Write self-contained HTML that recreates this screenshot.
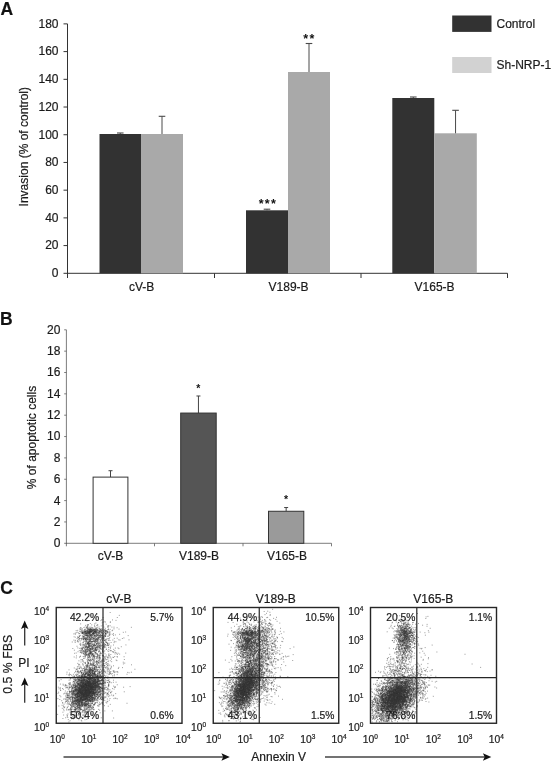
<!DOCTYPE html>
<html><head><meta charset="utf-8"><title>Figure</title>
<style>
html,body{margin:0;padding:0;background:#fff;}
body{width:552px;height:764px;overflow:hidden;font-family:"Liberation Sans",sans-serif;}
svg{display:block}
svg text{stroke:#1a1a1a;stroke-width:0.2px;paint-order:stroke}
</style></head><body>
<svg width="552" height="764" viewBox="0 0 552 764" font-family="Liberation Sans, sans-serif">
<defs><filter id="bl" x="-2%" y="-2%" width="104%" height="104%"><feGaussianBlur stdDeviation="0.3"/></filter></defs>
<rect width="552" height="764" fill="#ffffff"/>
<text x="0.5" y="14.9" font-size="17.5" text-anchor="start" font-weight="bold" fill="#111" >A</text>
<line x1="67.5" y1="23.89" x2="67.5" y2="273.8" stroke="#333" stroke-width="1"/>
<line x1="63.5" y1="273.3" x2="67.5" y2="273.3" stroke="#333" stroke-width="1"/>
<text x="58.5" y="277.1" font-size="12" text-anchor="end" font-weight="normal" fill="#1a1a1a" >0</text>
<line x1="63.5" y1="245.59" x2="67.5" y2="245.59" stroke="#333" stroke-width="1"/>
<text x="58.5" y="249.39000000000001" font-size="12" text-anchor="end" font-weight="normal" fill="#1a1a1a" >20</text>
<line x1="63.5" y1="217.88" x2="67.5" y2="217.88" stroke="#333" stroke-width="1"/>
<text x="58.5" y="221.68" font-size="12" text-anchor="end" font-weight="normal" fill="#1a1a1a" >40</text>
<line x1="63.5" y1="190.16" x2="67.5" y2="190.16" stroke="#333" stroke-width="1"/>
<text x="58.5" y="193.96" font-size="12" text-anchor="end" font-weight="normal" fill="#1a1a1a" >60</text>
<line x1="63.5" y1="162.45" x2="67.5" y2="162.45" stroke="#333" stroke-width="1"/>
<text x="58.5" y="166.25" font-size="12" text-anchor="end" font-weight="normal" fill="#1a1a1a" >80</text>
<line x1="63.5" y1="134.74" x2="67.5" y2="134.74" stroke="#333" stroke-width="1"/>
<text x="58.5" y="138.54000000000002" font-size="12" text-anchor="end" font-weight="normal" fill="#1a1a1a" >100</text>
<line x1="63.5" y1="107.03" x2="67.5" y2="107.03" stroke="#333" stroke-width="1"/>
<text x="58.5" y="110.83" font-size="12" text-anchor="end" font-weight="normal" fill="#1a1a1a" >120</text>
<line x1="63.5" y1="79.32" x2="67.5" y2="79.32" stroke="#333" stroke-width="1"/>
<text x="58.5" y="83.11999999999999" font-size="12" text-anchor="end" font-weight="normal" fill="#1a1a1a" >140</text>
<line x1="63.5" y1="51.6" x2="67.5" y2="51.6" stroke="#333" stroke-width="1"/>
<text x="58.5" y="55.4" font-size="12" text-anchor="end" font-weight="normal" fill="#1a1a1a" >160</text>
<line x1="63.5" y1="23.89" x2="67.5" y2="23.89" stroke="#333" stroke-width="1"/>
<text x="58.5" y="27.69" font-size="12" text-anchor="end" font-weight="normal" fill="#1a1a1a" >180</text>
<line x1="67.0" y1="273.3" x2="507.5" y2="273.3" stroke="#333" stroke-width="1"/>
<line x1="67.5" y1="273.3" x2="67.5" y2="278.0" stroke="#333" stroke-width="1"/>
<line x1="214.5" y1="273.3" x2="214.5" y2="278.0" stroke="#333" stroke-width="1"/>
<line x1="361" y1="273.3" x2="361" y2="278.0" stroke="#333" stroke-width="1"/>
<line x1="507.5" y1="273.3" x2="507.5" y2="278.0" stroke="#333" stroke-width="1"/>
<rect x="99.5" y="134" width="41.5" height="139.3" fill="#323232"/>
<line x1="120.25" y1="134" x2="120.25" y2="133" stroke="#4a4a4a" stroke-width="1"/>
<line x1="116.95" y1="133" x2="123.55" y2="133" stroke="#4a4a4a" stroke-width="1.1"/>
<rect x="141" y="134" width="42" height="139.3" fill="#a9a9a9"/>
<line x1="162.0" y1="134" x2="162.0" y2="116.3" stroke="#4a4a4a" stroke-width="1"/>
<line x1="158.7" y1="116.3" x2="165.3" y2="116.3" stroke="#4a4a4a" stroke-width="1.1"/>
<rect x="246" y="210.3" width="42" height="63.0" fill="#323232"/>
<line x1="267.0" y1="210.3" x2="267.0" y2="209.2" stroke="#4a4a4a" stroke-width="1"/>
<line x1="263.7" y1="209.2" x2="270.3" y2="209.2" stroke="#4a4a4a" stroke-width="1.1"/>
<rect x="288" y="72" width="42" height="201.3" fill="#a9a9a9"/>
<line x1="309.0" y1="72" x2="309.0" y2="43.5" stroke="#4a4a4a" stroke-width="1"/>
<line x1="305.7" y1="43.5" x2="312.3" y2="43.5" stroke="#4a4a4a" stroke-width="1.1"/>
<rect x="392.3" y="98" width="42.0" height="175.3" fill="#323232"/>
<line x1="413.3" y1="98" x2="413.3" y2="97" stroke="#4a4a4a" stroke-width="1"/>
<line x1="410.0" y1="97" x2="416.6" y2="97" stroke="#4a4a4a" stroke-width="1.1"/>
<rect x="434.3" y="133.3" width="42.5" height="140.0" fill="#a9a9a9"/>
<line x1="455.55" y1="133.3" x2="455.55" y2="110.3" stroke="#4a4a4a" stroke-width="1"/>
<line x1="452.25" y1="110.3" x2="458.85" y2="110.3" stroke="#4a4a4a" stroke-width="1.1"/>
<text x="141.6" y="291.4" font-size="12" text-anchor="middle" font-weight="normal" fill="#1a1a1a" >cV-B</text>
<text x="288.6" y="291.4" font-size="12" text-anchor="middle" font-weight="normal" fill="#1a1a1a" >V189-B</text>
<text x="434.6" y="291.4" font-size="12" text-anchor="middle" font-weight="normal" fill="#1a1a1a" >V165-B</text>
<text x="267.9" y="207.6" font-size="12.5" text-anchor="middle" font-weight="bold" fill="#111" letter-spacing="1.2" style="stroke:none">***</text>
<text x="309.5" y="42.7" font-size="12.5" text-anchor="middle" font-weight="bold" fill="#111" letter-spacing="1.4" style="stroke:none">**</text>
<rect x="452.2" y="15.5" width="39.3" height="16.4" fill="#323232"/>
<rect x="452.2" y="57" width="39.3" height="16" fill="#d2d2d2"/>
<text x="496.5" y="27.6" font-size="12" text-anchor="start" font-weight="normal" fill="#1a1a1a" >Control</text>
<text x="496.5" y="68.8" font-size="12" text-anchor="start" font-weight="normal" fill="#1a1a1a" >Sh-NRP-1</text>
<text transform="translate(27.6,146.7) rotate(-90)" font-size="12" text-anchor="middle" fill="#1a1a1a">Invasion (% of control)</text>
<text x="0" y="325" font-size="17.5" text-anchor="start" font-weight="bold" fill="#111" >B</text>
<line x1="66.4" y1="329.8" x2="66.4" y2="543.6999999999999" stroke="#5c5c5c" stroke-width="0.8"/>
<line x1="64.2" y1="543.3" x2="66.4" y2="543.3" stroke="#5c5c5c" stroke-width="0.8"/>
<text x="60.400000000000006" y="547.1999999999999" font-size="12" text-anchor="end" font-weight="normal" fill="#1a1a1a" >0</text>
<line x1="64.2" y1="521.95" x2="66.4" y2="521.95" stroke="#5c5c5c" stroke-width="0.8"/>
<text x="60.400000000000006" y="525.85" font-size="12" text-anchor="end" font-weight="normal" fill="#1a1a1a" >2</text>
<line x1="64.2" y1="500.6" x2="66.4" y2="500.6" stroke="#5c5c5c" stroke-width="0.8"/>
<text x="60.400000000000006" y="504.5" font-size="12" text-anchor="end" font-weight="normal" fill="#1a1a1a" >4</text>
<line x1="64.2" y1="479.25" x2="66.4" y2="479.25" stroke="#5c5c5c" stroke-width="0.8"/>
<text x="60.400000000000006" y="483.15" font-size="12" text-anchor="end" font-weight="normal" fill="#1a1a1a" >6</text>
<line x1="64.2" y1="457.9" x2="66.4" y2="457.9" stroke="#5c5c5c" stroke-width="0.8"/>
<text x="60.400000000000006" y="461.79999999999995" font-size="12" text-anchor="end" font-weight="normal" fill="#1a1a1a" >8</text>
<line x1="64.2" y1="436.55" x2="66.4" y2="436.55" stroke="#5c5c5c" stroke-width="0.8"/>
<text x="60.400000000000006" y="440.45" font-size="12" text-anchor="end" font-weight="normal" fill="#1a1a1a" >10</text>
<line x1="64.2" y1="415.2" x2="66.4" y2="415.2" stroke="#5c5c5c" stroke-width="0.8"/>
<text x="60.400000000000006" y="419.09999999999997" font-size="12" text-anchor="end" font-weight="normal" fill="#1a1a1a" >12</text>
<line x1="64.2" y1="393.85" x2="66.4" y2="393.85" stroke="#5c5c5c" stroke-width="0.8"/>
<text x="60.400000000000006" y="397.75" font-size="12" text-anchor="end" font-weight="normal" fill="#1a1a1a" >14</text>
<line x1="64.2" y1="372.5" x2="66.4" y2="372.5" stroke="#5c5c5c" stroke-width="0.8"/>
<text x="60.400000000000006" y="376.4" font-size="12" text-anchor="end" font-weight="normal" fill="#1a1a1a" >16</text>
<line x1="64.2" y1="351.15" x2="66.4" y2="351.15" stroke="#5c5c5c" stroke-width="0.8"/>
<text x="60.400000000000006" y="355.04999999999995" font-size="12" text-anchor="end" font-weight="normal" fill="#1a1a1a" >18</text>
<line x1="64.2" y1="329.8" x2="66.4" y2="329.8" stroke="#5c5c5c" stroke-width="0.8"/>
<text x="60.400000000000006" y="333.7" font-size="12" text-anchor="end" font-weight="normal" fill="#1a1a1a" >20</text>
<line x1="66.0" y1="543.3" x2="331.5" y2="543.3" stroke="#5c5c5c" stroke-width="0.8"/>
<line x1="66.4" y1="543.3" x2="66.4" y2="546.3" stroke="#5c5c5c" stroke-width="0.8"/>
<line x1="154.5" y1="543.3" x2="154.5" y2="546.3" stroke="#5c5c5c" stroke-width="0.8"/>
<line x1="243" y1="543.3" x2="243" y2="546.3" stroke="#5c5c5c" stroke-width="0.8"/>
<line x1="331.5" y1="543.3" x2="331.5" y2="546.3" stroke="#5c5c5c" stroke-width="0.8"/>
<line x1="110.5" y1="477.11" x2="110.5" y2="470.71" stroke="#444" stroke-width="1"/>
<line x1="108.5" y1="470.71" x2="112.5" y2="470.71" stroke="#444" stroke-width="1"/>
<rect x="93.1" y="477.11" width="34.8" height="66.19" fill="#ffffff" stroke="#333" stroke-width="1"/>
<line x1="198.45" y1="413.06" x2="198.45" y2="395.99" stroke="#444" stroke-width="1"/>
<line x1="196.45" y1="395.99" x2="200.45" y2="395.99" stroke="#444" stroke-width="1"/>
<rect x="180.7" y="413.06" width="35.5" height="130.24" fill="#555555" stroke="#333" stroke-width="1"/>
<line x1="286.15" y1="511.27" x2="286.15" y2="507.54" stroke="#444" stroke-width="1"/>
<line x1="284.15" y1="507.54" x2="288.15" y2="507.54" stroke="#444" stroke-width="1"/>
<rect x="268.5" y="511.27" width="35.3" height="32.03" fill="#9a9a9a" stroke="#333" stroke-width="1"/>
<text x="110.5" y="559.6" font-size="12" text-anchor="middle" font-weight="normal" fill="#1a1a1a" >cV-B</text>
<text x="199" y="559.6" font-size="12" text-anchor="middle" font-weight="normal" fill="#1a1a1a" >V189-B</text>
<text x="287" y="559.6" font-size="12" text-anchor="middle" font-weight="normal" fill="#1a1a1a" >V165-B</text>
<text x="198.3" y="392.3" font-size="10.5" text-anchor="middle" font-weight="bold" fill="#111" style="stroke:none">*</text>
<text x="286" y="503.3" font-size="10.5" text-anchor="middle" font-weight="bold" fill="#111" style="stroke:none">*</text>
<text transform="translate(36,437.5) rotate(-90)" font-size="12" text-anchor="middle" fill="#1a1a1a">% of apoptotic cells</text>
<text x="0.2" y="594" font-size="17.5" text-anchor="start" font-weight="bold" fill="#111" >C</text>
<path d="M83.8 695.3h1M84.0 688.2h1M78.7 691.6h1M94.2 689.5h1M93.6 688.3h1M88.8 690.1h1M73.1 703.5h1M89.6 692.4h1M72.9 681.4h1M79.0 689.3h1M88.1 688.5h1M89.7 682.6h1M88.1 692.2h1M80.7 707.1h1M90.0 698.1h1M81.0 686.0h1M83.1 690.4h1M90.6 689.8h1M82.4 683.5h1M81.8 702.3h1M79.6 695.1h1M89.0 675.7h1M86.1 701.0h1M70.4 694.8h1M84.9 683.4h1M89.5 687.6h1M74.6 702.5h1M90.8 695.6h1M96.7 687.7h1M86.7 678.5h1M90.4 682.5h1M82.3 680.9h1M78.4 689.1h1M95.5 667.9h1M74.7 697.5h1M96.7 689.6h1M71.3 675.6h1M88.5 682.4h1M77.2 702.5h1M94.1 687.2h1M87.6 692.8h1M97.9 689.3h1M89.7 692.7h1M73.8 706.8h1M93.0 691.0h1M70.7 691.9h1M92.2 671.4h1M84.4 699.4h1M75.8 708.6h1M89.9 686.7h1M88.2 694.3h1M86.7 699.3h1M80.7 688.9h1M93.7 686.4h1M79.1 701.3h1M96.9 680.8h1M75.3 694.0h1M84.6 688.0h1M96.4 676.0h1M95.3 674.5h1M79.8 698.3h1M94.3 693.1h1M88.4 689.9h1M86.9 694.3h1M84.4 693.0h1M90.1 687.9h1M91.6 692.0h1M101.0 685.3h1M82.5 688.4h1M85.7 697.9h1M83.2 694.5h1M99.7 661.3h1M77.2 696.3h1M88.8 690.6h1M82.5 697.2h1M87.9 684.5h1M104.2 684.0h1M81.5 691.2h1M84.0 690.3h1M65.0 696.0h1M93.4 676.3h1M85.2 698.4h1M92.3 699.5h1M72.8 693.3h1M83.2 696.6h1M94.0 663.1h1M94.0 673.6h1M90.9 674.7h1M87.1 699.5h1M84.6 692.2h1M91.8 688.2h1M85.1 703.4h1M93.7 683.6h1M106.6 670.0h1M92.7 684.3h1M86.8 695.5h1M87.4 694.6h1M74.1 682.8h1M90.4 679.5h1M77.9 681.3h1M95.4 691.7h1M96.9 676.5h1M85.8 680.3h1M91.6 700.7h1M79.0 706.6h1M93.3 684.8h1M70.8 709.3h1M85.0 685.2h1M88.8 692.0h1M97.1 675.7h1M94.4 698.5h1M96.8 683.1h1M80.1 701.4h1M86.6 690.6h1M96.6 682.5h1M68.3 695.2h1M71.7 703.9h1M88.2 683.6h1M85.7 697.1h1M86.3 701.0h1M85.3 699.1h1M97.1 698.2h1M80.6 700.0h1M71.5 687.7h1M70.8 706.4h1M76.4 694.5h1M84.3 690.5h1M81.3 694.2h1M99.4 683.7h1M89.8 696.6h1M84.2 680.0h1M81.5 701.2h1M73.2 691.0h1M93.4 693.0h1M85.8 696.8h1M87.0 679.3h1M73.9 690.4h1M92.8 681.7h1M78.9 686.8h1M74.1 694.7h1M76.8 697.5h1M67.8 701.6h1M80.9 675.8h1M91.3 685.0h1M68.8 690.8h1M88.0 685.0h1M91.7 693.5h1M90.8 690.3h1M95.9 690.7h1M89.2 670.6h1M92.6 697.8h1M83.5 687.1h1M100.5 667.8h1M89.3 708.9h1M78.7 699.3h1M100.1 682.0h1M90.0 695.6h1M78.9 692.6h1M88.0 695.9h1M85.5 688.5h1M78.0 690.7h1M92.5 687.6h1M79.3 686.0h1M106.0 689.8h1M90.6 665.5h1M90.5 691.8h1M98.5 687.4h1M85.2 694.7h1M71.0 706.0h1M88.2 682.8h1M95.8 700.5h1M75.1 689.5h1M88.0 690.5h1M82.7 683.2h1M101.9 691.0h1M76.7 683.0h1M98.7 692.1h1M99.6 690.1h1M79.1 695.5h1M69.3 691.7h1M85.3 694.7h1M80.2 691.6h1M89.2 691.5h1M90.6 689.4h1M83.3 697.9h1M86.1 682.8h1M81.0 692.3h1M84.9 691.7h1M85.7 691.5h1M84.7 679.8h1M89.0 697.4h1M89.1 686.8h1M89.1 680.1h1M71.3 697.6h1M78.7 699.8h1M77.5 671.6h1M77.8 707.3h1M82.8 679.7h1M79.9 697.3h1M89.5 689.7h1M97.0 690.5h1M85.6 695.2h1M98.3 692.1h1M93.5 677.0h1M84.6 696.8h1M83.5 700.2h1M90.3 695.5h1M84.1 712.5h1M95.2 683.6h1M86.4 711.8h1M83.1 698.7h1M93.2 686.4h1M76.9 695.9h1M88.5 698.3h1M91.7 687.3h1M92.2 691.4h1M87.3 689.7h1M83.9 696.8h1M77.7 688.6h1M85.8 677.5h1M82.4 674.5h1M80.6 697.4h1M90.1 687.4h1M84.0 678.8h1M99.6 687.6h1M94.1 678.4h1M84.3 675.2h1M91.7 695.1h1M71.3 696.6h1M90.5 672.6h1M71.9 687.7h1M81.0 680.4h1M86.0 692.0h1M90.6 693.6h1M97.2 694.3h1M75.8 690.6h1M77.7 684.8h1M85.1 690.3h1M89.5 674.6h1M76.3 694.4h1M84.2 688.1h1M85.3 683.8h1M91.1 690.4h1M85.1 684.6h1M84.4 667.5h1M78.3 694.0h1M74.3 697.3h1M86.9 677.7h1M83.8 688.3h1M89.2 693.5h1M85.5 682.9h1M84.7 690.0h1M91.3 689.8h1M80.3 681.1h1M82.9 685.1h1M77.3 693.1h1M82.0 692.7h1M89.7 684.5h1M103.4 678.6h1M94.1 686.9h1M94.2 665.6h1M80.0 694.9h1M90.3 707.7h1M88.2 699.7h1M91.6 695.2h1M89.6 686.8h1M89.6 678.9h1M94.7 676.9h1M87.6 707.1h1M84.1 691.0h1M94.6 685.9h1M79.6 695.2h1M90.2 693.9h1M79.9 707.8h1M98.4 684.0h1M87.8 685.3h1M96.5 678.7h1M90.9 683.4h1M80.5 698.7h1M95.9 685.0h1M80.6 699.4h1M85.4 692.8h1M97.3 694.0h1M81.8 711.4h1M85.8 696.7h1M80.8 692.0h1M72.5 711.7h1M96.1 674.6h1M74.3 681.8h1M94.7 681.7h1M85.3 687.6h1M84.8 681.2h1M85.9 677.7h1M85.2 692.9h1M89.3 686.3h1M78.9 694.7h1M82.1 705.1h1M91.6 686.2h1M82.2 685.8h1M78.6 690.5h1M88.0 693.3h1M90.1 705.8h1M80.4 692.7h1M107.0 663.7h1M81.8 693.4h1M86.9 692.9h1M83.9 694.0h1M86.2 696.4h1M71.4 689.5h1M85.7 681.2h1M77.8 699.2h1M80.8 697.8h1M91.4 689.8h1M89.6 687.2h1M75.0 695.0h1M89.2 683.8h1M85.0 696.8h1M79.1 698.7h1M99.9 678.3h1M86.9 688.2h1M97.5 687.0h1M92.6 680.8h1M85.6 690.0h1M72.3 708.9h1M92.6 671.7h1M91.4 686.1h1M89.2 691.5h1M74.4 693.8h1M97.1 679.5h1M78.0 682.2h1M76.5 697.4h1M98.6 687.4h1M87.6 708.1h1M81.8 686.2h1M89.8 692.7h1M78.0 683.8h1M88.0 691.0h1M75.8 693.1h1M81.6 695.9h1M84.9 689.7h1M83.1 700.3h1M96.3 681.7h1M92.2 680.4h1M86.3 696.1h1M97.3 681.1h1M85.2 691.9h1M74.4 695.7h1M80.6 695.7h1M77.2 677.4h1M86.0 692.1h1M81.6 699.6h1M83.7 685.9h1M89.4 674.9h1M80.6 692.3h1M92.2 685.5h1M88.1 683.3h1M88.0 703.1h1M80.5 712.7h1M80.9 692.5h1M87.1 698.1h1M76.3 676.7h1M90.4 694.5h1M90.5 710.1h1M87.3 691.4h1M92.8 689.7h1M98.4 673.3h1M82.9 662.0h1M91.9 683.8h1M92.8 704.9h1M85.7 687.9h1M82.0 684.7h1M81.0 697.8h1M86.0 690.4h1M84.4 698.4h1M89.5 687.0h1M90.8 686.2h1M77.0 706.7h1M89.3 680.1h1M93.9 688.9h1M73.9 709.5h1M88.3 696.4h1M87.3 688.0h1M74.0 704.0h1M86.0 687.4h1M88.4 689.4h1M90.9 684.3h1M85.5 671.9h1M82.5 697.3h1M95.9 681.9h1M84.8 703.9h1M83.3 697.5h1M98.5 684.1h1M95.1 679.4h1M87.3 688.6h1M86.6 699.2h1M103.9 675.4h1M81.4 696.4h1M77.7 698.2h1M90.1 685.5h1M89.8 674.8h1M91.5 674.0h1M80.5 687.8h1M82.7 698.8h1M86.4 686.3h1M89.9 701.5h1M85.8 693.1h1M95.2 687.7h1M76.0 716.0h1M102.5 664.9h1M85.5 693.7h1M93.1 692.1h1M83.7 682.0h1M86.5 698.4h1M77.5 685.3h1M85.6 673.6h1M83.8 687.2h1M89.2 682.3h1M79.0 689.9h1M85.4 684.5h1M85.8 696.3h1M94.8 700.1h1M79.8 689.3h1M66.9 715.4h1M80.2 692.4h1M89.7 676.5h1M89.3 688.0h1M71.9 699.3h1M94.8 669.6h1M91.9 688.8h1M89.4 692.0h1M95.7 683.2h1M92.4 683.3h1M91.3 680.4h1M84.9 705.2h1M89.1 687.0h1M77.0 687.5h1M87.2 697.3h1M89.0 692.9h1M85.4 701.7h1M82.8 686.8h1M92.5 687.2h1M83.6 686.1h1M83.8 696.3h1M88.4 678.4h1M89.0 689.9h1M78.1 700.3h1M83.6 688.2h1M91.8 698.3h1M80.5 696.3h1M79.1 713.0h1M82.0 702.0h1M80.8 699.3h1M102.6 660.1h1M82.4 695.9h1M85.0 684.6h1M102.1 682.7h1M73.3 703.4h1M72.7 706.2h1M81.4 693.4h1M95.3 686.3h1M75.2 680.7h1M94.7 691.9h1M79.6 700.4h1M89.5 693.7h1M68.6 695.8h1M92.6 692.9h1M92.4 665.8h1M87.0 693.6h1M105.1 672.4h1M83.2 691.5h1M92.5 682.9h1M94.5 679.0h1M87.8 684.5h1M87.0 683.5h1M73.6 705.3h1M88.1 684.1h1M87.3 697.7h1M78.3 692.7h1M89.8 692.5h1M83.2 673.3h1M95.2 688.2h1M85.8 687.6h1M87.8 685.4h1M78.0 687.5h1M81.2 687.0h1M76.9 699.7h1M75.8 700.5h1M78.0 696.8h1M96.2 686.6h1M80.2 693.1h1M86.9 674.7h1M81.1 693.7h1M82.2 692.4h1M91.3 693.8h1M92.6 691.6h1M83.6 690.9h1M83.7 688.3h1M84.4 676.0h1M83.2 691.0h1M78.3 693.4h1M89.7 686.7h1M101.5 660.1h1M84.2 675.2h1M93.2 709.0h1M66.7 700.4h1M89.7 685.5h1M89.9 668.8h1M92.2 690.0h1M85.9 684.9h1M90.6 683.5h1M87.4 684.8h1M68.7 698.1h1M87.3 695.7h1M79.1 693.0h1M90.4 688.9h1M95.2 702.4h1M78.8 677.0h1M92.3 699.8h1M92.8 693.5h1M81.0 686.2h1M92.5 678.9h1M72.0 688.2h1M104.7 697.1h1M80.5 686.3h1M87.5 682.8h1M95.7 684.5h1M77.5 705.2h1M81.3 694.1h1M85.7 687.4h1M88.2 682.9h1M71.7 678.0h1M76.1 688.2h1M85.6 690.6h1M90.0 689.0h1M79.7 686.9h1M69.6 696.4h1M89.4 692.7h1M84.8 689.0h1M92.9 686.6h1M91.4 692.2h1M87.4 700.3h1M81.4 689.1h1M79.6 686.2h1M97.6 699.2h1M85.9 694.8h1M94.7 692.5h1M94.9 674.8h1M80.9 696.2h1M96.7 685.5h1M79.2 690.2h1M80.7 685.1h1M97.2 679.1h1M85.9 708.4h1M94.8 688.5h1M81.1 695.8h1M98.1 689.3h1M95.3 686.1h1M89.7 686.4h1M89.0 699.5h1M74.9 694.8h1M87.6 684.2h1M83.4 697.9h1M101.0 687.9h1M88.2 675.6h1M100.4 683.5h1M85.5 680.6h1M85.3 680.9h1M86.3 693.7h1M86.0 692.3h1M79.3 705.4h1M80.8 676.9h1M84.3 684.2h1M78.1 690.7h1M88.0 678.8h1M84.7 702.7h1M90.9 686.2h1M86.7 688.5h1M85.4 696.4h1M85.0 669.8h1M85.6 682.5h1M90.7 682.4h1M86.9 708.0h1M77.8 684.3h1M75.0 674.8h1M71.5 700.1h1M80.9 676.5h1M74.5 700.8h1M79.9 689.8h1M88.3 700.3h1M100.5 691.6h1M86.8 691.0h1M99.4 695.5h1M83.4 695.1h1M87.9 689.4h1M81.9 680.6h1M81.7 678.8h1M95.1 690.0h1M76.6 706.4h1M92.5 670.4h1M99.7 690.1h1M101.4 671.8h1M89.8 691.6h1M87.3 690.7h1M93.8 673.3h1M76.3 682.7h1M81.5 686.9h1M88.5 690.9h1M86.0 684.1h1M82.4 699.8h1M91.6 688.0h1M83.3 704.4h1M81.2 697.7h1M94.5 683.4h1M92.0 677.4h1M93.4 687.9h1M73.7 701.6h1M79.0 704.2h1M80.6 691.1h1M87.9 686.1h1M87.7 684.3h1M90.9 687.5h1M87.4 665.8h1M94.6 686.0h1M72.2 697.4h1M89.3 697.4h1M77.5 707.2h1M84.5 711.0h1M84.6 696.3h1M83.0 681.9h1M94.1 693.6h1M97.4 691.6h1M81.4 678.0h1M80.8 686.7h1M79.6 698.0h1M88.2 686.5h1M87.1 688.1h1M87.4 695.6h1M93.0 680.6h1M74.3 707.8h1M86.6 699.0h1M73.3 693.3h1M86.0 677.6h1M81.8 698.1h1M93.9 699.6h1M79.2 681.3h1M89.7 696.1h1M87.2 678.2h1M91.7 693.8h1M90.0 683.8h1M88.1 695.6h1M81.5 676.4h1M88.2 692.9h1M85.9 697.5h1M81.3 691.5h1M83.4 696.0h1M97.9 681.9h1M101.4 695.4h1M91.8 692.1h1M99.2 681.9h1M84.9 681.4h1M89.3 699.7h1M89.8 691.6h1M84.2 692.2h1M74.9 704.2h1M82.6 682.1h1M80.0 685.8h1M92.3 695.8h1M75.4 702.9h1M92.5 681.8h1M74.5 689.2h1M80.9 695.3h1M83.0 674.0h1M87.5 676.1h1M92.6 676.3h1M80.5 685.3h1M81.6 703.1h1M92.2 692.0h1M88.2 675.6h1M81.8 687.2h1M78.3 698.0h1M80.1 686.7h1M77.8 676.3h1M90.3 699.1h1M87.1 681.0h1M65.2 701.5h1M95.0 688.0h1M92.8 699.2h1M94.3 682.0h1M93.7 692.7h1M74.1 692.3h1M74.9 694.4h1M90.1 678.7h1M70.1 708.7h1M88.6 701.1h1M75.7 704.0h1M101.5 699.4h1M84.2 693.1h1M84.6 699.1h1M93.6 686.9h1M75.4 701.4h1M82.2 697.1h1M87.7 702.9h1M94.4 681.9h1M88.4 703.7h1M81.7 695.7h1M94.8 696.3h1M89.7 676.8h1M76.2 696.8h1M88.7 710.3h1M79.2 702.9h1M91.6 672.9h1M79.5 694.5h1M82.0 690.5h1M89.3 681.4h1M89.3 682.8h1M81.6 696.6h1M81.4 694.6h1M97.9 684.3h1M84.6 696.8h1M83.0 700.6h1M76.0 700.0h1M81.9 685.1h1M99.2 676.2h1M99.1 689.1h1M96.8 676.3h1M94.9 698.0h1M84.9 689.3h1M104.4 682.4h1M82.5 686.2h1M89.1 691.2h1M87.1 704.0h1M83.3 695.3h1M96.8 676.0h1M93.6 701.8h1M75.5 685.7h1M77.9 678.1h1M89.2 672.5h1M89.5 700.5h1M73.5 693.3h1M71.2 703.8h1M80.1 690.5h1M86.2 694.4h1M83.1 691.4h1M81.6 693.0h1M76.8 694.9h1M71.1 693.0h1M100.3 683.6h1M76.2 696.9h1M78.4 679.5h1M80.2 699.0h1M88.7 687.7h1M78.7 684.3h1M96.0 687.1h1M78.5 675.5h1M75.3 716.2h1M77.0 693.6h1M87.3 687.9h1M83.6 679.3h1M77.8 708.3h1M80.0 700.0h1M72.9 694.0h1M87.7 697.9h1M77.2 699.3h1M88.7 682.3h1M89.4 680.6h1M79.7 692.8h1M65.1 699.2h1M78.1 681.3h1M82.5 698.1h1M82.7 702.3h1M76.9 683.1h1M97.5 687.6h1M92.9 679.4h1M91.9 689.2h1M90.7 687.8h1M94.9 680.0h1M78.4 681.0h1M94.6 679.4h1M77.8 685.9h1M82.4 680.8h1M83.5 685.7h1M81.6 683.9h1M86.0 685.9h1M86.6 691.7h1M88.3 670.1h1M81.7 685.2h1M91.6 673.7h1M80.3 690.2h1M83.2 699.7h1M82.4 699.9h1M74.6 680.0h1M95.0 689.2h1M89.5 689.2h1M89.4 677.8h1M93.0 681.9h1M93.2 687.1h1M70.7 686.4h1M94.3 684.6h1M82.7 693.5h1M82.5 686.9h1M86.5 690.8h1M97.3 684.7h1M100.0 698.4h1M98.8 692.7h1M86.7 690.7h1M84.7 684.3h1M85.2 684.8h1M98.2 688.5h1M82.4 675.3h1M85.3 686.7h1M77.5 684.4h1M68.6 703.2h1M85.3 712.2h1M85.5 688.9h1M96.7 685.8h1M87.0 686.2h1M81.1 705.0h1M93.4 700.9h1M83.1 691.6h1M79.1 701.5h1M75.2 700.0h1M94.1 698.0h1M78.6 702.8h1M80.3 686.2h1M75.7 704.8h1M98.3 678.8h1M80.0 689.9h1M104.8 689.2h1M81.6 676.7h1M80.6 702.6h1M99.9 680.8h1M80.5 688.2h1M71.4 704.8h1M77.5 703.1h1M72.8 685.5h1M87.9 682.4h1M91.7 687.2h1M76.8 699.7h1M92.1 670.6h1M99.6 687.4h1M91.5 671.3h1M80.3 689.7h1M93.9 673.6h1M79.0 676.0h1M83.9 693.8h1M72.9 691.2h1M89.6 701.6h1M90.8 684.9h1M76.8 686.4h1M80.7 693.7h1M85.4 704.4h1M87.9 679.8h1M97.5 692.3h1M86.5 683.5h1M71.5 688.2h1M92.7 679.8h1M75.7 696.6h1M87.6 694.3h1M90.7 699.6h1M79.4 701.5h1M78.2 699.6h1M87.1 691.4h1M93.1 686.3h1M94.2 693.3h1M86.8 684.7h1M80.0 688.3h1M84.2 690.5h1M108.4 684.4h1M91.6 679.8h1M80.4 689.9h1M87.2 680.5h1M98.0 679.2h1M93.9 666.1h1M85.7 692.4h1M87.2 694.4h1M87.9 690.3h1M71.4 691.0h1M67.9 704.1h1M88.1 687.2h1M79.5 688.1h1M99.8 697.9h1M85.3 701.2h1M73.7 679.4h1M82.1 684.3h1M81.5 693.7h1M108.7 673.1h1M86.1 692.2h1M85.5 698.1h1M99.2 672.8h1M87.0 687.1h1M88.5 675.6h1M72.4 676.8h1M89.7 689.7h1M86.3 669.6h1M82.9 685.0h1M75.0 687.5h1M91.1 692.0h1M85.6 694.5h1M81.2 692.9h1M86.1 694.6h1M85.2 689.0h1M84.7 685.0h1M102.7 686.1h1M89.0 707.9h1M96.4 671.5h1M91.0 694.6h1M100.1 694.2h1M91.6 677.1h1M79.1 695.5h1M89.6 679.4h1M82.8 688.0h1M86.2 692.6h1M83.6 680.5h1M95.2 699.0h1M84.9 699.1h1M89.1 694.0h1M89.4 681.7h1M90.1 696.5h1M78.9 710.1h1M101.6 697.8h1M100.9 688.9h1M83.2 686.1h1M79.6 694.0h1M85.5 695.8h1M70.4 717.2h1M103.1 681.3h1M90.9 691.5h1M87.8 687.2h1M84.8 683.4h1M87.1 689.1h1M88.2 681.5h1M86.1 690.3h1M90.3 678.7h1M88.9 696.8h1M90.3 684.6h1M82.0 689.8h1M91.3 700.5h1M84.5 685.1h1M88.6 690.3h1M78.8 687.1h1M85.0 696.1h1M76.7 685.8h1M89.5 677.7h1M86.6 692.6h1M84.9 681.7h1M85.3 687.4h1M88.3 681.6h1M94.0 671.7h1M84.4 690.7h1M93.1 681.2h1M89.9 683.1h1M91.4 702.1h1M82.7 695.3h1M78.7 701.7h1M95.0 685.8h1M77.1 697.7h1M94.5 695.0h1M91.9 671.4h1M80.6 704.6h1M76.4 704.2h1M100.1 689.5h1M94.3 683.0h1M76.4 693.7h1M84.2 690.3h1M91.0 686.2h1M87.2 692.9h1M85.7 705.7h1M89.1 689.1h1M84.2 685.4h1M96.0 686.3h1M77.6 689.2h1M84.7 686.7h1M94.0 676.1h1M89.5 689.4h1M76.8 694.8h1M85.0 694.6h1M82.3 694.3h1M73.1 687.0h1M91.7 696.0h1M85.7 684.9h1M94.0 668.1h1M79.7 698.7h1M90.7 678.8h1M71.4 709.4h1M86.9 681.8h1M86.2 697.5h1M66.1 709.1h1M91.4 669.5h1M91.6 672.0h1M94.4 689.2h1M102.9 676.4h1M85.8 698.9h1M80.9 686.4h1M82.9 690.8h1M77.5 698.2h1M89.9 688.6h1M98.7 680.9h1M95.7 680.5h1M91.5 670.7h1M87.3 687.8h1M82.0 686.6h1M83.1 685.2h1M69.1 693.1h1M81.6 687.6h1M77.7 692.8h1M91.7 684.9h1M82.0 703.4h1M93.2 694.2h1M94.5 682.9h1M84.8 700.0h1M81.5 691.0h1M88.6 691.8h1M83.6 699.4h1M84.4 696.8h1M93.9 691.6h1M91.3 677.4h1M75.8 689.6h1M89.4 701.0h1M76.5 697.2h1M79.3 686.9h1M83.6 696.9h1M87.4 699.3h1M78.3 701.2h1M92.8 687.1h1M89.4 683.4h1M77.5 690.6h1M80.9 717.0h1M82.1 705.9h1M87.3 691.9h1M91.4 680.6h1M92.7 689.8h1M74.2 700.8h1M89.9 691.8h1M97.8 680.6h1M89.6 694.5h1M78.9 703.6h1M74.7 684.3h1M89.7 678.8h1M84.9 676.4h1M86.3 680.1h1M88.3 675.7h1M89.2 686.1h1M86.2 689.2h1M86.7 678.3h1M66.3 699.8h1M78.6 689.6h1M89.0 671.5h1M79.9 687.6h1M77.7 696.7h1M84.7 683.5h1M78.3 700.5h1M80.7 697.4h1M89.2 672.2h1M77.5 694.1h1M88.3 695.4h1M91.8 695.8h1M82.9 689.6h1M91.6 683.5h1M93.8 672.5h1M90.7 686.1h1M70.8 705.7h1M88.1 689.0h1M77.6 690.0h1M97.2 677.3h1M59.4 695.6h1M76.6 693.3h1M82.8 683.7h1M79.4 702.1h1M74.8 712.0h1M81.6 682.7h1M91.7 691.9h1M77.8 700.3h1M71.8 689.0h1M94.3 683.6h1M75.9 699.2h1M92.7 686.4h1M72.0 693.8h1M88.9 695.0h1M99.8 681.0h1M82.1 691.5h1M94.9 677.5h1M95.7 661.7h1M91.8 681.3h1M89.2 694.2h1M76.8 693.7h1M87.6 694.1h1M78.7 685.0h1M71.1 718.8h1M84.3 688.8h1M74.4 703.5h1M81.7 704.2h1M92.2 687.0h1M91.3 677.8h1M83.3 686.3h1M76.1 694.9h1M84.6 702.8h1M60.3 696.7h1M78.8 689.5h1M89.0 691.9h1M86.0 685.9h1M89.5 691.2h1M71.7 694.6h1M75.3 685.0h1M86.9 690.0h1M86.6 682.1h1M84.2 683.0h1M88.7 694.4h1M99.1 694.3h1M79.6 689.1h1M78.6 696.1h1M100.8 688.7h1M69.0 687.5h1M75.9 699.2h1M85.8 692.6h1M99.3 676.3h1M79.3 709.9h1M88.4 682.1h1M70.3 684.6h1M67.2 699.7h1M86.1 698.3h1M84.7 684.6h1M80.1 709.0h1M72.3 698.0h1M85.9 695.2h1M82.7 695.8h1M91.9 685.7h1M82.3 690.1h1M78.4 691.8h1M83.5 692.9h1M95.9 696.2h1M82.4 696.8h1M88.0 695.4h1M85.9 692.2h1M82.2 685.1h1M92.4 697.8h1M90.8 691.3h1M87.8 685.2h1M72.2 702.3h1M87.3 684.5h1M78.4 704.5h1M72.0 711.7h1M90.6 707.8h1M80.3 692.5h1M81.9 693.2h1M84.2 684.4h1M93.9 679.3h1M81.9 696.6h1M81.7 688.3h1M88.5 685.5h1M76.3 693.8h1M84.1 705.3h1M77.4 702.3h1M79.8 689.9h1M83.3 693.5h1M92.3 701.7h1M80.9 703.7h1M93.3 693.2h1M80.0 700.5h1M84.9 693.4h1M83.7 696.7h1M94.2 695.5h1M84.2 699.2h1M96.8 676.6h1M96.9 673.1h1M89.9 693.0h1M97.0 686.9h1M82.1 685.0h1M76.2 701.2h1M83.9 684.8h1M89.8 681.5h1M82.4 687.7h1M98.3 696.3h1M84.5 677.2h1M87.9 689.6h1M88.4 693.5h1M83.3 699.1h1M92.1 688.7h1M82.7 687.4h1M91.0 678.1h1M84.5 684.2h1M75.2 700.3h1M85.6 690.4h1M92.4 674.0h1M85.2 692.7h1M92.1 677.7h1M91.2 689.2h1M96.1 694.7h1M89.9 706.3h1M85.7 686.4h1M83.2 683.3h1M85.5 674.1h1M85.1 693.9h1M93.3 683.4h1M96.3 679.3h1M84.7 674.5h1M80.0 686.1h1M96.8 689.0h1M77.6 698.5h1M89.3 686.3h1M85.9 687.4h1M81.7 677.2h1M85.1 701.0h1M96.4 682.5h1M80.2 691.0h1M92.4 689.7h1M81.4 695.1h1M84.2 695.0h1M82.7 679.2h1M86.2 696.1h1M77.5 693.1h1M92.3 683.7h1M80.9 709.2h1M91.9 695.5h1M78.7 707.0h1M73.5 691.7h1M91.2 698.4h1M78.9 687.9h1M87.2 673.3h1M90.5 692.3h1M82.4 696.1h1M91.5 689.8h1M89.6 700.6h1M82.2 693.1h1M81.9 700.4h1M82.7 695.4h1M86.8 690.1h1M98.4 683.1h1M96.2 691.7h1M95.5 683.9h1M92.6 692.9h1M81.2 694.4h1M84.8 690.2h1M95.3 679.4h1M73.4 681.7h1M82.4 686.3h1M85.9 694.6h1M98.7 686.2h1M89.1 682.3h1M90.0 699.1h1M95.6 669.1h1M92.3 699.8h1M91.8 674.8h1M83.5 695.9h1M88.8 681.8h1M79.2 701.1h1M76.0 706.6h1M85.9 692.4h1M76.0 689.9h1M90.8 675.5h1M100.9 671.1h1M76.8 694.7h1M89.3 694.3h1M83.0 689.6h1M84.0 686.1h1M66.9 707.1h1M87.6 690.4h1M81.2 694.3h1M85.7 689.4h1M93.8 671.9h1M87.6 680.4h1M83.4 703.4h1M77.8 693.1h1M81.4 699.9h1M78.6 679.7h1M89.5 685.3h1M83.4 700.0h1M79.3 690.1h1M86.8 692.9h1M82.0 700.3h1M102.1 678.6h1M99.4 666.1h1M96.0 682.2h1M86.8 686.7h1M81.1 681.8h1M82.9 702.0h1M94.1 683.1h1M81.9 686.1h1M77.0 709.0h1M90.6 688.6h1M82.2 683.4h1M95.4 691.7h1M78.8 701.5h1M77.7 699.2h1M78.7 690.0h1M89.4 691.8h1M93.1 679.5h1M97.3 695.4h1M85.7 693.8h1M80.1 691.5h1M76.1 695.4h1M87.2 700.3h1M92.7 693.3h1M83.1 689.5h1M83.3 693.0h1M71.7 703.2h1M74.3 691.4h1M85.9 685.7h1M97.9 683.3h1M97.2 694.0h1M82.1 695.1h1M95.2 682.6h1M86.4 685.1h1M86.2 686.9h1M86.4 697.9h1M95.9 686.1h1M87.2 696.3h1M83.6 682.4h1M93.9 678.4h1M92.5 678.8h1M99.1 674.9h1M91.9 699.2h1M78.7 705.6h1M79.7 678.5h1M91.0 693.2h1M84.3 670.1h1M85.4 687.7h1M83.0 689.0h1M72.7 691.8h1M98.9 696.2h1M83.1 685.5h1M88.6 697.3h1M91.0 677.9h1M86.9 690.6h1M96.2 694.7h1M89.6 698.1h1M82.9 704.0h1M82.6 694.8h1M92.4 679.2h1M80.6 678.1h1M87.0 689.0h1M83.4 695.2h1M70.3 697.4h1M86.4 687.5h1M91.5 701.5h1M82.5 683.9h1M81.3 692.9h1M90.0 680.9h1M93.0 678.0h1M91.8 690.5h1M89.1 706.0h1M83.8 689.6h1M89.2 695.4h1M76.0 697.0h1M80.3 697.8h1M95.7 685.5h1M85.0 691.9h1M64.2 706.9h1M89.8 689.3h1M82.9 685.4h1M84.4 700.6h1M85.0 701.4h1M67.0 695.4h1M87.7 688.9h1M73.6 690.5h1M94.9 675.0h1M78.5 684.6h1M81.7 697.2h1M90.1 671.3h1M96.4 679.9h1M81.5 705.7h1M85.2 680.1h1M81.1 686.3h1M78.4 690.9h1M92.2 689.7h1M75.7 717.7h1M78.5 694.5h1M86.0 696.1h1M83.4 694.9h1M101.1 683.3h1M77.9 696.6h1M79.9 689.8h1M87.1 692.1h1M83.7 698.0h1M84.3 680.0h1M92.2 683.9h1M94.6 680.3h1M89.9 690.5h1M66.1 687.4h1M77.6 705.5h1M72.0 704.2h1M93.7 690.2h1M90.7 683.5h1M85.7 691.9h1M88.8 694.3h1M84.2 685.0h1M81.6 695.4h1M73.6 685.7h1M82.7 686.9h1M83.8 669.2h1M83.3 689.2h1M91.4 671.0h1M83.5 695.0h1M89.3 698.0h1M93.5 677.6h1M90.4 685.0h1M79.9 705.4h1M81.2 685.3h1M82.8 684.5h1M93.1 689.5h1M96.0 688.4h1M81.3 700.8h1M81.0 688.6h1M84.5 690.9h1M94.5 680.8h1M88.3 688.5h1M76.5 685.5h1M84.1 694.1h1M88.1 692.8h1M86.1 686.1h1M88.9 680.2h1M75.9 692.1h1M75.3 690.9h1M80.3 688.1h1M85.4 683.6h1M82.7 677.5h1M86.8 682.2h1M88.7 665.3h1M79.9 694.9h1M67.9 695.8h1M86.4 690.5h1M74.8 697.3h1M86.8 681.5h1M91.2 686.9h1M85.9 686.2h1M89.8 688.8h1M94.1 689.6h1M81.2 690.4h1M92.5 683.7h1M88.6 692.9h1M84.4 671.5h1M86.7 691.3h1M86.7 683.3h1M94.6 684.5h1M81.2 686.3h1M88.4 679.7h1M78.4 710.1h1M95.4 694.0h1M95.8 690.0h1M73.4 705.9h1M94.9 689.6h1M71.4 707.3h1M95.8 681.0h1M86.7 695.9h1M85.1 699.4h1M86.3 695.4h1M86.4 677.5h1M78.4 719.7h1M87.8 699.8h1M94.1 700.1h1M89.8 683.1h1M85.9 674.1h1M84.4 698.2h1M69.8 699.4h1M91.8 698.0h1M78.9 688.0h1M71.9 688.3h1M89.7 705.2h1M77.3 705.5h1M88.9 684.4h1M101.9 661.2h1M85.3 692.1h1M101.5 697.2h1M102.5 682.9h1M93.0 697.8h1M89.5 691.1h1M84.4 687.3h1M76.7 710.6h1M82.5 674.4h1M87.7 688.8h1M87.1 704.4h1M85.0 688.2h1M80.2 692.5h1M82.5 693.3h1M108.8 682.0h1M79.4 709.1h1M92.1 693.6h1M91.0 694.2h1M90.7 699.3h1M93.2 697.5h1M82.0 691.8h1M80.4 700.6h1M91.9 683.1h1M90.1 709.7h1M94.9 676.3h1M85.1 695.6h1M85.5 693.3h1M94.5 688.5h1M77.6 699.9h1M85.0 691.3h1M81.6 680.6h1M76.5 691.6h1M77.8 671.3h1M94.2 676.2h1M80.4 697.0h1M67.9 709.9h1M80.1 698.3h1M82.2 694.3h1M86.5 689.6h1M72.2 684.4h1M85.4 701.9h1M81.7 696.4h1M87.0 693.4h1M93.1 674.0h1M87.8 687.5h1M83.4 684.0h1M79.9 684.3h1M77.6 714.8h1M98.3 683.9h1M91.2 679.2h1M65.2 684.9h1M86.8 701.4h1M85.4 681.8h1M84.0 682.6h1M75.4 693.1h1M82.8 684.7h1M79.2 685.5h1M87.5 700.7h1M84.2 709.3h1M73.8 698.1h1M77.2 692.9h1M86.5 694.3h1M94.1 681.3h1M76.5 692.9h1M87.9 683.1h1M92.4 700.7h1M75.2 698.2h1M93.3 670.4h1M87.3 687.4h1M75.2 706.1h1M87.4 685.2h1M89.0 693.7h1M91.4 692.0h1M88.8 678.7h1M82.6 692.6h1M65.2 717.7h1M82.9 682.6h1M72.3 698.7h1M86.0 685.0h1M82.7 684.1h1M80.2 691.9h1M81.0 698.0h1M84.7 691.6h1M88.8 699.1h1M90.2 689.7h1M84.5 683.9h1M83.2 696.9h1M87.4 686.0h1M75.9 682.1h1M88.1 697.4h1M88.5 677.2h1M84.2 692.6h1M78.9 696.2h1M84.3 683.8h1M76.6 701.2h1M88.4 681.3h1M78.2 701.1h1M90.2 685.3h1M97.5 681.8h1M77.9 702.9h1M84.4 693.5h1M86.0 681.5h1M77.0 692.7h1M96.2 676.6h1M95.8 686.9h1M77.5 696.2h1M89.9 680.5h1M70.0 700.7h1M77.5 697.7h1M71.6 695.7h1M79.8 680.6h1M84.0 692.3h1M81.6 682.2h1M87.3 674.7h1M89.7 692.1h1M98.2 691.3h1M88.4 690.9h1M86.0 678.9h1M96.6 689.1h1M83.6 681.5h1M96.7 689.0h1M77.0 699.9h1M99.8 683.0h1M88.7 685.1h1M81.1 701.2h1M108.5 679.8h1M84.8 697.0h1M83.5 697.1h1M91.9 678.6h1M77.8 693.3h1M91.9 689.3h1M94.9 674.1h1M89.4 683.1h1M86.5 692.3h1M78.6 691.6h1M77.2 696.4h1M79.5 689.0h1M87.4 683.8h1M94.2 680.6h1M92.0 689.3h1M78.1 691.9h1M79.6 690.0h1M83.8 706.0h1M82.7 704.5h1M89.0 677.6h1M68.7 703.9h1M71.1 703.1h1M93.3 689.5h1M84.2 688.7h1M87.7 686.6h1M81.8 688.9h1M94.4 680.7h1M88.5 679.1h1M80.5 681.2h1M84.3 696.3h1M88.0 684.8h1M90.3 684.9h1M88.5 690.9h1M89.7 667.6h1M76.2 701.1h1M85.0 708.9h1M84.0 686.3h1M96.7 689.2h1M99.7 687.4h1M84.3 696.7h1M80.0 689.2h1M81.7 690.2h1M91.5 683.2h1M88.1 684.7h1M92.2 664.1h1M84.2 692.1h1M77.8 702.2h1M87.3 699.8h1M92.8 691.8h1M84.7 681.6h1M84.1 687.0h1M87.6 685.3h1M108.2 665.8h1M94.4 681.9h1M84.0 698.5h1M85.8 680.0h1M88.8 686.9h1M70.6 699.0h1M78.0 687.7h1M89.3 690.7h1M83.6 708.9h1M88.8 683.4h1M87.5 688.2h1M69.6 684.9h1M75.5 712.0h1M84.4 688.4h1M81.6 700.1h1M86.0 703.9h1M91.5 700.7h1M84.9 693.5h1M82.6 690.2h1M73.1 691.4h1M78.8 688.1h1M94.7 687.8h1M94.7 692.7h1M92.5 695.0h1M81.3 698.8h1M83.4 686.8h1M94.5 703.5h1M78.6 707.8h1M91.8 680.1h1M87.8 692.1h1M88.5 685.7h1M76.3 694.9h1M92.1 693.4h1M90.6 696.7h1M78.5 693.2h1M88.2 697.0h1M86.9 693.7h1M86.7 706.8h1M69.8 697.6h1M103.9 683.1h1M72.3 697.7h1M75.3 689.6h1M87.4 703.3h1M89.1 693.8h1M93.2 688.0h1M79.5 692.3h1M88.2 686.5h1M80.9 689.4h1M74.8 687.0h1M85.1 687.4h1M86.0 701.4h1M87.9 688.7h1M77.2 685.4h1M88.5 681.5h1M88.9 679.7h1M86.7 688.9h1M93.0 683.2h1M83.0 693.3h1M86.2 703.7h1M83.9 686.5h1M83.4 695.0h1M87.5 694.9h1M75.6 715.3h1M99.2 683.2h1M76.9 695.6h1M88.8 670.2h1M85.8 677.8h1M89.1 699.7h1M93.3 673.9h1M95.9 692.5h1M83.1 695.4h1M96.8 681.8h1M85.6 685.5h1M94.2 668.2h1M96.1 677.0h1M92.5 673.4h1M78.9 688.5h1M91.8 673.7h1M90.2 682.6h1M94.8 683.0h1M89.3 686.9h1M98.9 680.6h1M85.6 706.4h1M86.3 695.3h1M80.4 694.3h1M69.2 699.0h1M81.0 680.0h1M75.4 704.4h1M88.9 676.0h1M99.0 677.8h1M83.1 693.3h1M77.4 680.8h1M80.3 702.4h1M92.7 673.6h1M94.6 686.0h1M89.4 688.6h1M88.8 680.3h1M79.1 687.5h1M83.1 696.4h1M76.9 707.4h1M81.1 687.4h1M90.9 691.0h1M83.3 682.4h1M78.4 680.5h1M94.1 694.8h1M99.4 687.4h1M88.2 695.0h1M92.7 684.5h1M88.3 706.4h1M73.4 684.5h1M78.7 699.6h1M94.4 683.0h1M90.7 687.2h1M87.9 684.5h1M85.6 690.1h1M94.0 704.3h1M72.5 700.9h1M85.7 698.0h1M93.5 692.6h1M91.7 679.3h1M73.3 709.8h1M94.6 677.9h1M95.2 690.9h1M67.8 706.2h1M78.5 703.1h1M80.8 686.3h1M74.4 693.8h1M93.2 680.8h1M72.1 714.3h1M99.3 689.1h1M81.8 682.0h1M73.8 700.5h1M95.3 676.6h1M85.7 687.7h1M83.9 695.0h1M101.1 677.3h1M92.0 695.9h1M83.7 689.8h1M75.9 703.7h1M81.9 686.5h1M86.2 682.7h1M78.1 691.3h1M96.6 683.0h1M89.6 676.1h1M71.5 711.9h1M82.8 678.8h1M85.0 695.4h1M73.1 688.9h1M87.7 681.5h1M91.6 695.0h1M89.0 684.9h1M85.4 685.0h1M84.8 693.1h1M83.5 699.1h1M104.8 676.2h1M88.3 695.5h1M90.5 685.7h1M82.2 700.0h1M90.3 691.9h1M79.9 698.1h1M91.6 685.6h1M90.5 705.6h1M72.0 701.7h1M77.2 683.0h1M84.0 695.3h1M86.1 680.2h1M75.2 690.6h1M85.9 683.1h1M74.7 709.9h1M79.6 691.7h1M81.7 687.1h1M86.0 687.4h1M90.3 678.0h1M74.8 711.4h1M85.2 696.6h1M94.4 690.3h1M86.0 677.0h1M74.0 703.8h1M90.7 692.3h1M73.5 678.4h1M78.0 684.1h1M86.9 681.0h1M97.4 679.2h1M81.6 699.2h1M88.2 681.4h1M91.8 702.9h1M76.7 692.4h1M77.8 677.8h1M90.4 693.5h1M92.9 690.0h1M70.9 697.0h1M80.8 682.7h1M77.6 700.3h1M83.6 707.3h1M89.2 672.5h1M92.3 697.1h1M86.0 679.8h1M98.8 672.7h1M85.1 674.5h1M76.5 680.4h1M93.8 695.8h1M82.8 680.2h1M85.3 693.4h1M74.5 685.9h1M85.0 696.2h1M86.3 693.5h1M76.5 673.9h1M88.1 681.2h1M84.8 687.3h1M89.3 681.8h1M96.5 685.0h1M89.7 693.3h1M93.4 689.6h1M72.8 691.1h1M99.6 687.2h1M89.9 691.9h1M81.0 686.7h1M80.9 702.0h1M88.5 703.5h1M89.5 703.9h1M89.2 678.5h1M98.7 686.5h1M94.6 687.5h1M83.3 692.6h1M77.4 684.1h1M79.1 688.9h1M75.6 694.1h1M88.0 705.8h1M99.5 682.9h1M92.3 684.9h1M88.7 688.3h1M81.7 692.6h1M74.7 699.1h1M83.6 682.0h1M83.1 696.0h1M80.7 696.5h1M90.0 701.0h1M77.6 693.0h1M89.6 700.7h1M87.7 695.4h1M74.8 690.5h1M98.2 681.5h1M101.9 676.0h1M83.7 677.6h1M90.5 689.9h1M100.9 684.0h1M83.9 679.1h1M85.1 698.3h1M91.3 697.6h1M92.2 686.4h1M90.3 689.2h1M75.8 709.3h1M88.6 679.8h1M88.6 691.0h1M93.2 698.5h1M62.9 705.9h1M97.2 676.4h1M71.8 699.2h1M88.3 691.7h1M77.4 690.1h1M87.2 695.6h1M102.2 684.4h1M81.2 672.3h1M93.8 684.9h1M84.9 682.1h1M91.3 672.2h1M86.6 690.6h1M88.0 699.9h1M85.0 691.2h1M92.2 673.7h1M83.5 691.7h1M93.0 679.7h1M91.8 690.3h1M74.5 683.0h1M74.9 696.5h1M87.3 695.4h1M91.9 682.3h1M93.8 693.0h1M89.3 692.3h1M76.0 697.8h1M78.0 683.7h1M83.1 692.5h1M85.3 687.4h1M78.2 695.3h1M80.2 680.8h1M86.5 702.0h1M82.7 682.5h1M96.2 699.4h1M83.5 689.3h1M87.4 714.2h1M86.8 697.9h1M89.1 672.9h1M77.4 683.6h1M89.0 689.3h1M99.3 681.1h1M88.1 689.5h1M86.8 709.1h1M87.9 701.4h1M95.6 680.0h1M90.9 684.2h1M86.6 690.9h1M85.9 685.9h1M97.5 682.0h1M91.1 701.7h1M90.5 696.4h1M96.3 694.1h1M98.8 671.5h1M100.6 683.0h1M72.5 691.0h1M75.2 695.0h1M74.5 687.0h1M88.0 690.2h1M79.7 691.0h1M85.0 691.0h1M85.7 688.1h1M92.4 673.1h1M82.0 693.0h1M82.7 686.8h1M82.4 693.4h1M95.2 683.8h1M83.7 694.0h1M83.9 674.4h1M87.8 685.8h1M81.4 697.5h1M86.1 685.0h1M69.2 683.4h1M85.9 688.9h1M89.1 690.3h1M82.1 681.0h1M77.4 692.9h1M77.0 700.7h1M75.7 679.7h1M84.3 675.6h1M98.1 675.5h1M85.4 688.1h1M79.5 678.0h1M71.6 704.3h1M93.5 704.6h1M74.6 700.2h1M85.6 697.3h1M81.8 698.1h1M92.6 691.8h1M96.7 683.1h1M97.5 678.3h1M98.4 660.4h1M85.9 683.1h1M85.8 698.8h1M91.2 688.1h1M98.7 671.1h1M79.6 705.9h1M88.2 671.1h1M88.3 678.6h1M97.0 694.3h1M81.6 703.1h1M79.4 700.9h1M90.2 686.8h1M74.9 692.9h1M68.3 693.7h1M71.7 707.2h1M78.4 672.9h1M90.2 691.0h1M81.9 709.9h1M91.6 687.7h1M80.8 667.2h1M89.4 696.4h1M81.3 680.2h1M85.4 675.9h1M85.8 696.5h1M97.2 686.6h1M87.2 695.7h1M96.4 682.1h1M76.4 687.8h1M76.2 687.1h1M84.8 693.4h1M86.9 690.0h1M83.0 694.9h1M92.5 693.2h1M97.1 682.0h1M83.8 705.4h1M87.3 692.8h1M83.2 699.5h1M82.7 682.9h1M85.3 686.5h1M92.1 683.7h1M86.7 687.7h1M88.3 683.4h1M94.1 673.8h1M82.8 685.4h1M90.7 687.9h1M89.4 685.4h1M80.3 683.1h1M83.2 686.7h1M87.9 692.0h1M93.2 685.5h1M80.1 683.7h1M86.2 692.8h1M100.6 684.3h1M99.1 699.4h1M77.8 704.2h1M94.4 697.2h1M85.7 698.2h1M82.1 691.2h1M85.9 705.1h1M84.1 698.9h1M86.3 683.7h1M87.6 694.7h1M80.3 698.1h1M80.3 685.2h1M87.4 687.2h1M78.3 679.8h1M85.9 692.0h1M82.3 693.3h1M74.1 699.0h1M88.9 690.8h1M81.1 693.0h1M86.7 698.6h1M87.8 691.1h1M80.3 700.0h1M94.7 681.4h1M90.6 690.2h1M85.4 679.2h1M99.1 667.6h1M88.1 685.7h1M94.4 682.1h1M86.0 695.1h1M89.2 683.9h1M90.9 690.8h1M93.3 682.0h1M85.4 686.8h1M79.4 695.3h1M88.9 700.6h1M83.3 694.5h1M94.4 684.8h1M86.2 690.9h1M80.5 684.2h1M94.2 687.3h1M85.2 679.7h1M86.6 699.5h1M77.0 686.7h1M94.2 698.0h1M97.5 679.6h1M90.3 681.4h1M89.7 685.0h1M87.2 700.7h1M88.3 686.7h1M86.2 692.0h1M81.9 693.7h1M90.3 701.0h1M70.2 687.5h1M76.4 702.0h1M104.2 682.6h1M86.7 699.2h1M67.3 697.5h1M62.2 702.8h1M81.9 687.8h1M88.3 683.8h1M94.1 685.9h1M88.6 710.1h1M82.4 699.5h1M79.5 703.6h1M93.0 687.6h1M93.2 700.0h1M96.1 684.9h1M85.3 699.6h1M74.7 690.3h1M89.4 693.0h1M99.8 698.0h1M88.2 692.5h1M75.8 693.3h1M87.7 687.1h1M86.2 694.9h1M78.6 688.7h1M72.4 706.2h1M77.8 679.5h1M91.5 685.4h1M93.0 683.3h1M101.7 688.2h1M86.9 690.4h1M84.2 697.6h1M100.8 679.1h1M77.6 699.0h1M93.8 673.5h1M80.6 684.1h1M90.0 692.2h1M80.2 683.2h1M90.9 670.2h1M90.6 686.3h1M100.2 691.3h1M81.4 689.8h1M83.7 684.9h1M86.4 697.8h1M74.4 693.6h1M96.9 690.8h1M79.7 686.2h1M79.3 679.6h1M94.4 686.4h1M80.5 680.5h1M82.9 687.1h1M98.6 679.8h1M86.6 698.6h1M90.7 686.0h1M69.4 709.8h1M90.2 684.2h1M85.1 682.3h1M79.0 680.8h1M89.5 692.5h1M87.1 695.9h1M89.8 689.1h1M79.1 698.2h1M94.6 690.9h1M95.1 681.5h1M78.4 704.1h1M81.4 694.2h1M84.3 690.9h1M83.7 686.5h1M72.4 712.5h1M87.3 673.2h1M79.0 683.9h1M80.2 671.4h1M90.0 701.6h1M83.9 697.1h1M90.2 677.4h1M94.8 671.5h1M81.5 689.1h1M95.1 686.4h1M84.8 683.7h1M86.4 690.0h1M91.2 699.0h1M91.2 687.5h1M84.6 703.9h1M87.2 689.1h1M99.1 696.5h1M90.0 687.0h1M81.0 701.2h1M82.4 699.7h1M79.9 693.7h1M88.7 689.7h1M87.5 692.3h1M77.4 684.8h1M84.7 705.6h1M84.8 682.7h1M80.8 692.7h1M94.5 681.0h1M89.9 689.5h1M83.1 683.4h1M84.6 684.5h1M89.7 673.4h1M94.1 692.2h1M90.0 700.4h1M90.2 673.6h1M86.1 693.6h1M80.7 683.1h1M89.0 692.7h1M82.6 689.5h1M82.0 687.1h1M85.3 699.1h1M73.8 693.0h1M97.7 686.8h1M86.9 696.4h1M78.3 683.6h1M73.4 683.9h1M87.6 696.2h1M82.7 685.9h1M88.7 693.6h1M87.7 673.2h1M81.7 670.9h1M87.6 682.1h1M80.9 704.9h1M95.5 689.2h1M87.8 690.4h1M81.4 691.7h1M99.9 675.8h1M80.9 693.7h1M92.4 693.7h1M78.6 692.4h1M83.8 680.7h1M86.3 685.7h1M92.6 690.3h1M80.0 693.5h1M83.1 686.0h1M82.2 700.6h1M82.7 677.3h1M80.0 699.5h1M101.7 673.5h1M83.1 688.6h1M75.3 698.4h1M85.4 692.5h1M102.3 679.7h1M91.6 694.0h1M81.1 687.4h1M97.3 690.3h1M86.8 680.4h1M92.3 691.2h1M102.0 694.3h1M91.7 689.3h1M86.2 685.2h1M88.0 690.9h1M90.6 696.6h1M88.1 684.4h1M91.7 699.9h1M79.6 696.5h1M89.8 692.5h1M89.5 687.4h1M85.0 704.3h1M98.5 672.1h1M67.0 702.8h1M80.8 688.2h1M74.0 698.7h1M85.3 685.7h1M92.4 706.9h1M96.6 694.4h1M82.7 696.9h1M85.5 699.7h1M90.1 687.6h1M89.8 682.1h1M91.6 699.6h1M83.1 695.9h1M73.5 703.8h1M92.2 678.4h1M98.6 684.6h1M73.0 684.9h1M92.2 684.6h1M93.9 673.2h1M85.0 698.4h1M80.7 698.1h1M83.1 694.2h1M88.1 707.3h1M76.6 700.9h1M95.4 676.0h1M86.4 708.8h1M93.5 661.6h1M84.0 676.7h1M88.0 682.9h1M81.6 685.1h1M87.9 685.1h1M79.1 691.4h1M88.8 681.4h1M94.0 672.2h1M88.8 685.3h1M97.4 679.0h1M80.9 681.3h1M100.4 687.9h1M77.7 691.1h1M78.7 706.1h1M88.8 671.6h1M87.3 696.8h1M85.8 693.9h1M84.9 692.1h1M87.3 683.4h1M88.3 690.1h1M85.5 684.5h1M78.3 695.7h1M91.8 667.0h1M81.8 703.1h1M92.5 680.8h1M95.7 676.9h1M79.9 708.9h1M82.5 689.8h1M73.6 687.6h1M77.1 693.1h1M72.2 705.4h1M83.1 686.3h1M81.1 698.5h1M97.1 681.1h1M97.7 697.5h1M95.7 687.6h1M74.7 701.0h1M82.7 693.1h1M71.8 694.5h1M87.5 681.4h1M87.9 702.8h1M87.5 683.5h1M103.4 663.5h1M79.0 696.7h1M81.4 673.1h1M87.7 696.0h1M79.9 705.0h1M89.4 698.1h1M74.5 695.5h1M97.6 700.9h1M95.5 685.2h1M87.1 684.1h1M93.9 680.2h1M86.7 672.4h1M74.6 710.2h1M86.2 691.6h1M69.5 697.7h1M101.1 670.1h1M68.1 697.3h1M81.8 690.2h1M76.4 683.3h1M76.6 699.8h1M85.4 697.0h1M77.8 698.8h1M82.5 692.3h1M92.7 686.9h1M83.1 677.4h1M86.2 696.3h1M81.1 691.7h1M72.6 685.3h1M88.7 699.3h1M83.4 677.2h1M82.9 678.3h1M83.7 707.1h1M88.0 687.6h1M93.5 683.1h1M88.2 690.5h1M89.1 676.1h1M91.0 694.8h1M68.8 675.7h1M79.1 705.7h1M85.9 695.6h1M89.9 695.4h1M81.0 687.4h1M88.6 693.7h1M90.0 690.7h1M82.1 701.0h1M89.3 697.2h1M66.8 707.7h1M67.5 700.7h1M80.8 693.4h1M82.2 689.1h1M87.2 692.2h1M79.8 671.7h1M79.9 697.4h1M79.4 696.7h1M83.0 683.4h1M94.5 699.6h1M85.0 690.0h1M92.9 675.3h1M79.2 702.7h1M92.5 682.5h1M79.9 695.8h1M75.2 691.0h1M84.0 670.1h1M90.2 694.3h1M93.8 674.0h1M76.1 687.9h1M75.9 712.1h1M78.4 691.0h1M87.3 693.1h1M96.7 675.5h1M92.4 688.0h1M76.9 695.6h1M75.2 708.9h1M80.3 701.2h1M95.6 680.0h1M79.0 694.4h1M77.8 701.5h1M87.1 682.9h1M80.6 698.7h1M74.8 709.6h1M79.8 691.2h1M78.8 707.2h1M92.0 698.0h1M90.7 688.3h1M98.6 689.4h1M89.0 693.3h1M91.3 689.6h1M84.5 677.1h1M101.3 671.3h1M69.5 691.9h1M100.4 693.2h1M81.2 694.5h1M85.6 673.2h1M83.2 693.7h1M94.6 675.4h1M68.7 685.0h1M88.3 689.5h1M86.9 690.7h1M83.0 679.7h1M89.2 691.6h1M90.1 698.5h1M76.4 674.7h1M72.2 714.8h1M78.8 696.8h1M85.6 696.3h1M110.1 673.7h1M84.5 685.5h1M87.6 693.5h1M78.4 704.8h1M94.5 689.5h1M84.9 688.4h1M73.3 701.7h1M78.3 689.3h1M93.3 678.5h1M81.8 699.3h1M99.9 677.2h1M94.1 680.3h1M88.7 692.7h1M77.1 703.0h1M99.4 683.8h1M87.8 679.0h1M99.3 683.9h1M76.1 701.3h1M74.6 689.6h1M69.6 709.7h1M102.5 676.4h1M80.8 687.5h1M81.5 696.8h1M96.8 676.0h1M89.1 673.0h1M97.3 683.6h1M80.4 705.7h1M84.9 702.1h1M93.9 700.1h1M79.7 693.5h1M88.5 687.0h1M97.3 678.2h1M93.4 697.9h1M70.9 689.0h1M78.9 688.7h1M88.7 687.1h1M86.3 685.8h1M85.1 694.4h1M91.4 680.6h1M84.9 683.9h1M84.4 678.4h1M93.0 692.2h1M84.8 684.6h1M82.3 686.0h1M74.0 709.7h1M110.8 667.3h1M76.9 699.3h1M90.4 674.3h1M71.2 701.8h1M70.6 709.5h1M82.0 692.6h1M85.7 685.2h1M84.7 688.0h1M95.2 684.6h1M85.5 685.6h1M80.9 686.1h1M85.8 705.6h1M94.2 687.9h1M98.4 692.4h1M87.3 687.8h1M77.4 696.2h1M83.3 677.7h1M76.0 711.3h1M87.4 693.4h1M87.3 685.3h1M89.3 697.5h1M83.4 695.5h1M93.5 682.1h1M87.0 683.1h1M90.3 684.6h1M94.5 679.2h1M98.6 681.1h1M79.4 685.4h1M90.8 680.2h1M99.5 694.2h1M89.7 675.9h1M85.6 683.9h1M72.0 700.4h1M102.5 677.2h1M91.9 697.9h1M78.4 690.7h1M87.8 693.0h1M77.0 696.1h1M84.9 698.5h1M73.6 691.1h1M81.9 689.2h1M91.2 682.0h1M106.6 673.8h1M92.1 695.6h1M93.1 684.7h1M79.4 690.9h1M90.8 688.6h1M90.2 692.7h1M79.0 685.3h1M96.7 680.5h1M73.7 711.7h1M79.4 685.1h1M93.1 676.8h1M79.1 702.2h1M79.5 714.4h1M86.5 712.5h1M86.7 690.0h1M80.9 690.5h1M81.9 691.7h1M91.6 676.3h1M78.8 675.6h1M97.2 683.8h1M85.6 689.6h1M93.4 689.0h1M92.2 685.4h1M84.8 690.0h1M71.6 706.2h1M73.8 687.4h1M90.8 688.0h1M91.9 701.5h1M99.9 694.9h1M84.0 708.3h1M79.1 692.5h1M93.3 684.5h1M84.8 687.4h1M96.1 663.9h1M95.4 694.3h1M85.2 695.1h1M78.4 703.1h1M109.0 670.8h1M96.4 684.3h1M83.2 687.1h1M84.3 680.0h1M75.4 709.2h1M85.6 694.8h1M88.1 692.9h1M74.2 687.6h1M90.6 696.2h1M77.1 689.3h1M77.6 699.5h1M88.4 689.0h1M80.8 695.3h1M86.0 683.5h1M88.3 683.1h1M93.0 691.8h1M80.5 697.6h1M86.3 683.7h1M78.8 679.2h1M77.2 697.2h1M94.9 680.2h1M87.0 692.3h1M91.7 690.9h1M95.1 692.0h1M80.0 696.2h1M68.0 697.2h1M85.9 694.9h1M83.5 698.2h1M95.8 677.9h1M81.6 694.2h1M89.5 689.4h1M92.1 676.8h1M91.6 697.1h1M94.2 689.5h1M83.9 694.3h1M85.2 676.8h1M81.1 691.9h1M81.8 684.0h1M84.0 687.7h1M86.3 689.3h1M87.1 697.8h1M86.8 693.0h1M76.5 669.4h1M82.7 697.3h1M83.2 685.9h1M76.3 702.2h1M81.7 694.1h1M94.3 690.4h1M102.8 680.5h1M93.0 692.4h1M80.8 692.8h1M81.5 683.4h1M88.0 682.3h1M98.5 677.4h1M81.6 692.8h1M81.8 692.4h1M81.1 680.1h1M67.4 688.0h1M97.3 688.1h1M86.9 685.5h1M84.6 693.1h1M75.2 688.4h1M79.0 704.0h1M77.7 703.9h1M82.2 715.0h1M85.2 690.6h1M96.0 692.4h1M92.9 677.4h1M94.4 700.1h1M85.0 686.3h1M77.5 702.7h1M88.0 689.0h1M76.4 708.4h1M92.4 686.6h1M97.0 676.4h1M92.5 678.2h1M96.5 682.4h1M95.0 681.9h1M88.8 698.2h1M78.9 694.2h1M79.4 700.4h1M81.2 689.1h1M84.2 700.7h1M77.8 693.7h1M83.3 686.5h1M79.8 691.6h1M87.2 676.1h1M87.5 679.0h1M85.9 709.4h1M78.4 693.0h1M83.8 699.3h1M82.1 676.5h1M73.5 697.5h1M87.7 698.2h1M81.7 697.7h1M77.7 705.0h1M85.2 684.5h1M87.1 704.2h1M79.3 682.6h1M78.0 683.9h1M85.4 693.2h1M84.5 692.3h1M94.8 683.1h1M76.2 675.2h1M87.6 683.3h1M83.9 694.4h1M89.3 674.9h1M78.5 694.2h1M84.7 700.3h1M81.9 674.3h1M94.6 671.7h1M78.4 696.9h1M77.7 715.2h1M87.6 693.7h1M82.4 710.5h1M89.9 681.9h1M95.3 670.9h1M81.3 694.6h1M86.8 681.3h1M97.8 696.7h1M78.6 696.7h1M80.9 688.7h1M93.2 687.4h1M84.9 691.3h1M76.8 704.8h1M80.0 703.9h1M82.3 687.8h1M97.0 686.1h1M80.9 687.8h1M90.4 703.7h1M90.4 684.4h1M77.2 688.4h1M84.8 692.5h1M80.8 703.3h1M78.5 687.5h1M89.5 692.2h1M82.8 699.6h1M75.0 709.2h1M102.4 698.5h1M86.7 706.3h1M86.2 701.1h1M84.2 692.4h1M89.7 673.2h1M84.2 705.4h1M63.5 704.2h1M92.8 689.4h1M87.2 701.1h1M88.3 672.6h1M78.6 691.0h1M86.8 685.6h1M85.0 704.6h1M63.5 710.7h1M92.9 691.6h1M85.9 690.5h1M88.5 690.7h1M80.3 699.3h1M79.5 692.7h1M83.0 681.5h1M90.3 687.2h1M76.9 693.7h1M75.3 707.3h1M89.7 705.0h1M81.4 698.1h1M78.4 686.3h1M85.1 693.8h1M92.8 684.3h1M94.1 694.1h1M79.1 691.7h1M78.8 707.9h1M81.6 699.6h1M92.7 684.5h1M82.1 694.7h1M79.9 682.1h1M78.4 696.5h1M87.2 704.3h1M71.9 701.0h1M77.0 704.1h1M91.0 688.5h1M96.9 681.4h1M81.7 683.0h1M80.8 693.4h1M90.8 698.4h1M83.7 684.8h1M83.2 687.6h1M82.2 688.3h1M79.2 692.8h1M81.9 690.5h1M75.3 696.4h1M90.1 693.4h1M81.6 682.4h1M75.9 684.9h1M80.9 689.8h1M72.4 702.2h1M74.1 689.9h1M80.3 699.7h1M99.6 680.2h1M83.7 687.7h1M84.2 689.3h1M104.4 671.7h1M84.9 683.7h1M88.4 684.3h1M90.1 678.8h1M101.6 684.0h1M72.4 702.4h1M82.2 682.0h1M89.1 684.0h1M91.3 682.7h1M92.5 687.9h1M88.4 690.0h1M83.0 688.3h1M89.1 694.3h1M82.7 710.4h1M98.5 674.1h1M93.9 685.4h1M87.5 682.5h1M98.2 677.0h1M85.1 684.2h1M100.3 693.4h1M75.8 691.1h1M88.5 685.0h1M83.1 682.3h1M87.6 679.9h1M92.0 707.1h1M83.3 705.0h1M88.6 683.0h1M83.2 683.2h1M86.6 695.5h1M92.7 684.3h1M76.8 693.8h1M98.3 686.2h1M85.3 672.8h1M82.5 696.2h1M78.7 704.8h1M81.5 684.8h1M81.4 691.4h1M93.2 681.6h1M72.4 695.9h1M89.7 701.0h1M77.3 706.5h1M90.8 691.3h1M80.0 685.4h1M78.6 701.3h1M87.4 698.2h1M99.4 683.5h1M85.4 706.2h1M76.0 691.1h1M83.0 688.2h1M86.8 682.5h1M94.4 674.4h1M79.7 678.9h1M75.3 700.1h1M90.5 686.1h1M92.1 692.1h1M81.4 691.8h1M88.5 705.5h1M82.5 694.7h1M89.8 698.2h1M88.9 697.4h1M77.8 691.7h1M71.3 696.7h1M103.2 683.5h1M86.4 691.9h1M86.8 678.5h1M80.6 691.1h1M87.0 682.2h1M85.0 684.3h1M75.9 689.4h1M79.7 700.0h1M95.8 690.0h1M84.2 686.2h1M74.0 691.4h1M97.4 693.9h1M87.4 687.2h1M85.8 693.6h1M85.7 693.6h1M80.0 693.3h1M83.1 700.3h1M76.5 705.4h1M85.1 686.2h1M85.9 691.0h1M84.0 694.4h1M81.4 678.1h1M91.0 687.3h1M98.2 687.2h1M70.8 707.7h1M80.6 697.1h1M102.3 691.0h1M77.6 693.3h1M73.7 701.5h1M90.0 679.5h1M89.1 696.2h1M91.8 681.5h1M80.6 683.3h1M76.1 697.4h1M86.0 700.7h1M87.8 686.4h1M75.1 708.1h1M87.0 689.2h1M78.2 685.0h1M90.5 679.7h1M90.1 693.1h1M82.9 678.0h1M88.8 700.2h1M79.6 682.6h1M93.9 687.3h1M81.1 702.5h1M83.7 694.8h1M82.8 685.3h1M87.4 682.2h1M72.5 692.1h1M95.0 694.7h1M102.0 690.4h1M97.8 686.3h1M82.5 695.5h1M78.7 699.6h1M82.4 693.9h1M79.4 692.1h1M93.1 684.7h1M80.7 694.9h1M92.3 685.3h1M77.0 681.5h1M75.8 703.8h1M85.1 694.4h1M93.8 688.5h1M89.3 684.2h1M73.7 701.2h1M85.0 695.2h1M77.8 692.8h1M100.8 675.8h1M86.5 700.5h1M84.0 692.0h1M69.9 704.3h1M82.5 702.3h1M85.1 687.3h1M89.0 686.5h1M81.9 704.7h1M93.1 687.4h1M91.8 693.9h1M90.1 688.4h1M86.3 693.2h1M90.0 691.0h1M81.7 691.5h1M89.2 680.3h1M85.7 696.4h1M87.0 687.2h1M85.6 686.2h1M93.1 683.4h1M73.4 686.3h1M88.0 690.7h1M82.2 681.1h1M84.6 683.8h1M80.9 692.5h1M80.0 695.5h1M80.2 689.0h1M84.1 702.9h1M97.5 692.1h1M80.3 692.8h1M92.5 693.4h1M73.6 695.6h1M80.2 699.0h1M90.5 683.4h1M101.7 680.1h1M103.9 679.9h1M85.1 705.9h1M81.8 688.2h1M96.7 684.4h1M89.3 678.1h1M99.1 691.6h1M88.4 694.6h1M82.0 688.1h1M74.1 698.9h1M95.0 692.6h1M92.6 692.6h1M78.9 682.9h1M90.5 689.2h1M93.1 684.3h1M79.2 697.0h1M81.6 678.8h1M81.2 685.2h1M77.5 689.7h1M92.8 705.8h1M98.6 680.5h1M94.2 685.4h1M88.7 683.2h1M85.2 676.8h1M99.1 677.4h1M90.1 683.2h1M87.8 679.6h1M83.0 698.9h1M90.2 672.2h1M92.1 676.4h1M87.9 693.3h1M81.0 689.9h1M83.9 694.3h1M92.6 697.9h1M88.2 705.1h1M78.7 708.0h1M83.8 697.3h1M84.8 691.3h1M78.9 696.6h1M100.8 684.0h1M85.6 690.3h1M91.1 685.9h1M85.7 691.9h1M95.4 693.1h1M77.9 688.9h1M85.9 696.9h1M93.0 684.9h1M101.6 681.1h1M96.2 696.6h1M97.6 686.0h1M90.0 675.7h1M72.5 691.7h1M91.1 696.1h1M85.0 698.9h1M90.1 700.4h1M73.9 689.2h1M78.6 685.2h1M98.0 676.6h1M79.6 689.9h1M92.3 683.2h1M91.2 691.9h1M81.0 673.3h1M78.9 683.4h1M97.9 678.4h1M77.8 697.1h1M86.2 682.4h1M93.9 693.6h1M87.8 683.0h1M79.3 676.7h1M88.6 691.9h1M78.9 693.7h1M110.2 669.0h1M73.0 701.3h1M82.6 687.7h1M90.4 686.8h1M93.2 690.7h1M94.4 686.9h1M69.7 709.0h1M73.1 704.8h1M87.6 678.0h1M86.2 697.0h1M78.1 694.2h1M80.2 684.7h1M81.2 702.7h1M90.9 687.4h1M85.1 691.4h1M87.9 690.6h1M73.0 703.8h1M79.4 672.1h1M91.0 677.8h1M84.7 689.9h1M81.3 696.6h1M83.7 688.8h1M78.6 691.3h1M78.0 694.2h1M95.6 693.4h1M88.9 677.5h1M93.4 693.9h1M101.1 664.3h1M85.9 687.3h1M93.9 677.3h1M82.9 710.3h1M97.5 663.4h1M86.5 705.1h1M79.3 698.7h1M87.4 672.7h1M79.2 704.8h1M99.6 678.4h1M99.0 677.4h1M89.0 688.4h1M72.1 697.9h1M81.9 659.9h1M76.9 683.0h1M76.8 681.6h1M78.5 664.3h1M96.3 687.1h1M89.1 685.6h1M87.0 686.4h1M73.9 676.3h1M87.1 700.9h1M88.9 707.1h1M70.8 691.6h1M79.3 705.9h1M105.4 677.4h1M94.5 684.1h1M75.0 692.0h1M74.5 711.0h1M92.9 700.9h1M90.3 660.6h1M95.3 687.6h1M59.3 699.5h1M97.7 705.3h1M74.7 702.3h1M90.0 686.4h1M83.0 696.6h1M92.8 694.9h1M81.6 676.0h1M101.2 699.5h1M79.9 691.3h1M95.4 666.5h1M91.9 715.3h1M89.3 680.5h1M109.4 682.1h1M88.6 683.9h1M88.3 668.4h1M71.7 677.4h1M96.5 685.2h1M99.3 662.0h1M79.5 708.4h1M77.3 671.2h1M77.8 688.3h1M86.1 704.5h1M101.3 702.4h1M92.8 681.7h1M80.7 674.5h1M100.6 699.2h1M87.3 679.0h1M93.9 692.6h1M88.0 675.7h1M89.0 682.2h1M94.6 693.6h1M91.2 683.0h1M103.5 692.8h1M100.6 694.4h1M93.7 691.6h1M74.2 672.7h1M75.7 700.0h1M96.5 688.3h1M87.3 710.2h1M81.8 670.6h1M68.8 691.5h1M94.2 695.4h1M83.8 699.7h1M85.7 681.4h1M82.0 699.5h1M97.0 673.2h1M75.1 694.6h1M110.2 668.3h1M72.1 698.9h1M92.0 680.6h1M86.0 695.1h1M66.6 695.7h1M93.0 697.9h1M99.4 684.4h1M70.0 710.2h1M95.0 679.4h1M97.9 697.6h1M84.7 663.0h1M81.0 682.6h1M76.8 691.7h1M74.1 697.9h1M107.5 669.0h1M98.0 679.6h1M92.4 686.1h1M100.7 676.7h1M94.5 678.0h1M88.8 688.5h1M98.5 667.5h1M71.0 710.4h1M90.6 707.5h1M74.6 695.7h1M93.0 707.5h1M85.7 684.6h1M94.3 685.7h1M77.8 701.0h1M64.8 684.9h1M101.6 678.8h1M82.6 694.9h1M98.9 691.4h1M75.4 686.6h1M98.1 684.3h1M79.2 701.8h1M99.1 710.2h1M74.2 685.4h1M78.5 696.1h1M80.9 704.0h1M79.0 688.7h1M92.6 689.7h1M74.9 710.4h1M92.7 681.8h1M88.6 676.1h1M72.5 690.6h1M90.4 689.3h1M77.5 676.5h1M67.4 713.9h1M90.4 679.0h1M99.6 691.3h1M81.6 684.0h1M99.0 689.1h1M104.6 687.7h1M79.7 684.8h1M78.4 695.0h1M89.1 695.5h1M91.3 675.8h1M84.0 679.5h1M91.7 672.7h1M79.7 681.8h1M79.3 688.8h1M103.2 681.1h1M70.2 691.3h1M94.6 693.1h1M88.9 711.4h1M98.7 686.5h1M99.9 669.7h1M84.4 680.2h1M88.2 707.3h1M80.7 709.5h1M74.8 709.5h1M67.3 686.0h1M97.4 684.8h1M87.9 688.8h1M88.3 686.8h1M75.3 689.8h1M87.5 678.8h1M91.5 708.0h1M67.9 689.3h1M83.1 690.7h1M87.3 680.9h1M85.9 689.7h1M85.3 707.4h1M87.7 672.1h1M68.7 702.0h1M82.4 683.7h1M71.1 690.9h1M85.2 682.0h1M82.3 700.9h1M95.0 692.9h1M84.3 674.6h1M94.9 703.8h1M100.5 698.2h1M89.4 692.8h1M86.1 703.9h1M83.3 715.0h1M94.9 683.0h1M86.2 671.1h1M78.1 688.7h1M113.6 671.3h1M96.5 687.0h1M82.9 697.7h1M64.0 707.6h1M107.9 685.8h1M85.6 691.6h1M93.7 681.5h1M87.6 694.8h1M82.4 695.2h1M90.0 696.5h1M75.2 687.0h1M81.5 704.8h1M89.0 669.7h1M72.0 716.3h1M90.0 673.5h1M76.1 694.4h1M102.2 702.8h1M82.2 687.4h1M107.7 671.3h1M103.7 687.7h1M87.3 703.9h1M91.6 678.2h1M69.2 695.2h1M92.0 703.3h1M57.1 714.4h1M93.2 704.6h1M95.1 689.0h1M91.1 692.5h1M79.2 690.5h1M87.7 683.9h1M69.9 678.3h1M91.9 693.6h1M87.5 675.7h1M95.8 681.9h1M63.1 715.0h1M69.6 720.7h1M92.2 682.5h1M60.0 690.0h1M102.8 699.7h1M89.1 668.9h1M82.0 687.6h1M91.4 686.4h1M90.1 669.6h1M79.1 708.4h1M70.0 705.4h1M112.0 688.6h1M70.7 708.8h1M65.5 700.1h1M81.7 705.2h1M99.4 687.4h1M106.3 694.2h1M80.9 680.0h1M113.7 675.9h1M90.8 686.7h1M81.0 672.8h1M84.6 688.7h1M97.2 680.0h1M68.8 682.9h1M85.8 692.5h1M94.3 682.5h1M92.3 689.2h1M105.1 682.7h1M87.9 695.5h1M99.9 674.5h1M81.0 688.1h1M62.4 712.2h1M98.2 685.8h1M123.8 691.8h1M108.8 700.2h1M96.4 669.9h1M103.4 688.7h1M72.9 694.5h1M94.7 698.1h1M88.2 682.9h1M94.8 678.0h1M85.4 698.6h1M70.2 699.0h1M64.4 686.0h1M72.5 693.0h1M94.2 686.3h1M96.5 687.3h1M84.0 695.9h1M83.6 691.9h1M97.9 679.2h1M99.1 672.6h1M83.8 670.4h1M80.3 709.7h1M90.2 702.8h1M69.8 683.2h1M91.5 697.3h1M95.6 667.2h1M92.0 686.8h1M87.6 694.5h1M83.1 671.1h1M74.3 676.8h1M71.5 692.8h1M100.9 676.5h1M77.7 679.1h1M66.9 696.6h1M80.8 688.5h1M75.5 698.6h1M72.8 700.2h1M78.9 701.0h1M76.3 697.8h1M91.2 687.0h1M104.5 685.6h1M76.3 700.7h1M77.0 686.3h1M86.4 691.5h1M105.3 663.2h1M83.4 703.4h1M84.5 693.8h1M103.3 669.8h1M86.7 698.5h1M79.7 671.5h1M75.1 695.4h1M88.4 710.0h1M101.1 666.8h1M97.9 696.2h1M104.4 681.8h1M80.0 693.2h1M103.6 691.0h1M105.3 692.4h1M79.7 680.0h1M107.0 665.3h1M82.3 687.1h1M76.0 686.2h1M86.3 716.9h1M85.5 683.7h1M87.6 699.9h1M77.1 687.8h1M66.7 704.0h1M93.9 704.3h1M72.8 719.0h1M96.0 683.1h1M81.9 687.4h1M72.7 702.8h1M79.4 683.4h1M92.0 688.9h1M79.7 688.9h1M80.7 706.8h1M97.5 677.5h1M85.8 705.5h1M83.0 711.1h1M91.2 695.6h1M63.0 706.9h1M90.1 695.0h1M91.6 693.8h1M80.6 701.8h1M87.0 677.2h1M74.8 695.1h1M90.0 662.8h1M63.1 709.2h1M69.1 692.2h1M79.5 698.1h1M102.1 703.0h1M74.9 707.5h1M72.6 697.5h1M88.2 696.0h1M77.3 707.9h1M85.5 689.5h1M83.3 678.2h1M94.3 690.7h1M91.4 709.4h1M76.5 689.4h1M86.3 699.4h1M84.3 700.9h1M91.4 667.5h1M78.6 668.5h1M83.0 685.7h1M92.9 689.3h1M85.5 704.3h1M92.9 673.1h1M78.5 695.8h1M105.4 681.0h1M84.3 693.2h1M95.0 685.6h1M89.6 683.6h1M80.1 682.3h1M93.6 680.7h1M92.4 692.2h1M97.2 654.9h1M75.4 678.9h1M84.4 699.4h1M114.7 698.1h1M101.5 688.9h1M81.9 697.1h1M61.8 708.3h1M86.3 696.6h1M74.7 680.6h1M79.0 691.4h1M90.2 684.1h1M90.2 696.1h1M73.2 692.6h1M68.8 688.9h1M96.4 677.9h1M107.2 688.5h1M96.2 687.4h1M96.0 699.0h1M87.5 683.0h1M80.1 713.9h1M84.2 684.9h1M78.3 672.6h1M80.6 695.1h1M80.8 682.5h1M90.9 693.3h1M81.3 694.7h1M75.3 703.0h1M75.2 689.2h1M87.8 684.1h1M73.4 718.0h1M103.3 663.7h1M87.6 674.4h1M89.8 673.2h1M92.8 693.5h1M105.4 697.2h1M81.1 702.1h1M81.1 689.9h1M80.6 670.9h1M93.0 663.7h1M83.6 696.5h1M87.5 670.8h1M79.0 699.8h1M98.6 704.0h1M65.9 701.5h1M80.8 700.1h1M67.3 694.0h1M94.2 679.4h1M82.2 679.5h1M98.8 670.0h1M76.0 689.0h1M82.7 715.2h1M89.3 678.8h1M92.8 691.4h1M89.4 687.7h1M91.4 674.2h1M72.7 689.0h1M73.8 701.7h1M108.1 696.7h1M91.3 691.8h1M78.6 676.9h1M92.4 670.3h1M89.6 686.8h1M94.7 687.3h1M87.4 682.4h1M66.9 691.8h1M94.1 699.1h1M101.7 672.9h1M75.7 701.1h1M81.2 721.0h1M89.8 670.7h1M80.0 709.8h1M65.7 698.0h1M70.7 713.2h1M81.2 679.2h1M67.1 687.5h1M57.5 693.4h1M110.8 682.7h1M83.3 677.0h1M90.1 682.8h1M76.7 708.7h1M91.2 677.6h1M102.9 683.4h1M91.9 689.4h1M99.5 692.3h1M82.3 699.1h1M81.9 692.5h1M104.7 671.2h1M74.6 688.6h1M80.6 706.5h1M68.4 722.0h1M104.1 678.5h1M88.3 684.6h1M93.8 694.7h1M94.7 695.6h1M108.0 680.4h1M94.1 684.8h1M86.7 691.9h1M85.7 693.7h1M76.7 690.8h1M79.4 678.1h1M78.3 686.3h1M84.6 671.9h1M83.4 677.3h1M77.1 694.7h1M98.7 688.8h1M80.8 686.2h1M101.3 665.7h1M99.1 667.9h1M79.1 692.4h1M83.8 709.6h1M91.8 687.1h1M97.0 686.4h1M77.2 705.5h1M103.1 698.9h1M73.0 716.0h1M81.6 700.0h1M99.7 712.8h1M68.1 683.6h1M99.5 690.9h1M82.7 656.6h1M91.2 685.7h1M58.1 692.2h1M86.2 692.2h1M94.7 683.6h1M76.2 688.6h1M62.6 684.2h1M108.5 674.2h1M85.3 711.9h1M98.1 687.1h1M94.5 683.7h1M76.1 704.5h1M87.8 707.7h1M83.3 686.1h1M90.1 686.0h1M82.7 680.2h1M89.1 692.3h1M106.9 682.5h1M66.5 701.4h1M112.0 675.9h1M77.2 690.5h1M84.1 672.6h1M92.8 677.2h1M65.4 687.9h1M93.4 709.6h1M100.4 687.2h1M80.5 688.3h1M97.2 679.9h1M90.9 699.2h1M76.0 686.0h1M91.3 687.9h1M84.8 683.8h1M85.5 711.4h1M101.6 665.7h1M86.8 690.4h1M86.7 673.3h1M84.8 691.7h1M78.6 695.7h1M58.8 680.9h1M87.4 693.7h1M84.4 684.8h1M88.3 701.5h1M96.4 685.3h1M81.0 703.6h1M92.4 697.8h1M83.1 680.5h1M88.4 681.5h1M99.2 695.2h1M61.6 705.3h1M101.3 696.7h1M80.9 681.2h1M97.2 697.8h1M86.9 675.8h1M69.0 698.2h1M76.9 684.6h1M91.3 700.1h1M62.9 689.3h1M100.9 684.2h1M82.4 698.2h1M73.4 679.4h1M86.5 707.7h1M97.7 685.7h1M97.7 681.0h1M72.9 674.3h1M89.3 699.0h1M90.5 687.7h1M81.7 703.7h1M85.7 672.9h1M101.7 676.9h1M90.7 688.1h1M98.2 688.5h1M100.1 687.4h1M81.0 685.3h1M93.6 677.4h1M96.7 683.3h1M75.8 682.7h1M84.6 710.7h1M95.0 686.9h1M76.0 715.1h1M83.1 690.5h1M81.5 706.6h1M88.2 683.5h1M88.3 677.2h1M74.4 691.5h1M108.7 669.2h1M84.7 671.6h1M88.2 691.3h1M94.6 671.2h1M79.5 684.2h1M83.5 717.1h1M84.0 689.8h1M80.5 700.7h1M115.2 693.6h1M103.6 671.3h1M98.2 685.9h1M100.4 697.3h1M93.7 667.5h1M87.8 683.2h1M91.3 688.3h1M98.1 666.9h1M77.9 691.3h1M89.9 683.6h1M85.9 690.3h1M98.1 684.3h1M89.0 667.4h1M90.3 661.2h1M90.9 686.9h1M86.3 680.9h1M81.5 700.8h1M90.3 687.9h1M80.7 693.8h1M99.7 684.9h1M82.1 677.1h1M87.4 678.4h1M70.0 705.0h1M79.2 668.0h1M78.1 713.7h1M85.0 674.4h1M73.8 702.0h1M90.9 690.5h1M84.0 695.9h1M103.7 689.5h1M84.4 673.7h1M91.3 706.2h1M93.6 672.4h1M88.3 704.0h1M79.1 697.6h1M99.9 704.2h1M68.2 674.9h1M90.5 696.4h1M82.2 690.6h1M81.6 705.1h1M61.2 700.7h1M71.8 686.3h1M68.9 684.5h1M86.0 689.9h1M106.5 680.3h1M90.2 692.4h1M89.2 705.8h1M87.8 690.7h1M85.0 690.0h1M85.6 701.4h1M86.5 690.2h1M85.7 698.6h1M80.9 702.3h1M79.8 699.8h1M108.0 685.1h1M85.3 676.0h1M94.6 686.9h1M96.6 678.4h1M92.1 708.8h1M90.8 684.2h1M71.5 694.2h1M93.7 694.1h1M73.6 681.6h1M75.2 681.1h1M83.1 693.6h1M108.1 684.7h1M102.7 664.7h1M103.7 693.2h1M91.3 697.6h1M93.3 709.7h1M95.4 666.1h1M66.4 714.9h1M85.3 705.4h1M82.4 683.1h1M82.4 694.5h1M88.4 681.5h1M92.3 694.8h1M75.8 679.8h1M64.0 693.2h1M86.4 681.3h1M79.4 690.2h1M86.6 696.1h1M95.7 691.6h1M99.0 674.0h1M93.1 691.6h1M74.4 685.4h1M91.3 688.7h1M72.0 687.6h1M103.6 693.8h1M87.2 705.1h1M75.9 690.8h1M97.1 682.0h1M73.6 700.5h1M104.5 653.7h1M88.0 674.2h1M82.9 674.0h1M115.8 671.8h1M86.8 681.0h1M75.0 687.8h1M88.6 709.4h1M89.5 706.9h1M74.1 694.3h1M81.3 672.7h1M128.6 672.8h1M89.0 679.7h1M79.7 679.4h1M97.9 681.0h1M84.6 692.2h1M72.3 696.8h1M84.3 695.4h1M81.9 691.4h1M92.1 699.0h1M78.4 703.5h1M75.0 690.9h1M87.7 690.7h1M57.9 687.2h1M84.2 701.1h1M78.2 709.9h1M65.8 697.1h1M92.4 687.7h1M89.3 699.5h1M77.1 699.4h1M98.3 682.8h1M59.9 684.1h1M76.5 680.2h1M91.1 678.4h1M114.4 687.0h1M71.4 691.0h1M103.6 691.9h1M74.7 705.5h1M80.9 717.3h1M80.0 698.6h1M92.7 682.2h1M84.5 703.7h1M91.9 686.9h1M91.3 708.5h1M96.8 691.7h1M90.0 669.9h1M87.8 683.3h1M94.6 679.6h1M91.3 675.4h1M96.4 677.6h1M85.9 696.4h1M82.6 690.8h1M98.3 706.4h1M65.7 685.5h1M93.9 698.1h1M80.9 692.4h1M84.1 717.0h1M84.0 676.2h1M68.6 680.2h1M101.1 680.1h1M108.4 689.8h1M90.6 695.7h1M95.2 697.4h1M75.2 686.6h1M80.0 692.8h1M83.4 675.9h1M78.4 713.1h1M110.4 671.6h1M90.6 687.7h1M76.6 701.0h1M85.5 709.4h1M91.4 684.1h1M95.9 678.0h1M96.3 694.3h1M66.2 693.7h1M89.9 697.2h1M88.0 688.8h1M82.3 687.4h1M86.3 677.0h1M93.5 683.3h1M92.2 681.6h1M90.9 689.5h1M96.4 691.6h1M96.8 684.1h1M85.6 686.6h1M72.0 692.7h1M98.6 694.5h1M76.6 696.2h1M94.8 670.7h1M90.2 692.1h1M94.8 689.7h1M66.5 672.2h1M108.8 677.5h1M100.7 699.7h1M87.2 675.7h1M101.8 684.0h1M92.2 693.2h1M97.1 697.9h1M70.1 678.2h1M87.9 689.1h1M95.1 685.0h1M84.2 714.0h1M101.9 698.0h1M98.0 676.4h1M85.3 689.0h1M73.8 683.3h1M88.1 674.6h1M92.4 693.0h1M83.6 686.4h1M93.1 692.9h1M90.4 673.8h1M67.8 719.6h1M78.8 687.6h1M65.5 686.9h1M77.9 701.6h1M81.6 685.3h1M77.4 687.2h1M68.3 698.5h1M99.8 686.9h1M80.2 706.3h1M91.8 675.6h1M79.7 684.5h1M85.7 703.9h1M78.2 690.4h1M87.5 675.1h1M80.8 698.5h1M99.1 663.3h1M94.3 683.5h1M100.9 692.0h1M108.6 685.8h1M81.8 681.2h1M70.0 701.3h1M92.1 697.2h1M90.2 670.7h1M81.6 688.2h1M88.1 697.9h1M102.4 687.6h1M62.8 685.2h1M62.0 688.5h1M72.6 696.7h1M83.7 703.4h1M98.5 680.2h1M97.0 686.1h1M91.4 703.6h1M73.2 693.0h1M103.7 674.9h1M88.7 690.3h1M81.5 675.7h1M78.5 680.6h1M98.5 688.4h1M94.2 673.0h1M92.0 689.3h1M98.2 677.2h1M95.5 702.5h1M106.7 671.9h1M73.5 676.5h1M97.2 692.9h1M90.1 678.1h1M100.5 703.6h1M85.9 688.2h1M99.8 691.0h1M101.5 679.8h1M90.1 684.3h1M79.8 688.1h1M83.0 696.5h1M82.8 691.5h1M77.1 678.2h1M102.5 672.7h1M106.9 693.8h1M60.2 690.5h1M81.5 691.3h1M84.2 683.1h1M100.5 683.4h1M97.2 677.9h1M78.4 707.6h1M83.1 677.7h1M84.3 702.4h1M84.4 681.7h1M93.5 698.6h1M83.9 686.6h1M84.1 710.6h1M84.6 694.8h1M63.1 699.1h1M86.9 685.6h1M81.6 675.1h1M69.4 697.0h1M79.0 690.8h1M84.2 684.3h1M78.0 713.9h1M73.7 687.7h1M82.9 677.1h1M75.4 703.1h1M96.8 687.6h1M123.1 687.2h1M100.3 675.4h1M98.6 705.1h1M82.0 712.0h1M77.1 679.3h1M85.8 680.3h1M93.5 674.3h1M87.2 666.4h1M85.9 701.9h1M83.3 694.1h1M98.7 672.7h1M71.8 695.2h1M89.4 685.4h1M75.3 707.2h1M73.1 690.8h1M85.8 698.1h1M81.2 681.6h1M109.1 672.2h1M95.3 684.8h1M80.9 690.7h1M83.4 694.1h1M57.4 698.6h1M87.1 677.9h1M81.9 718.2h1M107.3 690.1h1M88.9 685.1h1M102.0 679.1h1M77.0 700.6h1M75.3 683.9h1M102.7 665.4h1M85.5 691.1h1M89.2 671.6h1M83.7 686.5h1M108.1 694.1h1M77.7 702.5h1M93.7 685.8h1M83.5 687.2h1M68.8 687.9h1M96.9 702.8h1M107.3 678.3h1M93.3 659.2h1M83.2 675.8h1M95.6 667.1h1M74.5 680.5h1M90.8 697.8h1M75.9 713.9h1M88.1 679.2h1M90.3 688.0h1M95.7 690.4h1M111.1 695.0h1M79.1 701.0h1M94.9 675.0h1M77.8 682.9h1M58.3 706.0h1M83.9 704.6h1M80.0 692.4h1M94.5 698.1h1M89.9 676.2h1M111.3 691.4h1M101.8 703.3h1M102.2 689.1h1M91.7 695.1h1M69.2 704.5h1M75.3 698.0h1M74.8 701.5h1M80.8 720.2h1M88.5 694.7h1M76.0 689.5h1M85.7 686.4h1M81.4 680.9h1M95.0 682.2h1M77.1 696.8h1M77.1 690.5h1M80.5 680.6h1M83.8 680.8h1M72.1 698.2h1M83.0 673.6h1M81.9 693.1h1M91.2 692.2h1M89.2 695.5h1M80.7 682.0h1M93.3 682.5h1M86.4 697.0h1M97.0 700.2h1M78.5 687.7h1M92.6 670.8h1M72.1 701.2h1M79.4 681.0h1M95.4 692.7h1M96.7 682.2h1M83.1 686.6h1M89.7 664.8h1M78.5 700.3h1M77.5 691.6h1M87.8 695.1h1M81.0 678.1h1M114.6 672.0h1M105.7 662.8h1M87.6 686.8h1M107.8 706.2h1M97.4 674.1h1M77.3 683.7h1M80.5 694.4h1M77.4 689.5h1M103.0 700.7h1M65.3 685.3h1M82.1 705.9h1M82.6 712.8h1M90.5 704.8h1M76.6 689.1h1M97.9 692.3h1M65.2 693.2h1M88.4 696.1h1M79.2 712.0h1M88.1 705.7h1M90.9 689.0h1M82.8 677.1h1M96.1 695.1h1M96.9 681.7h1M75.0 688.8h1M82.8 690.5h1M97.5 675.3h1M80.9 699.3h1M96.6 711.8h1M92.3 677.7h1M74.6 684.2h1M87.2 692.1h1M85.6 682.6h1M84.3 689.3h1M93.1 688.3h1M77.2 678.9h1M103.1 683.0h1M84.4 689.8h1M99.1 681.7h1M88.4 686.1h1M92.9 675.7h1M88.7 700.6h1M99.8 692.2h1M89.7 706.6h1M94.4 703.0h1M72.8 681.2h1M95.4 683.5h1M81.5 680.1h1M103.1 670.2h1M87.6 673.0h1M84.4 716.1h1M113.9 674.8h1M75.0 712.0h1M76.7 672.0h1M90.3 675.7h1M70.0 707.8h1M78.2 679.9h1M88.3 686.7h1M99.1 686.4h1M104.3 696.8h1M106.5 695.9h1M87.2 695.5h1M86.7 671.4h1M73.2 702.3h1M59.8 688.6h1M71.9 693.5h1M74.7 696.2h1M84.2 684.8h1M76.9 666.9h1M87.3 674.3h1M83.1 694.8h1M98.2 693.7h1M103.1 667.7h1M94.0 705.1h1M90.9 675.2h1M90.9 682.0h1M79.2 704.1h1M84.4 677.2h1M78.8 714.6h1M76.9 700.4h1M88.4 702.3h1M83.3 679.6h1M79.2 680.0h1M115.6 682.2h1M82.8 705.2h1M93.8 685.0h1M93.4 690.3h1M99.1 704.4h1M82.9 690.2h1M84.4 704.2h1M90.8 697.1h1M96.5 678.8h1M87.9 705.0h1M96.8 695.5h1M83.3 686.4h1M76.8 689.5h1M85.7 673.2h1M99.5 676.4h1M89.3 695.5h1M80.2 670.6h1M97.3 690.6h1M83.6 703.5h1M96.5 675.2h1M85.5 669.5h1M83.5 706.7h1M77.0 702.1h1M69.5 691.6h1M97.0 705.8h1M91.5 696.5h1M105.7 655.0h1M67.3 717.5h1M114.1 687.3h1M87.2 692.2h1M86.8 682.3h1M86.3 688.1h1M94.0 694.9h1M97.4 692.7h1M75.6 709.1h1M90.2 682.1h1M107.4 670.0h1M73.3 687.9h1M91.1 697.1h1M87.7 696.8h1M78.6 685.1h1M87.9 673.5h1M88.5 684.2h1M94.1 675.3h1M80.5 684.9h1M82.3 679.3h1M83.5 674.8h1M92.4 695.3h1M86.3 687.4h1M76.5 681.7h1M84.0 679.8h1M73.3 695.7h1M86.2 684.9h1M77.4 691.8h1M78.7 687.0h1M88.5 697.1h1M94.9 679.7h1M99.9 671.7h1M84.5 705.1h1M112.9 682.3h1M82.4 686.5h1M72.9 692.2h1M81.7 682.3h1M99.8 676.1h1M105.3 693.0h1M93.6 680.4h1M80.8 668.3h1M89.5 685.4h1M90.8 680.3h1M91.9 670.5h1M62.0 702.9h1M98.4 649.3h1M100.8 680.8h1M84.6 672.3h1M75.3 701.3h1M78.2 691.7h1M84.7 713.0h1M96.3 671.0h1M81.1 678.0h1M71.0 686.6h1M98.7 686.0h1M93.9 685.5h1M81.7 691.9h1M85.6 711.9h1M106.4 687.3h1M93.1 664.3h1M85.1 717.5h1M77.5 701.8h1M100.0 680.5h1M83.9 685.0h1M95.3 686.8h1M103.1 697.7h1M86.3 719.5h1M83.0 683.6h1M83.8 680.2h1M81.7 690.2h1M96.3 668.0h1M70.9 685.6h1M83.0 695.8h1M77.7 709.7h1M80.5 688.9h1M87.0 702.8h1M89.7 688.7h1M80.4 693.4h1M90.9 684.0h1M86.2 668.3h1M80.5 705.0h1M102.2 683.5h1M62.4 718.5h1M84.5 719.7h1M81.8 702.5h1M79.6 707.6h1M99.2 673.0h1M100.8 717.8h1M83.9 676.3h1M89.5 683.8h1M69.8 682.8h1M89.1 671.0h1M98.4 690.8h1M84.4 706.3h1M76.1 700.7h1M71.4 690.6h1M93.5 681.0h1M85.1 697.4h1M103.3 699.0h1M91.5 684.8h1M70.3 714.6h1M107.2 657.8h1M96.0 685.8h1M94.2 690.6h1M84.2 690.1h1M86.0 703.1h1M83.5 684.1h1M93.6 694.6h1M91.2 691.2h1M102.7 697.0h1M88.7 686.3h1M93.7 665.4h1M80.6 683.2h1M88.3 684.4h1M113.6 689.1h1M90.8 714.1h1M86.3 685.8h1M100.0 694.6h1M96.6 700.1h1M82.3 683.1h1M78.4 693.3h1M97.5 673.7h1M80.4 675.9h1M108.5 691.5h1M88.8 674.6h1M75.0 685.7h1M86.7 674.6h1M83.8 704.4h1M86.5 690.6h1M63.2 693.9h1M84.7 682.0h1M71.1 693.6h1M75.0 686.8h1M68.7 694.1h1M96.4 676.4h1M89.9 670.7h1M92.8 693.7h1M82.1 701.1h1M76.7 693.2h1M105.0 683.1h1M73.9 706.9h1M92.3 684.3h1M66.3 674.2h1M69.6 712.2h1M89.6 678.5h1M99.1 702.3h1M77.0 698.1h1M68.2 699.7h1M106.4 666.5h1M87.0 681.9h1M85.3 690.8h1M89.5 698.8h1M92.0 699.8h1M97.6 698.6h1M78.9 696.7h1M82.2 681.0h1M108.0 685.8h1M86.9 664.8h1M83.8 699.3h1M84.1 683.9h1M102.6 680.5h1M82.7 689.5h1M83.7 702.6h1M92.6 686.6h1M82.4 688.1h1M105.0 679.8h1M93.6 668.8h1M89.9 696.3h1M100.4 688.6h1M92.7 691.1h1M98.1 709.4h1M88.6 679.3h1M92.9 686.0h1M93.4 696.2h1M88.0 683.8h1M89.7 673.9h1M89.4 678.2h1M91.3 689.3h1M84.0 676.3h1M86.9 681.4h1M84.8 698.1h1M96.9 671.1h1M96.7 702.0h1M98.8 688.6h1M85.4 710.0h1M82.8 672.9h1M87.4 692.5h1M75.0 679.0h1M108.2 683.7h1M95.0 679.9h1M69.7 692.8h1M101.1 676.9h1M66.7 693.9h1M83.3 690.7h1M74.9 689.6h1M80.4 701.7h1M88.0 699.1h1M85.8 664.8h1M64.8 702.7h1M96.0 696.5h1M85.6 669.0h1M81.0 695.9h1M101.5 680.5h1M80.2 682.5h1M97.6 695.9h1M66.3 710.1h1M76.2 675.6h1M68.8 686.7h1M111.9 710.9h1M72.7 686.1h1M88.1 693.7h1M81.1 672.7h1M81.8 683.0h1M66.7 697.6h1M70.3 674.5h1M103.1 695.0h1M102.3 685.7h1M81.8 689.9h1M71.3 703.0h1M89.3 685.0h1M65.8 694.9h1M104.3 700.5h1M96.0 682.2h1M87.9 695.4h1M88.5 701.0h1M79.1 664.8h1M59.7 687.6h1M71.2 702.2h1M98.2 685.6h1M92.3 688.4h1M88.3 683.3h1M81.9 704.8h1M83.4 690.0h1M99.5 696.6h1M82.1 693.8h1M75.2 694.6h1M89.9 688.3h1M88.2 693.1h1M58.5 688.9h1M87.2 683.5h1M75.8 690.2h1M104.1 681.0h1M79.2 686.2h1M73.3 699.4h1M75.5 703.6h1M96.4 692.9h1M97.8 684.7h1M67.0 695.0h1M93.4 669.2h1M72.9 706.6h1M91.2 703.6h1M93.7 687.8h1M91.1 697.8h1M86.1 687.1h1M89.8 684.7h1M113.0 671.9h1M69.7 679.8h1M97.9 681.0h1M88.1 686.4h1M89.5 671.5h1M87.3 682.5h1M98.4 692.8h1M72.5 682.7h1M92.7 701.3h1M94.9 684.9h1M98.7 658.0h1M80.5 680.0h1M75.0 699.7h1M89.5 691.8h1M84.9 697.2h1M95.1 680.0h1M96.7 675.3h1M105.9 667.9h1M83.2 677.9h1M86.8 704.7h1M78.1 712.9h1M102.0 688.9h1M79.9 702.1h1M97.1 685.5h1M113.9 672.6h1M71.6 691.8h1M92.8 707.3h1M66.8 697.7h1M100.4 677.0h1M81.3 676.9h1M94.9 696.4h1M93.0 690.2h1M97.4 684.4h1M94.4 696.4h1M100.9 690.7h1M87.3 697.4h1M69.2 674.5h1M104.4 685.2h1M74.7 686.5h1M84.7 690.8h1M77.9 703.9h1M74.3 712.8h1M93.9 667.3h1M72.7 694.6h1M89.4 683.5h1M86.5 691.3h1M73.6 694.3h1M111.8 673.6h1M75.1 700.9h1M101.4 696.8h1M79.3 690.9h1M88.7 686.3h1M90.9 700.7h1M92.5 687.3h1M84.1 711.2h1M72.6 717.5h1M94.7 687.8h1M78.1 713.7h1M100.0 695.7h1M109.8 660.7h1M87.5 685.5h1M78.2 693.0h1M92.4 693.7h1M84.8 674.4h1M92.7 694.5h1M110.3 692.6h1M86.6 675.9h1M117.1 671.5h1M88.6 697.5h1M92.1 703.2h1M74.8 685.1h1M88.4 674.3h1M79.5 708.0h1M89.7 687.2h1M80.0 692.1h1M86.0 676.9h1M95.3 671.5h1M100.9 680.7h1M60.6 679.6h1M89.7 678.2h1M106.9 699.0h1M110.3 692.2h1M101.7 677.3h1M101.2 679.5h1M85.8 673.6h1M87.1 694.0h1M85.7 676.6h1M96.7 696.9h1M85.4 699.0h1M97.6 674.2h1M86.0 667.6h1M74.6 698.3h1M76.4 697.4h1M90.5 663.7h1M80.9 709.2h1M86.6 690.9h1M78.4 673.1h1M84.3 679.8h1M87.7 666.1h1M102.4 704.5h1M77.8 696.1h1M76.1 703.0h1M76.8 690.9h1M101.3 690.8h1M82.7 672.7h1M68.2 709.6h1M92.3 688.2h1M100.8 686.5h1M78.1 690.9h1M85.3 689.7h1M115.0 687.0h1M89.5 685.5h1M78.6 680.2h1M64.9 691.0h1M69.0 673.1h1M75.6 668.9h1M102.2 699.1h1M75.3 717.4h1M94.0 657.0h1M86.6 677.5h1M66.4 692.9h1M99.6 690.4h1M69.6 687.1h1M77.7 705.9h1M85.3 678.2h1M75.9 669.4h1M76.7 703.3h1M64.4 698.9h1M85.1 699.6h1M73.2 704.6h1M104.3 710.9h1M67.6 695.2h1M83.9 691.7h1M75.0 703.4h1M113.4 698.6h1M75.4 686.2h1M94.8 688.3h1M77.6 707.1h1M92.3 699.7h1M84.3 705.4h1M81.0 677.9h1M86.3 672.8h1M100.8 693.5h1M66.9 697.8h1M96.1 682.0h1M91.1 680.9h1M85.5 688.7h1M91.9 676.1h1M73.3 697.7h1M80.5 697.6h1M80.5 675.7h1M94.9 689.9h1M94.8 682.7h1M82.2 705.9h1M66.8 716.6h1M92.3 686.9h1M87.4 696.4h1M77.4 695.7h1M75.3 671.0h1M88.6 689.9h1M93.8 693.7h1M94.4 696.3h1M74.1 708.0h1M117.3 672.6h1M71.8 702.4h1M96.9 698.1h1M104.0 667.1h1M90.7 693.6h1M100.8 674.1h1M86.6 685.0h1M84.4 688.4h1M84.6 668.9h1M85.9 690.4h1M81.8 648.5h1M78.3 684.3h1M76.2 711.9h1M97.0 683.8h1M93.9 635.5h1M85.2 632.4h1M87.3 633.5h1M96.7 631.8h1M94.0 631.0h1M81.8 632.8h1M99.6 631.6h1M87.7 629.9h1M102.4 630.6h1M85.2 631.7h1M97.3 632.0h1M90.5 631.9h1M95.3 631.9h1M91.4 631.8h1M84.4 633.4h1M86.7 630.4h1M88.1 631.9h1M95.1 630.3h1M83.6 632.1h1M92.7 630.7h1M84.3 632.1h1M89.8 630.1h1M85.7 633.5h1M84.7 633.1h1M82.1 633.5h1M99.4 631.2h1M86.8 632.6h1M83.7 632.5h1M97.3 632.2h1M92.4 631.7h1M96.1 631.0h1M99.4 631.9h1M88.8 630.1h1M88.1 632.2h1M97.4 630.1h1M89.9 631.1h1M83.9 631.9h1M86.4 632.9h1M75.7 632.7h1M80.0 629.7h1M93.4 631.5h1M91.3 630.8h1M84.8 631.1h1M90.3 631.0h1M88.2 630.9h1M91.8 630.6h1M79.1 629.0h1M90.4 632.0h1M95.9 631.1h1M84.3 630.3h1M94.7 631.2h1M96.0 631.8h1M89.0 629.8h1M86.8 632.8h1M87.2 632.6h1M81.5 633.0h1M105.9 633.1h1M92.3 630.5h1M87.6 631.2h1M91.6 629.7h1M85.8 632.8h1M91.4 632.7h1M95.3 630.6h1M83.1 632.4h1M90.7 632.0h1M86.1 633.0h1M93.3 633.2h1M88.6 632.7h1M90.2 630.9h1M90.1 630.1h1M89.6 632.1h1M94.4 630.7h1M83.2 631.1h1M79.1 631.2h1M105.0 632.1h1M86.4 631.1h1M100.3 630.6h1M89.9 631.8h1M86.5 631.1h1M81.3 631.0h1M97.7 633.5h1M89.0 632.7h1M93.1 632.0h1M89.8 633.2h1M93.7 631.7h1M89.3 632.9h1M87.3 631.1h1M89.0 631.4h1M97.5 632.3h1M90.1 631.3h1M98.4 632.4h1M102.0 632.9h1M89.4 631.3h1M89.0 632.1h1M94.9 632.4h1M99.2 630.2h1M90.7 630.3h1M84.9 631.2h1M87.0 630.8h1M82.2 633.2h1M88.8 633.0h1M84.5 629.3h1M87.3 632.9h1M87.5 632.3h1M84.6 633.4h1M92.9 633.1h1M89.0 633.3h1M90.9 631.4h1M87.0 632.0h1M85.5 630.6h1M91.1 637.7h1M88.4 638.3h1M100.6 628.8h1M91.9 630.1h1M86.0 635.3h1M74.8 637.2h1M95.7 636.9h1M94.5 642.7h1M87.9 639.4h1M99.7 636.7h1M78.6 633.8h1M88.3 627.2h1M89.9 637.9h1M88.6 633.7h1M99.8 631.7h1M84.1 634.7h1M97.6 637.2h1M90.7 632.3h1M98.3 638.5h1M78.9 636.0h1M74.6 641.2h1M94.2 631.7h1M81.8 633.1h1M78.8 637.0h1M86.9 626.5h1M90.1 639.8h1M82.0 632.9h1M102.1 635.3h1M86.6 635.3h1M95.3 630.0h1M89.6 627.1h1M79.9 627.6h1M95.7 635.9h1M95.0 640.0h1M90.5 635.6h1M92.9 636.6h1M83.3 633.3h1M89.3 634.7h1M85.4 633.9h1M92.1 635.3h1M94.1 638.2h1M93.9 638.9h1M95.7 640.8h1M94.3 631.7h1M105.4 639.6h1M98.4 637.8h1M90.6 629.3h1M93.1 632.9h1M87.6 624.9h1M100.3 629.2h1M83.1 636.6h1M93.9 630.9h1M90.2 635.6h1M91.3 636.9h1M95.3 632.8h1M79.7 644.3h1M87.7 630.0h1M95.1 637.1h1M86.2 645.1h1M74.9 640.3h1M90.0 635.9h1M92.3 633.4h1M92.3 628.6h1M87.6 642.8h1M73.4 640.1h1M75.7 630.6h1M96.0 632.7h1M86.5 627.7h1M89.5 633.7h1M86.1 627.4h1M91.3 636.4h1M97.7 636.8h1M100.2 639.9h1M71.8 642.0h1M89.6 629.8h1M93.1 638.8h1M80.1 628.9h1M94.7 632.0h1M99.8 635.5h1M86.7 628.5h1M94.1 626.7h1M81.7 628.6h1M101.3 642.2h1M88.8 632.8h1M94.8 640.1h1M85.0 644.4h1M88.9 639.6h1M74.8 634.3h1M85.7 643.5h1M88.8 628.7h1M103.0 631.4h1M90.2 628.8h1M94.7 635.4h1M88.4 632.7h1M86.5 631.2h1M81.1 639.9h1M96.1 628.2h1M82.6 636.3h1M105.0 633.6h1M88.2 633.4h1M91.9 633.7h1M97.3 638.9h1M93.8 641.6h1M88.7 632.0h1M109.7 625.8h1M80.1 623.9h1M92.6 629.7h1M97.2 625.0h1M89.3 632.7h1M83.2 639.5h1M87.6 636.5h1M86.8 635.2h1M87.3 634.8h1M89.6 631.4h1M93.1 633.7h1M83.9 629.8h1M93.1 640.5h1M81.7 632.6h1M93.2 639.2h1M94.9 629.1h1M90.5 638.6h1M91.8 633.5h1M82.5 635.2h1M89.8 634.6h1M100.1 639.9h1M85.1 635.5h1M88.2 634.9h1M100.9 638.6h1M90.5 631.5h1M89.2 636.1h1M87.0 639.5h1M90.4 629.2h1M103.6 621.4h1M88.5 633.9h1M96.7 639.5h1M99.8 641.5h1M92.3 635.0h1M96.9 634.4h1M82.0 632.4h1M94.6 637.3h1M83.0 639.9h1M92.3 627.7h1M93.3 639.0h1M93.7 633.1h1M85.0 639.6h1M91.7 634.5h1M87.6 629.8h1M78.0 632.9h1M97.5 637.9h1M85.8 641.4h1M88.8 630.0h1M96.6 640.7h1M87.7 629.0h1M89.8 623.5h1M90.6 641.4h1M92.0 631.2h1M94.9 632.3h1M98.5 632.9h1M103.6 632.9h1M91.5 630.3h1M81.9 636.1h1M92.5 630.1h1M93.9 632.6h1M86.6 634.2h1M92.8 637.8h1M98.3 636.2h1M85.5 631.4h1M92.7 629.1h1M89.1 632.8h1M89.6 635.3h1M97.0 641.9h1M96.0 639.1h1M83.3 639.2h1M98.7 628.4h1M106.7 631.9h1M74.7 642.5h1M90.7 630.9h1M86.5 639.3h1M91.9 632.8h1M97.8 630.3h1M84.7 632.0h1M85.4 637.6h1M88.7 629.7h1M87.3 625.5h1M91.3 635.0h1M94.2 633.4h1M92.8 630.3h1M90.4 635.2h1M82.3 637.1h1M91.2 634.7h1M87.1 643.5h1M90.3 631.0h1M84.7 637.2h1M88.9 630.9h1M85.5 638.7h1M90.8 639.2h1M90.1 629.2h1M95.9 635.9h1M86.0 633.1h1M83.9 638.2h1M87.5 636.7h1M91.9 633.3h1M92.7 633.4h1M82.6 632.6h1M82.6 637.9h1M94.5 631.9h1M94.3 635.6h1M96.6 630.3h1M90.4 630.0h1M85.8 640.7h1M77.2 630.4h1M93.4 638.0h1M85.1 625.4h1M79.1 636.1h1M97.4 638.6h1M85.5 640.6h1M89.0 637.3h1M89.0 641.7h1M86.9 624.8h1M88.2 635.4h1M92.1 631.3h1M88.7 629.4h1M88.7 634.9h1M91.8 641.9h1M77.2 636.8h1M93.1 629.3h1M90.7 634.5h1M83.7 637.7h1M102.7 637.5h1M95.3 639.3h1M89.4 638.9h1M85.0 635.3h1M94.8 640.4h1M88.4 633.2h1M93.3 634.1h1M91.1 638.1h1M85.3 638.4h1M92.7 633.3h1M82.1 631.7h1M90.0 638.7h1M77.5 637.7h1M91.5 629.4h1M95.8 636.3h1M93.1 630.1h1M83.1 638.6h1M99.3 636.1h1M89.0 632.5h1M79.1 638.9h1M89.6 640.0h1M85.6 639.2h1M85.6 637.1h1M99.1 631.3h1M96.1 634.5h1M84.2 635.4h1M94.4 631.3h1M88.5 632.0h1M85.3 633.6h1M95.6 632.3h1M98.3 632.8h1M85.8 639.3h1M99.3 631.6h1M94.0 629.3h1M87.6 632.8h1M94.8 628.9h1M87.0 631.4h1M90.9 629.0h1M81.6 647.1h1M91.6 627.8h1M95.6 628.6h1M78.1 641.9h1M98.3 630.8h1M83.2 636.6h1M103.3 637.2h1M94.5 629.2h1M78.8 636.2h1M96.8 635.1h1M90.2 640.7h1M84.8 639.4h1M95.6 631.7h1M91.0 635.0h1M94.0 630.2h1M88.8 634.9h1M90.4 634.6h1M91.9 633.6h1M87.0 639.1h1M86.1 633.1h1M84.6 629.4h1M93.1 634.3h1M89.4 636.5h1M89.1 637.5h1M101.8 636.0h1M88.5 641.8h1M94.8 627.1h1M98.8 635.4h1M95.7 629.4h1M84.8 631.6h1M93.8 629.5h1M85.7 638.7h1M86.1 635.0h1M84.5 627.0h1M89.7 634.0h1M81.1 638.8h1M95.5 638.4h1M87.0 629.4h1M89.7 635.2h1M89.1 631.9h1M83.9 631.2h1M89.7 632.3h1M100.9 633.3h1M93.1 632.4h1M89.1 630.2h1M87.2 627.9h1M77.0 640.4h1M83.5 636.4h1M89.4 632.0h1M94.9 632.0h1M93.0 632.9h1M96.4 638.7h1M90.7 639.3h1M93.5 641.4h1M89.5 627.7h1M91.6 635.5h1M87.9 633.6h1M88.5 629.0h1M101.2 631.1h1M83.4 627.5h1M84.9 634.3h1M99.6 637.1h1M85.6 629.0h1M83.1 634.1h1M95.8 632.4h1M100.4 643.0h1M91.2 624.9h1M97.2 634.1h1M94.5 638.8h1M83.8 634.8h1M91.4 631.2h1M94.7 633.9h1M87.7 642.8h1M91.3 641.7h1M89.3 639.1h1M85.4 635.1h1M97.1 624.9h1M93.7 633.3h1M97.2 635.3h1M89.8 628.8h1M108.9 631.2h1M88.2 631.3h1M88.3 635.5h1M81.7 639.1h1M88.6 637.1h1M76.8 632.2h1M88.3 632.8h1M86.0 635.9h1M92.8 630.2h1M77.8 637.7h1M88.2 639.2h1M95.8 634.0h1M81.1 632.9h1M85.6 640.0h1M79.5 638.5h1M80.4 632.0h1M81.2 631.4h1M87.4 636.1h1M86.5 637.5h1M101.3 635.2h1M82.9 633.7h1M89.6 632.9h1M97.5 639.6h1M102.9 636.8h1M73.3 633.9h1M94.5 630.9h1M86.4 638.5h1M91.1 629.5h1M86.5 620.9h1M90.2 629.1h1M89.9 629.3h1M84.3 632.2h1M107.9 629.3h1M82.7 632.1h1M96.9 638.0h1M94.6 633.1h1M91.0 631.1h1M89.1 630.9h1M81.0 630.1h1M102.4 636.2h1M85.4 634.0h1M87.3 639.9h1M90.0 631.7h1M94.5 635.9h1M85.9 631.1h1M91.1 627.3h1M84.4 638.9h1M95.7 639.4h1M87.4 631.9h1M88.5 632.4h1M98.3 633.5h1M98.8 631.4h1M92.6 641.6h1M85.5 631.6h1M86.4 627.4h1M88.3 631.6h1M104.2 632.4h1M76.6 638.6h1M96.2 634.3h1M92.0 637.6h1M86.6 634.7h1M91.1 641.8h1M99.1 635.2h1M81.7 638.4h1M89.8 639.6h1M90.5 635.3h1M94.3 631.3h1M86.0 644.6h1M84.7 638.6h1M94.5 638.1h1M98.8 628.6h1M96.2 625.4h1M90.5 636.0h1M96.7 639.3h1M84.3 633.3h1M89.2 631.4h1M85.0 631.6h1M97.4 640.5h1M94.9 641.9h1M90.7 629.7h1M86.0 635.4h1M96.7 639.8h1M84.5 638.7h1M86.8 637.1h1M96.0 641.0h1M86.8 635.6h1M92.9 632.6h1M90.7 637.1h1M79.8 631.6h1M104.8 636.5h1M86.6 626.4h1M84.1 636.8h1M94.5 636.5h1M93.9 631.8h1M100.2 629.5h1M93.4 633.3h1M79.4 638.5h1M88.4 637.6h1M98.2 635.2h1M86.0 633.5h1M89.7 640.9h1M95.6 641.5h1M95.0 631.1h1M96.0 638.8h1M89.4 636.5h1M88.1 628.9h1M89.6 637.9h1M87.9 624.6h1M85.1 639.3h1M91.6 639.4h1M85.4 632.6h1M83.8 631.1h1M93.4 635.1h1M87.1 635.8h1M81.9 632.8h1M80.7 627.9h1M81.6 629.6h1M100.1 640.6h1M98.1 631.9h1M94.1 629.5h1M86.7 635.6h1M80.1 635.4h1M94.0 625.3h1M74.7 633.3h1M89.4 635.1h1M83.0 637.0h1M90.9 631.3h1M100.5 635.6h1M94.8 642.7h1M87.0 633.5h1M79.2 633.5h1M92.9 645.6h1M93.7 635.4h1M82.2 630.7h1M79.8 641.0h1M90.3 650.1h1M84.8 647.3h1M85.4 651.8h1M93.1 645.5h1M87.2 641.8h1M87.2 660.3h1M89.6 653.1h1M92.8 656.5h1M87.9 643.6h1M95.2 653.5h1M86.1 654.4h1M89.6 648.3h1M99.5 651.4h1M91.3 646.8h1M90.7 654.2h1M92.1 644.4h1M92.1 647.9h1M91.3 647.4h1M78.0 639.7h1M87.6 636.5h1M81.6 659.5h1M93.4 646.0h1M91.4 636.3h1M91.0 653.8h1M90.7 641.4h1M94.8 645.6h1M86.6 649.6h1M88.0 659.6h1M88.9 660.2h1M92.1 641.7h1M89.7 648.8h1M97.4 655.5h1M103.4 644.9h1M87.3 661.2h1M84.8 650.4h1M98.3 643.0h1M87.8 644.4h1M92.5 650.7h1M89.5 652.1h1M85.4 646.4h1M92.2 659.5h1M89.5 648.8h1M96.7 648.9h1M96.6 649.8h1M95.9 649.5h1M84.7 643.8h1M92.0 658.8h1M99.7 646.8h1M103.1 642.4h1M85.1 653.6h1M81.5 653.5h1M91.7 651.9h1M83.2 650.6h1M94.7 648.2h1M95.2 648.6h1M91.5 646.8h1M82.4 647.6h1M92.4 644.4h1M79.1 640.0h1M96.7 647.3h1M85.5 655.3h1M88.7 640.3h1M87.3 643.7h1M88.7 643.5h1M90.0 651.0h1M86.6 647.4h1M88.8 653.0h1M85.8 652.6h1M96.4 647.4h1M84.4 646.8h1M80.1 645.5h1M83.2 647.6h1M87.7 651.3h1M90.3 650.8h1M89.4 650.0h1M83.6 652.1h1M96.7 654.6h1M82.4 650.8h1M80.9 652.7h1M88.6 646.0h1M85.6 647.2h1M89.6 643.2h1M90.0 649.9h1M92.5 648.3h1M89.6 661.2h1M95.1 650.3h1M82.2 651.9h1M92.8 633.9h1M88.8 650.6h1M89.9 649.0h1M88.8 656.1h1M91.7 646.9h1M88.4 660.0h1M85.0 645.6h1M91.4 649.3h1M91.3 656.0h1M95.8 650.8h1M89.9 648.2h1M88.4 654.0h1M82.8 642.8h1M87.2 643.2h1M85.7 655.1h1M77.5 651.7h1M82.6 647.2h1M86.6 643.0h1M81.6 648.9h1M73.6 636.8h1M87.6 654.5h1M99.7 646.9h1M85.3 646.9h1M92.2 653.6h1M84.5 651.1h1M89.5 654.8h1M87.5 647.4h1M85.1 641.2h1M91.2 652.4h1M95.8 650.0h1M87.2 643.5h1M83.4 644.5h1M91.5 649.0h1M77.3 647.9h1M88.1 642.8h1M89.6 651.4h1M84.1 641.1h1M87.9 649.9h1M88.3 657.0h1M90.5 643.0h1M93.9 644.9h1M93.4 649.0h1M96.4 643.0h1M93.6 650.8h1M84.8 652.4h1M102.0 650.5h1M85.5 647.7h1M96.8 649.9h1M97.7 644.9h1M96.8 639.8h1M88.8 646.9h1M87.0 655.2h1M86.4 650.4h1M99.8 653.0h1M87.4 644.5h1M78.8 650.6h1M94.5 654.6h1M91.0 660.4h1M93.9 635.8h1M84.9 652.9h1M87.5 653.1h1M103.7 644.3h1M101.8 648.1h1M81.7 649.0h1M94.6 645.3h1M98.3 643.7h1M88.6 653.6h1M88.5 645.4h1M89.6 652.1h1M99.2 656.0h1M99.9 648.3h1M80.6 648.3h1M87.5 643.0h1M86.9 648.1h1M90.0 653.5h1M84.7 654.8h1M90.0 652.5h1M96.5 641.7h1M98.5 644.6h1M91.9 654.5h1M94.8 639.9h1M90.6 654.8h1M89.1 648.1h1M90.1 657.5h1M86.8 643.3h1M83.7 645.6h1M88.4 650.4h1M89.3 639.0h1M81.1 652.2h1M93.7 641.0h1M94.9 635.1h1M102.5 651.8h1M80.6 651.3h1M89.5 646.0h1M87.7 647.3h1M89.2 643.5h1M86.6 651.6h1M92.6 641.2h1M87.0 657.1h1M93.7 657.6h1M82.3 642.8h1M77.8 637.8h1M87.7 642.7h1M83.8 644.7h1M88.7 653.1h1M92.8 638.8h1M97.9 646.7h1M84.2 648.3h1M87.5 640.9h1M98.3 645.3h1M86.4 651.5h1M98.9 651.2h1M84.8 650.9h1M95.8 650.6h1M93.3 645.9h1M89.4 639.2h1M85.8 642.2h1M89.8 656.7h1M77.4 641.2h1M84.6 648.0h1M96.1 644.2h1M85.4 655.2h1M91.8 651.4h1M94.3 644.4h1M91.0 644.9h1M85.8 649.2h1M92.1 641.5h1M85.5 651.9h1M90.7 652.2h1M88.0 644.1h1M94.1 651.8h1M74.1 653.3h1M85.5 652.2h1M98.4 647.0h1M84.4 649.9h1M90.2 651.6h1M82.0 649.9h1M94.7 652.4h1M93.2 655.1h1M85.2 655.2h1M90.9 643.0h1M88.1 650.0h1M91.6 655.9h1M90.8 645.7h1M101.8 646.7h1M85.2 653.6h1M87.5 644.2h1M83.9 655.0h1M83.9 649.1h1M87.2 647.4h1M85.2 649.3h1M93.1 654.3h1M87.8 642.1h1M81.6 648.6h1M76.0 655.9h1M89.9 649.2h1M82.0 645.0h1M85.6 652.2h1M87.5 651.9h1M92.6 637.9h1M88.5 655.5h1M86.9 649.2h1M89.0 641.8h1M101.8 647.8h1M93.3 646.1h1M97.5 654.9h1M96.3 653.8h1M93.6 656.2h1M92.0 649.3h1M94.2 643.6h1M75.7 653.0h1M90.6 644.7h1M88.3 643.3h1M85.1 649.6h1M90.4 653.1h1M89.2 652.0h1M93.5 644.7h1M80.4 644.8h1M88.4 645.6h1M101.9 644.8h1M92.4 644.3h1M93.6 641.6h1M95.0 649.5h1M87.5 642.0h1M99.0 645.4h1M97.7 635.3h1M83.1 658.5h1M99.6 648.7h1M95.3 651.9h1M87.8 649.3h1M83.4 641.2h1M90.4 652.6h1M90.6 641.8h1M94.4 649.0h1M93.9 647.0h1M88.3 654.3h1M97.3 641.9h1M83.6 653.9h1M91.7 648.8h1M84.3 654.1h1M90.8 649.8h1M91.9 645.7h1M91.9 649.3h1M93.7 650.7h1M82.7 644.7h1M88.3 655.0h1M86.2 654.8h1M95.7 653.4h1M102.2 648.5h1M91.5 655.3h1M92.0 654.0h1M89.0 656.3h1M91.7 638.1h1M95.7 647.5h1M84.9 646.9h1M88.2 654.9h1M91.6 648.2h1M89.7 643.6h1M86.2 646.0h1M88.5 642.2h1M87.5 654.1h1M92.2 648.6h1M91.7 647.3h1M83.2 653.4h1M102.1 651.4h1M93.5 662.1h1M83.1 651.5h1M87.9 647.1h1M80.6 648.1h1M92.0 639.8h1M88.5 645.9h1M84.2 652.0h1M98.8 650.9h1M95.4 652.7h1M89.4 651.8h1M97.1 646.3h1M88.9 641.0h1M79.5 644.1h1M94.7 650.6h1M91.2 655.8h1M80.0 656.1h1M90.2 652.8h1M97.4 644.1h1M84.9 650.8h1M89.4 645.4h1M89.1 644.6h1M90.5 646.5h1M99.1 642.9h1M93.0 649.0h1M98.5 643.3h1M87.2 658.0h1M86.1 646.5h1M87.6 643.2h1M96.5 656.9h1M88.9 644.5h1M82.3 652.2h1M86.8 651.6h1M76.5 646.3h1M93.2 650.9h1M73.9 650.2h1M90.5 648.5h1M87.9 646.2h1M90.5 651.4h1M72.3 648.5h1M94.9 647.4h1M96.5 643.5h1M100.3 653.8h1M87.5 663.6h1M97.7 657.2h1M83.2 648.0h1M92.4 654.3h1M90.2 641.5h1M96.5 647.7h1M92.2 646.8h1M89.1 641.1h1M93.4 645.2h1M80.0 650.8h1M89.6 653.8h1M94.3 642.0h1M88.8 648.6h1M90.2 642.8h1M90.2 653.9h1M96.6 656.5h1M93.9 634.8h1M88.3 645.6h1M73.7 657.0h1M94.8 648.5h1M91.7 651.2h1M88.6 656.0h1M99.8 653.0h1M86.7 649.9h1M95.1 652.5h1M86.0 653.8h1M93.8 651.7h1M87.4 648.4h1M79.2 648.4h1M87.3 647.0h1M88.2 646.8h1M90.2 649.1h1M86.4 647.8h1M89.2 651.2h1M92.2 646.6h1M85.2 639.6h1M82.8 650.8h1M84.7 657.3h1M88.9 646.5h1M88.9 645.6h1M86.3 648.9h1M81.8 649.3h1M89.2 643.6h1M95.4 650.5h1M95.7 644.9h1M82.9 642.1h1M81.1 638.3h1M98.4 646.0h1M90.8 645.7h1M89.0 657.1h1M80.2 643.2h1M90.5 643.6h1M93.6 655.6h1M94.7 652.6h1M88.9 654.0h1M85.3 642.1h1M88.3 647.2h1M96.5 643.2h1M96.1 644.3h1M82.8 639.3h1M89.6 640.7h1M90.9 648.8h1M87.5 638.1h1M86.9 651.0h1M79.9 652.3h1M89.9 645.6h1M90.9 652.1h1M89.6 644.3h1M94.1 644.9h1M91.7 653.8h1M97.0 657.2h1M95.4 649.3h1M88.6 649.6h1M92.7 664.8h1M93.4 644.0h1M98.1 639.9h1M95.3 641.6h1M83.7 645.8h1M88.2 641.2h1M93.2 647.9h1M97.2 643.0h1M79.8 652.3h1M88.5 653.8h1M76.9 641.7h1M90.3 659.2h1M83.0 638.2h1M87.2 656.2h1M98.5 641.1h1M86.4 638.5h1M85.1 643.3h1M92.1 654.7h1M102.9 646.6h1M94.3 649.7h1M90.4 659.0h1M93.6 657.0h1M91.4 653.2h1M92.6 648.0h1M85.9 646.3h1M89.8 646.5h1M87.9 644.7h1M94.5 647.2h1M89.1 647.3h1M97.0 645.6h1M97.5 643.8h1M98.2 651.9h1M87.6 670.4h1M99.8 655.2h1M89.6 668.7h1M89.7 663.4h1M91.4 668.2h1M97.1 677.0h1M88.8 691.7h1M88.8 681.6h1M90.3 653.1h1M88.0 663.3h1M99.3 646.0h1M86.5 665.5h1M96.2 667.8h1M97.7 662.6h1M89.5 676.5h1M104.2 665.8h1M92.4 657.8h1M107.1 665.2h1M95.9 650.4h1M95.8 685.6h1M90.0 664.1h1M102.8 661.1h1M97.6 681.0h1M82.5 660.4h1M96.4 665.3h1M91.6 664.0h1M92.2 668.4h1M87.7 664.0h1M93.0 655.6h1M94.6 645.6h1M96.1 663.3h1M82.5 679.4h1M82.5 685.7h1M85.8 677.4h1M90.8 679.7h1M89.6 674.9h1M88.9 649.8h1M94.2 669.0h1M94.3 679.4h1M85.8 654.4h1M93.2 659.0h1M90.5 665.7h1M85.2 676.5h1M90.4 681.4h1M93.1 674.3h1M89.1 660.3h1M87.3 658.8h1M94.6 665.9h1M83.2 654.0h1M84.9 651.1h1M84.7 653.9h1M96.6 654.1h1M86.9 665.5h1M91.5 669.2h1M97.0 669.8h1M88.7 677.1h1M94.1 658.7h1M102.4 652.5h1M94.8 675.6h1M92.1 668.3h1M92.2 671.1h1M93.0 665.2h1M96.5 647.7h1M93.2 662.4h1M105.9 664.5h1M86.4 672.4h1M88.4 655.8h1M89.2 670.4h1M100.1 672.6h1M93.0 663.7h1M92.8 675.7h1M90.4 675.9h1M85.4 666.8h1M97.0 670.3h1M92.8 660.7h1M78.0 664.9h1M85.0 663.5h1M103.0 656.0h1M97.6 663.8h1M83.1 668.4h1M96.9 653.8h1M82.7 664.3h1M96.7 659.0h1M94.4 668.8h1M91.4 669.4h1M100.7 661.6h1M93.7 655.6h1M85.9 665.9h1M97.3 658.2h1M81.0 676.1h1M108.8 638.8h1M83.4 668.5h1M94.9 656.4h1M93.8 674.5h1M89.3 672.4h1M92.2 657.2h1M86.8 661.3h1M101.1 673.2h1M93.1 651.5h1M87.7 662.9h1M77.1 668.8h1M93.4 653.5h1M88.1 662.3h1M104.9 668.0h1M96.9 664.9h1M81.8 675.8h1M86.3 650.0h1M96.6 661.2h1M91.3 670.0h1M89.6 669.5h1M100.8 660.4h1M88.7 666.3h1M96.0 660.9h1M91.9 659.4h1M90.7 670.4h1M85.3 665.4h1M80.5 662.0h1M91.9 670.0h1M83.7 666.5h1M84.5 669.9h1M93.2 668.9h1M89.7 653.5h1M87.2 654.8h1M86.3 666.2h1M99.2 658.0h1M85.6 668.6h1M76.1 686.5h1M80.0 677.0h1M98.5 672.2h1M90.5 672.1h1M88.8 674.5h1M86.5 659.6h1M94.0 660.9h1M96.2 656.9h1M93.2 656.5h1M90.5 684.4h1M83.4 656.7h1M79.6 666.3h1M103.1 658.7h1M98.1 662.3h1M86.6 684.1h1M99.2 647.6h1M84.1 670.8h1M96.0 662.4h1M93.6 669.6h1M88.7 674.8h1M85.1 673.5h1M97.9 665.7h1M88.8 665.9h1M75.1 671.6h1M80.9 650.5h1M96.8 656.2h1M93.9 665.3h1M78.4 660.8h1M89.3 670.1h1M91.8 654.4h1M87.4 667.3h1M82.0 663.9h1M87.3 648.0h1M103.8 670.1h1M87.9 674.5h1M83.7 680.6h1M88.6 667.4h1M87.1 667.3h1M93.7 665.2h1M85.2 673.5h1M95.3 664.5h1M98.9 657.3h1M100.6 661.9h1M102.3 659.0h1M89.4 667.8h1M99.2 676.1h1M87.9 660.0h1M96.8 674.9h1M96.4 661.4h1M100.5 663.1h1M92.5 670.6h1M87.1 646.8h1M92.9 671.3h1M94.4 669.5h1M92.4 674.3h1M92.1 678.3h1M91.6 672.3h1M87.3 669.1h1M94.3 666.0h1M102.5 663.2h1M99.4 666.6h1M99.2 655.8h1M88.6 674.5h1M85.3 670.3h1M95.4 666.2h1M94.4 669.4h1M89.6 669.5h1M87.5 662.5h1M79.7 667.4h1M78.9 668.7h1M92.8 655.7h1M91.8 667.9h1M88.7 658.2h1M90.5 669.3h1M98.0 680.7h1M76.9 671.9h1M94.4 659.2h1M93.6 683.1h1M92.1 677.2h1M99.0 659.8h1M74.5 679.6h1M102.4 647.5h1M89.8 659.8h1M92.7 665.7h1M99.6 658.4h1M105.3 647.3h1M92.8 688.4h1M90.5 671.1h1M87.8 695.0h1M97.7 660.9h1M77.4 670.7h1M96.6 646.5h1M87.7 671.2h1M73.8 668.0h1M79.7 656.6h1M94.2 674.7h1M99.7 657.8h1M94.9 649.2h1M80.5 672.8h1M88.4 657.3h1M77.7 666.7h1M107.5 644.1h1M83.7 677.1h1M77.3 663.4h1M91.8 675.3h1M90.7 681.5h1M91.0 664.6h1M94.5 667.8h1M80.4 659.8h1M89.6 668.9h1M82.4 661.4h1M85.9 669.8h1M88.1 671.5h1M94.1 656.8h1M89.1 655.2h1M92.0 672.4h1M84.1 651.8h1M95.0 662.1h1M91.1 669.6h1M94.0 672.9h1M87.9 647.1h1M87.7 663.7h1M88.3 669.7h1M89.4 677.3h1M86.6 666.5h1M88.6 684.6h1M84.3 658.4h1M88.5 672.8h1M91.3 663.9h1M80.6 649.9h1M89.7 663.8h1M104.1 665.7h1M94.4 673.2h1M84.7 656.3h1M88.6 679.1h1M98.5 658.7h1M82.2 675.8h1M99.2 654.0h1M103.0 655.9h1M96.7 662.4h1M88.9 660.7h1M96.3 669.7h1M97.2 661.6h1M85.1 685.8h1M103.8 660.8h1M82.9 680.6h1M92.2 665.8h1M97.5 667.1h1M92.1 682.7h1M77.4 674.5h1M84.0 667.9h1M90.0 668.1h1M73.6 675.8h1M108.4 657.8h1M97.9 669.4h1M93.4 660.6h1M95.9 666.8h1M101.9 670.3h1M86.0 641.1h1M102.3 667.1h1M92.5 659.9h1M109.7 672.8h1M92.0 662.1h1M95.5 676.4h1M95.1 672.9h1M93.2 668.2h1M81.9 668.8h1M91.6 664.8h1M89.5 668.6h1M87.0 664.8h1M81.6 688.1h1M84.7 656.5h1M87.3 662.8h1M83.3 646.0h1M103.4 671.6h1M88.5 671.1h1M83.0 653.2h1M93.7 670.0h1M86.2 666.7h1M68.5 669.8h1M99.1 665.1h1M92.6 670.3h1M75.8 657.9h1M81.8 669.9h1M86.6 650.0h1M97.9 662.3h1M98.6 681.4h1M79.0 657.2h1M99.2 676.0h1M94.2 668.0h1M96.4 670.0h1M81.8 674.3h1M98.6 660.2h1M84.5 662.8h1M86.9 671.2h1M97.0 664.3h1M89.0 650.5h1M88.1 657.5h1M87.1 669.5h1M92.5 696.0h1M84.7 662.4h1M82.7 665.3h1M89.1 674.8h1M76.7 677.0h1M105.1 630.8h1M99.2 637.3h1M104.6 634.1h1M101.6 635.7h1M97.4 637.9h1M104.8 636.0h1M97.1 635.5h1M101.8 638.3h1M100.4 642.9h1M107.1 642.9h1M103.3 646.4h1M102.1 634.0h1M95.8 635.7h1M107.7 627.0h1M105.7 624.2h1M103.6 651.8h1M102.4 625.1h1M103.5 634.2h1M105.8 630.9h1M94.5 631.3h1M104.9 644.6h1M103.5 635.7h1M105.3 633.8h1M100.2 637.5h1M107.1 631.1h1M104.5 629.8h1M99.0 637.1h1M96.3 628.0h1M96.9 630.2h1M98.2 656.1h1M104.9 636.2h1M96.3 614.5h1M104.2 630.0h1M106.9 632.0h1M96.4 629.9h1M95.4 623.0h1M105.4 630.8h1M105.3 630.6h1M101.2 630.7h1M99.8 629.7h1M108.9 635.0h1M93.5 650.5h1M107.8 645.4h1M101.8 634.2h1M100.1 636.6h1M104.3 635.5h1M98.5 627.0h1M109.7 650.4h1M96.7 629.9h1M102.0 640.7h1M101.7 637.6h1M103.8 645.5h1M96.4 645.2h1M104.2 640.3h1M95.5 633.5h1M101.0 641.1h1M105.3 641.6h1M96.4 646.6h1M102.5 643.7h1M102.2 629.4h1M113.9 641.3h1M105.6 631.5h1M101.2 645.3h1M104.2 650.8h1M107.6 626.1h1M95.3 645.7h1M104.9 633.3h1M100.9 630.7h1M110.2 634.1h1M96.0 643.5h1M101.8 638.6h1M100.5 635.2h1M93.8 640.2h1M99.1 632.2h1M103.6 646.7h1M92.5 634.4h1M104.6 644.4h1M98.1 638.3h1M104.0 643.6h1M99.4 633.9h1M99.9 645.4h1M107.1 631.7h1M101.6 637.5h1M98.1 634.6h1M106.1 642.3h1M99.1 629.9h1M101.7 622.8h1M103.6 636.6h1M96.2 633.5h1M99.2 633.2h1M98.3 647.4h1M97.8 642.2h1M103.1 648.1h1M101.9 635.6h1M102.5 619.3h1M113.0 633.7h1M100.8 625.9h1M101.6 649.5h1M98.8 639.4h1M106.8 643.7h1M100.4 620.6h1M104.0 640.5h1M100.7 631.9h1M110.0 622.0h1M99.9 630.4h1M95.2 629.6h1M98.6 646.3h1M94.3 623.8h1M103.3 622.3h1M93.2 630.2h1M96.8 627.2h1M101.5 639.5h1M99.3 633.2h1M105.4 634.3h1M105.5 630.6h1M104.4 646.5h1M96.0 661.3h1M100.7 632.7h1M101.4 639.6h1M96.7 635.9h1M99.5 647.8h1M94.4 641.2h1M100.8 629.2h1M102.8 633.6h1M102.3 637.6h1M107.6 632.2h1M109.7 612.5h1M110.4 646.0h1M109.2 637.3h1M103.4 627.0h1M108.2 625.7h1M98.6 635.6h1M103.2 638.5h1M96.9 632.7h1M104.4 645.7h1M105.6 639.2h1M101.0 631.0h1M99.9 634.8h1M104.5 631.3h1M111.4 627.1h1M105.8 633.9h1M101.5 632.4h1M109.1 633.1h1M104.6 636.6h1M105.5 640.6h1M109.6 629.4h1M98.5 650.1h1M107.9 636.2h1M100.9 637.8h1M108.0 629.1h1M108.7 635.1h1M100.5 632.3h1M92.8 638.4h1M96.3 630.9h1M98.1 637.6h1M105.4 636.0h1M103.0 639.1h1M109.4 640.5h1M109.2 635.1h1M103.7 630.1h1M104.8 628.4h1M104.3 630.3h1M100.6 646.0h1M102.8 642.4h1M101.1 619.8h1M108.8 634.1h1M99.3 643.7h1M97.1 629.3h1M107.3 629.7h1M107.2 633.0h1M101.2 636.2h1M99.9 644.7h1M107.1 636.2h1M104.9 640.2h1M109.7 622.2h1M106.8 643.4h1M100.8 635.8h1M100.6 646.1h1M97.0 640.8h1M107.9 640.5h1M102.8 645.2h1M91.4 637.2h1M113.8 638.4h1M94.7 648.3h1M95.7 658.2h1M100.0 665.2h1M105.3 631.7h1M100.7 642.6h1M100.2 669.2h1M99.1 656.9h1M102.1 660.1h1M96.2 629.6h1M109.7 671.9h1M96.5 647.3h1M102.6 638.5h1M112.9 652.4h1M96.5 648.7h1M115.4 641.7h1M102.5 640.1h1M107.3 643.9h1M112.3 640.0h1M96.0 658.1h1M84.0 638.3h1M108.1 655.2h1M102.1 645.5h1M109.8 704.4h1M100.5 649.2h1M102.9 659.6h1M106.2 659.6h1M117.5 647.9h1M104.1 657.1h1M120.8 646.7h1M117.9 668.5h1M87.0 637.7h1M99.3 657.4h1M115.4 652.5h1M107.3 682.4h1M108.6 682.1h1M99.9 675.0h1M102.6 617.5h1M100.4 645.1h1M105.8 662.4h1M111.0 659.1h1M100.9 677.0h1M114.5 652.3h1M102.1 651.1h1M104.6 641.9h1M106.1 642.4h1M110.6 642.5h1M109.6 656.3h1M107.3 659.2h1M99.0 688.2h1M101.3 662.1h1M106.3 645.6h1M118.3 667.4h1M104.2 659.7h1M110.9 674.1h1M113.2 649.4h1M104.4 635.3h1M108.0 664.0h1M103.4 661.1h1M107.1 645.2h1M97.6 667.5h1M123.9 659.5h1M98.6 637.1h1M107.9 661.0h1M116.8 617.5h1M119.1 654.1h1M107.1 657.2h1M103.7 647.7h1M113.5 627.2h1M105.4 659.7h1M94.6 649.5h1M116.9 657.0h1M111.1 661.7h1M107.7 656.8h1M100.5 648.8h1M119.1 634.3h1M105.0 633.7h1M102.4 640.8h1M97.6 655.2h1M99.6 659.2h1M118.8 615.4h1M105.0 622.0h1M105.3 657.0h1M107.7 668.9h1M107.3 627.2h1M116.7 638.2h1M105.5 656.3h1M100.0 653.0h1M116.6 627.7h1M94.5 645.4h1M105.0 633.5h1M90.1 664.7h1M108.9 632.8h1M110.2 650.8h1M107.3 632.7h1M104.7 658.5h1M93.9 636.7h1M113.0 680.2h1M110.8 650.7h1M98.6 645.9h1M104.4 658.0h1M104.4 687.0h1M115.5 620.4h1M98.0 651.7h1M113.1 657.5h1M86.9 628.2h1M115.7 660.1h1M124.2 663.1h1M109.5 673.5h1M103.1 643.9h1M99.1 655.2h1M109.3 665.1h1M116.4 660.6h1M114.9 648.1h1M99.5 662.1h1M113.3 670.8h1M105.1 644.9h1M103.7 656.8h1M105.9 649.0h1M108.0 647.5h1M108.6 643.1h1M95.4 647.2h1M119.5 640.0h1M112.6 670.9h1M102.4 655.4h1M90.2 659.9h1M117.0 654.3h1M92.3 643.3h1M101.0 653.3h1M108.2 645.7h1M104.1 639.9h1M110.3 654.5h1M108.7 644.4h1M109.7 647.3h1M108.3 649.4h1M101.6 635.9h1M93.2 632.0h1M109.5 698.5h1M94.7 639.9h1M106.2 703.0h1M104.8 634.9h1M109.2 681.7h1M86.6 634.8h1M114.9 634.9h1M105.5 642.5h1M111.6 630.7h1M108.4 654.8h1M110.2 657.8h1M107.3 626.0h1M104.0 638.0h1M110.0 648.2h1M107.3 667.5h1M105.5 675.9h1M112.1 630.2h1M102.1 669.2h1M102.7 668.9h1M102.3 649.8h1M113.5 628.8h1M106.8 645.0h1M107.4 676.3h1M109.7 632.0h1M113.0 645.0h1M107.4 668.3h1M104.1 665.4h1M107.5 638.5h1M104.1 631.9h1M114.5 653.9h1M113.0 635.4h1M112.2 634.3h1M108.2 651.4h1M102.1 656.0h1M106.5 639.0h1M101.0 632.7h1M115.9 653.7h1M103.7 661.6h1M100.2 634.7h1M108.7 674.5h1M108.4 653.8h1M118.5 629.1h1M127.7 635.6h1M105.7 632.1h1M97.7 648.1h1M123.4 637.9h1M101.9 655.4h1M99.1 647.8h1M112.0 619.9h1M104.1 647.3h1M102.7 649.8h1M102.1 651.1h1M113.6 642.6h1M129.6 686.6h1M125.4 644.9h1M131.0 664.8h1M110.9 666.3h1M113.0 665.8h1M126.5 674.3h1M108.8 655.7h1M118.3 639.8h1M122.0 667.6h1M105.8 649.5h1M108.3 639.0h1M108.6 677.5h1M112.3 651.8h1M127.2 672.4h1M130.9 627.3h1M125.1 632.0h1M112.5 651.5h1M113.1 686.1h1M116.7 674.6h1M116.6 656.6h1M122.9 663.9h1M122.8 632.3h1M122.8 662.2h1M123.6 656.7h1M121.9 638.5h1M128.5 639.8h1M130.9 672.2h1M117.7 653.2h1M125.2 653.1h1M107.5 661.6h1M107.3 650.9h1M134.4 669.3h1M114.2 656.5h1M112.4 657.3h1M105.2 667.4h1M118.4 648.6h1M112.7 695.8h1M114.3 650.6h1M102.2 688.2h1M115.4 698.4h1M109.2 695.7h1M98.3 671.4h1M116.8 698.8h1M107.8 694.9h1M107.7 692.7h1M104.4 673.0h1M110.2 692.9h1M113.1 695.2h1M104.2 697.8h1M107.6 688.6h1M103.6 688.8h1M104.2 688.6h1M113.1 718.0h1M105.5 702.3h1M92.4 664.2h1M102.9 691.1h1M101.1 680.6h1M100.3 688.0h1M107.3 689.6h1M97.8 689.3h1M116.8 684.8h1M106.7 701.3h1M100.6 687.5h1M126.5 703.3h1M102.6 693.9h1M107.0 693.8h1M109.5 689.9h1M90.7 684.1h1M107.3 680.5h1M104.0 705.7h1M107.9 686.8h1M107.2 701.7h1M94.3 681.6h1M101.6 688.7h1M105.6 687.4h1M107.0 693.3h1M98.1 687.0h1M97.6 695.0h1" stroke="#363636" stroke-width="1" stroke-opacity="0.47" fill="none" filter="url(#bl)"/>
<rect x="56.25" y="607.5" width="125.75" height="115.75" fill="none" stroke="#262626" stroke-width="1.4"/>
<line x1="103" y1="607.5" x2="103" y2="723.25" stroke="#262626" stroke-width="1.2"/>
<line x1="56.25" y1="677.7" x2="182" y2="677.7" stroke="#262626" stroke-width="1.2"/>
<text x="118.925" y="602.8" font-size="12" text-anchor="middle" font-weight="normal" fill="#1a1a1a" >cV-B</text>
<text x="99.1" y="621.3" font-size="10.3" text-anchor="end" font-weight="normal" fill="#1a1a1a" >42.2%</text>
<text x="173.7" y="621.3" font-size="10.3" text-anchor="end" font-weight="normal" fill="#1a1a1a" >5.7%</text>
<text x="99.1" y="719.3" font-size="10.3" text-anchor="end" font-weight="normal" fill="#1a1a1a" >50.4%</text>
<text x="173.7" y="719.3" font-size="10.3" text-anchor="end" font-weight="normal" fill="#1a1a1a" >0.6%</text>
<text x="49.75" y="743.2" font-size="10.3" fill="#1a1a1a">10<tspan dy="-4" font-size="6.5">0</tspan></text>
<text x="33.95" y="730.65" font-size="10.3" fill="#1a1a1a">10<tspan dy="-4" font-size="6.5">0</tspan></text>
<text x="81.19" y="743.2" font-size="10.3" fill="#1a1a1a">10<tspan dy="-4" font-size="6.5">1</tspan></text>
<text x="33.95" y="701.71" font-size="10.3" fill="#1a1a1a">10<tspan dy="-4" font-size="6.5">1</tspan></text>
<text x="112.62" y="743.2" font-size="10.3" fill="#1a1a1a">10<tspan dy="-4" font-size="6.5">2</tspan></text>
<text x="33.95" y="672.77" font-size="10.3" fill="#1a1a1a">10<tspan dy="-4" font-size="6.5">2</tspan></text>
<text x="144.06" y="743.2" font-size="10.3" fill="#1a1a1a">10<tspan dy="-4" font-size="6.5">3</tspan></text>
<text x="33.95" y="643.84" font-size="10.3" fill="#1a1a1a">10<tspan dy="-4" font-size="6.5">3</tspan></text>
<text x="175.50" y="743.2" font-size="10.3" fill="#1a1a1a">10<tspan dy="-4" font-size="6.5">4</tspan></text>
<text x="33.95" y="614.90" font-size="10.3" fill="#1a1a1a">10<tspan dy="-4" font-size="6.5">4</tspan></text>
<path d="M246.7 692.3h1M238.4 688.5h1M228.6 701.5h1M233.0 700.9h1M252.6 685.4h1M249.3 686.2h1M247.5 694.1h1M254.0 698.4h1M242.8 697.0h1M251.1 686.6h1M246.7 675.1h1M252.7 673.5h1M240.0 684.3h1M248.8 676.0h1M248.1 690.3h1M245.5 684.4h1M249.1 696.1h1M241.4 681.4h1M240.4 683.8h1M243.0 688.1h1M228.0 714.9h1M238.8 689.1h1M230.5 682.3h1M237.4 696.2h1M250.9 666.7h1M246.4 700.2h1M242.7 697.9h1M247.0 677.9h1M252.0 676.6h1M247.3 682.3h1M243.2 690.7h1M254.4 665.0h1M236.6 695.6h1M251.8 680.4h1M243.4 693.8h1M256.2 670.4h1M233.1 695.1h1M250.3 671.7h1M253.0 689.6h1M250.5 675.7h1M235.3 701.6h1M246.6 692.5h1M234.9 669.8h1M252.9 690.1h1M242.7 689.6h1M248.0 691.9h1M243.4 684.6h1M237.6 703.0h1M245.5 657.1h1M247.2 680.8h1M235.5 691.1h1M235.4 691.7h1M240.8 695.9h1M237.4 677.9h1M240.3 679.4h1M250.1 681.7h1M232.6 690.3h1M244.5 687.8h1M231.3 698.0h1M246.9 695.0h1M252.7 680.3h1M235.3 692.5h1M249.5 675.9h1M253.9 671.9h1M236.5 702.2h1M244.0 691.5h1M242.5 690.1h1M240.5 708.4h1M249.5 682.9h1M248.2 692.6h1M240.9 692.7h1M246.2 681.7h1M239.1 690.9h1M242.6 686.2h1M230.6 700.4h1M249.5 684.7h1M257.2 685.3h1M242.2 684.1h1M248.4 681.7h1M233.0 698.8h1M242.6 687.8h1M249.2 686.0h1M259.5 669.2h1M244.0 691.3h1M241.5 686.1h1M257.5 664.5h1M247.3 670.3h1M247.2 668.9h1M236.2 705.1h1M256.0 679.8h1M225.0 713.4h1M246.5 676.7h1M242.2 678.4h1M244.1 687.8h1M245.6 694.3h1M240.1 672.3h1M236.2 683.9h1M242.1 686.3h1M244.4 700.4h1M244.9 678.3h1M242.5 682.1h1M243.0 694.6h1M236.5 701.1h1M257.7 690.7h1M256.6 679.0h1M234.9 713.9h1M244.4 690.4h1M242.2 681.8h1M249.2 671.9h1M234.7 701.2h1M242.0 682.8h1M248.4 697.6h1M242.7 688.5h1M248.8 692.9h1M252.3 687.8h1M239.9 696.7h1M244.8 672.9h1M253.7 685.6h1M254.7 679.2h1M250.0 683.0h1M245.9 695.1h1M245.2 693.0h1M244.5 699.0h1M249.5 669.4h1M256.8 681.9h1M241.0 685.6h1M259.2 676.8h1M248.5 690.2h1M240.4 707.1h1M260.0 668.5h1M253.0 666.8h1M242.3 690.6h1M245.1 692.7h1M247.7 688.9h1M243.8 691.5h1M240.7 708.7h1M245.2 698.6h1M245.5 686.1h1M243.4 677.7h1M259.8 679.1h1M245.7 683.1h1M254.0 677.4h1M241.4 686.0h1M255.9 681.5h1M243.7 683.2h1M254.1 682.8h1M242.4 697.9h1M251.1 674.0h1M253.1 690.7h1M243.0 677.7h1M252.7 678.4h1M243.3 686.7h1M242.8 697.0h1M236.9 699.2h1M253.2 690.3h1M250.0 686.0h1M243.4 688.1h1M238.4 708.0h1M243.9 679.8h1M250.8 696.2h1M246.8 683.5h1M236.7 700.3h1M243.0 683.6h1M249.1 673.0h1M250.1 662.3h1M240.3 679.2h1M243.0 696.4h1M235.4 707.7h1M239.9 687.8h1M252.0 675.7h1M255.3 677.5h1M244.1 680.1h1M253.1 680.5h1M241.3 682.6h1M240.2 690.9h1M239.6 699.2h1M244.6 682.8h1M248.1 697.7h1M229.9 703.5h1M252.6 682.7h1M250.7 669.6h1M239.5 701.2h1M244.2 689.0h1M249.3 687.4h1M248.1 680.9h1M242.7 701.2h1M241.3 678.3h1M242.3 697.8h1M257.7 678.6h1M240.4 696.9h1M247.0 696.5h1M248.6 691.4h1M248.5 688.6h1M238.3 691.9h1M256.3 690.0h1M251.8 685.6h1M244.1 691.6h1M242.5 699.4h1M242.6 683.1h1M233.4 711.0h1M239.5 684.9h1M247.8 701.2h1M249.6 681.1h1M248.9 677.4h1M243.1 689.6h1M245.0 694.6h1M248.7 701.1h1M250.8 680.5h1M246.7 679.0h1M240.6 688.5h1M252.1 675.9h1M233.8 688.3h1M236.4 693.4h1M242.8 679.5h1M239.3 688.9h1M247.7 690.9h1M254.3 677.8h1M249.4 684.8h1M237.2 688.8h1M260.5 673.6h1M256.7 685.3h1M256.8 676.4h1M251.6 679.7h1M237.1 684.2h1M248.1 671.3h1M247.6 678.1h1M247.5 673.8h1M251.0 680.8h1M234.2 684.3h1M245.5 673.2h1M247.3 690.1h1M240.4 703.8h1M255.2 682.1h1M248.2 689.2h1M243.2 700.7h1M241.2 669.1h1M245.2 691.5h1M250.9 673.4h1M254.9 672.5h1M249.5 690.4h1M246.3 696.6h1M241.5 708.5h1M248.5 681.3h1M263.4 672.5h1M233.6 709.6h1M256.0 673.7h1M238.0 703.4h1M245.4 679.1h1M241.6 691.2h1M252.0 695.6h1M240.7 704.7h1M234.4 702.8h1M244.1 692.4h1M242.0 684.2h1M247.0 695.9h1M229.4 701.2h1M242.2 680.8h1M235.5 700.1h1M249.0 690.1h1M231.0 686.2h1M240.7 687.6h1M257.5 674.1h1M245.9 695.7h1M256.8 681.2h1M247.5 702.6h1M242.2 674.5h1M239.7 689.4h1M254.3 682.9h1M253.6 681.6h1M245.4 682.5h1M236.3 699.4h1M247.6 690.6h1M241.3 687.2h1M247.7 690.8h1M259.1 668.5h1M252.0 689.7h1M243.2 690.5h1M244.7 701.4h1M263.0 675.7h1M243.3 697.5h1M248.5 683.3h1M250.4 690.9h1M242.3 697.5h1M229.2 689.7h1M242.9 691.0h1M234.8 709.1h1M242.4 691.3h1M244.8 694.6h1M241.0 697.6h1M239.2 679.7h1M248.7 686.2h1M251.3 665.7h1M245.8 681.5h1M243.7 685.4h1M242.4 684.1h1M252.3 666.8h1M233.3 700.5h1M259.3 669.3h1M238.7 682.9h1M237.9 704.6h1M249.9 691.6h1M247.5 687.8h1M240.9 682.7h1M249.4 705.7h1M242.5 701.0h1M240.1 692.2h1M257.0 677.2h1M249.5 679.2h1M258.3 666.0h1M249.0 682.4h1M246.5 689.8h1M254.3 687.7h1M252.5 684.8h1M237.5 705.7h1M255.9 683.0h1M250.7 681.1h1M234.9 704.8h1M239.9 708.7h1M249.9 683.6h1M240.7 692.3h1M237.9 690.4h1M256.3 675.8h1M258.0 676.2h1M248.0 677.3h1M242.9 685.6h1M235.2 712.8h1M249.2 683.6h1M237.3 694.5h1M237.6 685.5h1M243.7 707.7h1M232.7 702.9h1M241.2 665.6h1M235.1 694.9h1M245.5 680.8h1M257.6 682.1h1M240.6 677.1h1M246.3 680.9h1M252.3 672.7h1M253.5 676.8h1M246.4 684.3h1M249.4 694.2h1M241.2 683.1h1M258.4 685.0h1M258.5 685.0h1M246.0 701.3h1M240.3 688.0h1M242.2 696.1h1M239.0 691.2h1M239.0 690.7h1M253.0 690.9h1M243.4 711.4h1M240.0 695.9h1M241.6 671.2h1M236.6 705.6h1M244.1 690.9h1M253.9 680.7h1M240.5 686.2h1M238.3 698.2h1M241.7 695.1h1M234.4 692.9h1M259.6 678.9h1M244.3 698.8h1M246.9 699.6h1M236.7 701.4h1M237.5 700.0h1M262.4 686.8h1M238.9 696.6h1M248.2 678.8h1M246.7 677.0h1M251.8 690.2h1M243.8 694.8h1M261.9 672.4h1M231.7 701.8h1M241.8 683.6h1M251.4 691.3h1M249.2 698.7h1M240.5 687.9h1M247.9 661.6h1M225.6 706.9h1M243.4 689.6h1M238.1 695.5h1M252.5 676.1h1M249.0 683.2h1M243.8 689.8h1M255.7 683.6h1M249.8 685.1h1M229.7 708.8h1M244.8 688.8h1M241.4 677.3h1M255.5 695.2h1M256.1 662.4h1M248.9 674.3h1M243.6 684.4h1M240.5 684.8h1M241.5 697.5h1M256.4 686.5h1M244.8 686.7h1M243.2 689.1h1M240.5 690.0h1M251.0 680.9h1M239.1 691.6h1M245.5 686.7h1M243.0 695.6h1M244.6 679.3h1M248.9 678.3h1M250.4 690.5h1M248.3 687.7h1M235.3 694.1h1M245.8 692.8h1M236.9 693.2h1M233.9 698.5h1M245.5 688.5h1M256.7 684.6h1M243.5 684.0h1M241.7 697.4h1M251.4 678.1h1M244.1 684.8h1M249.8 685.5h1M239.7 684.4h1M254.2 667.9h1M231.9 671.6h1M259.4 671.1h1M251.0 687.8h1M250.9 692.9h1M241.5 690.5h1M251.9 687.0h1M239.5 685.7h1M234.6 698.7h1M241.1 677.4h1M240.9 694.1h1M246.2 684.9h1M246.1 692.7h1M236.3 687.8h1M251.9 688.6h1M234.8 689.9h1M255.3 685.9h1M243.8 697.7h1M254.7 692.2h1M234.9 684.8h1M241.2 690.5h1M242.3 692.2h1M255.5 688.8h1M252.0 682.0h1M256.7 682.1h1M246.6 686.3h1M231.7 717.7h1M244.7 695.9h1M261.2 672.7h1M236.5 703.8h1M246.6 678.2h1M251.8 682.3h1M238.1 671.3h1M237.7 697.2h1M237.4 702.6h1M260.7 677.6h1M246.5 685.9h1M251.1 683.1h1M252.4 694.2h1M251.0 674.4h1M249.7 681.6h1M247.1 694.5h1M240.1 693.7h1M255.5 671.8h1M243.5 695.4h1M243.2 698.3h1M237.6 680.8h1M247.6 684.5h1M247.1 694.5h1M252.5 678.6h1M242.1 673.2h1M237.9 695.9h1M246.5 673.6h1M250.5 682.9h1M252.8 678.2h1M251.8 672.5h1M231.5 691.9h1M249.9 687.3h1M231.3 700.5h1M249.7 698.6h1M250.5 687.7h1M233.5 700.6h1M230.7 697.1h1M242.2 681.6h1M237.6 692.8h1M249.1 678.8h1M247.1 692.3h1M244.7 704.8h1M242.6 683.4h1M231.2 708.6h1M249.8 682.2h1M247.1 684.9h1M251.2 682.6h1M246.5 685.9h1M238.5 673.9h1M248.8 673.8h1M247.7 691.1h1M258.5 670.2h1M246.0 695.3h1M240.0 686.8h1M248.1 703.2h1M252.7 689.8h1M237.9 699.4h1M253.1 670.1h1M245.0 686.2h1M249.5 668.9h1M250.0 683.7h1M242.9 671.1h1M229.9 695.6h1M249.6 687.7h1M250.3 668.7h1M246.3 698.4h1M233.7 702.9h1M239.6 697.1h1M245.6 673.2h1M237.3 705.3h1M244.1 699.3h1M247.3 693.7h1M242.0 692.2h1M242.2 698.0h1M240.7 701.0h1M256.2 667.9h1M243.6 693.7h1M257.7 687.3h1M245.5 672.4h1M250.9 677.8h1M246.3 690.3h1M234.7 705.6h1M251.5 687.4h1M249.2 687.5h1M234.8 691.9h1M250.8 680.2h1M245.0 691.0h1M245.5 689.6h1M248.4 685.0h1M236.9 692.2h1M251.8 676.3h1M248.3 687.8h1M238.5 668.7h1M244.7 681.3h1M240.3 699.8h1M239.3 695.5h1M245.7 689.0h1M259.2 658.9h1M251.8 680.9h1M242.8 683.8h1M245.1 688.1h1M238.2 707.6h1M239.5 691.2h1M235.7 696.8h1M247.4 695.2h1M251.9 677.7h1M256.4 677.4h1M256.0 693.5h1M242.0 681.0h1M248.8 697.2h1M247.7 695.0h1M249.1 692.1h1M254.4 677.5h1M234.6 695.4h1M239.2 682.3h1M243.6 695.1h1M231.6 685.8h1M250.6 675.5h1M242.0 702.0h1M252.9 684.3h1M248.7 661.2h1M248.9 687.9h1M234.8 697.8h1M248.1 684.2h1M250.6 690.8h1M245.2 685.5h1M236.3 704.8h1M240.7 694.1h1M255.9 685.5h1M235.7 694.8h1M239.7 677.9h1M239.1 697.8h1M247.3 684.1h1M246.1 676.8h1M239.3 691.1h1M250.6 680.4h1M243.7 691.8h1M255.4 668.3h1M248.7 686.4h1M244.3 690.5h1M230.6 700.0h1M243.1 678.7h1M250.9 681.9h1M242.4 696.5h1M238.2 687.2h1M250.8 690.6h1M259.4 671.9h1M234.4 683.8h1M236.2 696.0h1M243.1 683.5h1M237.6 687.9h1M242.2 700.4h1M249.3 696.1h1M250.7 689.6h1M253.3 684.8h1M255.9 688.6h1M257.9 679.0h1M239.3 714.3h1M242.8 694.1h1M242.1 684.2h1M248.0 675.7h1M243.7 701.1h1M245.7 694.3h1M249.4 687.5h1M245.6 692.6h1M237.9 698.8h1M237.1 687.8h1M240.6 679.9h1M230.7 703.0h1M248.4 690.7h1M260.7 676.3h1M250.2 677.1h1M249.9 673.9h1M259.0 667.9h1M241.9 696.9h1M229.0 712.7h1M238.0 695.4h1M251.9 683.5h1M251.5 678.0h1M249.1 665.6h1M255.7 673.2h1M238.6 693.3h1M257.0 671.7h1M244.6 685.0h1M238.1 682.2h1M249.0 690.6h1M239.4 694.4h1M248.0 688.6h1M243.6 689.4h1M246.8 677.1h1M243.8 695.7h1M240.8 702.7h1M243.1 679.9h1M242.7 678.0h1M249.2 670.6h1M244.9 685.8h1M242.6 693.4h1M246.9 681.4h1M250.7 679.2h1M251.2 694.2h1M247.5 693.7h1M235.2 700.8h1M234.0 695.4h1M249.8 660.6h1M239.2 686.0h1M238.0 693.8h1M249.4 674.2h1M240.3 675.7h1M239.7 674.1h1M233.9 701.0h1M251.1 675.7h1M247.3 679.2h1M252.5 696.7h1M227.1 695.2h1M240.2 687.7h1M256.0 692.3h1M244.7 693.6h1M233.3 694.9h1M242.7 688.4h1M246.9 672.7h1M237.3 712.7h1M232.3 698.8h1M250.0 687.9h1M245.2 673.7h1M241.4 677.3h1M258.9 679.4h1M250.0 685.4h1M242.0 700.5h1M251.1 688.2h1M249.0 690.9h1M242.7 693.4h1M245.3 685.3h1M249.4 702.6h1M230.2 712.5h1M241.6 701.0h1M237.4 692.5h1M252.1 681.3h1M247.3 675.5h1M236.5 709.3h1M245.9 686.3h1M234.8 687.3h1M237.3 693.7h1M243.9 683.4h1M239.9 693.0h1M253.2 668.9h1M234.5 706.2h1M234.5 693.0h1M245.6 703.1h1M230.1 675.1h1M244.2 697.8h1M245.8 680.2h1M246.1 669.1h1M250.7 695.9h1M243.3 696.3h1M237.2 707.1h1M240.1 685.0h1M239.3 677.2h1M249.6 701.3h1M234.5 694.8h1M248.0 680.4h1M233.5 700.2h1M252.0 682.9h1M237.1 691.8h1M230.9 699.0h1M253.5 690.3h1M244.1 692.3h1M241.0 692.2h1M240.5 693.0h1M241.0 692.8h1M249.8 683.7h1M235.4 700.1h1M243.0 685.2h1M248.8 677.4h1M251.5 687.3h1M239.8 686.1h1M243.9 680.9h1M251.6 662.8h1M245.8 684.1h1M236.9 700.0h1M241.3 694.8h1M241.6 688.2h1M248.5 693.2h1M251.9 681.9h1M255.4 676.2h1M235.0 679.9h1M234.4 689.1h1M231.9 701.5h1M245.0 687.5h1M246.5 685.6h1M242.9 686.7h1M245.1 678.0h1M253.9 693.8h1M245.0 707.5h1M237.8 701.6h1M233.1 702.9h1M239.4 701.2h1M245.6 695.6h1M249.1 688.9h1M242.8 703.5h1M247.3 690.1h1M255.1 677.2h1M257.3 687.0h1M245.3 674.9h1M253.5 678.0h1M245.5 688.5h1M251.6 687.8h1M231.7 693.1h1M247.3 687.4h1M250.5 688.2h1M256.5 672.0h1M254.1 683.5h1M246.9 692.1h1M242.4 696.2h1M243.3 695.5h1M239.3 702.7h1M233.9 691.3h1M244.4 690.4h1M239.1 689.2h1M246.6 695.6h1M254.1 676.2h1M244.3 685.7h1M233.8 693.2h1M252.9 669.6h1M265.3 679.5h1M257.2 679.3h1M228.3 705.5h1M256.2 673.5h1M253.9 687.0h1M250.4 689.8h1M249.0 690.2h1M253.4 684.6h1M249.3 688.0h1M245.8 679.6h1M231.9 689.9h1M235.9 682.5h1M249.7 681.0h1M253.9 707.6h1M250.3 679.4h1M247.5 684.0h1M246.8 704.4h1M256.3 689.6h1M246.9 701.8h1M250.7 690.8h1M236.4 689.6h1M246.0 685.1h1M241.1 673.7h1M239.4 691.5h1M247.0 676.8h1M243.9 704.5h1M245.9 669.9h1M243.5 689.1h1M253.9 682.1h1M254.7 682.7h1M253.2 692.8h1M255.8 680.6h1M249.4 718.3h1M236.1 697.0h1M248.2 679.0h1M250.8 681.7h1M250.5 684.9h1M238.1 702.7h1M259.2 684.1h1M246.8 671.3h1M247.1 685.8h1M239.1 676.0h1M248.0 693.8h1M249.9 703.6h1M231.2 702.3h1M244.6 700.6h1M244.6 679.7h1M244.4 692.1h1M239.6 685.5h1M246.7 694.0h1M243.2 693.6h1M241.2 688.0h1M246.2 695.3h1M256.2 677.5h1M248.0 702.5h1M250.8 679.9h1M247.8 673.1h1M229.8 693.8h1M239.7 680.5h1M252.2 677.9h1M245.5 688.1h1M243.4 678.9h1M258.7 659.2h1M244.6 694.2h1M243.4 688.3h1M247.1 688.2h1M242.4 699.4h1M248.5 698.1h1M245.5 670.0h1M233.0 693.3h1M248.1 671.0h1M240.8 702.2h1M247.2 679.8h1M244.1 689.6h1M241.9 687.7h1M240.3 693.7h1M256.2 691.3h1M236.0 715.6h1M244.0 676.4h1M234.2 698.0h1M246.5 681.0h1M239.1 690.8h1M246.7 692.3h1M248.8 663.9h1M240.6 693.8h1M247.5 692.7h1M234.3 710.5h1M236.4 693.2h1M241.6 686.6h1M239.3 699.7h1M250.5 686.4h1M235.8 690.0h1M244.5 691.8h1M240.9 688.9h1M263.5 673.0h1M242.8 668.2h1M239.5 706.6h1M250.9 672.6h1M250.5 684.8h1M239.2 699.6h1M240.5 688.9h1M245.0 689.7h1M241.8 693.1h1M244.9 689.7h1M247.6 680.1h1M235.2 695.4h1M253.6 683.6h1M246.5 680.1h1M236.8 683.8h1M238.4 690.1h1M233.9 696.0h1M233.7 702.9h1M244.7 672.7h1M241.0 693.2h1M247.6 692.5h1M242.4 688.7h1M243.2 694.1h1M240.0 690.6h1M245.9 684.1h1M237.2 706.2h1M248.4 677.1h1M258.8 669.7h1M238.7 689.9h1M248.7 697.9h1M254.6 684.7h1M245.4 693.4h1M239.3 686.4h1M248.6 686.6h1M246.5 677.7h1M246.6 673.9h1M251.4 682.6h1M240.3 687.6h1M264.5 699.0h1M239.9 704.0h1M224.4 714.8h1M245.0 690.1h1M238.1 682.1h1M246.6 682.7h1M248.4 694.3h1M244.1 693.3h1M246.1 689.0h1M241.2 693.1h1M248.0 686.1h1M241.7 677.9h1M237.4 707.9h1M252.0 684.6h1M246.9 684.9h1M249.7 692.4h1M243.1 692.1h1M251.6 668.5h1M238.3 688.5h1M236.7 690.9h1M238.9 689.4h1M248.3 674.9h1M245.6 699.4h1M246.2 676.1h1M240.6 701.7h1M243.0 684.0h1M250.4 677.1h1M237.0 699.8h1M245.0 682.2h1M248.2 694.9h1M252.5 682.5h1M248.1 689.6h1M234.4 711.2h1M240.2 686.9h1M239.1 684.3h1M252.6 681.6h1M240.8 675.3h1M246.1 686.5h1M237.6 693.1h1M232.0 704.3h1M236.3 699.4h1M245.6 668.8h1M237.0 688.8h1M250.5 688.6h1M249.3 698.9h1M242.9 685.2h1M231.7 689.9h1M248.9 677.3h1M238.8 701.4h1M227.6 714.5h1M254.0 664.8h1M248.2 685.1h1M251.3 679.7h1M244.0 701.0h1M240.7 695.1h1M249.3 683.3h1M251.0 687.4h1M250.7 668.2h1M237.6 696.6h1M253.1 693.7h1M245.0 681.4h1M237.2 677.3h1M241.4 695.9h1M244.4 675.5h1M244.2 689.0h1M239.7 705.1h1M248.0 695.0h1M245.6 678.9h1M252.5 691.4h1M240.8 679.7h1M250.6 678.3h1M236.8 694.0h1M248.8 678.2h1M245.2 696.5h1M250.1 670.0h1M249.9 699.3h1M251.3 681.9h1M247.5 672.0h1M240.8 686.8h1M259.4 675.9h1M238.1 708.4h1M253.5 666.4h1M243.5 674.3h1M252.2 662.0h1M257.9 668.0h1M237.6 712.6h1M248.7 688.0h1M250.9 674.3h1M251.0 680.4h1M248.6 687.0h1M254.6 668.7h1M235.2 701.8h1M261.5 679.0h1M243.7 694.8h1M236.5 695.8h1M233.2 698.7h1M250.0 698.7h1M241.4 699.0h1M254.3 671.0h1M243.0 673.3h1M238.8 696.9h1M230.7 697.1h1M250.0 696.4h1M227.4 705.8h1M240.6 671.3h1M237.8 699.1h1M244.8 694.3h1M242.8 695.5h1M238.1 685.0h1M243.8 673.5h1M253.5 678.6h1M238.1 686.1h1M238.2 694.7h1M242.3 697.7h1M236.8 694.0h1M234.4 692.6h1M254.4 679.1h1M251.1 682.3h1M237.3 686.5h1M237.0 697.5h1M246.5 712.4h1M256.5 685.8h1M238.1 694.6h1M238.6 713.9h1M239.9 702.4h1M235.5 702.5h1M236.3 691.0h1M246.1 688.2h1M244.5 687.8h1M238.9 692.0h1M244.4 680.2h1M248.8 686.2h1M239.6 703.8h1M240.9 674.5h1M253.7 677.4h1M255.1 683.3h1M238.7 703.0h1M248.1 693.5h1M245.2 701.5h1M251.4 679.7h1M234.4 696.3h1M245.4 678.9h1M243.5 702.3h1M241.6 700.6h1M238.4 684.8h1M251.4 681.0h1M246.4 695.8h1M256.2 667.6h1M248.9 686.6h1M245.9 703.0h1M243.2 684.1h1M248.4 667.2h1M247.4 678.0h1M247.1 679.5h1M248.4 682.9h1M239.9 696.9h1M250.1 669.5h1M235.9 693.1h1M242.2 701.9h1M255.9 683.0h1M252.5 678.8h1M235.3 698.6h1M232.6 712.6h1M246.6 696.8h1M240.4 677.4h1M243.4 693.5h1M243.3 684.7h1M245.4 685.8h1M254.6 668.4h1M229.4 699.9h1M246.7 672.9h1M244.6 692.1h1M247.2 688.7h1M239.6 679.5h1M251.5 679.4h1M235.3 709.7h1M250.0 658.9h1M262.9 674.3h1M233.6 705.8h1M247.1 697.1h1M244.9 673.2h1M243.7 685.2h1M246.9 684.7h1M248.8 673.9h1M241.0 686.6h1M247.7 670.5h1M244.8 709.1h1M232.3 707.6h1M245.5 696.2h1M245.2 690.0h1M247.4 689.9h1M236.4 693.8h1M257.6 690.0h1M238.9 684.5h1M243.6 698.4h1M251.2 677.5h1M228.2 701.3h1M233.2 708.2h1M255.2 685.3h1M249.0 689.6h1M257.7 687.0h1M254.9 669.4h1M241.2 691.0h1M229.2 698.4h1M244.7 687.5h1M262.5 671.6h1M243.4 688.1h1M242.4 677.4h1M252.7 681.7h1M247.3 686.2h1M239.4 678.4h1M242.8 694.4h1M244.0 695.2h1M239.3 690.0h1M245.8 686.2h1M246.0 699.7h1M241.9 691.6h1M240.3 696.6h1M246.4 680.2h1M237.8 683.2h1M242.8 691.0h1M241.3 689.9h1M245.7 708.0h1M253.0 701.7h1M245.7 689.1h1M258.4 680.1h1M249.4 679.7h1M241.0 698.0h1M240.6 685.6h1M234.4 699.3h1M244.1 693.4h1M238.7 682.0h1M252.5 681.8h1M250.3 673.2h1M235.7 673.1h1M246.9 695.0h1M254.1 696.0h1M232.0 688.9h1M241.1 684.0h1M243.3 682.1h1M234.5 696.2h1M245.7 680.4h1M245.0 676.3h1M242.5 686.9h1M241.6 690.0h1M235.9 683.5h1M239.0 699.3h1M238.1 685.2h1M258.7 674.2h1M242.1 682.4h1M255.1 684.1h1M246.6 700.6h1M236.4 680.0h1M252.5 685.4h1M241.2 698.1h1M244.1 705.9h1M235.9 698.6h1M251.6 690.2h1M242.2 686.6h1M241.7 696.7h1M241.9 689.1h1M252.0 681.1h1M246.5 685.5h1M244.8 668.2h1M238.2 696.7h1M240.3 686.3h1M245.1 708.0h1M239.4 683.9h1M232.2 702.5h1M244.4 680.9h1M241.9 699.1h1M251.9 685.3h1M252.9 690.3h1M241.5 697.8h1M245.9 693.9h1M246.7 705.4h1M235.9 698.5h1M237.1 714.9h1M241.1 687.8h1M244.6 687.7h1M256.7 677.6h1M246.5 696.0h1M255.4 670.7h1M246.9 674.4h1M248.2 697.7h1M241.1 688.6h1M253.1 685.0h1M250.4 679.3h1M242.5 686.6h1M255.8 665.6h1M241.1 704.9h1M244.3 678.7h1M246.4 684.7h1M243.9 693.2h1M250.3 670.1h1M246.2 700.2h1M235.3 695.0h1M236.6 700.7h1M238.8 690.0h1M241.8 694.5h1M235.5 683.1h1M246.1 699.0h1M241.2 694.7h1M246.6 687.4h1M244.6 683.2h1M243.0 700.2h1M247.9 696.9h1M239.6 693.3h1M240.2 679.9h1M251.0 680.3h1M246.4 673.9h1M243.0 688.4h1M242.0 699.4h1M247.9 686.5h1M246.3 682.7h1M239.7 689.6h1M237.6 692.4h1M243.9 698.8h1M241.7 712.3h1M241.1 692.2h1M244.5 682.7h1M244.3 672.5h1M252.6 676.3h1M244.5 671.9h1M248.7 673.2h1M254.2 670.8h1M239.6 698.2h1M253.7 662.8h1M232.9 712.3h1M247.8 671.8h1M241.7 696.8h1M242.0 703.8h1M239.7 693.7h1M252.8 694.6h1M246.4 691.9h1M242.4 689.4h1M240.7 694.9h1M250.6 674.1h1M236.6 695.2h1M258.7 678.5h1M245.6 686.9h1M233.0 691.4h1M255.3 660.3h1M257.3 666.8h1M259.0 699.8h1M255.2 678.1h1M248.8 679.7h1M241.6 692.5h1M222.7 711.3h1M242.5 680.1h1M242.7 695.5h1M239.3 695.7h1M235.3 696.7h1M236.6 701.6h1M237.4 699.6h1M230.8 701.2h1M252.4 674.2h1M245.1 680.0h1M248.1 692.1h1M252.7 693.4h1M253.8 673.9h1M245.5 692.1h1M246.0 675.1h1M258.9 699.3h1M245.1 664.1h1M257.5 675.8h1M260.5 665.4h1M248.4 692.1h1M234.6 693.4h1M248.1 691.2h1M247.4 662.1h1M228.0 705.2h1M255.9 664.8h1M247.4 694.2h1M237.9 679.3h1M246.6 682.4h1M244.0 686.7h1M243.9 691.5h1M241.0 690.8h1M240.7 683.4h1M247.1 678.5h1M248.4 684.7h1M252.2 687.1h1M230.7 699.4h1M249.3 685.2h1M245.0 697.6h1M249.4 671.9h1M245.3 696.6h1M245.8 675.5h1M250.1 689.0h1M252.7 682.9h1M245.5 695.1h1M237.0 710.0h1M247.5 687.7h1M250.0 690.8h1M229.3 709.3h1M243.9 681.5h1M251.0 691.3h1M247.3 680.2h1M245.4 678.8h1M262.3 667.4h1M250.8 697.8h1M238.7 688.1h1M229.0 698.8h1M235.4 697.1h1M243.1 689.4h1M244.9 683.5h1M245.5 686.8h1M239.6 689.3h1M240.7 679.6h1M244.5 671.2h1M248.4 684.7h1M245.8 697.6h1M251.3 678.5h1M247.1 696.9h1M243.6 692.4h1M247.6 676.2h1M246.6 682.8h1M242.8 693.5h1M249.2 676.0h1M242.9 687.7h1M238.0 696.9h1M243.2 682.8h1M251.2 681.8h1M236.5 693.9h1M243.4 691.8h1M260.4 680.0h1M254.7 678.1h1M248.0 689.8h1M243.9 690.9h1M241.5 697.0h1M238.3 708.9h1M218.7 697.0h1M243.8 692.1h1M245.7 672.5h1M247.6 677.5h1M246.1 683.0h1M242.8 675.8h1M235.5 690.5h1M237.2 696.4h1M234.9 698.1h1M248.5 678.0h1M238.0 690.4h1M250.2 696.1h1M259.7 676.4h1M249.0 686.2h1M244.5 678.4h1M242.2 700.3h1M254.3 674.5h1M233.3 714.6h1M244.9 692.0h1M243.4 672.6h1M246.8 677.4h1M242.7 684.0h1M242.8 711.4h1M255.2 661.5h1M233.9 692.4h1M240.0 699.0h1M255.6 672.3h1M248.6 682.8h1M230.8 710.2h1M256.9 670.4h1M249.1 679.7h1M244.0 684.4h1M243.7 689.3h1M240.4 694.1h1M235.6 703.0h1M238.0 676.6h1M250.5 680.1h1M240.9 699.5h1M244.4 706.0h1M247.6 672.5h1M241.1 684.9h1M242.6 705.1h1M263.7 687.9h1M247.8 690.4h1M245.8 666.9h1M254.4 698.1h1M241.0 690.8h1M239.7 690.3h1M238.6 682.8h1M253.1 663.3h1M251.9 671.6h1M242.9 671.2h1M249.2 675.1h1M262.1 665.1h1M246.4 692.6h1M237.8 686.1h1M237.2 699.3h1M246.7 695.6h1M234.6 687.9h1M243.8 684.7h1M246.8 696.5h1M245.6 680.0h1M244.4 681.7h1M240.1 708.8h1M249.4 700.8h1M243.2 688.7h1M235.8 697.6h1M249.7 690.1h1M236.5 695.8h1M251.1 678.4h1M249.6 679.4h1M244.6 682.8h1M234.3 689.0h1M245.9 684.4h1M244.6 682.8h1M250.8 681.3h1M247.4 681.4h1M253.8 679.5h1M247.7 705.6h1M247.7 671.3h1M240.0 694.9h1M235.5 682.2h1M243.8 674.3h1M252.3 685.7h1M242.5 700.9h1M239.9 681.2h1M251.0 683.0h1M243.1 698.8h1M243.7 694.7h1M246.2 697.3h1M248.5 680.5h1M255.2 676.0h1M256.8 666.4h1M245.0 667.3h1M248.3 697.2h1M241.9 694.6h1M243.1 702.4h1M247.0 689.3h1M252.4 667.8h1M249.5 685.2h1M253.8 680.8h1M248.9 684.0h1M237.8 689.1h1M243.4 677.0h1M244.4 684.0h1M257.4 675.2h1M245.6 688.2h1M249.6 669.3h1M232.5 712.6h1M238.9 684.8h1M252.9 684.0h1M239.1 699.5h1M236.8 709.4h1M242.5 692.9h1M244.6 705.6h1M238.0 692.7h1M259.7 657.0h1M241.3 693.4h1M243.2 693.3h1M252.8 671.0h1M240.2 703.8h1M258.3 652.4h1M248.5 693.9h1M240.0 684.0h1M236.8 692.7h1M236.7 701.1h1M239.9 696.7h1M233.8 705.2h1M249.4 692.7h1M246.6 707.4h1M251.5 682.8h1M256.0 675.4h1M245.8 702.0h1M241.5 690.6h1M246.5 688.2h1M243.1 698.6h1M259.8 672.0h1M234.5 692.3h1M235.1 684.5h1M237.5 703.7h1M245.8 693.6h1M244.0 697.9h1M241.9 702.2h1M250.9 684.9h1M234.5 686.5h1M246.6 677.0h1M243.6 687.5h1M254.4 673.8h1M245.7 683.0h1M239.5 696.4h1M251.5 669.4h1M255.2 699.6h1M245.8 691.8h1M237.5 690.4h1M246.9 685.4h1M254.4 672.0h1M243.0 694.2h1M244.2 686.2h1M243.9 692.3h1M250.0 674.1h1M238.4 683.0h1M247.8 668.6h1M261.9 668.8h1M234.9 714.9h1M244.7 692.5h1M243.4 686.8h1M259.1 658.2h1M246.6 679.8h1M242.4 689.4h1M231.9 704.3h1M246.2 691.9h1M240.6 698.2h1M241.5 697.7h1M254.2 685.9h1M234.7 697.0h1M237.6 711.6h1M246.2 675.3h1M234.1 708.8h1M237.8 697.5h1M242.5 688.6h1M241.7 690.6h1M256.0 670.7h1M248.4 689.4h1M240.1 682.0h1M238.6 698.4h1M245.9 696.4h1M247.3 686.9h1M244.9 690.0h1M245.1 693.8h1M238.8 702.7h1M256.1 677.8h1M248.7 674.1h1M245.5 674.4h1M251.7 682.7h1M252.3 692.0h1M239.6 699.6h1M255.6 699.1h1M244.1 693.5h1M240.3 697.5h1M249.0 697.7h1M243.7 689.4h1M248.3 683.6h1M259.2 656.0h1M232.8 693.4h1M249.6 684.2h1M247.7 671.9h1M249.0 689.5h1M256.2 686.0h1M240.5 684.9h1M236.9 690.2h1M244.1 699.9h1M256.4 679.1h1M249.0 683.0h1M235.7 700.3h1M239.7 677.7h1M238.9 706.3h1M236.7 707.0h1M235.2 695.3h1M248.3 681.5h1M238.0 693.7h1M256.5 684.3h1M246.2 692.0h1M253.1 693.1h1M242.9 681.7h1M237.9 694.3h1M242.7 689.8h1M240.5 714.0h1M239.9 704.9h1M238.8 685.9h1M236.6 685.0h1M233.3 690.1h1M243.1 695.7h1M232.3 702.3h1M244.0 688.6h1M229.7 704.9h1M249.5 694.5h1M242.8 700.9h1M245.3 679.4h1M248.5 693.8h1M246.4 686.4h1M243.1 695.5h1M232.1 701.2h1M235.7 690.9h1M246.2 698.0h1M244.7 679.8h1M263.9 675.1h1M225.8 702.9h1M239.6 686.9h1M252.2 701.0h1M245.5 675.4h1M250.9 683.8h1M241.9 692.2h1M236.6 696.5h1M247.3 696.6h1M258.9 670.7h1M247.5 678.7h1M245.7 697.7h1M249.4 681.6h1M257.5 685.5h1M253.5 681.6h1M254.2 678.9h1M250.9 683.3h1M244.8 674.1h1M251.7 687.5h1M240.4 692.3h1M249.1 690.2h1M230.2 713.5h1M237.6 711.1h1M252.9 682.6h1M246.3 689.4h1M241.9 704.1h1M240.0 687.2h1M243.2 675.1h1M252.1 671.3h1M255.5 687.7h1M259.1 670.8h1M242.7 685.8h1M250.4 675.3h1M242.5 669.1h1M245.1 689.7h1M258.9 668.8h1M251.7 687.5h1M251.1 672.9h1M220.1 704.2h1M251.7 683.9h1M255.1 699.0h1M239.8 688.5h1M255.7 663.9h1M226.9 705.3h1M247.2 699.8h1M250.0 683.3h1M240.8 674.8h1M248.5 679.4h1M242.1 693.2h1M230.2 699.3h1M240.4 709.8h1M244.0 699.0h1M237.7 679.5h1M251.1 679.6h1M235.2 705.7h1M248.4 669.4h1M243.2 707.5h1M245.6 675.0h1M238.8 705.6h1M255.6 685.3h1M234.0 704.6h1M238.9 688.3h1M241.2 700.8h1M248.5 690.3h1M241.6 686.0h1M252.6 676.0h1M242.8 694.8h1M243.5 698.1h1M248.9 690.5h1M261.5 669.2h1M259.9 663.7h1M239.2 669.8h1M240.0 684.7h1M249.9 695.4h1M261.6 669.3h1M252.5 679.9h1M231.5 660.8h1M242.2 672.3h1M251.1 674.2h1M249.5 677.9h1M248.3 676.3h1M247.7 702.4h1M247.5 673.1h1M239.2 694.0h1M250.7 671.7h1M238.2 678.5h1M257.6 680.1h1M247.2 682.0h1M258.7 681.8h1M244.1 699.9h1M249.1 681.8h1M242.2 690.2h1M254.8 666.5h1M232.8 704.2h1M252.5 695.1h1M249.0 670.6h1M250.8 684.6h1M237.5 679.2h1M233.6 697.9h1M235.5 699.0h1M243.7 694.9h1M251.1 674.2h1M242.1 697.1h1M240.2 701.3h1M249.1 692.8h1M240.5 698.9h1M243.3 691.3h1M249.4 679.0h1M244.5 666.1h1M239.8 697.9h1M237.0 674.8h1M234.5 693.8h1M249.7 688.9h1M234.6 700.2h1M236.0 705.5h1M247.6 679.7h1M241.4 690.0h1M240.6 702.3h1M247.0 680.8h1M248.1 672.4h1M245.9 684.0h1M240.7 690.8h1M246.4 672.9h1M247.4 713.4h1M250.5 677.7h1M247.4 701.3h1M237.1 709.9h1M242.3 707.8h1M238.9 702.6h1M240.7 703.1h1M251.2 685.8h1M238.8 702.7h1M247.5 675.6h1M248.8 683.1h1M244.0 679.5h1M246.3 694.8h1M238.8 700.5h1M231.8 699.7h1M246.7 677.4h1M245.9 674.7h1M258.1 680.6h1M252.5 672.8h1M228.8 700.4h1M254.3 678.6h1M253.0 684.9h1M247.1 695.9h1M240.6 687.6h1M252.6 685.8h1M241.0 681.0h1M255.3 649.0h1M251.3 681.2h1M235.6 699.3h1M248.2 706.5h1M246.9 662.7h1M238.2 700.5h1M241.4 690.2h1M244.2 701.9h1M247.1 684.6h1M240.3 701.1h1M239.9 695.9h1M247.7 692.5h1M250.3 686.0h1M258.6 683.9h1M239.5 683.8h1M239.9 704.4h1M237.1 709.0h1M247.8 680.0h1M237.9 692.8h1M250.1 682.9h1M249.8 685.4h1M254.2 675.6h1M243.9 678.1h1M242.6 680.5h1M234.3 694.6h1M249.5 663.0h1M236.0 682.2h1M247.3 691.1h1M247.0 684.3h1M239.5 694.1h1M238.8 690.8h1M247.6 683.3h1M253.1 660.7h1M233.8 706.4h1M240.9 686.8h1M241.0 690.5h1M243.7 692.2h1M251.2 700.0h1M230.2 699.0h1M238.7 695.0h1M237.9 694.3h1M246.7 686.0h1M246.4 692.8h1M237.5 693.5h1M252.0 690.7h1M251.5 674.6h1M240.2 700.9h1M244.8 690.7h1M242.4 698.5h1M246.0 677.7h1M247.3 682.6h1M243.0 694.7h1M245.8 681.8h1M236.8 690.4h1M243.9 677.6h1M240.5 713.2h1M240.4 692.2h1M236.3 691.9h1M246.5 688.1h1M233.2 697.9h1M238.1 703.7h1M244.1 703.3h1M247.3 675.0h1M251.3 678.0h1M244.0 689.5h1M235.9 706.3h1M245.8 677.5h1M235.4 700.1h1M253.1 684.8h1M246.9 682.3h1M252.3 686.8h1M239.3 686.8h1M230.0 711.0h1M265.3 669.9h1M247.8 692.6h1M243.3 709.2h1M237.8 685.9h1M255.9 687.3h1M250.0 682.7h1M244.5 689.6h1M247.7 679.9h1M251.9 698.3h1M241.2 682.1h1M245.6 710.2h1M238.2 706.0h1M240.1 684.8h1M252.2 680.2h1M244.5 694.8h1M252.5 683.8h1M255.5 672.9h1M241.2 697.3h1M249.2 668.2h1M242.6 696.2h1M243.7 705.6h1M233.9 698.9h1M239.0 678.0h1M243.2 688.8h1M241.9 684.5h1M250.7 673.5h1M240.5 678.6h1M252.8 667.8h1M256.6 669.7h1M244.4 703.4h1M237.5 706.4h1M235.8 691.2h1M248.6 688.0h1M247.1 689.1h1M255.6 664.2h1M240.0 700.1h1M234.7 690.0h1M261.6 686.6h1M248.3 685.9h1M243.6 680.8h1M238.8 683.9h1M236.0 696.6h1M247.7 677.0h1M245.7 675.0h1M247.3 683.0h1M244.3 690.3h1M253.7 682.6h1M240.3 693.3h1M247.5 690.8h1M252.0 674.5h1M236.5 700.7h1M237.0 698.8h1M263.5 684.2h1M234.7 688.9h1M247.5 683.3h1M249.6 686.4h1M247.1 691.4h1M234.0 707.7h1M235.0 688.0h1M228.1 701.9h1M247.5 682.4h1M236.5 674.7h1M248.6 674.2h1M242.2 692.5h1M244.3 692.3h1M256.2 685.3h1M237.8 693.6h1M243.2 681.5h1M249.3 680.8h1M246.4 692.8h1M259.3 670.5h1M249.8 704.0h1M255.8 681.8h1M239.7 693.9h1M240.5 687.8h1M232.8 695.4h1M230.9 708.9h1M248.4 681.4h1M245.0 689.1h1M243.0 692.3h1M243.6 693.4h1M239.2 693.5h1M256.4 671.0h1M239.2 701.6h1M247.0 687.8h1M246.1 683.3h1M241.1 696.0h1M246.0 693.2h1M247.9 706.4h1M245.4 700.8h1M245.9 708.3h1M251.6 675.5h1M255.8 673.9h1M251.8 675.4h1M247.3 687.6h1M254.7 660.0h1M231.4 708.5h1M250.0 679.2h1M245.5 671.5h1M242.2 684.3h1M251.0 685.5h1M243.7 700.0h1M240.3 699.1h1M243.2 693.9h1M242.8 703.0h1M241.8 709.6h1M250.3 676.0h1M241.7 703.3h1M255.0 668.6h1M246.0 693.2h1M261.4 680.8h1M243.4 698.1h1M245.4 679.9h1M244.5 686.5h1M243.3 690.4h1M247.3 679.1h1M249.5 669.8h1M249.5 689.1h1M247.8 672.1h1M241.3 693.2h1M248.1 692.7h1M234.1 697.5h1M252.4 671.4h1M236.3 691.1h1M242.9 687.6h1M253.6 683.8h1M231.5 706.8h1M245.5 695.8h1M244.6 701.5h1M245.8 683.1h1M236.4 704.0h1M243.9 673.0h1M250.7 695.7h1M230.2 705.9h1M249.4 700.7h1M253.4 674.5h1M248.0 692.7h1M234.5 710.4h1M248.3 693.5h1M238.6 701.4h1M244.5 685.9h1M245.1 691.5h1M234.2 697.3h1M247.4 671.4h1M256.7 702.5h1M249.5 684.7h1M237.6 684.3h1M236.2 703.9h1M238.7 695.4h1M241.7 699.5h1M253.7 689.7h1M249.5 694.7h1M256.8 670.6h1M246.7 681.0h1M245.1 686.3h1M245.6 694.6h1M235.7 672.1h1M246.7 696.9h1M242.1 704.6h1M260.6 676.2h1M243.3 694.6h1M250.2 670.3h1M248.3 666.7h1M237.3 696.9h1M247.0 675.8h1M245.1 700.3h1M233.3 703.4h1M253.7 668.8h1M253.2 685.9h1M242.6 690.7h1M244.5 689.2h1M243.4 683.0h1M251.2 699.2h1M243.5 703.0h1M239.4 681.3h1M249.3 687.2h1M248.0 677.2h1M242.0 700.4h1M256.0 681.8h1M247.5 662.0h1M240.3 704.6h1M258.1 670.0h1M227.1 708.1h1M235.7 692.4h1M240.6 688.8h1M238.0 700.4h1M246.9 674.7h1M233.7 717.3h1M248.8 687.4h1M232.9 718.7h1M237.5 695.9h1M247.1 680.1h1M245.7 683.8h1M230.4 687.8h1M240.4 687.4h1M247.8 701.7h1M243.1 710.5h1M241.7 692.3h1M243.2 674.4h1M244.2 687.3h1M238.9 700.6h1M247.5 683.6h1M238.6 696.7h1M239.1 685.5h1M241.2 700.5h1M242.7 689.0h1M242.4 696.3h1M243.6 697.5h1M243.6 697.6h1M242.6 683.6h1M247.6 684.6h1M241.5 704.9h1M241.2 684.5h1M242.3 704.2h1M235.3 707.5h1M248.3 682.2h1M242.3 684.1h1M230.5 692.0h1M234.9 682.1h1M241.6 697.0h1M238.1 691.3h1M239.2 691.5h1M247.4 698.0h1M248.8 689.0h1M254.2 687.7h1M247.9 691.5h1M250.3 674.7h1M238.4 695.0h1M232.2 696.8h1M242.2 694.0h1M249.3 697.3h1M228.1 704.7h1M246.9 700.5h1M240.2 696.6h1M243.4 681.2h1M246.2 696.7h1M242.0 692.0h1M252.1 681.1h1M242.3 693.7h1M247.5 690.4h1M253.0 686.1h1M236.1 680.9h1M243.8 705.3h1M244.7 684.9h1M246.3 692.5h1M253.1 670.1h1M249.8 686.5h1M250.1 694.5h1M228.9 710.6h1M247.9 679.0h1M243.5 699.7h1M234.0 706.1h1M249.9 701.0h1M238.6 688.3h1M251.4 680.8h1M247.2 662.5h1M261.0 658.1h1M233.0 703.3h1M247.8 678.8h1M229.0 707.0h1M246.0 679.3h1M245.3 683.0h1M237.3 701.6h1M244.4 689.6h1M235.8 689.7h1M242.4 685.2h1M246.7 687.5h1M242.8 688.9h1M247.2 696.3h1M236.9 704.4h1M250.6 691.4h1M240.5 694.4h1M259.0 664.6h1M250.2 682.0h1M255.9 680.9h1M250.2 678.5h1M240.9 707.1h1M235.5 691.6h1M242.6 679.0h1M248.7 674.1h1M244.7 686.7h1M229.0 703.3h1M233.6 698.4h1M228.1 697.6h1M250.0 687.1h1M252.1 698.0h1M249.5 683.2h1M243.5 695.8h1M235.7 686.6h1M244.3 705.6h1M236.6 698.0h1M239.4 700.0h1M246.8 686.9h1M250.7 681.6h1M232.8 718.5h1M243.6 692.7h1M249.8 677.1h1M241.1 684.8h1M248.3 689.6h1M245.7 675.8h1M238.6 680.4h1M234.8 690.1h1M246.4 692.1h1M231.8 705.5h1M246.8 702.0h1M250.3 670.2h1M247.7 688.6h1M246.6 680.4h1M254.3 681.8h1M240.3 675.5h1M242.6 677.7h1M234.1 713.0h1M243.9 698.8h1M252.1 689.7h1M241.3 680.6h1M243.2 691.3h1M243.3 687.2h1M245.3 674.8h1M251.7 671.9h1M245.2 680.2h1M253.8 676.1h1M237.9 691.0h1M250.5 672.4h1M235.3 691.7h1M249.6 657.1h1M250.8 705.1h1M243.1 699.0h1M243.4 672.4h1M241.3 697.4h1M236.6 692.8h1M239.7 696.7h1M261.6 675.6h1M235.3 712.4h1M242.3 686.9h1M247.8 693.5h1M245.9 691.1h1M245.6 676.7h1M249.8 692.8h1M238.9 677.1h1M240.1 694.3h1M254.2 683.0h1M221.5 702.1h1M244.8 691.0h1M233.7 694.5h1M245.3 694.9h1M250.1 700.0h1M239.5 689.0h1M241.2 696.4h1M258.4 679.2h1M245.5 679.5h1M235.4 713.4h1M243.8 703.1h1M250.1 679.6h1M246.1 679.0h1M248.8 684.0h1M249.9 696.4h1M240.2 700.1h1M247.4 681.5h1M246.3 699.3h1M245.5 697.4h1M246.8 699.1h1M243.4 686.7h1M248.8 663.6h1M240.7 706.7h1M239.1 711.0h1M255.7 674.9h1M239.1 697.2h1M250.8 700.4h1M255.2 673.4h1M250.5 679.2h1M252.0 687.2h1M254.6 679.8h1M250.2 672.1h1M237.6 699.5h1M245.1 696.8h1M260.7 669.6h1M236.1 685.8h1M240.0 703.7h1M247.1 683.9h1M249.2 683.4h1M246.3 687.3h1M234.9 704.7h1M245.7 709.2h1M245.2 682.7h1M245.7 681.0h1M244.2 685.6h1M246.8 678.2h1M243.7 685.6h1M237.5 694.0h1M249.4 691.8h1M246.7 686.0h1M251.2 680.6h1M249.3 668.4h1M236.0 689.0h1M252.5 679.7h1M247.7 675.7h1M256.2 696.0h1M244.6 682.4h1M246.3 685.0h1M241.2 667.9h1M246.1 666.4h1M240.9 677.2h1M258.7 664.8h1M241.7 694.7h1M242.3 693.0h1M251.1 677.2h1M248.2 684.5h1M235.2 699.3h1M236.9 705.0h1M244.6 690.4h1M251.7 674.9h1M238.9 707.2h1M249.7 688.6h1M230.4 700.7h1M237.8 688.5h1M232.9 682.6h1M241.4 694.9h1M240.9 690.0h1M245.1 701.2h1M240.4 693.4h1M264.3 672.0h1M250.5 672.4h1M237.0 690.7h1M266.6 664.4h1M254.7 675.4h1M235.6 678.1h1M245.8 697.8h1M238.9 689.5h1M236.6 688.2h1M252.0 677.3h1M237.0 700.8h1M246.5 686.6h1M259.5 679.1h1M253.0 669.7h1M244.1 701.2h1M250.1 692.9h1M233.9 694.8h1M256.8 692.5h1M222.2 688.9h1M254.6 688.0h1M254.3 653.6h1M245.3 695.7h1M253.6 671.8h1M252.4 689.8h1M240.9 706.9h1M254.0 689.4h1M241.3 694.0h1M244.5 704.7h1M262.7 665.3h1M259.4 680.5h1M239.7 685.7h1M256.0 682.2h1M239.8 690.7h1M241.8 689.6h1M258.0 670.8h1M242.3 661.2h1M248.4 694.5h1M259.9 669.9h1M242.5 686.4h1M235.5 696.1h1M238.9 691.1h1M245.8 694.8h1M245.1 711.2h1M247.2 691.4h1M248.6 684.3h1M251.9 684.0h1M234.7 691.6h1M255.7 663.8h1M257.8 678.7h1M246.7 698.8h1M246.4 682.4h1M228.5 695.9h1M236.0 702.4h1M245.5 678.7h1M253.5 689.7h1M261.3 677.2h1M235.5 697.0h1M250.4 692.2h1M234.9 701.1h1M249.8 688.0h1M232.6 694.0h1M243.9 686.9h1M251.6 679.0h1M231.0 679.3h1M248.3 677.6h1M244.4 699.2h1M240.8 691.2h1M233.9 685.7h1M249.1 695.8h1M239.8 690.6h1M247.2 682.0h1M245.3 684.0h1M249.2 679.6h1M241.2 678.1h1M239.0 678.8h1M243.7 698.7h1M235.1 688.1h1M239.0 697.4h1M242.5 687.0h1M237.6 691.6h1M242.1 682.7h1M255.3 684.1h1M243.6 692.2h1M261.9 679.8h1M240.7 691.2h1M253.3 685.5h1M242.7 690.8h1M236.4 692.1h1M241.7 688.4h1M254.9 680.0h1M253.5 680.9h1M233.5 709.1h1M240.7 690.4h1M253.0 694.6h1M246.0 699.3h1M241.1 697.4h1M238.0 703.1h1M240.5 697.9h1M235.8 709.3h1M257.0 675.6h1M245.2 678.6h1M243.3 675.6h1M250.2 683.0h1M253.5 680.9h1M243.0 681.7h1M249.5 683.0h1M235.8 681.4h1M251.9 681.2h1M244.2 683.4h1M240.8 691.3h1M246.2 675.6h1M263.3 681.4h1M230.4 700.6h1M253.2 675.0h1M234.5 701.7h1M240.1 691.9h1M257.2 677.8h1M254.8 672.4h1M231.1 695.8h1M241.9 696.9h1M248.1 666.6h1M236.4 690.9h1M239.3 686.5h1M242.3 691.6h1M233.5 688.6h1M237.9 705.1h1M243.5 675.1h1M248.4 693.8h1M232.7 686.6h1M248.1 685.8h1M249.3 699.4h1M249.7 693.4h1M241.1 704.4h1M239.5 695.6h1M229.6 696.7h1M250.6 674.5h1M241.2 670.5h1M242.2 677.8h1M245.2 683.2h1M239.6 689.2h1M241.7 690.6h1M242.8 700.4h1M252.7 657.8h1M254.8 677.7h1M247.4 677.3h1M249.3 689.7h1M240.6 680.9h1M248.6 689.0h1M238.0 673.5h1M236.4 698.6h1M254.3 670.9h1M240.5 681.3h1M247.4 678.4h1M257.3 683.1h1M243.3 685.4h1M252.3 678.0h1M241.9 691.3h1M252.6 694.8h1M242.2 678.6h1M238.0 692.0h1M249.6 659.3h1M249.6 687.7h1M246.3 672.8h1M245.5 682.5h1M237.8 699.3h1M254.1 682.0h1M249.1 693.7h1M245.1 683.7h1M255.9 672.9h1M242.6 692.9h1M241.8 681.5h1M253.0 680.9h1M239.7 686.7h1M249.2 691.8h1M246.4 697.3h1M244.8 702.7h1M251.6 671.5h1M244.2 691.4h1M244.8 678.7h1M248.4 684.3h1M234.0 684.9h1M242.1 698.8h1M244.7 689.7h1M251.9 679.9h1M245.1 687.0h1M251.6 676.1h1M247.8 678.6h1M245.6 697.5h1M239.2 697.0h1M245.5 689.4h1M248.8 685.3h1M248.6 701.5h1M240.0 681.8h1M250.4 686.8h1M259.5 669.9h1M250.3 678.2h1M241.5 685.1h1M239.1 683.8h1M242.7 688.1h1M245.4 694.9h1M238.5 692.3h1M238.7 700.6h1M238.4 689.9h1M239.3 702.3h1M236.3 684.3h1M242.2 686.7h1M238.4 703.7h1M241.1 671.6h1M243.6 676.6h1M240.3 687.0h1M238.5 689.2h1M242.2 695.8h1M263.2 666.2h1M241.7 700.9h1M257.2 684.8h1M243.2 707.2h1M245.6 698.2h1M241.1 679.5h1M254.6 671.5h1M237.5 695.1h1M238.4 699.4h1M245.6 685.3h1M241.0 704.5h1M254.9 690.0h1M235.6 710.8h1M245.8 702.9h1M248.8 678.3h1M233.2 691.3h1M253.7 676.4h1M256.8 666.1h1M249.6 682.8h1M235.0 699.5h1M242.2 687.4h1M230.1 690.8h1M240.3 690.2h1M239.1 711.5h1M242.1 692.1h1M242.7 701.4h1M249.1 693.6h1M234.0 698.3h1M243.9 694.5h1M240.2 693.0h1M238.0 690.3h1M247.5 681.0h1M239.0 691.4h1M247.3 689.7h1M236.5 690.8h1M236.6 685.3h1M262.0 684.9h1M250.0 680.9h1M251.1 697.0h1M253.8 687.2h1M237.9 715.8h1M250.4 691.3h1M247.4 689.2h1M242.1 674.4h1M257.7 701.3h1M248.3 691.2h1M244.8 695.0h1M243.8 688.0h1M249.4 668.3h1M254.9 676.0h1M248.8 690.2h1M256.3 694.0h1M235.6 686.6h1M246.1 671.7h1M249.3 683.1h1M239.3 700.3h1M238.2 686.5h1M244.7 696.0h1M243.4 685.9h1M246.2 683.3h1M231.5 707.5h1M248.3 695.3h1M245.7 691.6h1M232.8 685.2h1M231.0 710.3h1M239.8 704.5h1M247.8 681.2h1M244.0 681.2h1M241.5 693.8h1M249.6 679.4h1M233.4 708.0h1M236.8 701.3h1M233.8 688.6h1M230.4 706.0h1M247.8 714.2h1M258.1 678.1h1M229.9 698.1h1M246.5 689.9h1M245.7 677.8h1M242.4 707.5h1M240.7 687.7h1M236.0 689.4h1M253.2 684.3h1M240.9 687.8h1M250.4 678.0h1M238.8 690.0h1M226.2 714.0h1M238.7 700.0h1M244.5 697.6h1M240.7 714.2h1M248.5 682.9h1M246.8 667.0h1M236.3 675.9h1M242.6 710.0h1M247.0 672.6h1M233.4 700.9h1M249.0 682.5h1M255.0 681.7h1M259.1 683.9h1M259.4 651.3h1M250.0 690.9h1M255.2 684.8h1M247.4 688.8h1M246.0 692.2h1M256.1 663.6h1M241.3 677.3h1M240.3 694.3h1M245.8 690.7h1M249.8 687.9h1M242.1 689.0h1M236.8 690.4h1M243.8 692.3h1M233.1 707.9h1M243.9 674.3h1M243.3 694.5h1M245.1 683.8h1M238.1 695.6h1M245.6 690.1h1M241.7 701.9h1M231.4 699.0h1M232.7 680.0h1M245.7 694.9h1M242.3 694.1h1M243.1 700.0h1M240.1 696.8h1M246.8 671.7h1M252.8 675.9h1M236.2 689.0h1M250.5 679.4h1M250.0 674.9h1M246.2 670.8h1M242.3 702.0h1M240.6 693.1h1M231.3 714.4h1M242.7 693.8h1M241.6 681.1h1M241.8 687.4h1M236.9 693.0h1M237.3 689.6h1M224.0 696.2h1M246.6 688.5h1M242.6 693.5h1M256.6 681.4h1M245.2 686.8h1M246.7 692.2h1M228.4 720.9h1M251.1 687.0h1M239.9 690.9h1M238.8 705.2h1M239.4 677.6h1M242.7 681.9h1M245.6 688.5h1M238.2 679.3h1M241.8 678.5h1M242.8 691.1h1M241.4 692.2h1M241.3 705.9h1M231.5 689.0h1M252.2 670.5h1M248.6 682.7h1M244.2 675.5h1M241.2 689.5h1M228.9 701.2h1M241.0 670.5h1M245.2 684.3h1M233.3 707.9h1M243.2 678.8h1M237.7 696.4h1M240.1 698.2h1M235.2 698.2h1M247.3 690.5h1M238.3 684.6h1M235.9 696.0h1M242.1 701.0h1M241.8 702.4h1M242.2 699.2h1M251.1 685.2h1M235.1 699.7h1M245.1 684.8h1M242.4 696.1h1M229.3 705.6h1M255.4 673.0h1M252.6 677.1h1M241.9 687.1h1M243.8 681.7h1M239.7 689.9h1M237.4 693.3h1M251.2 675.0h1M245.3 680.5h1M235.8 695.1h1M241.9 699.1h1M248.9 685.3h1M239.4 704.6h1M234.7 689.2h1M249.1 687.9h1M248.3 682.9h1M249.0 694.8h1M230.4 704.5h1M250.7 673.5h1M237.2 697.3h1M248.3 684.7h1M232.4 699.9h1M243.2 685.7h1M251.1 663.2h1M244.6 682.4h1M248.0 682.2h1M256.0 680.1h1M240.1 676.9h1M242.0 689.6h1M255.0 682.6h1M245.2 679.2h1M245.4 678.5h1M234.0 700.6h1M240.8 679.0h1M251.9 692.8h1M247.1 671.0h1M238.1 684.6h1M245.7 717.5h1M250.3 682.1h1M238.0 680.8h1M238.8 694.2h1M242.2 694.4h1M247.6 675.1h1M249.8 683.8h1M255.2 677.8h1M241.4 689.4h1M252.6 685.9h1M252.2 690.9h1M246.3 707.4h1M243.4 686.8h1M251.8 671.5h1M246.2 695.5h1M237.7 676.5h1M234.1 706.8h1M261.5 665.8h1M234.8 684.6h1M255.0 686.0h1M248.8 677.9h1M248.7 677.8h1M248.0 678.2h1M235.2 691.6h1M247.0 688.8h1M240.2 699.7h1M232.8 679.9h1M248.3 683.3h1M243.8 684.4h1M247.8 687.2h1M253.8 671.7h1M235.2 694.4h1M242.3 686.9h1M229.0 704.1h1M256.0 681.6h1M252.8 686.3h1M246.0 690.2h1M251.8 685.9h1M248.8 683.8h1M238.9 695.7h1M241.3 695.7h1M228.5 717.0h1M253.5 694.1h1M247.0 676.4h1M241.4 679.9h1M247.1 685.8h1M245.4 670.4h1M233.7 677.1h1M254.2 684.3h1M244.7 684.5h1M231.6 695.2h1M241.4 682.9h1M251.4 663.9h1M245.5 694.3h1M250.1 669.7h1M224.5 716.9h1M254.5 678.1h1M242.5 692.6h1M252.0 682.7h1M241.9 691.9h1M247.1 704.2h1M244.6 679.5h1M258.1 690.1h1M255.0 670.7h1M240.2 679.0h1M243.6 700.6h1M251.2 682.8h1M246.1 690.9h1M243.5 679.2h1M239.5 706.9h1M237.8 683.2h1M248.6 681.5h1M242.1 691.3h1M243.6 673.7h1M251.3 684.2h1M256.9 685.3h1M240.4 687.3h1M239.5 672.1h1M249.9 677.3h1M251.7 683.5h1M243.8 703.1h1M237.9 709.3h1M241.9 709.4h1M253.0 676.2h1M257.3 681.1h1M247.2 682.1h1M244.3 684.4h1M242.2 697.0h1M250.6 694.1h1M253.4 679.9h1M250.1 681.0h1M248.9 690.0h1M247.5 678.3h1M236.2 710.3h1M239.1 686.9h1M247.5 682.0h1M247.8 697.6h1M233.7 697.8h1M249.1 671.6h1M250.1 696.7h1M245.0 691.8h1M242.7 698.4h1M241.1 690.9h1M240.0 685.2h1M253.1 680.4h1M251.2 668.1h1M236.3 686.7h1M258.5 687.0h1M260.8 670.5h1M249.2 687.5h1M242.9 694.7h1M244.6 692.3h1M232.1 688.9h1M237.7 708.9h1M251.1 673.8h1M248.4 679.7h1M236.7 686.2h1M266.2 670.8h1M244.2 699.6h1M246.8 676.1h1M260.3 694.8h1M250.5 675.4h1M244.4 689.2h1M236.9 718.2h1M244.9 682.7h1M242.9 686.4h1M226.7 704.1h1M253.2 682.8h1M248.0 684.5h1M232.3 703.5h1M249.7 674.4h1M236.7 689.2h1M235.3 673.2h1M242.0 684.8h1M245.7 697.8h1M238.3 679.1h1M244.1 694.5h1M255.2 687.7h1M245.8 687.4h1M232.4 704.3h1M250.5 682.4h1M242.7 693.3h1M248.0 689.8h1M247.8 671.5h1M240.8 676.2h1M250.5 706.3h1M239.1 691.3h1M246.6 679.9h1M263.7 681.0h1M268.6 702.9h1M250.6 675.9h1M259.6 677.4h1M236.6 688.9h1M257.6 672.1h1M242.9 698.6h1M242.3 699.0h1M258.6 675.2h1M232.6 679.4h1M259.1 687.2h1M246.2 682.3h1M256.9 676.2h1M274.8 677.0h1M228.0 707.8h1M248.1 685.7h1M243.4 702.1h1M240.0 707.9h1M237.1 701.7h1M229.1 706.1h1M234.8 689.4h1M253.4 674.4h1M251.1 684.5h1M259.4 691.0h1M248.0 683.7h1M235.6 708.2h1M242.7 673.8h1M236.6 669.3h1M235.8 686.4h1M247.9 696.6h1M254.2 661.8h1M240.0 696.6h1M248.9 685.2h1M236.7 699.4h1M244.2 684.7h1M244.0 685.1h1M248.5 698.4h1M246.0 679.4h1M243.9 686.0h1M250.5 693.5h1M262.9 689.1h1M226.9 686.0h1M231.5 697.1h1M270.5 680.5h1M239.1 706.1h1M251.9 674.5h1M234.8 709.2h1M253.3 659.0h1M237.0 697.5h1M230.5 694.0h1M235.6 672.2h1M239.5 683.6h1M248.1 665.8h1M247.9 681.6h1M227.8 709.4h1M240.2 694.3h1M262.0 684.0h1M255.2 684.9h1M238.8 692.4h1M228.0 700.9h1M254.0 688.0h1M237.7 676.7h1M237.0 687.7h1M229.5 716.8h1M236.2 692.9h1M239.9 691.1h1M221.7 686.3h1M244.7 686.9h1M249.3 679.0h1M253.9 685.6h1M244.4 687.7h1M256.5 681.4h1M261.9 680.7h1M247.6 686.0h1M248.2 691.1h1M238.2 699.6h1M272.9 680.3h1M246.2 677.4h1M236.6 681.7h1M247.8 677.9h1M262.4 674.1h1M235.2 681.3h1M243.9 686.1h1M255.1 674.1h1M248.6 696.6h1M241.8 668.6h1M247.5 697.9h1M249.2 685.3h1M223.9 715.9h1M242.9 674.4h1M241.3 690.8h1M245.4 676.6h1M271.1 689.3h1M255.8 689.5h1M240.6 675.7h1M231.0 706.2h1M245.8 705.8h1M220.3 714.3h1M250.0 678.5h1M254.5 675.0h1M241.9 694.8h1M246.6 689.8h1M247.3 698.2h1M235.6 668.4h1M234.9 663.9h1M266.1 669.6h1M244.4 691.3h1M236.4 685.5h1M247.7 686.0h1M253.7 680.3h1M237.6 673.8h1M226.5 699.0h1M248.3 680.9h1M258.1 649.7h1M251.9 670.1h1M241.2 686.3h1M236.7 687.8h1M247.9 713.6h1M244.9 695.6h1M253.8 672.0h1M250.1 680.1h1M254.6 675.9h1M256.6 671.3h1M239.7 699.5h1M256.0 692.1h1M266.6 688.9h1M244.8 698.2h1M235.8 700.9h1M249.2 683.5h1M237.0 703.3h1M223.0 695.7h1M229.4 690.5h1M240.1 679.9h1M238.2 693.7h1M266.4 697.3h1M242.8 683.4h1M251.5 674.4h1M228.6 706.2h1M240.4 707.1h1M248.5 668.6h1M248.1 691.4h1M245.5 671.1h1M228.4 716.7h1M214.2 690.6h1M253.6 704.0h1M251.9 683.6h1M249.0 698.6h1M239.1 704.8h1M247.6 688.4h1M249.7 688.7h1M234.8 710.1h1M239.5 686.7h1M219.1 680.3h1M251.0 683.2h1M243.7 683.5h1M251.6 676.5h1M228.7 676.0h1M236.1 695.1h1M260.6 686.4h1M237.4 675.3h1M253.9 688.8h1M244.3 694.8h1M251.3 690.1h1M259.4 662.4h1M237.7 684.4h1M234.0 715.4h1M248.8 690.3h1M253.5 680.4h1M254.1 680.5h1M253.1 689.9h1M259.1 662.8h1M234.8 683.1h1M235.9 696.0h1M255.4 678.2h1M256.6 692.1h1M238.5 698.1h1M260.6 674.3h1M220.9 705.1h1M248.0 693.0h1M250.5 684.0h1M244.8 677.9h1M266.2 695.3h1M243.4 678.0h1M249.6 703.7h1M245.4 677.5h1M255.2 685.4h1M236.3 688.9h1M246.7 673.4h1M248.1 700.8h1M256.5 696.4h1M253.1 682.4h1M251.7 698.5h1M245.5 693.2h1M238.2 690.7h1M239.7 677.3h1M249.4 711.2h1M226.6 690.4h1M247.2 677.7h1M246.8 696.5h1M227.3 694.5h1M251.4 691.0h1M264.9 680.4h1M258.6 674.4h1M235.2 685.7h1M240.3 700.1h1M253.3 683.7h1M235.3 693.7h1M240.6 685.2h1M226.2 714.6h1M251.4 719.2h1M274.3 674.2h1M269.2 671.2h1M275.4 672.5h1M225.1 696.8h1M253.8 703.4h1M255.7 703.2h1M247.2 668.6h1M246.9 676.3h1M254.3 658.1h1M234.5 678.8h1M246.3 699.0h1M241.9 673.7h1M239.6 688.2h1M257.8 682.9h1M260.2 646.9h1M264.6 704.2h1M239.5 722.0h1M228.3 706.5h1M231.0 686.9h1M250.6 687.5h1M248.4 683.7h1M225.0 677.8h1M235.9 680.1h1M240.1 669.7h1M243.9 693.8h1M239.7 705.8h1M247.4 697.3h1M235.4 694.5h1M229.6 672.4h1M226.0 691.7h1M247.8 711.3h1M248.6 681.4h1M256.6 683.4h1M245.3 689.0h1M255.8 701.4h1M229.6 696.0h1M240.0 690.1h1M271.1 672.5h1M218.3 710.4h1M239.9 679.0h1M269.4 699.8h1M256.4 685.2h1M237.2 708.5h1M242.5 691.5h1M243.2 690.3h1M223.4 683.3h1M231.1 668.2h1M232.4 687.6h1M243.1 687.4h1M240.4 702.1h1M222.4 691.9h1M242.5 678.4h1M260.3 678.9h1M257.2 688.2h1M242.2 700.5h1M229.1 680.5h1M240.8 661.1h1M240.4 687.3h1M226.0 684.1h1M258.9 688.1h1M247.5 702.1h1M246.3 701.6h1M254.8 708.0h1M256.8 675.2h1M251.9 697.5h1M252.5 710.1h1M248.4 681.0h1M254.9 696.5h1M245.0 693.7h1M246.7 689.8h1M249.2 680.8h1M253.3 687.9h1M264.2 682.0h1M246.4 672.3h1M270.0 672.9h1M239.6 686.8h1M245.2 686.2h1M263.8 672.9h1M242.7 683.3h1M251.9 664.7h1M256.2 677.8h1M229.5 712.3h1M230.7 702.6h1M245.4 679.3h1M226.9 687.5h1M253.5 682.6h1M238.9 701.8h1M245.6 688.0h1M235.7 675.4h1M240.1 693.2h1M240.6 693.1h1M242.4 685.8h1M244.7 691.7h1M220.6 698.8h1M243.0 683.0h1M255.9 695.9h1M257.8 689.9h1M250.2 686.4h1M253.5 675.5h1M243.7 691.7h1M243.5 673.3h1M244.1 682.8h1M238.1 697.9h1M257.0 682.6h1M232.5 691.1h1M243.1 675.7h1M238.4 692.0h1M238.7 695.5h1M230.7 701.7h1M237.4 692.3h1M245.3 681.0h1M256.6 660.7h1M247.3 693.7h1M242.4 687.7h1M232.5 692.5h1M246.9 679.2h1M245.2 682.7h1M233.8 691.5h1M236.5 701.5h1M236.4 707.7h1M244.8 686.9h1M237.0 696.0h1M233.7 674.2h1M249.8 660.3h1M257.6 674.9h1M262.4 681.7h1M263.1 661.3h1M240.2 692.5h1M238.9 690.8h1M243.3 695.6h1M260.8 654.2h1M252.0 670.2h1M263.1 661.1h1M235.8 697.4h1M243.1 695.9h1M249.1 676.1h1M227.0 709.1h1M242.6 686.9h1M241.6 685.5h1M237.0 691.4h1M247.8 671.1h1M227.5 701.8h1M254.7 676.1h1M243.2 682.0h1M249.5 684.0h1M238.9 680.9h1M249.9 688.9h1M240.2 693.9h1M247.0 662.3h1M238.6 692.8h1M259.0 684.9h1M231.3 703.8h1M241.9 698.1h1M229.5 675.2h1M227.3 702.2h1M258.2 683.6h1M247.0 684.8h1M247.2 674.0h1M258.7 689.8h1M255.7 681.0h1M254.4 693.9h1M273.0 686.4h1M236.7 681.6h1M254.7 688.2h1M251.2 684.7h1M236.0 692.9h1M228.8 697.9h1M270.4 683.4h1M235.5 681.3h1M271.9 681.9h1M239.3 696.4h1M241.4 676.3h1M246.7 692.1h1M259.5 665.5h1M261.6 676.3h1M222.9 709.0h1M256.2 688.0h1M254.4 672.1h1M250.8 665.1h1M237.8 719.9h1M263.6 682.8h1M250.7 685.4h1M252.2 686.0h1M234.7 687.8h1M223.7 687.0h1M243.2 692.2h1M270.1 656.2h1M268.7 670.8h1M240.3 688.3h1M269.7 662.8h1M240.9 695.3h1M255.8 686.5h1M246.4 697.8h1M234.2 710.5h1M239.6 694.0h1M234.8 684.7h1M256.3 688.4h1M243.1 697.4h1M281.3 641.4h1M222.1 700.1h1M225.9 707.9h1M235.9 691.3h1M235.8 715.4h1M262.3 659.1h1M252.6 679.9h1M261.7 683.1h1M236.8 685.9h1M245.7 706.5h1M246.2 680.4h1M240.7 699.0h1M241.7 709.0h1M255.1 684.0h1M246.4 682.6h1M218.5 713.3h1M262.2 676.6h1M248.3 669.8h1M242.9 690.2h1M244.3 688.0h1M256.4 690.0h1M254.1 676.1h1M239.4 689.8h1M227.2 678.8h1M248.9 685.4h1M246.1 700.4h1M221.1 703.2h1M242.6 673.1h1M252.7 699.9h1M228.5 695.4h1M256.1 682.4h1M240.1 700.8h1M225.9 695.7h1M237.9 689.6h1M231.0 695.8h1M259.1 685.7h1M230.6 687.9h1M236.6 673.8h1M253.5 689.0h1M243.2 705.2h1M253.3 676.4h1M245.6 685.2h1M245.1 702.4h1M259.5 669.1h1M267.3 657.9h1M242.2 716.8h1M252.9 697.1h1M246.8 692.3h1M237.8 707.7h1M242.9 682.0h1M228.5 720.5h1M228.4 683.2h1M250.7 684.9h1M264.8 685.2h1M249.0 676.2h1M251.4 667.5h1M236.7 707.2h1M248.3 672.2h1M238.1 689.0h1M248.8 687.8h1M254.5 648.2h1M253.4 661.5h1M240.1 691.1h1M257.1 674.3h1M230.3 684.6h1M248.2 713.8h1M231.3 687.8h1M237.3 704.1h1M251.6 682.3h1M248.7 703.9h1M242.1 675.6h1M245.6 672.7h1M247.8 696.1h1M241.2 699.9h1M258.9 702.3h1M241.3 695.9h1M254.4 692.4h1M256.0 687.8h1M253.2 694.3h1M250.8 691.4h1M248.5 685.0h1M224.9 696.1h1M245.7 680.7h1M240.3 704.2h1M242.4 662.4h1M239.4 688.7h1M259.2 684.2h1M251.2 678.2h1M239.0 671.8h1M252.5 684.2h1M237.4 691.8h1M257.8 692.2h1M254.3 696.5h1M248.1 686.1h1M245.3 692.9h1M226.3 699.7h1M245.8 676.9h1M239.1 703.7h1M241.0 688.3h1M262.1 668.2h1M244.9 682.7h1M239.6 688.0h1M251.5 681.3h1M255.9 690.9h1M233.4 693.7h1M243.4 673.3h1M225.4 708.5h1M248.7 700.0h1M262.9 688.0h1M249.5 700.2h1M243.9 683.4h1M256.3 689.7h1M239.6 685.3h1M231.2 718.3h1M241.2 683.6h1M238.7 684.5h1M246.7 687.1h1M254.2 654.2h1M246.9 706.0h1M245.9 680.2h1M267.6 670.8h1M253.0 686.4h1M243.7 676.5h1M247.1 688.8h1M265.6 660.2h1M228.1 701.9h1M228.6 662.4h1M241.6 702.3h1M225.0 679.5h1M261.9 669.3h1M235.5 690.0h1M263.2 676.6h1M254.0 681.3h1M233.4 696.0h1M225.2 708.7h1M227.4 697.4h1M221.4 697.4h1M249.8 676.5h1M266.9 677.0h1M250.2 667.9h1M239.7 692.6h1M253.6 690.1h1M229.7 677.5h1M232.8 706.1h1M225.7 682.2h1M246.6 686.0h1M244.5 678.0h1M249.1 684.1h1M243.1 690.8h1M242.7 686.3h1M257.8 689.5h1M246.1 688.4h1M260.4 664.6h1M223.8 697.7h1M226.1 683.9h1M247.7 688.4h1M241.4 680.2h1M228.9 686.7h1M236.1 691.2h1M255.5 678.9h1M232.6 698.0h1M258.7 684.5h1M240.2 685.1h1M241.6 676.8h1M255.4 678.8h1M266.5 691.1h1M239.8 719.5h1M239.9 680.7h1M225.5 696.6h1M249.5 681.0h1M243.9 693.2h1M236.4 690.7h1M242.2 706.1h1M252.6 682.6h1M233.8 690.9h1M236.3 687.3h1M249.0 694.7h1M256.4 675.2h1M247.2 685.9h1M254.5 708.1h1M256.4 692.3h1M247.9 692.0h1M223.2 701.5h1M243.5 687.6h1M253.2 719.7h1M248.2 672.0h1M241.0 698.8h1M253.0 685.8h1M251.2 675.3h1M261.8 655.7h1M241.4 680.4h1M240.1 692.2h1M246.4 697.9h1M266.2 683.3h1M235.0 692.3h1M236.7 682.3h1M240.8 700.3h1M236.4 695.2h1M236.9 701.3h1M258.0 664.8h1M253.4 673.6h1M248.9 684.6h1M254.6 668.5h1M266.2 681.4h1M238.2 705.2h1M260.2 686.3h1M239.7 680.8h1M235.4 710.5h1M245.9 686.8h1M241.2 703.3h1M241.3 699.1h1M225.6 687.6h1M248.9 674.7h1M266.3 653.9h1M249.5 691.5h1M250.2 684.3h1M248.2 678.9h1M245.0 708.2h1M245.0 700.1h1M260.2 673.9h1M219.9 713.0h1M266.4 660.2h1M239.7 689.1h1M242.4 695.7h1M244.0 694.8h1M236.3 673.5h1M265.3 680.9h1M249.6 672.1h1M250.3 684.5h1M250.6 686.3h1M256.8 698.1h1M241.4 684.9h1M253.3 667.0h1M237.5 686.9h1M222.2 720.4h1M242.3 686.4h1M232.3 699.8h1M240.3 676.1h1M249.0 703.3h1M228.9 694.8h1M269.1 673.9h1M237.5 709.5h1M247.8 696.9h1M263.4 686.3h1M248.9 707.9h1M228.8 682.2h1M242.8 681.6h1M243.4 666.7h1M227.5 704.1h1M243.1 693.3h1M241.0 689.3h1M228.6 715.7h1M256.7 666.6h1M240.3 693.9h1M240.6 689.1h1M247.6 665.1h1M253.5 689.0h1M234.6 690.4h1M244.2 684.9h1M245.8 669.7h1M245.9 692.0h1M249.5 690.6h1M239.0 692.0h1M255.9 683.4h1M247.7 687.1h1M251.1 669.9h1M244.6 697.6h1M235.4 698.7h1M240.2 685.0h1M232.9 682.9h1M258.2 664.6h1M246.8 671.1h1M267.4 685.1h1M236.5 678.5h1M242.2 692.8h1M263.5 695.6h1M234.5 695.3h1M255.4 674.5h1M240.1 700.6h1M230.1 695.1h1M244.5 684.5h1M245.5 668.6h1M254.3 678.0h1M266.8 700.2h1M240.2 712.2h1M260.8 670.8h1M242.4 702.8h1M237.3 687.3h1M217.7 684.3h1M232.4 685.4h1M237.3 694.3h1M248.0 681.9h1M230.3 697.4h1M252.0 683.7h1M260.3 675.1h1M254.5 686.3h1M259.7 699.4h1M232.5 672.7h1M256.6 685.8h1M249.0 680.6h1M237.0 705.3h1M250.4 678.8h1M245.8 690.7h1M230.9 687.0h1M250.8 686.5h1M230.1 698.3h1M267.1 684.3h1M230.8 689.0h1M238.5 681.8h1M236.2 685.1h1M244.3 673.7h1M255.4 686.5h1M266.6 687.1h1M255.8 688.5h1M244.1 675.7h1M252.6 685.2h1M238.1 695.6h1M248.9 678.4h1M261.1 674.5h1M246.7 699.2h1M239.6 686.7h1M250.3 681.4h1M239.8 677.2h1M247.8 682.0h1M254.3 695.0h1M245.0 696.6h1M237.6 709.7h1M239.2 689.0h1M241.2 683.8h1M254.0 683.5h1M235.6 701.1h1M245.7 694.0h1M247.6 681.3h1M225.5 693.5h1M235.6 706.1h1M242.9 705.7h1M270.4 689.1h1M271.4 664.6h1M239.8 678.3h1M230.6 679.8h1M255.0 673.9h1M241.7 695.9h1M240.8 707.6h1M258.3 689.7h1M263.5 685.1h1M247.4 699.3h1M256.7 666.8h1M257.4 693.6h1M247.1 703.0h1M232.5 696.1h1M237.7 681.7h1M248.3 669.7h1M245.0 695.7h1M237.1 679.1h1M251.4 695.3h1M255.3 676.8h1M240.9 705.5h1M254.9 686.9h1M247.8 684.7h1M252.0 692.6h1M245.8 690.6h1M230.2 693.3h1M262.6 682.1h1M230.4 689.5h1M246.3 703.8h1M268.6 676.3h1M243.7 690.0h1M233.3 708.6h1M232.3 702.3h1M240.3 678.3h1M248.9 705.2h1M232.1 696.5h1M237.8 703.6h1M229.3 680.8h1M241.1 675.0h1M256.0 665.7h1M246.0 681.8h1M256.1 676.7h1M243.2 708.1h1M252.3 698.8h1M260.8 686.2h1M248.7 667.1h1M226.5 692.0h1M248.4 699.1h1M236.9 688.0h1M267.9 664.4h1M243.3 687.6h1M237.7 708.5h1M228.0 692.7h1M227.0 688.4h1M262.2 656.9h1M227.0 696.6h1M249.2 677.6h1M250.1 683.3h1M241.0 690.9h1M258.6 668.1h1M254.6 686.6h1M243.0 680.6h1M249.0 695.2h1M235.1 701.1h1M245.6 697.2h1M248.2 684.2h1M247.6 694.1h1M229.5 695.4h1M218.9 702.7h1M240.1 690.6h1M256.1 693.3h1M260.8 691.2h1M243.0 679.8h1M273.4 666.8h1M241.4 694.5h1M236.4 693.8h1M247.6 680.6h1M234.0 693.5h1M249.9 674.3h1M246.8 688.3h1M235.6 697.1h1M230.4 705.2h1M237.5 703.2h1M246.4 688.0h1M230.7 703.3h1M233.3 718.9h1M250.0 687.9h1M245.6 695.5h1M250.3 690.0h1M254.8 681.6h1M262.9 662.2h1M227.3 702.9h1M245.0 670.7h1M232.1 685.8h1M259.1 688.7h1M227.2 681.0h1M246.8 673.0h1M238.6 684.3h1M245.8 694.2h1M237.6 685.5h1M248.2 705.0h1M249.8 681.6h1M255.5 681.4h1M230.3 702.4h1M263.1 666.6h1M253.6 669.9h1M244.4 686.9h1M241.5 688.3h1M252.7 678.5h1M242.8 685.5h1M248.3 679.0h1M253.9 687.2h1M238.8 676.2h1M242.4 700.8h1M252.2 684.6h1M267.4 695.1h1M251.0 701.0h1M242.5 684.9h1M247.8 665.0h1M245.6 681.9h1M260.0 687.3h1M262.3 674.6h1M261.4 681.8h1M251.1 689.7h1M231.5 704.7h1M240.4 697.4h1M244.8 676.8h1M241.9 692.7h1M242.1 708.7h1M258.5 682.6h1M241.4 706.1h1M245.8 700.9h1M230.5 671.9h1M253.7 694.3h1M243.6 686.6h1M250.4 691.3h1M244.5 688.3h1M247.9 698.8h1M253.1 654.4h1M249.2 682.4h1M257.1 690.4h1M239.6 689.4h1M219.9 698.3h1M233.4 694.7h1M237.5 705.6h1M259.4 676.9h1M235.7 707.1h1M230.6 690.6h1M241.2 692.5h1M245.9 676.9h1M254.9 687.5h1M248.9 704.1h1M265.9 680.9h1M240.9 686.7h1M244.1 676.0h1M237.7 685.4h1M251.0 693.5h1M218.5 682.0h1M238.6 678.5h1M245.0 667.7h1M242.8 691.2h1M249.6 680.7h1M249.9 694.1h1M241.5 677.4h1M239.7 693.7h1M248.3 666.8h1M229.0 676.9h1M265.0 683.2h1M247.3 673.2h1M222.2 721.9h1M252.0 656.2h1M262.9 683.8h1M244.8 690.9h1M255.1 660.2h1M248.4 671.5h1M240.8 687.4h1M240.7 681.3h1M247.2 682.1h1M248.2 694.9h1M235.9 689.8h1M235.9 701.4h1M253.3 695.6h1M256.9 683.5h1M234.4 684.1h1M258.5 682.8h1M254.0 676.9h1M242.8 710.9h1M256.0 664.4h1M237.7 692.8h1M256.8 693.3h1M254.6 697.3h1M252.9 693.8h1M235.7 678.3h1M239.7 704.8h1M260.1 668.3h1M242.2 690.0h1M251.6 688.5h1M261.5 683.0h1M242.9 685.9h1M257.2 679.1h1M251.1 680.2h1M232.5 669.1h1M242.1 680.0h1M254.2 679.1h1M235.1 700.8h1M240.7 713.7h1M240.3 690.8h1M236.8 709.1h1M248.4 683.5h1M244.3 664.3h1M259.0 681.2h1M258.0 672.0h1M261.1 672.7h1M245.7 710.6h1M239.8 690.5h1M243.6 689.7h1M246.9 685.1h1M250.1 680.4h1M259.8 688.6h1M232.8 687.4h1M241.7 700.2h1M224.1 710.3h1M223.9 690.6h1M235.9 688.1h1M253.9 694.2h1M244.1 685.8h1M234.6 706.1h1M240.0 721.2h1M228.2 688.1h1M252.8 705.0h1M241.9 694.3h1M238.5 693.3h1M222.2 706.0h1M239.5 695.3h1M243.8 677.2h1M228.3 684.3h1M244.8 696.2h1M257.5 693.0h1M267.8 688.4h1M264.9 687.5h1M248.8 666.2h1M255.9 681.1h1M241.0 674.4h1M259.0 681.0h1M240.6 680.9h1M244.3 693.2h1M251.9 685.8h1M247.6 687.3h1M240.7 703.0h1M243.8 681.7h1M264.1 668.0h1M240.3 691.3h1M243.4 687.6h1M255.8 694.2h1M230.7 716.0h1M232.4 681.9h1M252.7 672.6h1M232.1 703.4h1M250.8 689.4h1M260.6 692.3h1M240.2 684.7h1M249.8 680.7h1M248.1 696.4h1M248.1 670.2h1M263.3 678.4h1M249.1 667.1h1M244.8 673.1h1M262.6 674.0h1M230.1 693.4h1M235.1 693.2h1M235.0 672.8h1M243.2 685.2h1M236.5 699.6h1M254.5 682.2h1M244.3 692.2h1M255.3 685.0h1M233.0 700.7h1M271.2 682.7h1M248.8 679.6h1M228.5 701.4h1M251.6 689.8h1M246.9 701.5h1M244.1 666.7h1M243.7 690.3h1M253.8 690.1h1M252.9 689.3h1M248.5 672.8h1M241.8 700.9h1M263.2 648.8h1M243.7 683.4h1M254.6 660.8h1M239.1 692.7h1M236.4 672.0h1M265.6 675.2h1M245.9 694.3h1M266.0 669.7h1M243.6 684.6h1M255.6 693.4h1M262.5 674.4h1M232.0 686.7h1M224.4 701.5h1M222.7 703.1h1M233.7 698.0h1M261.4 678.6h1M243.7 688.8h1M238.3 694.9h1M242.4 690.8h1M236.3 697.9h1M248.8 676.1h1M244.4 672.1h1M229.7 682.3h1M249.6 681.1h1M244.7 691.0h1M242.1 687.0h1M239.0 715.4h1M236.2 698.9h1M242.5 709.6h1M232.6 692.5h1M249.4 680.1h1M268.5 679.6h1M249.6 666.4h1M249.7 671.7h1M251.2 689.0h1M243.8 681.9h1M236.2 684.6h1M262.1 670.5h1M241.8 693.9h1M230.2 689.9h1M257.6 684.6h1M251.2 693.0h1M244.8 660.8h1M253.4 690.2h1M219.1 697.5h1M260.6 667.1h1M255.4 699.3h1M243.8 685.1h1M234.0 700.2h1M247.7 692.8h1M244.4 688.5h1M238.5 703.0h1M243.5 702.6h1M254.9 674.6h1M232.8 705.3h1M249.4 681.5h1M256.5 659.2h1M251.4 680.7h1M253.1 677.3h1M239.9 697.9h1M249.2 669.3h1M250.9 693.0h1M227.1 685.3h1M232.6 682.4h1M237.5 712.9h1M234.1 682.0h1M242.3 704.1h1M240.6 700.6h1M256.4 677.6h1M249.4 697.0h1M247.6 704.9h1M249.3 703.7h1M234.1 695.5h1M218.8 683.8h1M239.0 685.9h1M242.6 694.7h1M229.2 675.6h1M253.3 687.2h1M255.4 692.3h1M248.5 680.1h1M250.5 674.4h1M230.7 690.7h1M269.4 665.1h1M259.7 678.7h1M263.9 673.1h1M232.1 686.4h1M242.9 695.1h1M237.1 693.7h1M270.8 675.8h1M252.3 714.2h1M236.7 691.5h1M241.3 692.5h1M236.3 688.4h1M253.0 684.0h1M223.9 710.7h1M249.1 707.6h1M235.8 696.1h1M235.0 701.4h1M238.8 705.3h1M246.2 662.2h1M232.6 701.2h1M253.2 695.3h1M250.5 679.8h1M246.4 687.6h1M245.1 699.1h1M234.8 689.0h1M259.4 679.3h1M251.0 678.7h1M245.6 702.2h1M262.5 679.9h1M238.0 708.1h1M224.2 695.3h1M252.9 710.9h1M256.5 680.7h1M244.3 687.4h1M234.6 687.9h1M248.4 666.7h1M236.1 657.9h1M255.2 684.1h1M226.8 679.2h1M237.2 710.1h1M250.2 672.4h1M239.4 671.5h1M234.5 672.9h1M264.7 686.3h1M259.1 686.1h1M236.7 702.8h1M250.2 677.0h1M226.9 695.8h1M231.6 690.6h1M222.5 677.2h1M255.5 688.9h1M246.5 683.8h1M247.0 675.6h1M253.4 701.8h1M238.2 673.0h1M245.1 667.8h1M266.7 676.1h1M249.5 687.5h1M239.3 681.7h1M233.1 716.0h1M245.7 699.6h1M261.4 676.4h1M239.3 685.7h1M249.0 674.3h1M255.4 679.7h1M236.5 699.6h1M260.6 669.9h1M242.8 686.6h1M250.7 693.9h1M243.6 677.5h1M238.3 700.8h1M265.3 680.0h1M235.8 720.9h1M257.6 673.1h1M230.9 683.5h1M277.6 686.5h1M233.9 683.8h1M240.8 674.5h1M251.4 671.8h1M242.3 695.5h1M242.1 700.2h1M239.1 703.8h1M237.6 684.2h1M228.7 699.0h1M252.5 684.0h1M260.8 687.4h1M248.8 666.5h1M242.9 692.6h1M231.7 710.7h1M248.5 703.2h1M231.2 714.8h1M260.1 681.9h1M241.1 708.1h1M234.0 690.1h1M257.4 680.6h1M235.9 678.4h1M239.4 704.8h1M275.3 661.7h1M231.4 701.1h1M243.0 683.5h1M243.3 703.8h1M253.5 674.6h1M250.6 670.5h1M257.4 657.9h1M240.1 700.3h1M264.0 684.5h1M223.0 695.6h1M255.2 690.1h1M249.2 678.8h1M223.5 692.0h1M246.6 678.9h1M235.4 696.5h1M241.2 691.3h1M256.8 673.5h1M256.0 669.1h1M254.7 687.6h1M250.5 693.3h1M247.3 666.0h1M263.7 681.2h1M247.2 687.0h1M249.3 682.7h1M230.0 680.7h1M264.7 685.3h1M233.0 712.0h1M248.1 673.0h1M236.3 683.8h1M257.7 690.3h1M242.1 686.0h1M237.0 692.5h1M233.4 703.3h1M243.9 699.1h1M262.4 682.8h1M254.7 647.0h1M234.6 695.3h1M235.2 704.7h1M241.3 687.1h1M221.4 706.6h1M239.3 705.4h1M250.7 684.1h1M254.7 679.7h1M235.8 691.2h1M242.4 701.4h1M237.3 678.5h1M260.1 690.8h1M240.9 690.8h1M226.9 715.5h1M239.0 664.9h1M243.5 694.1h1M252.3 686.8h1M247.7 684.2h1M244.1 685.1h1M272.8 675.2h1M246.6 662.4h1M244.6 694.3h1M252.9 665.4h1M244.2 706.5h1M242.9 686.2h1M251.7 683.2h1M239.1 682.7h1M225.8 698.7h1M251.4 691.6h1M236.6 696.4h1M233.3 673.7h1M252.1 669.1h1M229.5 691.0h1M241.3 707.4h1M256.5 706.6h1M247.1 667.2h1M230.7 697.4h1M229.7 699.8h1M256.7 688.9h1M226.1 709.6h1M264.3 690.5h1M271.5 665.4h1M243.6 698.2h1M256.3 699.8h1M243.3 680.1h1M242.8 680.0h1M246.1 683.0h1M253.7 675.1h1M255.3 673.4h1M258.7 695.4h1M244.8 685.0h1M248.9 690.9h1M233.6 701.2h1M224.3 683.4h1M231.7 696.1h1M235.7 663.9h1M257.2 674.9h1M241.4 693.1h1M249.0 692.5h1M230.7 698.0h1M255.9 691.2h1M261.5 662.5h1M258.6 664.0h1M232.5 695.8h1M271.2 689.3h1M243.6 689.2h1M257.3 667.1h1M241.2 682.3h1M258.5 687.8h1M248.6 700.3h1M242.3 678.0h1M255.3 660.9h1M248.2 685.8h1M227.2 698.2h1M235.4 708.2h1M253.7 694.1h1M256.1 682.2h1M257.5 688.9h1M251.5 697.2h1M267.3 657.0h1M240.0 672.5h1M231.2 702.3h1M234.3 690.1h1M238.9 702.0h1M263.1 680.3h1M237.5 684.3h1M243.0 669.2h1M231.6 696.2h1M247.9 688.2h1M249.0 677.0h1M243.9 676.1h1M247.8 662.4h1M251.0 687.5h1M240.6 691.4h1M256.6 682.8h1M266.7 691.6h1M246.5 684.5h1M232.1 680.9h1M247.5 687.8h1M249.2 705.4h1M249.9 690.0h1M242.7 675.7h1M240.2 688.7h1M253.2 691.8h1M234.0 691.5h1M253.7 666.6h1M242.5 671.6h1M237.6 704.7h1M249.4 711.2h1M233.8 703.7h1M243.5 669.4h1M247.4 689.1h1M242.3 703.2h1M241.8 697.8h1M245.3 681.2h1M249.5 698.0h1M261.2 694.0h1M226.5 680.6h1M242.4 702.9h1M224.3 699.0h1M232.1 703.0h1M256.8 678.8h1M260.4 689.2h1M243.6 705.4h1M268.9 675.3h1M248.2 690.1h1M254.4 678.4h1M242.9 702.7h1M244.0 703.8h1M248.4 706.3h1M261.8 666.1h1M253.1 681.0h1M238.8 700.9h1M257.2 688.2h1M257.6 701.0h1M249.4 693.0h1M250.9 702.8h1M235.9 691.3h1M232.2 687.2h1M249.4 681.5h1M237.2 688.7h1M257.9 706.2h1M246.9 678.2h1M247.7 679.2h1M249.2 693.9h1M266.9 668.6h1M244.1 678.4h1M257.4 670.7h1M259.9 702.1h1M226.7 709.4h1M270.8 676.9h1M244.9 711.8h1M243.2 687.6h1M235.5 700.1h1M260.2 671.5h1M254.7 689.3h1M262.9 678.3h1M237.2 694.3h1M250.7 682.0h1M235.3 700.1h1M228.1 682.2h1M244.3 672.2h1M251.2 665.9h1M243.5 693.6h1M260.5 670.6h1M248.7 700.4h1M236.7 696.3h1M258.1 694.9h1M244.9 692.2h1M237.7 697.8h1M250.3 679.2h1M272.1 682.8h1M236.4 692.4h1M251.0 672.7h1M235.6 701.2h1M244.8 687.3h1M257.1 679.1h1M229.2 682.2h1M243.9 686.2h1M241.4 679.2h1M226.2 693.9h1M250.3 688.7h1M252.5 719.4h1M232.7 686.5h1M247.4 658.2h1M253.3 682.9h1M280.7 670.0h1M244.4 688.3h1M243.1 680.9h1M257.7 685.9h1M249.2 682.8h1M224.6 692.0h1M220.7 692.0h1M249.5 682.7h1M246.4 706.0h1M251.7 696.6h1M242.0 685.4h1M230.1 712.5h1M258.1 680.8h1M250.6 688.2h1M260.6 686.6h1M244.5 675.6h1M218.4 672.6h1M242.8 703.1h1M237.6 688.5h1M252.4 703.5h1M219.5 698.2h1M240.0 700.0h1M241.1 669.0h1M219.3 680.1h1M240.9 677.1h1M230.2 718.5h1M228.7 691.8h1M258.8 681.3h1M222.9 698.4h1M245.1 703.8h1M236.3 673.6h1M241.0 676.4h1M247.6 694.3h1M244.6 687.4h1M231.7 677.5h1M248.7 702.7h1M254.3 712.2h1M234.3 667.4h1M244.8 691.0h1M235.9 669.5h1M260.4 657.8h1M251.0 694.9h1M260.0 680.0h1M255.7 679.7h1M253.5 699.5h1M245.0 667.0h1M250.1 649.5h1M260.8 672.8h1M239.2 702.3h1M255.1 688.8h1M238.9 699.2h1M246.9 682.5h1M236.4 697.4h1M236.9 707.1h1M225.3 685.0h1M247.4 666.2h1M266.1 661.0h1M238.4 685.8h1M247.2 703.2h1M240.5 683.7h1M259.7 680.5h1M254.0 684.0h1M239.5 682.9h1M234.2 683.3h1M248.2 633.2h1M251.7 633.3h1M249.5 632.2h1M238.1 634.3h1M257.3 632.9h1M252.1 632.2h1M242.2 633.6h1M252.1 633.8h1M253.5 633.3h1M246.4 633.3h1M242.3 632.8h1M238.0 631.9h1M251.6 632.6h1M234.5 631.9h1M251.6 633.1h1M246.8 633.8h1M253.7 632.9h1M248.6 635.4h1M250.6 632.6h1M242.6 632.7h1M253.7 630.9h1M250.8 632.7h1M250.8 633.4h1M238.4 632.7h1M236.1 633.0h1M243.0 634.2h1M237.0 633.5h1M241.8 632.6h1M237.7 635.2h1M246.0 633.3h1M260.1 631.3h1M246.7 632.2h1M245.7 632.7h1M250.1 634.0h1M247.6 634.5h1M245.4 631.8h1M237.7 634.1h1M245.3 633.7h1M251.3 632.2h1M254.5 634.0h1M256.5 634.0h1M240.8 633.8h1M248.0 631.6h1M252.1 632.9h1M249.5 635.0h1M254.6 632.7h1M251.4 634.3h1M248.1 634.4h1M250.5 632.7h1M255.1 632.9h1M244.6 632.8h1M237.2 634.4h1M240.5 631.2h1M249.1 630.8h1M245.7 634.0h1M249.2 633.6h1M245.6 632.1h1M248.9 634.1h1M246.9 634.3h1M233.7 632.2h1M232.5 632.7h1M248.2 631.8h1M244.2 633.1h1M242.7 632.9h1M252.6 633.2h1M253.1 633.7h1M244.4 633.3h1M252.4 632.6h1M243.6 634.6h1M251.9 633.9h1M244.3 633.0h1M249.5 633.7h1M252.2 632.0h1M252.3 632.1h1M241.9 632.7h1M244.3 634.4h1M254.0 635.5h1M243.4 633.4h1M254.6 631.3h1M251.8 635.3h1M252.8 632.4h1M246.8 633.4h1M243.5 632.1h1M253.7 632.2h1M253.2 632.0h1M242.8 630.7h1M233.2 635.3h1M243.7 632.8h1M252.0 631.6h1M247.3 634.5h1M251.8 634.8h1M246.5 631.5h1M247.4 633.8h1M241.5 632.9h1M247.1 635.6h1M243.6 632.3h1M246.2 632.5h1M247.5 632.6h1M240.3 632.4h1M236.5 635.1h1M255.0 633.1h1M248.5 634.0h1M249.1 632.2h1M242.4 634.1h1M245.8 633.7h1M245.0 634.2h1M246.4 633.5h1M250.5 631.0h1M252.4 634.7h1M244.6 631.4h1M249.5 632.2h1M241.7 634.9h1M246.6 632.0h1M240.0 633.6h1M249.2 633.6h1M240.9 632.4h1M247.2 632.8h1M247.7 632.8h1M247.0 633.4h1M250.9 634.6h1M249.0 624.2h1M260.2 627.1h1M251.2 642.1h1M254.0 642.8h1M249.4 647.7h1M253.3 626.4h1M254.8 633.7h1M257.5 631.6h1M255.8 628.3h1M247.2 634.9h1M258.0 631.0h1M251.8 641.7h1M235.6 644.1h1M248.6 636.7h1M264.1 635.2h1M254.8 642.5h1M260.5 642.3h1M244.7 637.6h1M238.4 628.7h1M247.0 633.8h1M245.0 631.2h1M262.2 628.2h1M253.3 628.5h1M251.7 630.8h1M236.4 624.3h1M258.2 642.4h1M247.1 634.5h1M251.9 626.9h1M254.1 652.1h1M245.9 626.3h1M244.9 635.5h1M246.9 645.2h1M254.1 632.3h1M251.1 633.0h1M243.3 644.0h1M248.0 632.3h1M260.1 633.9h1M256.9 620.8h1M254.5 629.2h1M246.3 640.5h1M262.6 622.7h1M259.4 633.8h1M245.6 641.3h1M248.3 632.3h1M247.6 634.2h1M245.4 641.5h1M261.9 630.4h1M244.3 634.7h1M243.4 636.0h1M250.4 635.4h1M243.7 637.2h1M239.6 633.3h1M248.1 635.7h1M255.6 634.4h1M241.7 637.8h1M248.2 639.8h1M261.8 644.0h1M249.1 630.0h1M251.0 634.4h1M243.6 626.9h1M258.0 630.0h1M257.1 641.4h1M242.2 637.7h1M248.6 627.3h1M244.5 636.2h1M256.5 631.4h1M247.6 641.3h1M246.1 631.7h1M237.7 637.9h1M243.9 630.0h1M245.7 631.3h1M271.3 632.3h1M255.0 628.3h1M255.7 637.4h1M246.3 648.0h1M242.0 629.3h1M227.5 622.4h1M243.8 635.1h1M255.1 635.0h1M243.3 630.0h1M261.5 632.9h1M262.4 634.9h1M246.4 633.3h1M253.0 639.9h1M246.4 638.3h1M239.4 626.3h1M237.1 632.8h1M244.1 639.4h1M246.5 633.0h1M246.9 627.2h1M239.8 646.2h1M253.5 627.4h1M239.9 637.4h1M232.6 622.5h1M245.6 632.2h1M255.1 629.4h1M239.5 637.9h1M241.8 636.2h1M234.8 633.3h1M262.9 627.4h1M248.7 634.8h1M250.2 634.6h1M254.7 631.6h1M242.1 636.5h1M250.9 625.3h1M254.8 633.3h1M256.5 635.4h1M239.7 633.3h1M254.4 641.2h1M247.8 639.0h1M259.2 637.1h1M260.1 639.1h1M242.0 628.5h1M243.0 645.0h1M258.1 630.4h1M249.0 647.0h1M243.0 635.5h1M246.5 640.2h1M235.0 637.3h1M250.6 641.9h1M252.4 637.6h1M242.0 637.0h1M245.4 645.6h1M251.7 635.7h1M250.4 635.9h1M246.3 639.1h1M249.1 630.5h1M256.0 639.7h1M257.8 633.2h1M256.3 644.0h1M254.2 637.8h1M248.9 626.8h1M241.6 635.2h1M257.2 638.5h1M245.2 636.7h1M248.4 631.5h1M249.0 640.3h1M240.7 633.2h1M249.0 629.9h1M242.3 638.0h1M265.4 636.0h1M245.4 644.4h1M250.4 625.0h1M245.1 624.7h1M246.9 643.7h1M264.6 653.9h1M256.7 633.7h1M244.4 633.4h1M241.2 630.4h1M251.9 636.3h1M250.7 634.7h1M238.1 638.7h1M249.4 640.1h1M250.5 630.0h1M256.4 640.0h1M247.4 639.6h1M252.7 632.9h1M251.0 631.4h1M259.4 633.1h1M256.5 645.6h1M249.8 639.4h1M260.3 625.1h1M265.4 639.0h1M240.2 636.5h1M265.5 636.2h1M259.7 641.6h1M244.5 637.7h1M262.4 631.3h1M250.1 632.6h1M245.4 634.5h1M233.4 632.1h1M236.5 630.3h1M245.0 641.4h1M241.1 640.5h1M246.3 631.3h1M236.7 636.5h1M248.7 640.1h1M244.7 624.1h1M253.5 643.1h1M249.5 636.4h1M253.0 637.1h1M268.7 635.1h1M253.2 640.7h1M253.3 626.2h1M252.3 633.8h1M241.9 640.9h1M244.4 637.9h1M244.1 639.0h1M259.4 630.9h1M243.4 640.9h1M242.6 641.6h1M252.2 630.6h1M245.2 643.1h1M255.7 636.5h1M251.0 641.8h1M244.8 637.6h1M252.8 643.1h1M246.6 634.7h1M251.3 634.5h1M247.5 638.8h1M245.7 634.2h1M251.3 636.4h1M246.6 635.3h1M240.3 631.6h1M244.0 629.7h1M260.7 647.4h1M247.6 635.2h1M248.3 633.7h1M245.1 640.8h1M253.3 628.6h1M250.9 631.1h1M254.0 631.5h1M251.6 631.6h1M247.9 637.8h1M254.5 628.1h1M245.2 631.2h1M236.7 637.1h1M247.7 634.1h1M243.2 645.6h1M242.7 621.2h1M246.7 637.3h1M241.3 635.0h1M232.1 634.3h1M249.8 630.5h1M241.1 629.8h1M245.3 641.5h1M250.0 632.3h1M245.6 640.0h1M244.3 630.7h1M255.0 635.7h1M259.1 634.3h1M247.0 638.0h1M250.7 635.9h1M242.2 632.0h1M243.6 632.9h1M258.9 630.7h1M252.7 638.1h1M237.7 641.3h1M251.0 637.7h1M250.7 641.2h1M252.2 632.1h1M244.6 630.9h1M243.4 630.9h1M251.0 641.0h1M247.8 641.3h1M257.7 639.4h1M237.0 621.4h1M257.3 638.4h1M238.8 631.6h1M251.0 635.5h1M239.6 635.3h1M238.3 634.3h1M253.9 637.1h1M244.9 639.1h1M263.7 634.1h1M250.2 627.7h1M255.1 626.7h1M247.6 640.7h1M253.7 617.6h1M243.2 622.2h1M247.0 627.5h1M266.0 642.2h1M241.8 633.9h1M249.7 641.0h1M259.7 639.3h1M239.7 618.1h1M237.7 629.2h1M255.0 628.2h1M258.9 640.0h1M249.8 640.2h1M243.9 641.4h1M250.0 632.3h1M243.3 624.0h1M246.8 638.5h1M246.2 633.1h1M262.1 651.5h1M239.1 642.5h1M249.0 635.5h1M243.1 634.1h1M251.5 637.9h1M244.9 632.6h1M254.1 643.9h1M246.0 638.4h1M254.8 637.6h1M242.4 635.7h1M249.9 629.4h1M249.7 635.5h1M244.0 644.7h1M251.6 630.8h1M258.2 634.0h1M241.7 628.9h1M257.3 629.0h1M251.8 638.2h1M245.0 639.7h1M257.1 635.2h1M249.3 639.3h1M249.8 642.9h1M255.0 636.1h1M251.0 633.4h1M254.3 631.5h1M249.0 628.6h1M267.2 637.2h1M249.7 638.2h1M236.8 643.7h1M237.0 639.1h1M246.4 639.7h1M254.1 637.0h1M256.9 633.8h1M251.1 633.8h1M244.2 629.5h1M252.1 645.1h1M243.0 632.8h1M244.1 637.8h1M234.3 636.5h1M243.8 630.0h1M251.1 636.7h1M251.5 642.4h1M238.7 641.8h1M253.3 649.2h1M259.7 638.4h1M234.7 637.0h1M260.8 640.2h1M248.7 628.7h1M249.7 627.4h1M243.4 633.3h1M252.4 632.0h1M248.8 635.4h1M251.3 639.0h1M252.9 634.0h1M250.5 632.1h1M240.2 632.3h1M249.2 624.2h1M255.1 637.6h1M237.5 629.8h1M242.6 622.8h1M236.2 637.9h1M234.2 647.9h1M259.9 644.3h1M253.1 642.1h1M259.3 630.1h1M261.2 631.1h1M246.6 620.8h1M246.8 625.9h1M266.4 637.6h1M256.0 632.8h1M256.4 638.6h1M246.4 638.6h1M246.1 628.3h1M234.0 626.3h1M253.8 646.6h1M245.7 632.1h1M259.2 634.7h1M251.9 635.6h1M230.8 627.9h1M251.7 636.1h1M247.2 628.0h1M250.3 633.9h1M241.7 634.2h1M251.2 647.7h1M257.7 630.4h1M255.3 626.7h1M231.3 631.1h1M263.9 639.7h1M243.9 637.8h1M233.4 634.4h1M241.8 628.4h1M246.3 631.0h1M251.7 628.3h1M252.2 638.1h1M255.5 639.2h1M254.6 641.5h1M258.9 641.6h1M258.3 628.0h1M247.3 643.8h1M244.7 639.7h1M257.4 643.2h1M244.6 636.9h1M248.3 639.2h1M234.6 635.1h1M258.3 635.4h1M257.1 643.6h1M250.4 633.1h1M245.0 628.7h1M246.0 634.4h1M256.7 631.6h1M244.0 635.2h1M247.6 642.8h1M249.5 643.6h1M250.0 620.6h1M247.9 629.2h1M249.4 630.2h1M256.3 633.9h1M246.6 647.4h1M246.8 632.9h1M246.7 639.7h1M251.2 635.7h1M258.3 632.1h1M255.0 640.3h1M251.7 632.7h1M248.2 641.9h1M228.5 644.2h1M242.2 640.9h1M253.4 638.0h1M253.4 632.8h1M261.8 635.9h1M255.7 634.4h1M246.8 641.7h1M241.9 635.3h1M243.0 626.4h1M256.9 635.7h1M235.2 635.1h1M267.3 641.6h1M247.7 637.6h1M247.2 636.9h1M248.4 636.6h1M245.8 640.4h1M240.3 625.7h1M236.5 631.7h1M250.2 638.8h1M255.4 626.8h1M237.3 639.1h1M263.0 639.1h1M248.3 641.4h1M262.0 641.2h1M250.9 633.8h1M245.1 633.0h1M240.1 637.6h1M257.3 633.9h1M255.3 639.4h1M248.4 635.2h1M260.8 631.2h1M244.1 633.2h1M243.6 638.8h1M254.0 634.0h1M254.3 625.3h1M250.2 649.1h1M256.8 629.7h1M256.1 631.8h1M254.0 639.5h1M238.5 646.1h1M238.8 633.0h1M254.7 639.1h1M251.1 633.7h1M255.5 637.7h1M246.9 642.0h1M261.4 632.2h1M246.3 629.6h1M240.2 636.6h1M256.8 627.4h1M247.6 637.5h1M244.9 640.6h1M254.0 635.3h1M258.4 637.6h1M257.9 639.1h1M247.5 644.3h1M244.3 637.8h1M247.0 630.9h1M239.6 642.3h1M259.8 641.9h1M234.4 639.4h1M250.3 639.1h1M251.5 639.1h1M253.0 641.9h1M250.7 632.6h1M232.7 637.4h1M233.3 632.3h1M249.3 634.9h1M243.7 645.7h1M238.6 642.6h1M247.2 634.9h1M250.0 638.3h1M236.1 638.5h1M248.2 635.5h1M249.6 634.9h1M257.8 630.6h1M243.6 638.5h1M247.9 640.9h1M227.6 634.2h1M250.0 645.8h1M257.2 630.3h1M257.6 630.8h1M251.8 633.5h1M238.8 640.3h1M253.8 633.8h1M243.0 631.2h1M248.3 641.9h1M246.0 635.3h1M246.3 628.6h1M246.5 632.0h1M258.5 636.6h1M259.2 635.2h1M250.7 643.6h1M252.9 636.1h1M253.1 637.6h1M258.1 632.2h1M245.9 630.5h1M258.6 639.3h1M247.1 638.8h1M264.0 640.1h1M248.8 630.2h1M253.8 650.4h1M258.4 633.9h1M237.6 641.2h1M243.0 633.3h1M265.9 633.3h1M247.6 650.6h1M262.4 622.2h1M255.4 634.2h1M250.8 632.1h1M251.7 639.3h1M247.1 640.2h1M255.2 629.0h1M263.1 636.5h1M256.0 643.7h1M249.3 649.3h1M242.6 629.6h1M246.8 646.1h1M261.7 640.3h1M242.1 633.4h1M247.9 636.2h1M240.7 635.8h1M245.8 638.2h1M242.1 632.5h1M250.4 639.4h1M250.0 636.6h1M248.2 632.1h1M246.1 630.7h1M253.4 637.8h1M248.1 630.7h1M246.3 634.6h1M257.1 633.6h1M251.0 631.8h1M254.3 634.0h1M242.9 624.7h1M246.8 633.5h1M258.2 628.4h1M244.8 628.6h1M255.2 637.1h1M246.5 639.0h1M250.5 632.8h1M248.9 638.9h1M256.4 645.4h1M251.5 635.9h1M250.1 630.9h1M248.1 638.7h1M246.4 633.8h1M239.6 638.9h1M257.3 635.5h1M250.6 636.6h1M249.7 634.3h1M256.7 648.1h1M257.0 637.2h1M246.6 628.6h1M257.0 634.4h1M253.6 632.6h1M230.7 647.2h1M240.2 638.9h1M258.1 626.3h1M250.7 634.9h1M237.7 645.3h1M245.6 638.5h1M249.5 646.1h1M242.5 633.3h1M251.4 639.5h1M249.3 641.9h1M258.0 637.8h1M239.0 630.2h1M237.1 632.8h1M256.1 644.6h1M250.8 640.4h1M246.4 633.9h1M254.8 626.3h1M247.9 630.7h1M251.2 638.8h1M250.8 643.2h1M250.0 642.6h1M251.1 624.2h1M249.1 630.6h1M246.6 622.2h1M247.5 633.6h1M240.9 634.2h1M255.4 635.9h1M254.4 630.6h1M262.2 630.4h1M240.1 636.6h1M253.7 642.8h1M254.9 640.9h1M237.8 636.6h1M244.8 623.5h1M260.5 628.9h1M254.2 640.2h1M247.0 630.0h1M259.2 635.5h1M250.5 636.3h1M251.9 639.0h1M250.6 641.0h1M249.0 628.0h1M243.3 638.6h1M242.6 636.8h1M255.0 631.9h1M249.1 628.5h1M240.0 638.3h1M250.9 629.4h1M246.1 631.7h1M246.8 632.0h1M245.5 648.0h1M245.5 628.1h1M246.2 642.3h1M247.7 639.2h1M246.8 633.2h1M260.1 637.0h1M245.0 639.4h1M238.8 627.2h1M247.1 633.1h1M249.9 628.6h1M252.5 634.4h1M247.4 637.3h1M246.6 641.3h1M242.7 637.2h1M248.1 622.8h1M241.9 632.7h1M252.5 628.3h1M244.9 632.7h1M238.5 632.5h1M256.3 640.7h1M241.5 631.2h1M243.8 623.5h1M265.9 631.3h1M251.4 632.7h1M246.9 626.9h1M241.2 634.5h1M244.0 639.2h1M245.1 637.6h1M252.9 628.7h1M258.1 634.3h1M267.4 632.3h1M256.7 639.4h1M237.8 626.7h1M238.1 640.0h1M249.2 640.7h1M240.9 639.7h1M248.9 638.8h1M253.7 636.1h1M259.3 627.6h1M246.3 641.1h1M241.3 639.5h1M249.4 637.1h1M231.2 630.6h1M254.2 628.8h1M254.9 639.4h1M227.1 636.1h1M240.6 629.5h1M237.0 637.1h1M258.4 649.5h1M259.9 632.8h1M236.9 641.4h1M254.8 635.8h1M238.7 628.7h1M247.2 643.9h1M260.5 630.2h1M235.8 634.8h1M255.1 631.2h1M249.9 640.5h1M236.4 645.6h1M259.7 635.9h1M251.2 638.6h1M243.7 639.6h1M249.7 631.2h1M248.3 633.9h1M245.5 639.4h1M254.9 640.8h1M245.7 639.2h1M247.0 644.9h1M241.0 641.2h1M245.0 625.9h1M254.6 628.1h1M242.5 635.1h1M252.2 634.8h1M252.0 637.0h1M236.7 642.4h1M259.7 632.2h1M254.3 633.9h1M242.8 633.9h1M234.5 631.9h1M254.0 641.1h1M252.6 636.8h1M244.2 640.9h1M263.2 637.5h1M262.1 636.2h1M247.3 640.5h1M250.0 634.2h1M245.0 636.2h1M248.8 626.6h1M252.7 645.0h1M251.7 638.1h1M253.0 640.5h1M254.8 633.7h1M240.6 638.1h1M252.3 632.5h1M247.1 638.1h1M256.5 644.3h1M241.6 648.4h1M242.4 645.1h1M241.5 656.8h1M249.8 649.8h1M256.6 671.0h1M250.7 654.7h1M241.5 652.6h1M243.5 638.0h1M249.5 644.5h1M255.8 646.7h1M245.6 642.6h1M246.2 648.0h1M250.9 643.2h1M242.9 641.1h1M243.1 645.7h1M246.3 643.9h1M252.5 643.5h1M248.6 647.6h1M249.4 649.2h1M244.7 648.4h1M244.1 647.6h1M253.9 654.5h1M255.1 642.7h1M254.2 651.6h1M251.0 646.7h1M257.5 642.4h1M248.6 639.2h1M245.5 651.3h1M248.6 650.5h1M254.9 641.3h1M236.9 655.7h1M238.3 646.4h1M260.9 653.7h1M246.4 655.1h1M242.2 653.7h1M244.8 643.8h1M241.4 644.4h1M248.7 661.2h1M252.8 655.1h1M246.4 660.5h1M246.6 658.7h1M240.0 652.8h1M241.0 646.4h1M246.1 635.9h1M249.5 649.1h1M237.1 647.8h1M246.5 637.6h1M243.3 655.7h1M244.7 647.3h1M246.5 647.1h1M240.8 647.6h1M235.7 649.7h1M245.4 639.3h1M238.3 650.0h1M244.5 644.2h1M243.9 650.1h1M253.2 645.6h1M235.9 642.4h1M241.6 651.6h1M253.7 651.0h1M242.2 655.1h1M244.6 640.4h1M246.0 662.7h1M247.0 643.8h1M251.5 643.1h1M253.9 653.5h1M239.5 645.7h1M245.0 643.0h1M249.3 646.9h1M257.1 650.4h1M252.7 655.3h1M249.8 654.3h1M243.1 655.5h1M252.9 656.0h1M243.9 644.7h1M253.9 648.1h1M262.1 652.1h1M240.5 653.0h1M248.6 635.5h1M243.7 633.4h1M262.6 640.5h1M242.3 646.2h1M242.5 657.0h1M245.7 638.8h1M251.6 650.9h1M238.9 655.0h1M239.4 642.3h1M255.8 645.1h1M247.5 642.8h1M245.4 634.5h1M245.4 643.1h1M252.6 645.5h1M242.3 645.2h1M236.0 651.3h1M236.8 640.0h1M248.7 646.3h1M259.0 638.9h1M249.2 660.9h1M243.4 639.5h1M253.1 661.4h1M242.7 654.3h1M251.1 649.3h1M252.0 646.7h1M251.0 646.7h1M246.2 641.0h1M246.9 647.8h1M241.9 643.5h1M244.9 658.2h1M250.0 653.1h1M254.9 653.3h1M257.0 658.3h1M251.5 647.8h1M248.0 648.0h1M242.9 637.9h1M249.7 639.2h1M251.3 660.6h1M247.8 642.1h1M243.5 652.7h1M246.7 645.5h1M248.8 640.5h1M241.2 651.2h1M243.0 652.8h1M244.4 649.0h1M246.3 657.3h1M245.6 649.1h1M240.6 649.5h1M246.3 650.6h1M235.4 652.8h1M247.7 650.6h1M249.5 655.5h1M241.6 644.9h1M248.7 638.3h1M260.1 634.7h1M250.4 645.2h1M251.0 658.9h1M258.2 643.7h1M247.6 643.3h1M239.2 649.4h1M243.6 640.0h1M245.3 644.4h1M240.6 649.9h1M250.3 651.1h1M243.2 642.3h1M233.9 653.3h1M252.9 642.5h1M239.3 640.3h1M255.4 647.2h1M244.7 649.0h1M247.3 646.3h1M246.2 652.9h1M252.7 641.0h1M246.5 648.0h1M248.3 664.8h1M251.2 653.6h1M246.6 652.3h1M254.3 656.9h1M242.5 649.7h1M249.3 641.2h1M245.2 645.4h1M252.4 648.8h1M258.8 652.2h1M244.7 650.4h1M247.8 643.1h1M249.4 639.1h1M248.4 645.3h1M247.8 643.8h1M257.3 644.0h1M251.8 649.0h1M254.0 643.9h1M239.9 653.2h1M253.3 653.0h1M224.9 660.1h1M255.7 648.8h1M242.0 652.0h1M237.3 646.4h1M250.8 657.9h1M244.9 647.1h1M239.3 647.6h1M243.2 648.6h1M242.9 651.6h1M246.6 643.9h1M250.6 652.1h1M245.7 647.3h1M252.0 651.9h1M246.3 661.8h1M244.4 639.8h1M243.5 650.0h1M237.1 661.3h1M252.6 642.1h1M249.4 640.0h1M247.0 647.0h1M256.2 636.0h1M244.3 635.8h1M244.4 646.4h1M247.2 655.5h1M241.9 644.8h1M255.7 648.8h1M241.6 648.7h1M240.8 642.6h1M244.1 638.3h1M257.6 645.9h1M248.5 646.8h1M246.6 643.1h1M249.7 645.6h1M242.3 654.7h1M256.0 651.5h1M250.2 646.3h1M247.9 653.3h1M247.4 657.5h1M255.5 650.1h1M248.5 642.9h1M244.7 644.1h1M245.2 642.5h1M249.4 650.7h1M246.3 659.5h1M248.7 648.1h1M248.3 644.5h1M251.6 642.4h1M247.0 661.8h1M248.9 641.4h1M240.7 656.2h1M236.4 659.6h1M254.9 645.4h1M248.7 645.4h1M241.8 651.4h1M243.3 652.6h1M249.1 644.4h1M247.7 648.8h1M246.3 647.0h1M254.3 643.6h1M248.1 655.4h1M249.5 645.8h1M240.6 646.7h1M235.9 645.6h1M247.1 657.3h1M250.9 655.5h1M249.9 650.1h1M238.0 644.7h1M245.9 647.9h1M240.0 638.3h1M248.3 646.7h1M247.3 647.0h1M245.8 640.9h1M252.2 651.2h1M247.0 660.0h1M243.1 654.0h1M246.9 648.7h1M252.2 648.5h1M247.1 640.6h1M248.9 651.2h1M244.7 640.7h1M252.8 649.5h1M253.9 648.1h1M262.1 640.5h1M251.4 649.4h1M248.6 647.1h1M250.4 654.2h1M247.8 641.7h1M252.8 655.1h1M240.5 650.1h1M256.0 652.6h1M244.3 650.4h1M249.2 641.3h1M245.6 646.4h1M245.3 657.3h1M236.9 641.8h1M243.1 656.8h1M246.7 646.8h1M245.9 658.9h1M258.4 650.1h1M241.6 646.7h1M237.1 654.7h1M246.1 655.9h1M243.8 643.6h1M234.8 650.2h1M253.3 634.4h1M241.1 648.0h1M253.3 660.9h1M256.7 650.4h1M238.9 643.1h1M250.2 648.6h1M242.6 648.0h1M248.1 663.3h1M245.4 652.3h1M248.9 653.5h1M243.2 658.3h1M255.0 651.9h1M241.0 641.5h1M246.1 647.7h1M242.1 647.7h1M238.2 647.3h1M239.5 650.4h1M233.0 643.6h1M244.7 639.0h1M244.6 647.2h1M254.7 653.0h1M244.8 653.9h1M246.8 653.8h1M244.7 650.3h1M245.3 654.8h1M257.3 659.1h1M255.3 647.5h1M256.4 646.6h1M247.1 642.7h1M252.6 637.9h1M246.7 653.1h1M240.7 651.7h1M240.9 646.4h1M249.2 657.7h1M259.2 642.0h1M237.5 643.7h1M248.5 647.8h1M239.6 642.8h1M248.4 648.8h1M258.9 640.8h1M243.9 671.3h1M240.1 655.7h1M244.2 649.3h1M254.2 644.8h1M245.7 648.7h1M247.4 659.7h1M255.5 644.3h1M254.5 638.6h1M243.2 643.8h1M243.5 649.5h1M248.7 642.6h1M249.4 644.2h1M250.2 650.4h1M240.7 642.5h1M252.8 647.9h1M248.8 646.2h1M256.1 651.4h1M243.1 649.9h1M240.8 645.8h1M245.1 641.7h1M242.2 655.4h1M242.0 647.0h1M240.0 656.6h1M241.6 653.3h1M250.8 651.9h1M244.3 634.1h1M242.0 646.9h1M238.8 640.8h1M249.0 648.4h1M253.2 651.4h1M254.6 650.2h1M246.3 649.6h1M252.2 654.7h1M250.9 645.3h1M241.1 655.0h1M253.2 641.8h1M247.4 642.0h1M247.7 662.3h1M245.1 645.7h1M246.8 645.5h1M249.4 638.1h1M251.5 643.5h1M247.4 664.7h1M254.3 649.7h1M246.3 651.7h1M252.5 670.4h1M258.6 658.1h1M242.5 658.0h1M246.2 649.6h1M245.1 646.2h1M250.5 649.8h1M251.5 645.1h1M242.1 645.8h1M245.7 650.9h1M257.8 649.4h1M245.7 664.9h1M257.8 654.4h1M252.9 636.9h1M245.1 648.3h1M247.3 635.7h1M248.9 660.4h1M255.3 650.3h1M250.3 648.5h1M234.8 652.0h1M252.7 639.0h1M260.7 653.6h1M250.2 658.0h1M241.7 647.9h1M238.6 654.8h1M250.0 663.5h1M251.6 645.8h1M235.5 646.3h1M245.3 648.1h1M244.2 646.3h1M248.1 644.6h1M242.4 647.0h1M238.4 633.5h1M246.9 642.0h1M238.6 647.5h1M247.3 656.8h1M243.9 648.3h1M246.1 644.3h1M239.4 635.7h1M236.5 641.3h1M241.9 645.0h1M236.3 650.2h1M249.2 640.2h1M243.0 645.5h1M250.7 656.2h1M250.6 653.0h1M254.5 652.9h1M248.4 652.0h1M252.8 649.5h1M253.1 644.8h1M240.7 648.2h1M250.4 661.9h1M246.1 641.6h1M236.8 642.4h1M245.2 645.7h1M249.1 648.6h1M243.6 664.9h1M243.8 646.6h1M239.8 644.2h1M248.7 637.0h1M245.3 643.4h1M247.5 652.3h1M246.5 654.6h1M244.0 650.7h1M241.7 637.6h1M241.1 646.5h1M250.0 660.5h1M249.5 652.5h1M242.1 659.6h1M243.4 647.6h1M258.3 654.5h1M259.8 644.5h1M249.5 640.3h1M249.3 644.2h1M254.8 651.9h1M237.2 645.9h1M242.6 649.0h1M253.1 640.5h1M245.8 652.8h1M241.9 645.6h1M243.2 655.3h1M251.5 640.9h1M253.4 659.1h1M245.2 650.6h1M250.6 653.1h1M259.9 649.1h1M245.4 649.9h1M246.6 636.4h1M252.2 650.4h1M242.3 642.7h1M238.0 649.5h1M248.9 649.5h1M252.8 646.7h1M240.5 648.8h1M256.3 657.5h1M247.2 660.9h1M241.7 644.7h1M245.0 662.0h1M230.1 650.4h1M247.5 642.4h1M249.6 635.3h1M248.5 642.0h1M242.9 650.2h1M246.5 645.0h1M247.3 643.6h1M254.7 650.7h1M249.0 657.7h1M258.0 638.5h1M248.0 640.4h1M250.9 644.6h1M243.2 646.6h1M253.9 642.0h1M249.3 646.6h1M245.3 649.2h1M257.5 645.6h1M248.4 651.0h1M238.3 646.6h1M250.4 650.8h1M247.8 641.8h1M245.1 652.2h1M243.0 654.6h1M249.5 659.0h1M237.9 648.3h1M238.0 641.0h1M258.6 653.2h1M249.3 641.4h1M247.4 651.6h1M254.9 635.1h1M246.7 640.7h1M259.9 659.0h1M247.4 646.3h1M255.7 659.4h1M244.8 654.7h1M249.0 649.9h1M238.7 662.2h1M246.7 641.3h1M239.4 658.5h1M248.8 654.7h1M247.9 639.2h1M246.0 643.2h1M240.9 649.4h1M243.0 650.6h1M248.0 645.1h1M242.0 646.7h1M253.3 655.5h1M254.2 642.8h1M242.1 649.9h1M247.0 652.8h1M249.7 638.9h1M248.5 658.4h1M246.6 648.0h1M247.5 638.0h1M251.3 651.2h1M252.1 644.8h1M243.1 641.4h1M246.4 648.2h1M250.5 642.0h1M242.9 640.7h1M244.3 654.1h1M252.3 648.6h1M253.7 651.3h1M244.6 652.8h1M239.9 643.6h1M248.4 648.5h1M243.4 646.2h1M241.0 643.2h1M263.0 652.4h1M252.8 656.4h1M238.2 653.4h1M242.9 639.0h1M244.0 649.1h1M253.4 655.7h1M248.1 656.6h1M235.5 647.6h1M250.8 664.8h1M237.9 631.7h1M246.0 646.6h1M250.2 646.9h1M241.7 645.4h1M248.8 664.9h1M230.5 640.4h1M246.0 645.2h1M238.3 645.1h1M243.8 649.2h1M250.4 645.6h1M250.7 643.3h1M243.8 650.5h1M244.8 653.0h1M252.0 644.2h1M259.6 653.0h1M243.6 640.4h1M246.3 648.6h1M250.9 650.5h1M250.9 638.4h1M243.8 647.8h1M251.7 647.5h1M248.6 641.7h1M253.9 648.8h1M239.5 646.4h1M245.7 649.3h1M258.5 640.4h1M254.9 640.1h1M246.6 640.8h1M246.8 655.7h1M257.2 654.3h1M246.4 653.9h1M238.4 647.3h1M243.0 634.2h1M245.4 639.7h1M254.1 642.2h1M254.1 646.7h1M253.3 652.5h1M255.1 642.3h1M239.6 649.5h1M261.0 656.5h1M247.6 655.5h1M247.1 649.7h1M254.4 650.5h1M246.5 649.1h1M254.1 657.0h1M256.1 651.5h1M241.5 654.2h1M245.5 643.0h1M246.6 643.5h1M239.8 648.9h1M241.8 654.2h1M249.1 640.0h1M249.8 651.0h1M240.4 653.7h1M244.9 646.4h1M251.4 633.9h1M244.1 653.0h1M249.5 657.9h1M250.6 648.8h1M254.0 647.3h1M251.8 631.1h1M238.8 655.5h1M253.6 651.8h1M253.3 636.8h1M249.9 639.4h1M244.1 643.0h1M253.5 642.9h1M252.9 653.4h1M249.3 651.1h1M254.3 649.9h1M251.5 651.8h1M237.6 661.1h1M250.4 647.8h1M251.0 642.1h1M246.3 640.5h1M246.5 655.6h1M239.7 641.5h1M250.4 644.0h1M262.5 642.4h1M254.0 648.6h1M250.0 655.4h1M258.7 657.5h1M251.3 647.6h1M252.0 654.2h1M247.0 642.6h1M242.0 638.8h1M249.4 655.8h1M250.6 646.9h1M240.9 651.5h1M263.7 659.0h1M246.9 658.0h1M247.4 648.4h1M248.0 639.4h1M256.7 645.4h1M248.1 650.1h1M250.8 643.1h1M243.3 646.6h1M241.8 642.7h1M251.7 646.4h1M251.0 646.5h1M249.5 644.0h1M256.3 644.4h1M250.2 660.6h1M256.4 643.9h1M243.4 650.2h1M249.0 657.0h1M244.8 652.3h1M246.4 644.5h1M255.9 658.4h1M251.0 650.6h1M245.3 660.6h1M242.1 656.3h1M243.8 652.7h1M248.3 646.1h1M246.2 650.0h1M244.9 643.7h1M255.5 643.3h1M248.1 640.8h1M240.2 645.1h1M260.2 649.7h1M251.8 654.2h1M241.5 642.1h1M246.9 655.3h1M248.4 640.4h1M246.9 637.6h1M249.1 639.4h1M242.0 635.9h1M242.7 644.3h1M252.3 645.5h1M245.9 644.8h1M247.8 645.7h1M240.3 646.7h1M250.8 637.3h1M236.0 653.8h1M246.5 642.6h1M238.4 646.5h1M253.6 644.1h1M248.4 663.7h1M251.4 647.5h1M240.5 656.6h1M253.2 646.2h1M252.0 652.2h1M256.9 654.6h1M248.1 653.6h1M246.2 641.3h1M245.4 645.4h1M254.4 649.0h1M250.5 643.0h1M251.8 644.6h1M238.5 652.6h1M248.7 658.0h1M257.3 648.3h1M239.5 633.7h1M247.6 639.3h1M255.2 651.9h1M240.4 635.3h1M256.2 655.8h1M253.4 658.7h1M250.5 643.5h1M248.6 648.7h1M243.8 647.6h1M230.9 640.6h1M245.9 633.0h1M248.5 643.9h1M261.9 658.1h1M259.1 661.2h1M234.8 661.0h1M248.3 674.4h1M233.8 669.3h1M261.6 666.9h1M242.9 666.7h1M254.6 673.1h1M247.5 664.4h1M249.9 656.2h1M246.3 672.9h1M247.7 662.0h1M245.1 660.4h1M257.4 665.8h1M254.8 665.7h1M251.8 670.6h1M245.3 664.3h1M241.8 678.7h1M257.6 664.0h1M254.9 670.0h1M257.4 668.5h1M251.4 664.4h1M259.7 668.7h1M254.6 673.8h1M244.9 667.6h1M242.1 677.6h1M257.1 663.9h1M247.7 665.4h1M229.7 679.1h1M256.7 668.3h1M244.7 664.2h1M247.2 666.0h1M245.7 659.6h1M266.8 654.9h1M253.2 668.1h1M262.1 672.4h1M248.5 671.5h1M258.8 666.0h1M234.4 655.4h1M245.1 681.7h1M259.7 661.4h1M252.2 667.2h1M251.3 671.5h1M244.8 663.5h1M249.4 655.1h1M240.9 661.7h1M240.8 675.6h1M259.8 666.5h1M242.2 670.9h1M252.2 653.4h1M260.7 666.0h1M257.0 645.7h1M243.3 685.4h1M243.6 681.7h1M255.0 659.3h1M244.7 659.9h1M247.3 646.8h1M263.1 682.8h1M252.9 665.2h1M246.1 665.6h1M246.7 676.1h1M244.6 666.2h1M263.6 673.4h1M245.6 652.1h1M266.7 653.2h1M248.3 666.5h1M257.7 659.1h1M248.1 662.7h1M241.4 676.8h1M247.3 668.0h1M245.2 674.3h1M267.4 654.5h1M251.6 664.8h1M263.6 656.9h1M260.8 664.7h1M258.8 658.6h1M244.7 664.8h1M258.7 661.9h1M257.8 676.4h1M238.1 660.5h1M246.1 661.2h1M255.7 654.4h1M243.8 666.5h1M250.7 666.2h1M250.9 652.0h1M246.6 670.7h1M253.7 667.9h1M241.7 662.5h1M236.2 667.7h1M242.9 673.3h1M248.4 675.8h1M269.1 661.9h1M254.6 653.8h1M246.7 646.3h1M245.4 686.7h1M256.4 674.5h1M249.2 663.5h1M252.3 661.1h1M255.2 669.4h1M239.7 651.4h1M249.1 664.2h1M238.8 675.1h1M262.4 666.2h1M239.2 670.7h1M243.0 676.2h1M253.8 667.4h1M258.3 668.2h1M272.8 646.7h1M252.2 672.1h1M257.5 640.9h1M260.1 658.4h1M242.4 682.8h1M249.7 672.2h1M255.9 668.8h1M260.0 665.4h1M261.8 662.0h1M243.5 679.9h1M251.6 671.6h1M238.8 647.7h1M252.1 667.2h1M263.9 650.6h1M243.8 669.8h1M261.2 664.5h1M255.5 671.0h1M269.2 672.0h1M248.7 652.6h1M236.5 667.4h1M243.3 668.8h1M249.7 646.3h1M259.3 668.0h1M243.8 656.5h1M263.2 663.6h1M248.9 657.7h1M245.3 680.4h1M244.9 667.1h1M247.7 665.0h1M240.7 679.2h1M251.8 671.8h1M242.7 666.4h1M267.9 659.6h1M247.3 654.6h1M245.4 671.7h1M247.1 661.1h1M260.4 676.1h1M250.2 688.6h1M247.8 662.9h1M237.5 661.3h1M244.7 687.9h1M241.4 667.7h1M252.3 669.0h1M231.9 669.7h1M240.9 667.5h1M234.5 666.9h1M248.6 656.2h1M252.2 668.2h1M257.7 653.1h1M239.8 668.9h1M251.4 660.1h1M236.9 669.6h1M260.2 654.4h1M255.5 653.2h1M256.6 651.8h1M259.7 661.9h1M260.3 658.7h1M239.2 660.7h1M242.4 670.2h1M245.4 671.8h1M249.8 661.5h1M246.4 664.4h1M255.0 675.1h1M246.8 667.0h1M259.6 674.3h1M243.5 657.5h1M246.0 677.4h1M247.1 674.6h1M249.5 670.8h1M254.6 663.2h1M245.4 667.7h1M271.0 650.5h1M257.6 661.2h1M239.6 668.0h1M258.4 652.4h1M241.5 674.7h1M239.3 679.1h1M260.5 656.6h1M252.3 674.9h1M258.7 645.8h1M238.5 670.1h1M260.5 675.7h1M254.3 663.4h1M243.6 673.8h1M251.2 682.1h1M267.3 667.0h1M244.2 666.9h1M260.3 664.9h1M255.6 659.0h1M231.5 677.8h1M266.7 657.0h1M252.9 649.2h1M263.4 682.0h1M262.9 653.0h1M252.2 666.5h1M254.2 659.5h1M255.1 665.6h1M241.2 660.2h1M265.3 663.1h1M255.0 681.7h1M245.7 677.7h1M260.9 656.3h1M249.7 668.8h1M238.0 655.3h1M246.0 678.3h1M249.1 679.6h1M236.6 667.4h1M254.1 674.2h1M257.7 672.6h1M257.2 665.1h1M264.4 668.3h1M245.7 674.7h1M256.5 665.5h1M256.3 661.7h1M247.9 653.0h1M247.7 678.6h1M229.4 669.2h1M256.4 669.4h1M237.9 669.4h1M253.2 674.1h1M252.0 659.8h1M256.0 665.0h1M241.7 668.8h1M253.6 664.2h1M247.4 666.5h1M251.9 671.4h1M241.8 664.3h1M256.5 660.2h1M243.4 657.3h1M239.1 661.2h1M250.6 671.1h1M252.4 666.5h1M256.3 663.3h1M240.1 669.9h1M252.4 682.8h1M251.3 683.4h1M249.9 654.5h1M248.9 664.1h1M250.3 663.0h1M271.0 661.9h1M249.7 665.8h1M250.9 674.8h1M251.1 673.5h1M243.0 670.2h1M250.3 667.4h1M241.0 663.5h1M238.0 673.4h1M261.8 661.9h1M239.3 666.4h1M260.3 649.0h1M248.3 667.4h1M247.1 669.1h1M254.8 667.5h1M258.7 672.0h1M237.7 660.9h1M249.2 667.0h1M252.8 655.5h1M240.4 683.8h1M252.4 668.2h1M265.8 645.1h1M253.0 663.1h1M250.1 677.6h1M250.2 653.8h1M241.3 657.7h1M260.8 657.4h1M241.4 667.1h1M239.5 673.0h1M252.0 667.2h1M260.7 659.3h1M258.8 649.1h1M259.0 678.3h1M244.1 674.5h1M242.6 669.3h1M255.5 659.8h1M241.8 667.7h1M250.5 669.1h1M251.7 651.0h1M260.3 666.7h1M238.5 668.4h1M259.9 680.5h1M249.9 661.5h1M261.6 661.8h1M250.9 652.4h1M242.3 671.8h1M266.8 663.8h1M249.7 663.0h1M241.3 658.8h1M257.5 679.2h1M248.4 659.3h1M237.7 666.1h1M259.9 649.0h1M248.6 676.7h1M264.5 655.5h1M253.3 669.0h1M252.5 664.6h1M252.7 666.7h1M249.6 664.5h1M248.0 685.9h1M251.1 674.8h1M243.5 680.4h1M260.1 664.0h1M272.0 665.9h1M267.0 653.3h1M232.1 678.0h1M251.6 660.1h1M242.3 673.0h1M258.3 672.7h1M250.8 662.2h1M239.4 661.2h1M262.7 650.9h1M250.2 661.9h1M245.2 656.8h1M247.7 670.8h1M248.7 669.1h1M245.3 658.8h1M257.9 662.5h1M248.9 670.8h1M259.4 658.3h1M251.7 663.6h1M262.6 650.8h1M244.9 667.0h1M230.4 659.4h1M255.2 673.7h1M265.1 658.7h1M255.6 664.6h1M244.5 669.7h1M250.6 676.6h1M248.9 654.5h1M253.2 659.9h1M252.1 668.6h1M236.0 656.2h1M254.0 671.6h1M246.0 666.8h1M255.2 659.4h1M250.3 661.6h1M259.7 662.7h1M242.8 670.2h1M244.8 664.9h1M240.4 667.1h1M257.8 669.3h1M256.1 656.8h1M250.8 665.3h1M249.0 663.8h1M238.3 685.4h1M244.7 668.8h1M252.6 655.9h1M245.8 670.3h1M250.8 670.1h1M242.4 667.6h1M242.9 668.3h1M245.4 663.1h1M256.0 673.3h1M250.4 667.8h1M242.9 664.1h1M247.4 670.1h1M265.6 645.4h1M260.8 674.1h1M256.0 661.2h1M257.4 651.4h1M239.6 670.6h1M245.9 673.4h1M243.5 652.6h1M249.7 670.9h1M238.5 670.3h1M251.9 668.8h1M257.9 665.7h1M245.2 656.4h1M256.3 661.7h1M258.9 673.3h1M245.8 662.6h1M261.8 663.9h1M241.6 667.1h1M247.7 677.0h1M240.3 663.5h1M258.0 670.5h1M253.0 660.7h1M243.2 646.5h1M256.8 666.1h1M251.6 654.7h1M235.9 667.0h1M247.4 676.9h1M270.9 647.9h1M244.6 674.6h1M259.3 669.7h1M249.9 661.8h1M247.3 655.3h1M245.2 660.9h1M260.8 674.4h1M253.5 651.8h1M249.6 661.7h1M261.3 654.0h1M254.5 664.0h1M258.2 658.5h1M265.0 664.0h1M249.6 664.2h1M247.1 676.0h1M258.0 661.3h1M274.9 662.0h1M259.1 676.4h1M260.6 666.4h1M242.8 660.6h1M257.8 662.7h1M248.7 676.9h1M257.2 675.8h1M248.6 658.2h1M250.2 673.3h1M242.0 668.2h1M256.3 665.8h1M255.1 643.6h1M255.6 672.4h1M243.4 670.8h1M251.0 665.5h1M279.2 654.0h1M240.5 662.4h1M245.3 667.9h1M254.5 660.4h1M271.7 663.1h1M251.4 662.5h1M253.0 657.7h1M249.5 661.6h1M257.8 656.9h1M241.4 665.1h1M260.5 665.9h1M247.6 665.9h1M244.3 660.9h1M253.7 659.0h1M243.8 665.0h1M251.5 670.0h1M247.0 668.6h1M254.6 679.1h1M252.3 646.6h1M253.7 656.0h1M254.2 665.8h1M242.2 648.7h1M255.5 657.3h1M260.0 650.8h1M240.1 656.6h1M253.2 677.2h1M252.8 654.8h1M256.0 651.8h1M251.5 678.0h1M250.5 653.5h1M251.0 668.5h1M237.9 673.7h1M251.6 646.1h1M255.4 655.2h1M247.0 676.5h1M256.5 659.0h1M257.3 680.6h1M264.2 656.8h1M266.5 658.4h1M241.5 660.4h1M234.7 665.6h1M249.9 680.9h1M248.5 658.0h1M254.6 664.9h1M260.9 653.2h1M257.4 654.7h1M247.1 674.8h1M246.3 671.1h1M247.3 674.7h1M253.9 668.6h1M265.2 651.1h1M257.6 665.2h1M242.2 667.8h1M254.0 655.0h1M247.0 677.5h1M248.2 654.8h1M271.5 673.4h1M247.0 670.3h1M248.5 669.7h1M257.2 682.3h1M259.1 680.1h1M253.1 658.9h1M253.9 662.9h1M229.1 684.3h1M245.2 683.0h1M239.3 665.6h1M265.6 654.7h1M252.0 678.1h1M242.7 676.4h1M253.2 658.4h1M251.5 670.3h1M266.8 680.8h1M253.9 660.5h1M254.2 666.9h1M242.1 657.1h1M244.6 666.9h1M250.5 672.0h1M248.8 665.6h1M261.3 651.7h1M236.0 682.2h1M259.7 655.9h1M261.9 664.9h1M245.4 681.4h1M237.8 663.2h1M252.1 671.7h1M252.0 673.3h1M242.0 666.4h1M263.2 659.1h1M246.4 662.0h1M251.1 663.5h1M231.3 656.7h1M264.2 672.5h1M250.3 673.6h1M245.1 672.8h1M259.7 658.9h1M249.0 668.8h1M260.5 658.5h1M257.3 663.3h1M246.1 676.7h1M263.7 651.1h1M252.8 662.2h1M241.1 669.6h1M250.7 660.5h1M239.8 675.6h1M260.5 663.1h1M233.4 676.8h1M265.3 660.4h1M237.3 659.3h1M250.3 662.3h1M248.5 666.2h1M257.2 676.8h1M255.0 662.4h1M246.6 653.6h1M263.4 658.6h1M250.1 654.1h1M254.6 663.7h1M244.4 671.6h1M271.2 656.8h1M249.5 671.1h1M245.3 664.8h1M264.2 659.2h1M252.7 657.3h1M240.4 666.4h1M250.1 655.7h1M246.6 669.9h1M252.9 679.3h1M244.7 657.5h1M254.8 661.1h1M256.3 657.5h1M235.5 686.1h1M247.2 672.0h1M264.5 657.3h1M239.2 671.5h1M256.8 668.1h1M236.7 667.5h1M269.8 649.0h1M262.2 649.4h1M245.8 656.6h1M260.6 670.8h1M255.9 656.9h1M255.4 668.1h1M264.7 650.5h1M250.0 671.0h1M249.8 657.3h1M247.9 684.7h1M258.5 672.8h1M255.1 663.3h1M248.3 664.4h1M248.7 664.0h1M240.6 665.1h1M252.1 656.7h1M263.5 675.1h1M243.5 657.9h1M231.8 671.7h1M245.2 665.9h1M237.9 672.0h1M242.3 670.0h1M248.5 672.7h1M246.1 673.1h1M247.3 656.0h1M259.2 663.3h1M264.7 661.2h1M249.8 682.6h1M244.0 657.5h1M254.0 653.5h1M250.1 650.9h1M262.8 667.3h1M254.9 658.8h1M238.9 681.2h1M256.9 661.0h1M241.4 668.8h1M246.2 664.3h1M238.9 680.7h1M252.5 682.1h1M254.6 663.7h1M256.9 660.1h1M258.2 670.1h1M262.7 661.8h1M249.7 677.2h1M249.9 660.8h1M260.1 659.2h1M258.8 673.0h1M258.9 643.2h1M265.1 640.7h1M262.4 660.2h1M265.1 644.7h1M264.5 635.2h1M266.6 654.0h1M257.6 650.2h1M274.0 651.0h1M273.5 642.1h1M260.8 636.8h1M263.5 672.0h1M263.6 632.4h1M272.9 654.7h1M267.1 647.7h1M261.4 627.2h1M263.4 637.2h1M254.6 676.4h1M262.3 631.3h1M263.0 647.9h1M264.8 660.3h1M263.4 662.8h1M264.0 643.7h1M265.8 643.0h1M258.6 622.0h1M253.7 637.2h1M260.7 640.7h1M265.0 654.7h1M253.2 635.2h1M267.6 630.7h1M266.7 632.1h1M255.7 634.3h1M261.2 623.3h1M262.8 633.3h1M270.8 624.3h1M267.0 633.0h1M259.6 650.7h1M268.5 628.4h1M255.7 624.7h1M258.9 655.1h1M258.7 644.4h1M255.6 643.2h1M271.6 649.4h1M261.6 649.9h1M258.3 621.8h1M259.4 620.8h1M267.2 653.7h1M264.6 647.3h1M262.4 636.7h1M268.2 628.4h1M252.3 654.1h1M258.8 667.7h1M261.9 624.5h1M267.3 627.7h1M257.3 658.4h1M269.2 659.9h1M275.7 658.6h1M269.3 637.6h1M259.1 660.4h1M271.4 636.7h1M256.9 649.0h1M274.2 656.5h1M258.0 627.1h1M265.9 636.3h1M261.5 662.2h1M267.9 656.5h1M258.8 642.7h1M271.7 649.1h1M272.6 654.5h1M266.6 636.8h1M259.2 629.3h1M259.8 637.1h1M264.5 673.4h1M264.6 636.4h1M265.8 654.3h1M261.2 645.7h1M272.2 628.5h1M261.8 654.9h1M266.6 650.4h1M264.4 669.3h1M261.8 641.7h1M268.8 634.7h1M274.8 645.3h1M264.1 619.5h1M274.7 658.8h1M268.7 657.5h1M274.4 639.0h1M257.1 656.0h1M254.9 641.9h1M251.3 631.8h1M264.4 629.6h1M264.4 622.9h1M263.9 662.3h1M260.6 639.8h1M256.7 637.8h1M252.3 642.1h1M259.9 617.2h1M270.7 663.6h1M264.8 641.2h1M252.3 656.6h1M261.3 672.7h1M275.4 649.2h1M273.1 638.9h1M256.2 643.6h1M259.9 650.5h1M263.4 629.6h1M262.6 640.3h1M281.7 637.4h1M262.6 664.0h1M253.6 638.4h1M268.2 664.7h1M255.4 647.5h1M263.1 639.9h1M253.9 642.8h1M268.2 653.1h1M260.0 641.6h1M265.2 632.6h1M256.1 647.2h1M270.3 661.1h1M268.0 641.8h1M265.7 623.6h1M261.2 616.7h1M260.7 621.4h1M268.6 671.4h1M262.6 630.7h1M265.6 632.9h1M268.3 623.4h1M272.7 661.3h1M263.1 628.6h1M266.4 628.0h1M265.7 640.0h1M273.0 650.1h1M256.5 644.3h1M260.3 660.9h1M271.5 640.1h1M265.4 629.3h1M256.6 647.2h1M267.3 631.7h1M275.0 646.5h1M275.3 619.4h1M261.7 649.3h1M268.6 646.1h1M258.9 639.7h1M255.2 652.7h1M258.2 646.1h1M270.6 662.4h1M272.0 643.4h1M249.8 643.6h1M257.3 656.9h1M252.6 642.9h1M248.6 641.1h1M261.1 641.0h1M266.9 639.8h1M270.2 645.0h1M259.1 628.6h1M272.0 650.4h1M261.2 624.1h1M259.3 637.2h1M267.2 644.6h1M269.2 652.5h1M259.3 630.8h1M261.5 632.4h1M267.6 657.7h1M267.2 630.8h1M272.2 664.9h1M271.6 653.0h1M258.8 652.1h1M267.8 636.2h1M270.0 614.9h1M264.8 637.3h1M263.0 647.9h1M262.6 656.9h1M252.5 659.9h1M274.0 634.6h1M251.2 641.6h1M266.0 643.9h1M270.3 630.8h1M270.4 626.2h1M258.1 640.0h1M263.7 611.5h1M259.5 641.7h1M259.8 649.5h1M267.2 631.8h1M258.0 639.8h1M277.2 653.0h1M259.0 625.5h1M257.3 672.7h1M257.8 646.3h1M273.7 646.7h1M258.8 628.5h1M269.2 651.7h1M262.8 643.6h1M272.0 643.8h1M271.9 653.3h1M266.2 665.0h1M261.5 654.1h1M257.8 660.3h1M253.4 629.4h1M258.7 669.4h1M266.5 666.6h1M269.0 623.6h1M264.5 647.9h1M260.9 655.7h1M269.0 639.9h1M261.3 630.6h1M280.5 659.0h1M264.6 648.7h1M265.5 645.2h1M263.5 641.3h1M263.9 633.7h1M260.5 667.0h1M271.4 658.6h1M276.3 637.0h1M263.3 650.4h1M265.6 637.9h1M258.1 656.8h1M268.0 626.1h1M258.6 644.1h1M261.2 623.2h1M267.0 629.1h1M264.8 629.5h1M269.2 656.1h1M267.7 644.1h1M270.3 641.0h1M280.0 628.3h1M257.5 667.2h1M274.8 629.9h1M262.3 656.7h1M259.8 625.0h1M270.4 634.0h1M263.9 638.2h1M267.7 633.2h1M264.0 640.3h1M258.1 652.1h1M256.4 645.5h1M276.8 638.2h1M262.6 646.0h1M267.6 664.6h1M262.4 627.4h1M264.0 633.8h1M257.0 646.1h1M260.6 655.9h1M270.3 653.1h1M259.3 630.6h1M267.1 617.4h1M259.8 632.4h1M260.3 652.1h1M266.4 640.0h1M268.3 651.6h1M268.0 659.1h1M273.8 636.2h1M256.8 639.4h1M258.5 653.8h1M262.9 631.5h1M265.3 650.5h1M272.5 643.7h1M262.5 635.3h1M257.7 637.1h1M266.5 647.4h1M266.0 613.3h1M261.9 659.6h1M257.0 650.5h1M260.7 657.3h1M267.1 650.1h1M268.2 655.2h1M257.9 632.5h1M260.7 660.3h1M250.7 657.7h1M262.1 648.5h1M259.2 648.1h1M269.1 622.7h1M271.3 636.7h1M265.1 623.7h1M266.6 644.9h1M276.6 621.3h1M262.5 646.0h1M267.3 665.3h1M257.2 659.4h1M262.7 632.6h1M267.8 646.0h1M263.9 652.2h1M254.3 645.3h1M259.2 642.6h1M265.4 640.7h1M266.5 629.2h1M264.3 641.4h1M280.1 645.4h1M256.7 646.2h1M277.0 647.9h1M255.2 668.4h1M269.1 649.1h1M273.1 618.4h1M265.9 639.1h1M266.3 617.6h1M271.5 626.3h1M267.5 655.7h1M265.2 644.7h1M256.1 635.6h1M266.1 638.6h1M268.4 629.0h1M264.0 632.0h1M253.8 646.6h1M263.3 645.7h1M261.0 661.7h1M282.7 657.1h1M256.2 642.5h1M273.6 652.3h1M258.2 638.3h1M264.6 635.5h1M265.6 668.7h1M271.3 669.3h1M267.6 625.3h1M267.2 664.4h1M267.2 611.2h1M264.2 637.9h1M270.1 624.1h1M262.3 641.3h1M264.7 647.1h1M271.3 643.4h1M274.2 644.0h1M279.1 650.9h1M265.1 629.0h1M261.9 637.0h1M272.7 637.1h1M263.9 648.3h1M263.8 652.4h1M260.4 633.8h1M262.5 655.7h1M257.7 617.1h1M264.7 635.4h1M266.7 639.2h1M274.2 644.8h1M261.1 639.9h1M274.6 632.4h1M266.3 663.7h1M269.0 654.1h1M257.5 646.4h1M273.5 650.1h1M252.5 660.5h1M269.7 643.7h1M268.9 629.2h1M274.1 658.4h1M269.4 654.0h1M256.3 642.2h1M264.2 652.0h1M256.0 645.8h1M272.2 629.5h1M274.9 647.5h1M260.9 632.0h1M274.6 634.2h1M259.4 642.2h1M271.3 657.3h1M262.0 617.4h1M273.7 641.8h1M262.2 644.1h1M253.6 665.1h1M267.2 668.8h1M255.2 632.9h1M254.3 661.5h1M260.1 645.9h1M259.1 628.5h1M259.8 647.2h1M261.1 637.4h1M264.8 635.2h1M263.8 627.9h1M254.3 627.5h1M257.1 653.5h1M254.1 627.8h1M280.8 633.6h1M271.4 629.0h1M261.6 639.8h1M261.2 649.4h1M264.9 656.7h1M262.4 646.6h1M258.5 658.5h1M255.8 626.1h1M259.4 634.9h1M253.4 621.9h1M257.6 645.5h1M274.4 631.2h1M258.0 644.8h1M269.5 658.6h1M268.9 632.7h1M269.4 612.3h1M266.0 663.4h1M269.8 671.2h1M261.1 644.8h1M263.2 653.4h1M271.6 640.4h1M268.3 646.8h1M265.3 624.7h1M265.6 653.5h1M260.5 622.6h1M270.6 662.3h1M262.7 656.2h1M255.3 660.8h1M262.3 658.2h1M256.6 647.9h1M259.9 619.0h1M253.7 651.6h1M260.5 653.2h1M266.8 652.1h1M261.9 634.7h1M262.6 648.2h1M258.9 650.5h1M264.2 642.8h1M273.0 653.0h1M252.4 630.2h1M278.1 659.8h1M265.6 630.5h1M258.6 647.7h1M272.2 634.3h1M268.5 648.4h1M259.7 655.5h1M251.8 642.5h1M260.7 664.9h1M261.2 626.4h1M259.8 619.2h1M267.0 625.0h1M267.0 644.3h1M265.7 643.7h1M267.0 653.6h1M257.0 650.6h1M254.6 640.4h1M256.5 660.3h1M266.7 636.1h1M262.3 629.5h1M268.5 630.4h1M267.9 658.2h1M251.1 668.2h1M269.9 658.6h1M258.3 622.3h1M261.9 638.7h1M264.9 626.8h1M279.8 647.8h1M266.9 644.9h1M251.6 654.7h1M260.2 621.7h1M257.7 640.0h1M273.2 661.0h1M258.0 655.3h1M264.3 652.3h1M264.2 635.1h1M255.4 650.8h1M258.6 633.3h1M268.8 669.7h1M274.9 633.0h1M276.0 617.3h1M268.7 644.7h1M262.6 646.9h1M256.3 632.5h1M253.6 629.8h1M256.1 635.7h1M264.6 620.2h1M266.0 641.1h1M260.6 638.4h1M269.0 619.7h1M264.4 638.6h1M266.6 648.4h1M277.0 637.5h1M269.6 623.9h1M255.1 632.7h1M250.4 653.8h1M262.0 630.8h1M264.5 659.9h1M259.1 644.7h1M272.9 662.1h1M269.7 637.6h1M267.0 642.1h1M258.8 629.3h1M265.4 621.2h1M257.1 630.8h1M269.7 629.4h1M260.9 631.0h1M264.7 652.9h1M279.3 654.5h1M265.7 627.8h1M272.1 609.3h1M274.6 640.5h1M258.4 652.4h1M267.7 648.4h1M261.9 620.4h1M271.0 645.9h1M259.7 645.1h1M274.3 641.7h1M251.8 637.7h1M271.0 654.4h1M260.2 646.2h1M260.0 649.3h1M265.3 651.7h1M264.7 640.6h1M264.4 648.5h1M269.4 615.1h1M261.7 655.1h1M258.9 649.4h1M267.0 649.5h1M267.4 636.2h1M272.4 625.0h1M270.9 631.0h1M262.8 654.9h1M261.9 643.3h1M265.4 630.4h1M264.5 614.6h1M259.7 639.5h1M268.5 637.9h1M255.4 641.1h1M274.8 641.2h1M266.8 641.6h1M263.4 631.6h1M264.0 643.7h1M257.8 655.5h1M265.2 661.3h1M264.6 653.4h1M255.8 650.5h1M263.1 638.6h1M256.9 657.7h1M265.6 655.1h1M271.3 629.3h1M252.2 645.2h1M262.2 627.3h1M262.7 636.9h1M258.7 643.4h1M260.4 643.1h1M272.0 650.4h1M266.6 658.9h1M264.7 644.0h1M264.3 621.1h1M264.4 626.1h1M274.3 644.2h1M259.2 655.5h1M264.6 631.0h1M271.2 650.0h1M268.4 658.1h1M255.0 631.0h1M262.1 644.2h1M258.0 636.5h1M267.7 672.1h1M268.5 623.4h1M271.0 646.3h1M266.3 634.4h1M257.7 631.3h1M276.4 652.1h1M257.4 643.3h1M256.3 635.7h1M265.6 666.0h1M254.2 664.5h1M270.1 624.2h1M258.3 659.9h1M277.4 650.5h1M265.9 649.5h1M259.8 635.5h1M258.1 640.8h1M261.2 644.8h1M261.1 658.0h1M256.3 655.5h1M265.6 657.5h1M263.7 665.2h1M261.5 665.8h1M258.0 651.9h1M266.2 639.4h1M266.1 640.8h1M266.6 646.5h1M255.5 644.2h1M268.6 628.8h1M267.3 649.0h1M270.5 641.8h1M258.3 636.3h1M260.6 656.5h1M271.7 647.0h1M260.7 657.4h1M256.3 660.0h1M261.8 644.8h1M257.5 656.1h1M267.9 658.7h1M261.5 671.4h1M248.3 647.4h1M266.9 651.6h1M259.9 646.2h1M260.6 651.2h1M265.4 631.7h1M270.1 620.2h1M261.8 650.7h1M251.0 630.2h1M275.4 653.7h1M257.1 643.6h1M266.0 679.2h1M265.0 651.4h1M266.0 635.7h1M263.8 641.0h1M262.5 642.8h1M259.6 631.6h1M265.4 650.8h1M274.7 668.8h1M262.4 642.8h1M266.4 649.5h1M261.1 637.1h1M282.9 638.8h1M253.6 636.9h1M267.5 642.2h1M257.8 634.8h1M279.3 623.1h1M271.5 643.1h1M272.9 644.0h1M270.2 638.6h1M262.1 657.5h1M257.5 622.5h1M268.0 645.0h1M260.8 648.8h1M264.2 630.2h1M262.4 653.6h1M257.8 675.2h1M262.9 628.5h1M272.5 642.8h1M266.5 664.9h1M264.4 641.7h1M276.9 641.6h1M260.3 641.5h1M268.4 658.7h1M260.3 634.9h1M277.5 660.3h1M273.7 646.6h1M264.9 663.6h1M274.2 631.0h1M281.6 653.4h1M267.2 663.8h1M283.3 661.9h1M293.3 647.0h1M268.4 658.0h1M277.6 667.6h1M274.6 638.7h1M269.0 670.3h1M275.3 651.9h1M282.2 641.6h1M279.9 631.3h1M275.5 645.5h1M281.1 664.5h1M275.3 653.8h1M263.5 645.2h1M279.0 686.3h1M287.3 676.7h1M274.7 640.6h1M266.9 648.7h1M266.8 669.4h1M272.4 629.3h1M267.7 676.4h1M280.9 658.1h1M269.3 641.8h1M285.2 665.6h1M278.8 634.5h1M279.9 676.4h1M270.9 627.2h1M267.1 650.4h1M265.1 657.0h1M273.3 660.1h1M271.9 653.9h1M279.6 676.1h1M288.3 656.2h1M269.2 625.5h1M271.7 635.7h1M276.9 659.7h1M283.4 631.9h1M280.0 687.2h1M268.9 631.6h1M275.8 640.0h1M270.8 659.0h1M280.1 667.9h1M266.2 671.2h1M274.0 658.6h1M283.1 656.6h1M289.6 648.6h1M268.6 632.6h1M287.2 656.4h1M271.2 647.0h1M285.7 656.9h1M282.8 659.4h1M285.0 656.0h1M292.2 660.5h1M275.5 647.9h1M292.7 654.6h1M272.0 672.4h1M253.6 692.9h1M265.3 671.3h1M265.7 691.3h1M257.0 691.9h1M273.5 679.7h1M266.5 689.5h1M274.2 704.3h1M276.4 685.2h1M273.7 681.5h1M272.8 676.7h1M260.6 693.8h1M270.8 688.5h1M276.0 690.4h1M266.1 687.4h1M264.5 689.1h1M261.4 684.1h1M262.9 685.4h1M275.1 678.7h1M265.9 670.8h1M264.2 689.1h1M257.8 684.3h1M266.4 676.2h1M261.6 687.8h1M267.6 690.9h1M259.9 701.0h1M273.2 689.4h1M263.8 685.8h1M282.0 699.3h1M266.7 682.7h1M273.8 684.6h1M270.6 703.5h1M262.3 692.7h1M247.8 689.1h1M266.4 699.4h1M264.7 687.5h1M271.0 690.8h1M266.7 673.7h1M274.3 692.5h1M267.7 682.1h1M257.2 689.2h1M262.2 685.1h1M263.0 677.8h1M271.0 685.0h1M267.1 691.9h1M262.6 680.6h1M256.0 686.6h1M271.6 696.8h1M274.5 694.0h1M269.0 682.7h1M263.0 685.8h1M265.1 678.7h1M268.7 694.3h1M262.7 672.8h1M263.7 701.1h1M258.8 697.9h1M261.5 688.2h1M266.9 688.5h1M271.2 683.6h1M259.6 673.4h1M257.0 699.6h1M267.4 700.2h1M259.3 682.8h1M267.5 683.6h1M257.6 698.6h1M264.9 684.0h1M265.0 689.4h1M264.4 688.1h1M274.7 678.9h1M268.0 684.0h1M262.8 691.0h1M258.9 696.5h1M275.3 664.3h1M259.2 702.4h1M273.9 668.5h1M266.3 702.7h1M274.8 689.8h1M270.8 682.8h1M260.7 698.5h1M260.4 699.7h1M268.6 689.4h1M270.5 688.6h1M261.3 687.1h1M257.5 704.7h1M263.6 668.6h1M271.4 682.5h1M270.6 696.5h1M267.5 682.0h1M264.2 690.6h1M268.9 680.2h1M255.9 694.7h1M273.4 688.6h1M258.9 705.2h1M275.6 690.7h1M261.3 686.7h1M275.4 667.9h1M255.9 709.9h1M256.5 684.2h1M262.1 691.8h1M276.2 688.1h1M258.8 692.1h1M253.1 694.8h1M271.6 701.8h1M259.6 689.2h1M256.7 699.7h1M259.4 686.9h1M266.6 697.2h1M260.3 684.5h1M259.5 695.6h1M255.3 691.7h1M264.8 696.0h1M266.1 690.9h1M267.6 678.9h1M278.0 696.1h1M266.2 692.2h1M255.9 675.7h1M263.0 689.4h1M265.8 679.5h1M267.3 671.4h1M272.8 685.9h1M271.0 671.5h1M265.5 705.1h1M262.2 698.5h1M261.0 688.5h1M261.3 688.2h1M259.6 717.5h1M257.7 698.9h1M263.1 697.9h1M263.7 686.7h1M261.9 680.0h1" stroke="#363636" stroke-width="1" stroke-opacity="0.47" fill="none" filter="url(#bl)"/>
<rect x="213.25" y="607.5" width="125.5" height="115.75" fill="none" stroke="#262626" stroke-width="1.4"/>
<line x1="259.25" y1="607.5" x2="259.25" y2="723.25" stroke="#262626" stroke-width="1.2"/>
<line x1="213.25" y1="677.7" x2="338.75" y2="677.7" stroke="#262626" stroke-width="1.2"/>
<text x="275.8" y="602.8" font-size="12" text-anchor="middle" font-weight="normal" fill="#1a1a1a" >V189-B</text>
<text x="257.05" y="621.3" font-size="10.3" text-anchor="end" font-weight="normal" fill="#1a1a1a" >44.9%</text>
<text x="334.45" y="621.3" font-size="10.3" text-anchor="end" font-weight="normal" fill="#1a1a1a" >10.5%</text>
<text x="257.05" y="719.3" font-size="10.3" text-anchor="end" font-weight="normal" fill="#1a1a1a" >43.1%</text>
<text x="334.45" y="719.3" font-size="10.3" text-anchor="end" font-weight="normal" fill="#1a1a1a" >1.5%</text>
<text x="206.05" y="743.2" font-size="10.3" fill="#1a1a1a">10<tspan dy="-4" font-size="6.5">0</tspan></text>
<text x="190.95" y="730.65" font-size="10.3" fill="#1a1a1a">10<tspan dy="-4" font-size="6.5">0</tspan></text>
<text x="237.43" y="743.2" font-size="10.3" fill="#1a1a1a">10<tspan dy="-4" font-size="6.5">1</tspan></text>
<text x="190.95" y="701.71" font-size="10.3" fill="#1a1a1a">10<tspan dy="-4" font-size="6.5">1</tspan></text>
<text x="268.80" y="743.2" font-size="10.3" fill="#1a1a1a">10<tspan dy="-4" font-size="6.5">2</tspan></text>
<text x="190.95" y="672.77" font-size="10.3" fill="#1a1a1a">10<tspan dy="-4" font-size="6.5">2</tspan></text>
<text x="300.18" y="743.2" font-size="10.3" fill="#1a1a1a">10<tspan dy="-4" font-size="6.5">3</tspan></text>
<text x="190.95" y="643.84" font-size="10.3" fill="#1a1a1a">10<tspan dy="-4" font-size="6.5">3</tspan></text>
<text x="331.55" y="743.2" font-size="10.3" fill="#1a1a1a">10<tspan dy="-4" font-size="6.5">4</tspan></text>
<text x="190.95" y="614.90" font-size="10.3" fill="#1a1a1a">10<tspan dy="-4" font-size="6.5">4</tspan></text>
<path d="M394.3 694.6h1M394.7 703.5h1M388.3 718.2h1M397.2 690.6h1M392.2 705.7h1M396.6 695.8h1M383.6 683.5h1M387.2 715.6h1M390.4 706.9h1M392.2 704.3h1M393.6 699.2h1M405.6 680.4h1M401.7 690.1h1M392.3 698.8h1M415.3 712.0h1M394.3 712.9h1M399.4 690.1h1M401.6 682.1h1M398.8 691.5h1M372.0 703.0h1M401.7 690.5h1M397.1 697.4h1M396.0 706.6h1M392.4 680.0h1M391.1 711.6h1M375.0 711.2h1M395.8 710.2h1M384.7 689.9h1M398.2 680.9h1M403.7 701.7h1M396.4 707.3h1M410.0 700.3h1M390.9 711.5h1M389.3 686.5h1M390.6 698.1h1M389.7 718.5h1M377.0 691.6h1M383.0 709.0h1M410.7 698.0h1M407.7 684.3h1M400.2 697.7h1M397.7 704.1h1M396.6 686.6h1M402.6 693.4h1M389.8 683.2h1M378.7 712.1h1M394.3 702.6h1M380.0 709.6h1M402.2 676.9h1M402.1 680.2h1M403.5 688.7h1M398.2 682.5h1M402.0 700.4h1M405.3 706.9h1M401.5 694.2h1M394.0 697.7h1M386.5 701.7h1M388.8 693.7h1M398.9 702.5h1M400.6 689.7h1M401.0 691.2h1M398.0 695.1h1M379.2 719.0h1M397.8 713.5h1M407.9 692.5h1M394.3 695.5h1M409.7 677.4h1M389.3 692.0h1M392.2 690.3h1M393.6 700.2h1M385.0 710.8h1M392.2 698.1h1M386.9 710.9h1M411.1 689.9h1M396.6 681.7h1M413.2 688.4h1M400.0 695.2h1M375.7 698.5h1M386.9 698.1h1M415.8 694.0h1M393.8 689.4h1M402.3 688.1h1M380.5 706.7h1M399.0 696.2h1M386.4 702.7h1M398.3 677.7h1M409.0 694.3h1M400.3 690.2h1M382.2 706.1h1M408.2 690.1h1M380.8 708.4h1M400.7 696.7h1M394.1 706.6h1M393.8 713.8h1M390.7 682.2h1M396.6 701.9h1M414.4 676.2h1M393.1 703.1h1M383.3 700.3h1M384.2 693.5h1M393.5 689.6h1M397.7 699.1h1M404.6 697.3h1M395.9 697.3h1M383.3 699.8h1M382.9 704.0h1M403.7 700.7h1M409.5 691.6h1M392.2 709.9h1M381.2 710.2h1M389.5 697.8h1M401.8 704.8h1M382.9 698.8h1M400.4 679.2h1M388.3 702.2h1M386.9 721.6h1M413.1 696.8h1M384.7 702.8h1M385.3 702.0h1M388.1 695.8h1M395.0 703.8h1M386.8 715.4h1M390.7 700.7h1M388.3 686.5h1M402.4 702.1h1M394.3 696.9h1M398.1 690.5h1M380.5 719.8h1M400.6 701.4h1M400.9 693.5h1M380.2 702.9h1M397.7 690.4h1M404.5 699.3h1M400.7 699.7h1M389.5 699.8h1M398.6 677.1h1M401.6 708.6h1M397.9 689.2h1M393.9 710.8h1M401.3 695.6h1M415.2 697.6h1M391.1 713.5h1M392.2 703.4h1M387.2 694.3h1M403.9 694.7h1M395.9 687.6h1M390.3 697.4h1M401.1 682.1h1M391.7 707.0h1M398.8 690.7h1M400.2 695.4h1M392.2 711.6h1M379.8 697.5h1M406.0 702.0h1M399.2 689.9h1M397.1 702.2h1M401.0 708.6h1M379.1 706.0h1M407.6 692.9h1M404.4 699.4h1M410.3 699.2h1M405.5 679.9h1M381.9 706.9h1M390.6 706.7h1M396.0 690.8h1M396.5 691.6h1M388.0 704.2h1M399.5 706.7h1M399.2 698.3h1M397.0 693.6h1M400.2 676.9h1M402.0 714.0h1M406.7 683.2h1M402.6 697.4h1M410.4 689.7h1M385.7 690.2h1M403.4 708.7h1M385.4 703.1h1M422.6 682.6h1M397.2 707.2h1M383.0 703.7h1M384.5 700.2h1M399.4 684.2h1M398.1 706.8h1M396.2 697.4h1M386.7 700.2h1M405.8 697.1h1M411.9 680.2h1M388.7 702.7h1M399.1 690.4h1M391.0 694.8h1M400.6 690.4h1M387.6 712.6h1M400.6 688.7h1M372.4 705.6h1M387.1 693.7h1M401.6 687.1h1M399.6 688.3h1M401.6 689.3h1M412.6 685.9h1M393.4 704.2h1M396.4 693.1h1M389.6 698.0h1M380.4 703.1h1M403.5 696.1h1M394.3 714.7h1M393.2 692.0h1M392.7 696.5h1M408.6 696.3h1M386.1 702.7h1M395.1 709.7h1M401.5 691.7h1M405.4 700.8h1M400.9 698.2h1M398.6 697.7h1M394.8 692.3h1M402.0 691.1h1M386.4 713.8h1M394.7 693.5h1M389.7 700.3h1M395.4 692.4h1M409.2 686.4h1M387.3 716.1h1M403.1 698.0h1M397.7 696.4h1M392.9 691.6h1M380.9 713.7h1M387.9 687.5h1M394.0 675.3h1M388.2 709.3h1M390.9 694.7h1M414.8 695.1h1M402.5 693.5h1M395.1 714.1h1M399.5 698.9h1M396.4 705.5h1M400.5 696.4h1M389.1 696.0h1M400.2 698.4h1M401.6 686.8h1M371.8 696.8h1M390.3 696.9h1M382.8 708.5h1M394.5 690.2h1M403.9 694.3h1M392.4 697.3h1M392.6 705.0h1M375.1 714.1h1M402.3 697.1h1M419.4 688.3h1M400.0 701.2h1M403.0 681.6h1M381.0 695.6h1M407.9 695.8h1M371.9 718.3h1M408.5 699.2h1M381.4 706.1h1M402.9 704.8h1M387.8 715.5h1M404.6 691.7h1M389.5 698.3h1M396.3 685.8h1M400.3 702.9h1M402.0 698.1h1M423.1 687.6h1M392.9 708.8h1M396.6 698.7h1M414.4 707.9h1M386.8 714.0h1M390.9 714.9h1M388.8 696.6h1M394.5 702.6h1M395.2 711.5h1M406.2 686.7h1M401.3 692.0h1M385.4 694.4h1M393.9 705.1h1M394.5 699.8h1M387.8 682.3h1M403.8 712.5h1M384.6 694.1h1M404.1 699.9h1M404.9 703.1h1M383.6 700.8h1M393.6 709.2h1M390.0 682.7h1M408.2 686.2h1M390.7 694.3h1M385.9 709.4h1M396.9 698.1h1M399.7 688.7h1M385.3 715.2h1M393.0 692.7h1M383.5 698.5h1M374.1 715.4h1M391.7 711.9h1M399.6 694.2h1M385.4 701.0h1M392.4 694.1h1M413.4 683.4h1M410.0 698.8h1M392.5 699.4h1M411.4 667.4h1M404.1 687.2h1M405.8 695.4h1M382.4 701.8h1M382.3 682.2h1M380.2 700.7h1M375.8 698.1h1M402.1 710.3h1M406.5 709.9h1M391.7 707.0h1M381.5 703.1h1M394.6 706.0h1M383.1 716.5h1M403.0 698.8h1M391.3 701.5h1M396.7 710.2h1M386.3 699.4h1M382.3 708.8h1M397.2 689.9h1M409.1 702.6h1M402.6 700.7h1M409.7 706.5h1M400.0 689.9h1M388.7 693.9h1M399.3 698.9h1M393.5 692.9h1M392.8 708.8h1M384.6 702.8h1M399.9 690.0h1M391.4 703.4h1M400.2 707.0h1M391.8 707.5h1M401.0 697.4h1M376.7 692.0h1M388.5 694.2h1M401.7 689.9h1M397.1 695.1h1M372.1 706.3h1M387.0 709.0h1M391.7 702.3h1M385.3 702.7h1M396.8 691.7h1M414.8 695.0h1M409.5 705.7h1M384.2 698.8h1M400.1 704.3h1M393.9 697.6h1M395.2 685.7h1M400.5 686.8h1M408.3 682.5h1M385.4 717.7h1M391.8 708.2h1M397.0 706.6h1M406.9 694.0h1M396.4 700.5h1M391.0 689.0h1M388.9 699.9h1M396.3 696.0h1M402.9 699.4h1M395.3 706.9h1M414.9 677.9h1M396.2 703.5h1M390.7 706.4h1M406.9 700.2h1M402.9 699.6h1M408.9 702.1h1M392.5 703.1h1M393.7 692.4h1M393.2 707.4h1M393.2 708.9h1M399.6 701.6h1M386.4 696.8h1M405.3 700.6h1M388.0 690.6h1M384.7 708.1h1M385.7 719.2h1M380.5 708.6h1M391.2 690.9h1M400.2 702.9h1M393.2 690.5h1M401.3 702.7h1M390.6 678.8h1M395.6 692.1h1M395.6 710.9h1M393.5 706.6h1M411.6 670.8h1M405.2 681.5h1M388.5 699.6h1M389.9 705.8h1M389.2 698.3h1M402.2 689.1h1M371.8 709.2h1M388.8 688.4h1M415.8 693.4h1M392.9 699.5h1M385.4 709.8h1M372.2 719.5h1M396.4 686.6h1M395.9 703.4h1M391.3 719.1h1M388.3 715.3h1M405.5 684.4h1M377.8 707.4h1M407.7 686.5h1M390.1 684.2h1M403.7 695.9h1M396.0 687.5h1M387.5 701.4h1M400.8 681.2h1M402.1 697.5h1M386.1 707.1h1M398.4 681.0h1M397.0 692.4h1M397.7 704.1h1M395.8 693.7h1M398.7 694.3h1M397.6 704.6h1M402.6 692.7h1M396.3 702.6h1M393.9 696.8h1M409.8 706.9h1M388.8 693.5h1M392.3 680.5h1M411.4 696.7h1M414.2 696.7h1M374.2 698.3h1M404.2 693.2h1M400.3 699.3h1M386.5 688.4h1M400.5 695.3h1M405.0 697.1h1M378.9 700.1h1M390.5 702.3h1M381.3 683.7h1M401.0 682.7h1M399.0 705.8h1M403.8 701.5h1M405.5 679.7h1M389.1 705.8h1M409.3 687.4h1M381.2 701.6h1M410.2 694.9h1M379.9 699.4h1M400.4 704.6h1M401.6 709.5h1M396.9 702.0h1M398.1 706.1h1M395.0 706.6h1M402.1 690.1h1M400.1 696.2h1M396.2 696.8h1M397.2 699.4h1M382.4 695.7h1M395.5 690.7h1M393.3 686.8h1M403.3 696.3h1M399.3 696.6h1M392.0 703.3h1M381.2 707.9h1M404.1 701.4h1M401.7 695.9h1M406.4 700.1h1M375.8 702.0h1M381.6 699.8h1M412.7 683.5h1M403.4 684.4h1M379.5 695.8h1M392.8 693.2h1M372.7 701.8h1M395.1 694.2h1M382.8 689.3h1M387.8 708.4h1M405.4 713.6h1M393.7 692.7h1M384.5 709.8h1M389.5 696.9h1M381.9 703.5h1M400.8 687.2h1M398.8 693.1h1M399.8 687.0h1M388.2 693.2h1M394.6 693.1h1M382.4 702.4h1M403.5 700.7h1M395.1 695.6h1M407.1 683.1h1M418.1 695.3h1M398.6 699.8h1M411.7 676.9h1M386.7 702.8h1M392.4 705.9h1M398.3 688.5h1M383.3 718.1h1M386.8 690.9h1M386.8 697.5h1M400.4 694.1h1M380.1 719.6h1M409.7 691.4h1M378.8 709.6h1M398.9 694.7h1M404.5 708.9h1M393.1 697.5h1M397.1 698.9h1M393.3 713.0h1M405.2 704.5h1M382.4 709.2h1M391.6 684.2h1M409.2 677.8h1M383.5 683.2h1M383.7 706.7h1M409.1 700.3h1M398.0 704.9h1M391.5 699.2h1M393.6 690.7h1M407.8 678.3h1M396.9 698.3h1M379.7 693.4h1M398.8 688.7h1M396.4 693.4h1M395.0 693.5h1M392.9 706.8h1M379.8 696.2h1M399.0 699.9h1M401.9 696.9h1M372.4 718.2h1M387.9 700.4h1M382.3 710.6h1M396.5 686.8h1M400.3 704.9h1M401.3 677.3h1M402.0 700.1h1M417.7 693.9h1M412.4 691.9h1M377.7 688.9h1M406.6 697.9h1M396.9 709.7h1M394.3 699.8h1M398.1 697.1h1M390.3 700.1h1M399.6 707.6h1M395.3 701.6h1M400.5 687.3h1M385.6 703.5h1M391.9 690.6h1M389.6 685.2h1M405.8 697.4h1M406.7 671.6h1M394.6 700.6h1M388.0 709.3h1M394.8 702.0h1M394.6 695.6h1M390.6 700.5h1M407.9 690.8h1M387.8 695.6h1M403.3 707.1h1M401.1 699.1h1M402.2 685.1h1M390.8 704.6h1M398.6 714.0h1M390.3 708.2h1M410.4 682.4h1M393.8 704.7h1M399.0 699.3h1M409.7 702.3h1M385.9 695.9h1M386.5 700.1h1M402.3 696.4h1M404.1 699.3h1M389.4 682.9h1M390.1 689.3h1M382.4 700.8h1M413.6 684.6h1M402.5 700.4h1M395.5 689.8h1M413.1 689.4h1M414.3 691.5h1M394.2 698.5h1M390.6 694.0h1M400.9 688.0h1M401.8 684.9h1M378.0 703.5h1M405.7 686.2h1M413.8 700.1h1M393.9 709.6h1M392.5 698.8h1M399.3 695.5h1M407.0 682.1h1M385.1 688.3h1M392.1 697.3h1M384.4 708.5h1M381.5 695.5h1M409.8 685.4h1M397.2 671.5h1M395.4 698.3h1M393.6 704.6h1M392.8 699.4h1M388.0 699.7h1M394.8 706.7h1M388.6 691.4h1M391.4 694.3h1M392.4 710.7h1M390.7 716.5h1M406.6 692.7h1M394.1 699.5h1M387.0 706.9h1M399.9 692.9h1M390.5 704.8h1M382.4 698.8h1M385.8 686.8h1M385.5 707.7h1M407.2 683.9h1M389.7 705.7h1M396.6 691.1h1M388.8 710.6h1M377.9 693.4h1M395.0 700.9h1M386.8 693.2h1M405.9 694.3h1M383.5 706.6h1M392.5 709.6h1M403.8 685.5h1M388.1 701.0h1M390.5 705.0h1M392.5 715.0h1M385.2 689.7h1M389.9 695.6h1M390.0 694.6h1M386.5 705.9h1M394.4 695.2h1M381.2 709.3h1M408.2 690.2h1M395.1 708.4h1M394.4 705.9h1M391.0 692.8h1M408.6 679.0h1M401.9 706.0h1M396.6 697.6h1M404.7 684.2h1M394.0 701.4h1M396.5 682.5h1M397.3 692.8h1M408.0 710.2h1M381.2 707.2h1M391.6 678.0h1M400.9 716.7h1M390.8 715.4h1M409.3 695.8h1M396.8 713.0h1M378.1 704.2h1M385.8 706.7h1M395.8 700.7h1M399.9 715.0h1M409.3 692.3h1M392.7 711.1h1M398.9 705.5h1M405.4 670.1h1M395.9 701.1h1M378.6 716.4h1M398.7 687.4h1M386.8 701.3h1M395.7 693.3h1M398.1 708.2h1M396.5 696.8h1M413.4 699.4h1M391.5 699.7h1M389.5 699.4h1M391.5 692.1h1M401.6 691.5h1M386.9 697.0h1M385.3 701.5h1M393.1 691.1h1M404.1 695.8h1M403.1 695.3h1M400.8 681.7h1M392.1 708.2h1M390.0 703.6h1M381.0 688.8h1M400.7 687.8h1M398.8 695.2h1M398.6 692.4h1M394.5 707.7h1M402.6 696.0h1M401.0 696.4h1M398.1 687.9h1M393.2 711.8h1M396.3 701.5h1M410.2 701.2h1M412.6 699.4h1M411.4 680.8h1M400.1 696.4h1M379.8 708.2h1M397.6 698.4h1M399.6 696.3h1M411.5 687.1h1M396.0 682.8h1M393.5 703.9h1M399.7 701.9h1M396.6 699.5h1M390.5 714.8h1M385.7 700.8h1M382.6 712.9h1M392.3 699.0h1M382.4 718.3h1M389.4 710.8h1M395.6 697.9h1M393.8 692.5h1M400.2 702.0h1M418.1 673.2h1M393.2 691.1h1M390.9 688.4h1M385.9 709.5h1M390.0 698.0h1M403.6 696.4h1M398.4 695.6h1M396.4 693.5h1M408.2 690.8h1M389.4 697.7h1M397.8 691.5h1M410.5 694.6h1M401.4 696.5h1M385.4 698.7h1M400.6 697.0h1M390.4 688.3h1M387.3 706.6h1M371.1 702.3h1M408.9 689.4h1M392.0 683.1h1M391.1 703.2h1M387.9 702.9h1M389.4 696.0h1M390.7 712.7h1M407.3 704.1h1M384.6 692.9h1M385.8 700.3h1M403.2 707.6h1M381.3 712.7h1M390.6 696.2h1M403.7 679.2h1M404.0 712.1h1M406.6 685.2h1M398.3 701.3h1M385.7 716.7h1M394.4 708.3h1M393.9 694.2h1M391.1 705.8h1M400.2 707.0h1M379.9 690.1h1M402.8 692.7h1M407.4 697.7h1M393.3 701.2h1M391.7 691.5h1M397.4 692.8h1M394.4 696.7h1M382.6 702.8h1M398.3 688.1h1M401.8 689.7h1M416.0 667.0h1M406.5 707.5h1M397.7 688.5h1M394.4 715.8h1M393.2 703.1h1M395.7 694.6h1M398.5 709.1h1M412.0 678.5h1M392.2 696.8h1M405.7 688.3h1M388.6 696.6h1M395.9 703.0h1M399.6 686.4h1M395.3 689.7h1M407.4 683.2h1M392.1 709.7h1M400.8 710.7h1M396.7 703.9h1M388.0 700.5h1M410.1 695.0h1M395.1 689.3h1M404.5 711.5h1M399.1 710.3h1M400.1 688.7h1M402.3 689.8h1M398.0 708.4h1M396.9 698.6h1M383.3 698.5h1M395.5 684.8h1M403.1 701.3h1M397.4 690.7h1M384.9 695.0h1M396.7 694.0h1M380.7 704.9h1M386.6 690.6h1M392.5 698.6h1M400.0 681.6h1M395.1 703.4h1M400.5 688.6h1M387.3 700.7h1M394.4 702.9h1M378.6 701.1h1M394.8 700.6h1M402.6 677.5h1M392.6 693.9h1M391.2 691.5h1M393.2 704.5h1M396.9 698.6h1M390.0 718.5h1M381.0 709.0h1M398.0 703.6h1M390.2 704.7h1M386.0 700.4h1M406.4 692.6h1M409.7 697.1h1M387.3 703.5h1M386.7 703.4h1M406.5 681.8h1M403.3 676.0h1M386.2 707.5h1M391.3 715.1h1M386.7 689.9h1M397.5 682.2h1M388.9 695.3h1M383.0 701.6h1M393.4 695.4h1M398.9 687.9h1M393.8 682.3h1M382.6 707.3h1M385.4 707.8h1M410.4 694.2h1M391.2 695.8h1M407.7 680.2h1M386.0 714.9h1M402.2 699.2h1M392.4 693.4h1M390.2 694.3h1M389.0 702.3h1M381.0 698.2h1M395.5 697.0h1M392.9 694.9h1M401.6 687.7h1M400.1 691.1h1M405.9 702.0h1M404.3 713.3h1M394.3 694.4h1M395.8 686.1h1M397.4 693.5h1M409.3 670.4h1M399.2 691.1h1M396.7 717.4h1M380.8 704.9h1M384.7 704.7h1M377.7 707.8h1M400.7 688.8h1M403.9 701.4h1M393.2 712.5h1M395.2 699.7h1M398.2 695.2h1M378.5 710.5h1M395.7 686.9h1M421.5 680.4h1M397.5 710.3h1M414.8 688.5h1M400.1 697.8h1M387.6 703.4h1M386.0 711.3h1M411.7 682.5h1M397.4 691.3h1M410.6 686.4h1M393.2 702.9h1M407.3 688.3h1M394.1 687.3h1M392.4 716.0h1M405.1 681.3h1M401.4 683.1h1M412.9 689.4h1M392.7 709.3h1M391.7 697.8h1M400.1 704.7h1M402.1 705.7h1M376.5 694.9h1M381.8 700.0h1M396.4 687.5h1M401.6 677.6h1M392.9 692.5h1M390.3 703.3h1M398.0 717.1h1M401.0 689.7h1M395.1 698.8h1M396.1 687.9h1M387.8 714.0h1M382.9 695.3h1M407.3 689.2h1M383.9 709.1h1M405.9 682.8h1M386.4 693.7h1M408.7 676.0h1M382.7 705.2h1M387.2 704.2h1M399.5 686.0h1M406.3 687.5h1M409.6 698.2h1M413.4 684.3h1M407.0 692.9h1M405.0 679.3h1M411.9 698.4h1M383.7 706.9h1M404.7 683.8h1M407.0 678.9h1M387.9 699.4h1M390.4 681.5h1M395.7 702.5h1M396.0 699.8h1M396.9 693.0h1M395.9 706.7h1M407.4 697.1h1M400.9 712.9h1M389.4 695.9h1M402.6 692.8h1M401.3 691.3h1M403.8 702.1h1M402.4 688.9h1M404.3 698.3h1M400.8 691.0h1M408.2 684.9h1M402.1 700.8h1M400.7 706.2h1M406.5 694.9h1M418.2 688.9h1M403.6 684.0h1M394.3 704.1h1M390.0 694.6h1M400.8 690.8h1M388.6 707.1h1M394.8 687.6h1M408.6 695.7h1M389.5 704.0h1M405.2 692.7h1M384.3 679.3h1M397.4 696.0h1M396.6 698.1h1M389.4 696.8h1M407.4 680.7h1M389.1 692.4h1M402.5 710.2h1M390.0 705.3h1M384.6 690.9h1M410.5 683.1h1M411.4 679.7h1M394.0 696.5h1M402.0 686.6h1M385.9 693.9h1M412.0 672.9h1M382.5 701.1h1M384.4 701.2h1M397.2 697.6h1M400.8 683.9h1M401.0 694.1h1M395.8 689.4h1M389.0 695.0h1M413.2 696.2h1M390.6 688.0h1M391.2 703.0h1M399.6 709.4h1M395.7 709.7h1M392.2 698.7h1M407.3 685.2h1M419.7 682.8h1M412.3 683.0h1M394.1 692.9h1M397.7 703.9h1M407.9 698.7h1M397.9 687.5h1M383.6 711.5h1M389.5 698.0h1M404.7 684.4h1M388.7 696.9h1M381.6 702.3h1M402.3 697.4h1M405.1 695.8h1M391.3 697.6h1M390.1 693.6h1M391.1 713.2h1M400.0 696.7h1M377.2 706.8h1M387.2 700.8h1M392.8 696.6h1M382.2 687.1h1M401.2 701.0h1M397.7 697.7h1M379.7 705.2h1M383.3 708.1h1M395.5 692.1h1M400.6 676.8h1M393.7 713.3h1M388.7 702.0h1M397.7 686.3h1M402.5 705.4h1M396.9 687.5h1M388.0 703.9h1M409.6 698.5h1M401.9 705.4h1M403.5 713.1h1M398.8 703.0h1M403.7 696.7h1M378.4 713.2h1M414.2 694.2h1M387.3 715.6h1M380.6 714.2h1M379.0 718.4h1M404.6 698.9h1M404.9 687.0h1M384.6 717.2h1M391.8 705.8h1M388.0 718.8h1M392.9 715.8h1M404.9 686.0h1M388.7 697.1h1M379.9 697.4h1M389.7 707.4h1M398.3 696.9h1M404.0 692.6h1M396.3 697.6h1M382.3 711.5h1M407.4 705.8h1M391.4 719.0h1M397.3 706.1h1M393.8 700.6h1M399.2 705.2h1M392.2 703.7h1M401.7 704.4h1M401.8 682.1h1M412.1 682.9h1M403.2 687.5h1M392.7 694.8h1M377.4 701.6h1M392.8 715.0h1M394.0 694.3h1M401.2 701.6h1M395.4 703.2h1M380.9 698.1h1M414.8 678.9h1M381.2 690.5h1M388.6 717.6h1M413.3 703.7h1M422.0 700.3h1M404.3 676.8h1M408.6 687.8h1M397.8 685.8h1M396.4 682.7h1M412.5 703.6h1M395.5 684.4h1M397.1 692.8h1M392.2 706.7h1M403.0 695.3h1M407.7 699.3h1M400.2 698.5h1M396.6 677.7h1M381.8 709.2h1M400.0 702.0h1M394.3 686.5h1M406.7 688.3h1M395.3 690.9h1M395.2 691.6h1M387.3 704.4h1M391.8 701.0h1M396.7 696.4h1M392.6 691.7h1M399.6 704.5h1M392.9 712.9h1M397.5 707.4h1M383.3 704.0h1M391.9 685.1h1M381.5 710.8h1M414.8 664.6h1M392.7 712.3h1M400.9 690.4h1M372.4 709.5h1M409.9 703.4h1M381.3 707.6h1M399.6 685.1h1M381.6 697.5h1M404.2 683.8h1M393.9 696.8h1M403.9 712.5h1M398.7 705.4h1M419.1 665.3h1M411.8 692.7h1M411.4 701.2h1M403.3 691.6h1M392.2 698.7h1M392.5 706.1h1M400.4 706.4h1M398.2 696.5h1M406.1 698.4h1M382.2 715.3h1M393.5 690.5h1M391.1 692.0h1M394.3 689.9h1M385.0 698.2h1M403.5 694.5h1M396.4 701.3h1M398.9 693.1h1M402.1 701.0h1M374.9 702.1h1M395.3 711.0h1M399.2 677.0h1M398.0 699.3h1M396.3 698.3h1M403.9 701.6h1M379.9 695.1h1M397.8 682.2h1M413.8 682.9h1M396.6 706.8h1M389.1 692.4h1M400.1 686.8h1M402.6 698.2h1M401.9 694.6h1M389.4 691.6h1M378.7 690.3h1M390.7 707.4h1M404.5 679.2h1M397.8 693.4h1M397.8 691.2h1M393.1 713.1h1M389.7 692.2h1M406.5 697.9h1M397.3 715.7h1M402.5 691.2h1M403.5 691.2h1M391.9 708.4h1M383.4 707.9h1M391.4 694.0h1M396.2 687.8h1M401.5 686.7h1M393.0 697.0h1M396.1 713.2h1M383.5 701.8h1M402.3 719.8h1M396.0 706.9h1M401.6 688.1h1M399.3 706.7h1M400.8 693.4h1M396.2 686.8h1M385.0 694.8h1M410.8 684.5h1M406.0 686.9h1M407.9 683.9h1M383.0 706.3h1M402.6 688.7h1M394.9 691.6h1M386.5 710.5h1M409.2 695.6h1M402.9 694.1h1M395.2 690.4h1M400.8 697.9h1M403.8 698.0h1M385.9 689.0h1M393.6 699.6h1M381.2 704.5h1M381.3 706.4h1M382.4 700.7h1M396.6 693.6h1M396.9 695.1h1M379.9 698.2h1M393.8 697.6h1M382.5 712.6h1M402.6 683.3h1M396.8 689.5h1M387.1 692.4h1M410.3 689.7h1M405.5 688.6h1M387.4 705.8h1M407.4 712.3h1M390.6 701.1h1M382.8 699.0h1M406.6 699.2h1M390.3 687.5h1M393.9 718.6h1M382.4 705.5h1M384.8 697.8h1M398.1 688.1h1M394.1 696.1h1M391.7 700.1h1M377.6 708.7h1M412.1 688.6h1M380.1 710.9h1M389.6 696.9h1M392.7 709.7h1M390.1 694.6h1M399.5 690.2h1M394.1 705.6h1M396.1 702.5h1M396.6 711.1h1M396.7 699.6h1M391.2 706.7h1M377.7 695.4h1M409.8 688.5h1M400.6 709.1h1M387.9 709.2h1M385.0 698.9h1M407.0 691.2h1M386.0 697.7h1M402.0 703.0h1M404.9 671.5h1M380.4 699.3h1M404.4 684.3h1M380.4 671.7h1M379.0 714.3h1M409.2 690.3h1M394.1 696.1h1M402.5 700.0h1M402.0 687.7h1M403.9 711.5h1M402.4 702.4h1M393.2 696.0h1M415.6 688.2h1M393.6 692.9h1M402.6 707.9h1M387.2 683.4h1M390.0 703.3h1M388.4 698.8h1M406.0 701.6h1M384.3 705.9h1M393.3 702.2h1M396.1 702.2h1M385.9 706.1h1M379.3 700.6h1M385.2 698.1h1M398.6 707.1h1M389.9 712.3h1M391.3 698.5h1M382.9 700.1h1M417.5 690.7h1M401.7 701.0h1M379.4 700.0h1M398.2 684.8h1M404.9 691.3h1M387.4 695.6h1M406.5 696.0h1M405.6 676.7h1M407.2 691.7h1M399.2 708.5h1M383.9 700.3h1M402.3 699.3h1M401.8 681.8h1M398.7 696.7h1M402.3 682.2h1M391.8 699.0h1M411.4 691.3h1M382.0 694.2h1M393.3 674.3h1M392.2 710.4h1M400.1 678.4h1M389.4 710.9h1M382.5 699.4h1M384.0 695.0h1M385.9 675.0h1M404.4 697.0h1M391.6 702.6h1M393.1 696.1h1M397.3 703.2h1M400.5 694.9h1M410.6 690.4h1M382.1 717.1h1M390.0 691.2h1M396.3 698.4h1M394.1 686.3h1M392.9 703.4h1M410.8 694.7h1M406.9 705.6h1M404.4 701.1h1M403.4 699.6h1M385.0 688.8h1M388.0 706.3h1M407.6 689.7h1M391.1 712.6h1M405.4 695.1h1M393.9 681.7h1M406.9 695.8h1M394.1 698.9h1M392.4 703.7h1M394.8 696.1h1M402.3 682.3h1M395.5 692.3h1M405.6 712.0h1M399.8 706.5h1M405.8 693.1h1M395.1 712.7h1M398.6 702.8h1M377.5 707.2h1M406.4 686.3h1M390.7 703.0h1M400.7 685.6h1M396.0 703.3h1M382.2 711.2h1M377.5 714.9h1M401.6 706.8h1M373.9 708.3h1M392.1 700.5h1M386.5 713.3h1M393.4 697.9h1M384.1 698.8h1M376.6 703.7h1M387.7 701.7h1M377.7 703.6h1M400.6 692.0h1M393.7 690.0h1M390.3 701.4h1M390.1 707.4h1M383.0 700.2h1M400.1 705.2h1M377.8 709.7h1M390.6 699.6h1M395.4 696.3h1M399.5 693.8h1M403.0 699.2h1M377.6 710.9h1M394.4 680.6h1M380.7 696.4h1M402.3 697.9h1M394.6 685.4h1M396.4 697.5h1M398.1 701.6h1M397.2 692.9h1M395.3 672.4h1M402.3 699.8h1M397.0 689.0h1M396.5 693.1h1M395.5 706.6h1M400.2 695.2h1M396.2 698.0h1M393.8 694.9h1M400.5 690.9h1M395.4 701.2h1M393.4 700.1h1M408.2 695.6h1M396.3 693.2h1M387.3 702.4h1M396.8 708.0h1M385.9 713.0h1M393.4 700.1h1M403.7 700.9h1M399.3 689.4h1M394.8 696.2h1M405.9 685.1h1M407.0 693.6h1M389.2 701.9h1M399.2 686.1h1M406.6 691.0h1M404.9 689.4h1M389.5 707.0h1M401.2 695.3h1M380.8 713.7h1M402.8 680.7h1M380.7 702.7h1M399.7 697.1h1M381.8 706.5h1M399.2 700.7h1M393.3 692.6h1M387.5 709.3h1M397.2 697.6h1M398.6 702.6h1M399.0 704.9h1M382.3 713.9h1M402.9 689.2h1M401.2 688.7h1M398.4 692.5h1M383.0 710.8h1M393.2 714.3h1M380.5 708.8h1M387.3 691.4h1M387.2 695.5h1M399.1 701.8h1M411.4 669.6h1M375.9 694.2h1M397.2 693.3h1M404.3 697.5h1M389.4 695.2h1M412.2 681.5h1M384.8 694.4h1M398.8 698.8h1M402.0 681.7h1M397.2 688.5h1M396.1 683.6h1M386.5 698.9h1M395.1 677.8h1M398.5 689.9h1M395.9 703.3h1M409.1 701.5h1M405.5 702.1h1M381.7 699.0h1M394.3 698.1h1M407.1 697.4h1M402.3 698.0h1M380.2 716.5h1M398.1 695.9h1M382.1 689.3h1M401.3 702.6h1M381.8 689.1h1M397.5 690.3h1M407.1 696.8h1M395.9 674.2h1M410.9 688.0h1M384.2 706.3h1M391.1 705.3h1M411.9 679.9h1M405.3 685.0h1M398.4 701.4h1M412.8 690.6h1M399.4 693.1h1M390.8 694.9h1M379.1 689.6h1M389.6 706.1h1M396.3 710.3h1M381.6 699.9h1M393.3 709.8h1M386.5 706.6h1M406.2 702.8h1M391.7 698.4h1M404.8 691.6h1M401.7 695.5h1M405.2 697.3h1M399.9 692.8h1M400.9 694.2h1M425.1 687.5h1M396.7 694.7h1M376.4 706.7h1M399.6 699.9h1M393.7 709.4h1M399.7 690.2h1M385.2 713.4h1M391.3 694.9h1M384.0 697.4h1M401.8 699.9h1M394.6 705.5h1M405.1 700.7h1M377.5 706.1h1M391.1 716.0h1M411.1 694.2h1M386.5 711.6h1M393.9 693.6h1M406.5 694.8h1M395.8 691.2h1M388.3 717.5h1M388.7 687.8h1M408.9 688.0h1M394.0 699.2h1M416.5 676.3h1M398.3 699.1h1M399.0 699.7h1M398.3 718.9h1M398.8 708.1h1M395.5 691.4h1M393.0 684.3h1M416.9 675.0h1M408.9 687.4h1M392.6 693.7h1M389.7 692.3h1M394.3 700.2h1M373.6 693.2h1M397.0 708.6h1M398.3 685.6h1M411.4 683.2h1M393.0 698.4h1M387.2 719.1h1M391.1 702.6h1M387.8 695.8h1M393.8 698.1h1M398.9 687.9h1M405.4 700.8h1M399.3 692.2h1M407.2 692.5h1M401.8 699.3h1M384.2 705.6h1M402.5 683.5h1M408.2 682.5h1M378.2 713.0h1M403.3 700.8h1M392.4 711.4h1M406.7 702.0h1M398.4 694.3h1M393.5 693.6h1M393.4 714.5h1M389.6 711.6h1M394.6 708.4h1M413.6 674.5h1M389.3 698.0h1M392.5 695.2h1M397.7 694.3h1M396.5 697.6h1M398.7 674.0h1M412.1 689.0h1M403.6 709.5h1M385.7 705.1h1M396.6 702.1h1M380.6 700.0h1M409.5 686.4h1M392.8 688.7h1M396.2 700.6h1M399.8 714.5h1M393.4 706.1h1M382.5 703.1h1M390.4 702.4h1M407.6 691.9h1M401.2 701.8h1M399.9 700.3h1M389.0 710.1h1M396.0 691.4h1M396.8 703.9h1M404.6 692.6h1M387.1 708.3h1M398.1 712.7h1M393.5 696.8h1M381.6 700.3h1M378.8 685.2h1M394.4 699.6h1M407.6 687.5h1M399.6 695.3h1M386.2 699.8h1M394.4 695.9h1M396.5 701.4h1M384.2 699.9h1M399.8 688.1h1M406.3 685.6h1M397.5 696.8h1M393.7 693.3h1M395.7 697.6h1M401.9 674.5h1M397.6 697.8h1M387.6 707.6h1M391.1 701.5h1M408.4 704.5h1M387.8 709.5h1M397.0 721.7h1M404.6 688.2h1M398.6 699.6h1M396.7 682.6h1M396.6 689.4h1M396.3 705.5h1M403.6 690.1h1M392.6 682.9h1M402.2 699.6h1M398.8 691.3h1M379.2 707.6h1M402.4 706.0h1M396.7 705.3h1M380.9 716.3h1M411.8 683.9h1M385.5 704.7h1M403.6 691.1h1M373.5 717.0h1M406.7 692.5h1M403.4 687.2h1M387.4 688.7h1M402.0 686.3h1M403.7 694.9h1M391.3 695.9h1M391.2 680.4h1M398.6 693.8h1M401.0 684.0h1M390.5 691.5h1M389.5 700.7h1M397.1 684.7h1M391.6 714.8h1M406.6 696.7h1M395.7 693.1h1M392.5 693.9h1M381.8 692.5h1M390.1 712.1h1M387.3 686.5h1M399.5 694.8h1M393.2 697.0h1M384.9 713.2h1M408.4 686.8h1M397.2 696.7h1M396.4 698.9h1M375.1 700.3h1M398.6 698.5h1M375.8 713.3h1M399.5 685.8h1M393.6 703.8h1M382.5 708.6h1M405.8 710.5h1M409.4 686.3h1M407.3 679.8h1M400.5 701.1h1M385.2 701.7h1M390.1 695.3h1M408.6 693.4h1M394.9 702.6h1M394.0 708.7h1M384.8 697.0h1M388.7 692.9h1M391.0 698.4h1M397.6 694.8h1M390.2 693.7h1M409.1 693.4h1M396.2 685.1h1M382.9 702.5h1M398.5 701.3h1M394.9 701.1h1M392.8 694.1h1M391.4 696.7h1M400.6 707.5h1M393.7 700.5h1M405.1 676.6h1M396.0 697.3h1M395.4 693.2h1M388.4 702.1h1M385.5 701.9h1M398.1 692.0h1M391.3 697.1h1M402.2 689.8h1M388.5 705.8h1M406.5 684.2h1M407.5 682.8h1M407.0 701.3h1M398.9 704.1h1M400.1 706.2h1M398.0 703.1h1M406.0 690.8h1M374.6 704.1h1M387.7 709.0h1M408.8 683.5h1M401.3 685.8h1M400.7 700.6h1M392.6 700.3h1M400.2 706.1h1M400.3 687.6h1M382.2 698.7h1M384.3 691.1h1M411.3 696.5h1M384.2 702.3h1M398.9 689.6h1M383.7 702.2h1M399.0 705.5h1M384.8 695.5h1M401.4 696.3h1M382.2 704.0h1M391.2 705.7h1M404.5 696.3h1M395.6 697.1h1M397.1 695.6h1M385.7 698.1h1M396.1 703.0h1M400.4 706.9h1M385.5 689.0h1M392.5 704.4h1M373.0 706.6h1M406.9 677.1h1M382.6 687.9h1M377.1 700.7h1M392.3 700.6h1M405.3 704.7h1M385.2 705.5h1M391.4 691.3h1M400.1 682.4h1M384.9 705.7h1M383.7 700.1h1M392.2 700.8h1M376.5 691.6h1M401.5 687.8h1M391.2 711.5h1M396.2 703.3h1M389.1 692.5h1M399.3 695.0h1M384.6 689.3h1M385.2 699.4h1M389.2 701.7h1M378.8 695.8h1M404.7 700.5h1M402.8 702.0h1M406.4 693.6h1M399.4 708.1h1M408.7 676.1h1M397.0 702.9h1M382.5 706.1h1M404.1 698.1h1M405.6 672.9h1M388.9 700.3h1M391.7 721.7h1M390.7 696.8h1M409.6 691.0h1M402.3 700.0h1M403.3 697.5h1M407.8 690.6h1M376.6 702.3h1M402.8 701.3h1M387.6 703.1h1M403.8 688.7h1M404.0 691.8h1M405.0 705.8h1M401.9 709.0h1M386.7 704.5h1M380.8 690.5h1M405.7 681.4h1M385.9 699.8h1M400.8 698.1h1M402.2 701.8h1M396.0 695.3h1M403.0 698.1h1M397.0 690.9h1M402.1 675.4h1M383.5 702.0h1M392.8 705.9h1M409.0 677.7h1M398.5 695.9h1M409.6 701.9h1M409.0 690.3h1M390.0 712.9h1M402.7 695.4h1M376.9 700.9h1M406.2 697.2h1M389.1 694.6h1M397.5 686.4h1M384.8 721.4h1M388.4 700.0h1M390.9 694.3h1M392.5 698.2h1M402.4 696.9h1M398.4 696.4h1M402.1 690.2h1M406.7 695.4h1M401.1 690.4h1M390.1 703.6h1M400.5 698.5h1M376.4 705.9h1M405.2 690.1h1M396.3 700.3h1M397.7 677.0h1M394.0 700.1h1M375.0 700.5h1M403.2 680.7h1M381.4 708.8h1M393.3 691.6h1M393.2 671.2h1M413.7 703.3h1M391.7 698.2h1M398.1 701.2h1M393.9 689.5h1M399.4 685.7h1M396.9 693.7h1M390.2 708.4h1M390.3 706.2h1M403.0 701.9h1M381.6 705.2h1M398.0 697.1h1M400.8 696.1h1M398.1 712.8h1M398.3 688.4h1M408.8 702.7h1M376.5 717.0h1M387.4 701.2h1M392.6 700.1h1M399.8 707.7h1M389.3 701.9h1M401.0 693.0h1M380.1 713.3h1M388.7 709.0h1M381.3 718.7h1M385.6 696.9h1M400.3 694.6h1M391.4 709.3h1M409.6 706.7h1M397.7 693.1h1M397.4 694.8h1M390.1 712.5h1M372.1 713.9h1M396.1 700.6h1M404.1 704.6h1M395.1 710.7h1M402.2 691.9h1M401.4 698.5h1M396.8 686.9h1M386.1 688.0h1M385.0 702.1h1M396.3 697.9h1M393.6 686.5h1M401.0 708.3h1M387.6 701.2h1M397.8 692.2h1M402.4 685.0h1M406.0 682.6h1M402.9 696.1h1M386.8 706.0h1M397.8 688.3h1M401.1 682.7h1M393.5 695.2h1M375.4 705.3h1M396.5 695.3h1M390.5 711.7h1M399.0 697.3h1M387.8 692.0h1M395.0 706.6h1M401.8 696.2h1M383.2 698.6h1M396.0 709.2h1M372.1 700.3h1M389.4 711.9h1M403.6 701.0h1M395.9 697.6h1M388.3 704.0h1M406.7 694.9h1M399.7 684.9h1M402.2 687.2h1M380.6 708.3h1M402.8 676.2h1M379.2 710.5h1M404.9 696.9h1M403.3 707.5h1M404.1 699.5h1M389.3 707.0h1M399.2 698.2h1M400.5 696.3h1M396.2 684.3h1M392.4 690.9h1M395.1 690.1h1M383.1 708.3h1M410.3 686.7h1M386.7 708.8h1M399.4 698.8h1M403.0 694.9h1M406.5 696.6h1M393.6 702.2h1M407.2 705.1h1M395.6 718.3h1M392.8 685.5h1M384.1 689.4h1M397.9 692.5h1M394.8 690.0h1M396.5 690.1h1M392.9 706.8h1M394.5 704.0h1M382.8 686.0h1M401.0 694.0h1M389.9 682.7h1M391.0 698.2h1M399.9 682.2h1M379.0 703.2h1M392.7 704.5h1M394.4 698.8h1M389.5 687.9h1M395.3 693.5h1M401.5 694.0h1M393.3 707.5h1M395.6 682.9h1M374.2 700.4h1M378.6 707.7h1M394.4 692.8h1M381.6 706.6h1M403.4 690.5h1M399.3 694.8h1M389.1 709.8h1M390.7 695.7h1M414.1 692.8h1M394.3 702.2h1M398.3 702.0h1M400.2 702.4h1M404.0 691.5h1M384.6 687.7h1M384.5 719.3h1M409.9 675.3h1M397.5 694.3h1M408.5 682.7h1M385.4 716.3h1M391.5 708.1h1M403.3 689.2h1M406.7 680.8h1M377.0 702.9h1M407.9 681.4h1M398.9 712.0h1M387.7 692.6h1M381.3 702.7h1M391.6 713.8h1M411.4 699.8h1M400.7 695.8h1M375.5 711.2h1M403.8 686.8h1M382.4 704.1h1M387.6 702.0h1M396.3 713.1h1M382.7 716.0h1M396.8 683.7h1M393.0 689.0h1M382.4 694.8h1M380.9 708.8h1M419.8 694.6h1M390.9 691.5h1M388.9 698.9h1M390.9 682.5h1M412.1 685.8h1M394.5 706.9h1M392.2 691.5h1M393.3 678.9h1M407.3 681.4h1M390.2 690.6h1M379.8 693.4h1M382.4 676.9h1M386.9 696.7h1M398.5 686.7h1M387.0 703.1h1M401.0 701.1h1M392.4 702.1h1M379.7 714.2h1M390.0 679.1h1M395.7 700.1h1M398.3 702.4h1M397.8 701.8h1M391.4 709.3h1M412.2 701.2h1M393.8 701.2h1M388.1 698.3h1M394.7 709.2h1M392.2 707.9h1M382.2 697.9h1M383.1 696.8h1M395.0 696.7h1M385.4 699.2h1M393.2 704.2h1M391.7 708.2h1M396.2 705.4h1M407.3 689.6h1M407.3 690.5h1M388.5 702.1h1M414.9 694.4h1M411.0 690.8h1M398.0 688.8h1M394.3 706.7h1M389.1 703.6h1M382.5 696.8h1M393.2 712.4h1M399.4 701.7h1M391.7 685.4h1M388.9 707.8h1M405.7 683.6h1M376.3 708.2h1M394.9 692.9h1M416.7 692.6h1M399.7 693.5h1M398.2 703.1h1M394.0 693.7h1M393.0 692.9h1M396.2 691.6h1M405.0 706.2h1M405.6 693.0h1M386.1 706.8h1M401.4 697.1h1M388.0 697.1h1M407.4 690.9h1M403.3 698.7h1M389.9 704.7h1M390.9 707.8h1M394.1 695.9h1M391.0 694.1h1M382.3 697.6h1M385.9 721.4h1M400.1 698.8h1M393.6 694.9h1M402.0 684.6h1M390.2 687.4h1M396.2 709.2h1M382.3 694.4h1M405.4 688.0h1M404.1 691.8h1M393.4 694.2h1M394.2 691.2h1M397.9 690.8h1M393.6 703.7h1M394.2 685.8h1M395.7 701.5h1M391.4 703.5h1M406.1 689.6h1M395.9 695.7h1M397.1 685.7h1M393.7 704.1h1M404.2 705.2h1M388.7 680.1h1M397.2 693.2h1M404.4 683.3h1M394.7 687.5h1M394.1 710.9h1M405.0 697.3h1M402.4 697.1h1M393.1 711.0h1M404.4 695.1h1M404.3 696.6h1M405.6 678.9h1M386.4 697.8h1M396.5 693.2h1M397.4 691.5h1M399.7 715.0h1M389.0 697.6h1M385.4 708.7h1M382.2 712.2h1M392.5 692.5h1M411.1 687.0h1M402.4 710.1h1M382.9 699.5h1M404.8 697.0h1M398.7 700.5h1M396.6 679.8h1M407.4 697.9h1M402.6 701.2h1M395.5 691.7h1M398.0 694.7h1M401.6 683.3h1M406.0 703.2h1M385.5 687.0h1M395.6 693.0h1M392.9 692.6h1M380.7 709.7h1M380.6 707.4h1M395.4 689.4h1M393.7 700.5h1M399.7 698.0h1M403.4 678.2h1M387.0 684.5h1M387.4 701.4h1M399.1 692.5h1M381.5 710.3h1M393.7 707.5h1M379.9 685.3h1M406.8 696.6h1M397.0 705.3h1M409.7 688.2h1M388.5 711.1h1M400.1 687.5h1M403.9 687.5h1M404.4 694.0h1M385.1 702.5h1M372.8 705.0h1M393.0 697.7h1M396.4 700.7h1M400.4 699.2h1M390.2 711.2h1M401.9 697.7h1M397.5 697.3h1M389.1 690.1h1M399.9 705.8h1M399.0 690.4h1M396.5 699.6h1M386.6 704.2h1M411.7 684.5h1M385.8 699.1h1M395.1 694.2h1M398.9 692.0h1M397.0 699.1h1M381.9 694.1h1M384.3 692.1h1M402.7 689.1h1M406.9 702.2h1M390.8 690.7h1M389.8 710.0h1M375.4 702.1h1M409.7 686.0h1M401.7 703.7h1M397.5 701.8h1M399.7 699.5h1M381.2 714.5h1M407.1 688.2h1M384.7 703.9h1M395.0 702.5h1M395.3 698.4h1M385.8 711.7h1M393.1 707.7h1M397.5 685.0h1M399.8 700.6h1M393.2 699.2h1M390.3 699.8h1M398.6 692.2h1M390.8 707.7h1M385.5 699.5h1M411.8 697.9h1M390.5 694.8h1M382.0 711.0h1M399.8 713.4h1M394.9 704.1h1M400.6 689.5h1M410.6 699.9h1M406.3 686.8h1M393.8 695.2h1M396.7 702.2h1M395.3 685.7h1M403.1 697.6h1M393.0 705.4h1M388.3 699.9h1M402.8 703.2h1M398.4 692.4h1M399.0 696.6h1M391.3 710.5h1M381.0 704.5h1M410.3 669.0h1M407.9 699.1h1M395.6 679.6h1M399.9 692.8h1M394.4 704.1h1M394.9 692.5h1M417.0 702.2h1M391.8 708.4h1M407.1 695.2h1M402.4 703.1h1M396.9 706.0h1M391.5 711.1h1M378.3 716.4h1M383.7 700.9h1M405.2 708.0h1M404.6 697.0h1M401.4 698.6h1M393.0 700.7h1M406.0 693.4h1M404.2 698.3h1M395.1 700.1h1M407.7 697.6h1M393.7 692.4h1M396.0 693.2h1M414.1 689.2h1M391.4 694.3h1M397.1 690.1h1M404.4 678.2h1M389.0 691.7h1M388.4 712.4h1M407.6 676.7h1M404.2 704.7h1M395.4 703.5h1M393.5 693.1h1M392.6 696.1h1M401.1 708.0h1M384.8 703.4h1M402.8 709.1h1M401.0 683.6h1M399.0 692.9h1M393.6 695.9h1M398.3 700.4h1M373.0 717.0h1M385.0 698.7h1M405.4 683.7h1M400.8 695.3h1M390.2 705.0h1M398.4 686.6h1M391.2 699.1h1M391.5 709.2h1M394.5 697.4h1M393.0 713.3h1M400.9 690.5h1M396.9 707.4h1M389.6 701.3h1M385.1 703.2h1M394.6 690.8h1M410.5 689.5h1M396.3 711.8h1M395.2 684.8h1M400.8 691.1h1M390.7 704.2h1M402.6 704.8h1M409.9 697.7h1M387.3 713.6h1M406.3 691.6h1M407.1 679.4h1M402.7 686.5h1M379.7 702.0h1M389.0 697.5h1M403.6 685.3h1M388.5 689.8h1M392.6 689.1h1M393.3 702.9h1M386.9 709.8h1M396.2 697.2h1M390.1 682.2h1M399.2 703.9h1M375.4 709.2h1M385.5 695.9h1M405.6 690.7h1M404.8 685.1h1M379.8 703.6h1M387.3 699.0h1M386.6 692.6h1M390.2 705.3h1M393.0 706.3h1M384.6 699.5h1M381.3 700.7h1M411.6 690.7h1M398.2 690.1h1M397.2 683.7h1M416.7 666.9h1M402.3 690.6h1M396.1 695.0h1M404.9 690.2h1M398.6 691.9h1M411.4 688.0h1M396.3 701.9h1M407.9 686.6h1M390.6 688.0h1M393.8 701.3h1M415.5 677.7h1M395.3 688.9h1M395.3 695.8h1M401.8 694.8h1M375.6 716.3h1M392.9 703.2h1M400.4 691.0h1M404.9 687.8h1M386.0 694.5h1M388.0 706.4h1M401.8 688.7h1M398.9 701.4h1M402.5 692.2h1M389.6 703.4h1M403.1 692.3h1M412.5 688.4h1M407.0 685.1h1M390.7 709.7h1M388.0 698.4h1M402.7 683.8h1M397.3 696.5h1M404.7 677.7h1M391.8 692.1h1M379.5 702.3h1M397.7 708.0h1M391.2 701.0h1M386.6 721.6h1M415.1 678.7h1M381.3 698.8h1M397.3 693.4h1M384.9 695.7h1M386.8 699.0h1M406.4 696.0h1M412.9 691.9h1M408.3 711.4h1M398.4 691.5h1M380.4 692.4h1M403.2 694.7h1M394.1 718.5h1M402.3 686.4h1M398.0 709.2h1M381.4 696.3h1M397.6 688.4h1M400.8 706.0h1M396.7 701.2h1M393.2 697.8h1M424.8 674.9h1M397.7 692.4h1M393.3 706.2h1M395.4 710.0h1M390.3 701.3h1M408.9 683.5h1M386.4 695.9h1M395.4 709.3h1M392.5 706.2h1M390.5 700.6h1M381.5 689.7h1M400.2 689.3h1M402.0 691.9h1M391.2 703.1h1M397.7 687.2h1M382.1 695.1h1M394.7 703.4h1M399.4 694.0h1M392.5 669.7h1M380.6 719.2h1M384.7 707.7h1M402.0 687.9h1M382.3 713.5h1M398.5 691.5h1M380.5 719.8h1M381.4 700.9h1M386.2 699.4h1M390.1 691.2h1M404.8 692.1h1M385.7 695.9h1M408.5 691.4h1M401.3 696.4h1M404.9 689.0h1M395.7 690.1h1M377.1 713.3h1M399.1 698.7h1M399.7 691.0h1M390.0 692.4h1M403.8 683.3h1M380.6 709.1h1M401.6 702.4h1M389.1 700.6h1M409.8 674.5h1M400.9 697.1h1M396.4 683.0h1M397.4 702.0h1M412.8 696.1h1M389.1 699.3h1M378.3 703.6h1M393.9 700.1h1M400.0 707.8h1M395.7 700.0h1M383.7 707.1h1M392.9 691.0h1M377.6 686.3h1M392.6 688.3h1M398.2 698.2h1M391.1 712.6h1M383.9 702.4h1M381.0 709.0h1M377.7 709.9h1M382.1 712.6h1M393.9 710.4h1M384.6 711.2h1M405.2 690.4h1M389.1 693.3h1M400.4 694.1h1M395.5 684.0h1M399.1 685.8h1M394.1 693.6h1M391.7 692.8h1M388.5 698.5h1M394.8 709.8h1M399.7 697.8h1M384.1 701.7h1M385.8 698.5h1M407.5 691.4h1M402.9 694.1h1M387.4 682.3h1M386.3 715.2h1M415.1 692.6h1M392.3 697.6h1M398.2 689.1h1M412.6 704.9h1M383.2 710.7h1M388.9 710.9h1M398.4 701.2h1M397.9 686.4h1M394.4 682.4h1M387.9 691.0h1M398.4 702.4h1M405.0 686.9h1M389.5 689.1h1M386.5 703.2h1M398.1 691.4h1M406.1 704.6h1M395.3 682.7h1M388.0 716.7h1M395.5 686.3h1M414.0 685.0h1M390.5 693.8h1M395.5 692.9h1M398.4 694.4h1M399.1 704.6h1M409.1 681.6h1M404.8 689.2h1M408.0 687.9h1M422.9 690.3h1M405.2 702.3h1M390.9 700.4h1M390.2 701.5h1M411.4 684.8h1M371.5 707.8h1M387.5 699.2h1M403.6 706.7h1M408.5 694.2h1M403.3 697.8h1M396.7 697.9h1M378.2 706.0h1M405.9 703.5h1M389.0 674.1h1M400.1 706.0h1M399.6 705.0h1M399.4 699.6h1M389.0 697.9h1M398.1 700.5h1M391.5 716.1h1M398.4 684.2h1M404.2 714.4h1M387.3 703.1h1M397.9 696.5h1M396.9 709.3h1M393.3 709.3h1M397.1 704.5h1M405.3 685.3h1M407.0 672.1h1M397.6 707.3h1M402.3 695.1h1M398.5 717.8h1M395.1 686.4h1M400.8 699.7h1M391.9 709.3h1M395.5 695.0h1M393.9 694.1h1M397.9 688.8h1M385.7 700.2h1M415.3 669.2h1M385.0 700.5h1M387.3 706.0h1M393.8 701.7h1M396.3 696.8h1M387.9 718.0h1M395.7 687.8h1M383.2 671.3h1M405.5 704.5h1M399.6 690.6h1M389.6 703.4h1M406.2 712.0h1M393.0 698.8h1M395.6 706.4h1M389.3 706.9h1M385.9 711.6h1M415.0 675.9h1M375.8 697.4h1M384.8 706.4h1M400.3 689.5h1M384.0 702.7h1M388.3 693.7h1M396.4 685.4h1M398.2 681.9h1M392.3 701.4h1M380.9 718.1h1M393.3 681.1h1M389.2 691.4h1M389.6 689.8h1M397.5 692.6h1M377.8 695.2h1M387.7 707.5h1M377.8 693.0h1M401.8 693.7h1M388.8 682.8h1M393.2 693.5h1M376.9 705.4h1M392.7 687.3h1M387.5 689.9h1M414.8 679.9h1M410.4 701.2h1M410.3 698.9h1M384.7 699.2h1M387.9 696.8h1M403.2 701.9h1M401.6 697.6h1M416.6 691.1h1M397.7 699.4h1M399.1 695.6h1M399.4 686.3h1M395.5 689.9h1M400.1 691.8h1M395.1 704.6h1M397.3 711.0h1M393.1 702.7h1M400.0 689.9h1M397.7 695.8h1M402.8 685.2h1M387.4 704.0h1M395.9 684.5h1M399.7 696.6h1M396.2 694.3h1M389.5 706.2h1M390.0 706.7h1M389.5 703.4h1M383.5 710.7h1M388.3 702.9h1M397.3 697.9h1M390.6 686.4h1M386.0 689.7h1M376.3 711.4h1M390.3 703.9h1M396.4 692.4h1M387.9 705.3h1M396.7 700.6h1M403.7 690.5h1M396.8 695.8h1M397.7 697.7h1M376.3 705.7h1M403.6 706.3h1M387.1 698.0h1M388.2 700.9h1M383.8 706.3h1M395.5 704.4h1M407.2 694.8h1M381.9 709.1h1M385.8 705.6h1M387.1 691.9h1M399.7 691.1h1M390.8 699.7h1M399.4 689.9h1M397.0 694.4h1M407.2 706.7h1M391.5 692.3h1M382.0 720.0h1M410.1 697.1h1M387.8 698.1h1M398.0 713.6h1M375.5 711.1h1M398.6 706.3h1M401.8 692.7h1M396.1 693.9h1M392.2 691.4h1M393.7 707.2h1M410.9 696.3h1M387.7 700.5h1M392.7 695.0h1M398.5 679.8h1M392.1 694.9h1M409.9 698.7h1M394.1 691.9h1M382.9 702.4h1M400.9 706.2h1M383.7 702.4h1M399.4 700.2h1M381.4 708.7h1M394.6 698.6h1M392.2 707.8h1M403.6 700.8h1M384.9 706.3h1M391.5 705.2h1M404.2 690.8h1M383.1 704.6h1M397.9 686.8h1M394.8 694.2h1M403.6 687.1h1M389.5 692.0h1M397.4 702.7h1M396.0 705.1h1M390.3 690.9h1M387.4 702.1h1M413.2 694.0h1M398.0 698.7h1M373.3 718.2h1M401.5 691.8h1M408.2 693.5h1M404.6 684.4h1M393.4 695.2h1M399.6 681.8h1M391.8 706.1h1M404.1 692.7h1M400.9 702.0h1M404.1 695.6h1M386.3 707.0h1M388.6 696.3h1M378.2 713.7h1M387.2 698.1h1M391.8 694.0h1M394.7 699.6h1M401.2 692.2h1M402.8 702.0h1M385.5 701.0h1M388.2 693.9h1M376.1 711.7h1M381.4 715.1h1M399.2 692.2h1M394.3 678.4h1M394.7 700.2h1M402.9 692.3h1M383.6 695.8h1M390.4 696.2h1M386.0 695.1h1M384.1 697.4h1M399.0 694.9h1M392.2 702.5h1M407.8 700.2h1M390.4 704.4h1M402.8 698.6h1M417.6 684.2h1M391.6 703.2h1M389.5 694.4h1M388.7 705.5h1M393.8 697.0h1M400.2 686.5h1M412.4 687.4h1M383.6 698.8h1M393.5 700.1h1M391.5 681.3h1M377.8 712.6h1M409.5 709.1h1M400.0 688.6h1M408.0 686.9h1M417.3 678.7h1M389.6 704.2h1M391.3 703.3h1M397.2 694.6h1M388.6 680.0h1M397.7 698.6h1M387.0 700.1h1M408.7 682.9h1M389.3 687.4h1M397.3 683.2h1M388.9 692.2h1M395.1 704.9h1M390.4 685.3h1M404.0 691.2h1M390.7 691.8h1M398.0 702.6h1M381.5 709.9h1M388.1 700.4h1M389.4 691.8h1M400.3 696.4h1M384.7 696.8h1M387.7 703.2h1M385.6 708.4h1M395.2 697.7h1M397.3 699.5h1M392.8 705.9h1M403.3 689.3h1M391.5 710.3h1M379.9 717.4h1M402.1 704.4h1M383.1 709.0h1M395.2 687.2h1M401.1 686.1h1M376.1 712.3h1M411.8 681.6h1M386.3 691.3h1M396.0 685.4h1M418.5 690.4h1M397.6 681.1h1M402.4 703.0h1M403.8 689.5h1M386.4 690.5h1M395.5 670.0h1M404.0 695.2h1M405.3 703.8h1M391.0 710.2h1M395.0 712.5h1M404.8 683.1h1M400.1 699.3h1M396.5 686.2h1M407.5 698.0h1M408.2 692.8h1M387.8 692.8h1M398.6 700.6h1M392.0 699.7h1M390.0 706.3h1M403.0 697.3h1M389.5 702.4h1M398.6 691.7h1M405.6 690.0h1M394.4 692.7h1M409.1 708.2h1M399.1 696.8h1M382.0 690.6h1M388.2 699.5h1M392.3 689.1h1M395.4 699.5h1M403.9 687.0h1M381.8 702.9h1M378.2 690.1h1M393.5 697.0h1M390.7 703.3h1M397.5 693.4h1M388.8 708.0h1M399.5 707.5h1M400.8 699.3h1M397.7 687.6h1M395.8 699.4h1M402.0 696.4h1M400.9 699.5h1M397.7 695.4h1M392.3 706.0h1M406.7 681.6h1M405.5 703.1h1M398.4 686.9h1M409.7 700.2h1M395.2 704.8h1M391.6 699.6h1M393.0 704.9h1M399.5 697.5h1M404.3 689.5h1M392.6 684.9h1M396.4 701.8h1M386.2 708.3h1M394.7 703.6h1M397.8 686.7h1M390.2 700.0h1M405.8 687.0h1M409.4 677.9h1M393.3 692.6h1M397.4 697.0h1M399.0 701.2h1M396.6 689.1h1M401.0 696.8h1M373.1 704.4h1M397.0 698.6h1M377.6 710.5h1M396.4 688.6h1M382.9 696.5h1M405.5 711.1h1M400.7 689.9h1M380.7 693.4h1M400.9 690.1h1M394.2 703.0h1M402.7 687.4h1M403.7 699.7h1M386.5 700.5h1M384.8 710.0h1M385.5 698.4h1M392.4 709.8h1M399.2 694.7h1M399.1 699.8h1M391.6 705.2h1M389.3 694.7h1M393.7 701.0h1M390.2 692.3h1M383.1 706.6h1M391.9 709.6h1M392.7 704.0h1M405.8 696.8h1M400.6 691.8h1M396.6 714.5h1M397.0 682.8h1M400.7 683.2h1M413.5 704.3h1M414.4 672.0h1M396.5 669.8h1M414.1 696.9h1M385.4 714.9h1M381.2 710.3h1M405.3 705.8h1M395.2 699.8h1M397.9 700.6h1M394.4 704.8h1M404.3 700.4h1M389.6 713.0h1M388.1 695.4h1M399.9 684.1h1M397.0 710.4h1M398.7 685.7h1M397.5 696.8h1M389.5 697.1h1M404.4 701.1h1M395.2 700.7h1M393.8 703.8h1M389.3 714.2h1M403.2 699.0h1M385.3 708.7h1M398.0 680.4h1M388.5 699.9h1M383.3 699.4h1M406.6 707.5h1M402.8 688.1h1M385.7 702.2h1M395.5 688.1h1M395.3 699.9h1M392.4 696.1h1M406.9 691.1h1M397.3 684.6h1M399.8 683.0h1M396.9 681.9h1M397.2 694.3h1M394.6 688.3h1M401.1 687.9h1M382.6 712.6h1M399.3 710.2h1M388.3 693.9h1M397.1 711.1h1M406.4 697.5h1M401.3 691.0h1M391.2 701.2h1M391.0 697.8h1M392.2 695.3h1M385.0 698.1h1M382.4 710.8h1M390.5 691.0h1M399.5 692.1h1M413.2 676.2h1M408.3 695.8h1M398.8 693.2h1M378.8 701.7h1M395.5 688.0h1M404.7 683.8h1M386.0 698.6h1M397.7 689.7h1M393.9 712.4h1M400.7 697.8h1M386.3 712.2h1M395.0 707.7h1M391.8 690.9h1M405.7 684.6h1M394.8 705.4h1M399.3 682.6h1M397.9 712.2h1M403.8 685.9h1M410.9 693.3h1M383.7 717.9h1M388.4 709.6h1M403.8 699.7h1M395.5 705.8h1M385.2 703.1h1M377.5 712.6h1M384.6 716.8h1M384.5 695.2h1M390.5 710.8h1M399.8 699.5h1M408.0 680.3h1M403.1 695.7h1M379.2 698.0h1M403.6 683.9h1M396.9 693.8h1M386.1 694.3h1M381.7 700.7h1M420.0 675.7h1M389.2 700.3h1M397.1 696.5h1M382.7 695.2h1M387.8 695.1h1M390.8 703.2h1M394.8 704.7h1M389.1 711.6h1M391.2 700.1h1M394.7 706.3h1M376.8 700.3h1M389.7 706.1h1M398.9 698.0h1M409.8 695.4h1M406.7 693.3h1M401.2 686.5h1M404.9 685.3h1M403.6 699.2h1M385.2 703.1h1M394.4 695.2h1M387.9 709.9h1M385.8 703.0h1M395.1 686.1h1M399.6 695.1h1M390.5 696.6h1M388.2 695.9h1M382.5 711.6h1M402.5 690.8h1M382.3 687.7h1M383.1 720.2h1M385.6 697.5h1M390.9 683.1h1M389.3 698.7h1M398.9 695.5h1M399.5 693.4h1M384.6 706.1h1M396.8 697.1h1M381.3 717.2h1M399.2 703.0h1M394.2 684.6h1M384.1 712.5h1M417.2 667.1h1M407.0 696.4h1M396.0 697.8h1M403.0 699.0h1M404.7 690.0h1M396.2 695.7h1M385.6 700.0h1M388.6 705.9h1M394.9 714.6h1M397.0 692.1h1M406.7 692.8h1M390.3 696.9h1M404.6 688.2h1M393.3 705.6h1M412.7 704.8h1M396.1 707.7h1M396.7 691.2h1M391.8 699.7h1M399.5 693.6h1M392.9 702.0h1M397.0 714.5h1M402.5 698.6h1M410.7 688.0h1M410.4 700.3h1M412.7 700.0h1M391.9 714.0h1M400.3 700.5h1M391.5 703.0h1M402.5 693.6h1M389.0 706.6h1M404.7 701.6h1M386.3 712.0h1M397.3 700.0h1M406.2 700.9h1M404.6 696.8h1M386.7 700.0h1M403.5 683.1h1M390.8 694.2h1M386.6 701.1h1M394.4 689.1h1M398.2 688.4h1M405.9 696.0h1M386.1 704.5h1M381.6 705.6h1M379.4 708.8h1M405.9 679.6h1M391.3 705.5h1M399.3 691.0h1M404.1 698.1h1M383.4 715.2h1M382.1 698.9h1M395.2 683.2h1M394.1 701.8h1M404.7 681.9h1M397.2 700.3h1M388.0 687.5h1M388.2 701.7h1M392.0 703.5h1M388.5 697.1h1M390.0 694.4h1M377.2 699.6h1M390.6 694.9h1M380.3 698.5h1M396.0 706.5h1M387.4 698.3h1M387.5 702.4h1M389.1 713.0h1M399.8 702.7h1M394.1 698.3h1M410.0 692.7h1M411.2 694.8h1M397.5 693.1h1M391.8 670.6h1M405.6 693.0h1M389.0 702.0h1M376.6 703.8h1M384.2 710.5h1M407.5 689.4h1M410.0 693.9h1M400.8 692.6h1M396.2 692.8h1M400.8 685.0h1M393.7 708.2h1M398.0 673.3h1M386.9 702.7h1M404.6 692.5h1M402.9 704.3h1M383.4 701.8h1M403.3 690.6h1M400.3 707.1h1M390.4 702.5h1M388.7 713.3h1M408.7 670.5h1M396.9 680.8h1M379.6 704.7h1M424.4 677.2h1M391.1 704.4h1M396.8 700.0h1M406.2 694.2h1M383.6 699.8h1M391.9 691.6h1M390.0 697.0h1M398.7 686.3h1M399.6 692.3h1M388.8 695.5h1M404.3 692.5h1M389.4 693.4h1M396.5 688.9h1M390.7 706.0h1M405.0 680.0h1M397.1 708.6h1M403.2 687.5h1M396.5 694.0h1M388.1 710.3h1M401.1 697.0h1M403.4 703.0h1M397.1 698.9h1M398.5 680.7h1M392.6 698.4h1M372.7 715.6h1M396.2 698.4h1M392.9 707.1h1M401.4 691.7h1M380.3 714.0h1M407.9 698.0h1M403.2 692.8h1M393.5 702.0h1M393.4 680.3h1M379.9 715.3h1M383.5 693.2h1M402.1 705.0h1M391.0 697.7h1M383.8 693.3h1M381.3 699.7h1M398.1 687.4h1M380.2 706.3h1M397.5 696.0h1M402.3 694.4h1M404.8 689.4h1M390.6 692.9h1M396.2 699.4h1M389.4 704.5h1M401.0 696.4h1M384.3 706.6h1M383.2 694.0h1M394.3 701.9h1M395.6 697.4h1M399.8 704.1h1M389.4 704.5h1M397.0 697.2h1M409.3 680.4h1M399.3 707.3h1M415.6 692.0h1M394.8 693.9h1M380.3 706.7h1M406.2 693.2h1M390.2 700.5h1M396.2 699.1h1M409.6 697.8h1M408.8 689.8h1M403.1 682.8h1M389.6 701.2h1M388.2 698.1h1M392.1 696.6h1M402.5 679.3h1M415.8 680.3h1M398.7 706.2h1M385.6 716.1h1M387.9 707.7h1M397.1 699.5h1M425.8 669.4h1M406.9 708.9h1M394.3 694.1h1M400.8 678.3h1M399.5 692.1h1M395.0 689.0h1M385.3 687.1h1M383.0 701.6h1M386.9 718.4h1M380.1 707.1h1M385.9 697.4h1M397.7 695.4h1M406.6 699.8h1M396.6 688.2h1M387.4 712.0h1M394.9 719.4h1M409.5 677.7h1M394.6 690.8h1M397.2 703.4h1M388.5 705.7h1M385.7 704.0h1M399.6 690.7h1M399.0 709.3h1M392.8 689.3h1M397.4 691.5h1M393.4 709.7h1M393.7 689.8h1M404.8 690.5h1M400.5 685.2h1M398.6 686.0h1M391.9 694.9h1M386.2 702.1h1M385.0 701.4h1M392.8 718.3h1M392.9 700.1h1M391.8 680.9h1M399.1 679.1h1M398.1 696.7h1M394.5 690.4h1M413.1 684.7h1M395.3 702.4h1M392.2 694.2h1M409.0 684.0h1M390.5 699.7h1M381.4 700.4h1M387.0 694.3h1M401.5 694.2h1M409.1 699.7h1M383.2 708.4h1M398.3 717.6h1M397.8 686.2h1M400.1 707.6h1M395.5 702.2h1M393.6 694.8h1M390.1 700.9h1M393.8 691.1h1M396.8 697.5h1M403.5 702.1h1M395.2 690.7h1M400.6 700.6h1M384.4 695.6h1M399.4 681.4h1M393.9 704.0h1M394.8 707.4h1M402.5 700.9h1M383.3 710.4h1M384.9 703.4h1M387.4 704.3h1M390.1 706.0h1M394.9 693.9h1M386.2 707.1h1M410.6 696.0h1M393.5 708.9h1M403.6 686.3h1M392.7 688.3h1M401.8 689.9h1M404.3 683.3h1M396.1 695.3h1M403.8 688.8h1M392.8 702.1h1M387.8 705.9h1M404.1 696.4h1M405.0 691.8h1M382.0 691.3h1M397.8 705.6h1M396.5 685.3h1M390.5 695.9h1M387.0 694.3h1M411.6 695.8h1M403.5 693.8h1M393.2 695.2h1M414.2 689.9h1M404.0 681.3h1M391.8 684.4h1M396.3 680.8h1M390.1 706.4h1M396.6 688.6h1M399.4 703.5h1M391.9 703.4h1M406.2 697.3h1M396.3 708.6h1M388.1 698.4h1M394.6 700.9h1M395.9 700.2h1M377.7 695.6h1M383.4 701.5h1M400.0 692.8h1M382.5 711.9h1M394.1 708.9h1M403.5 703.4h1M393.7 687.9h1M401.3 688.7h1M383.9 700.3h1M403.8 698.1h1M390.5 712.4h1M381.5 704.6h1M395.9 700.0h1M417.0 688.8h1M396.3 692.0h1M397.1 695.9h1M404.4 682.2h1M405.4 719.6h1M386.1 719.2h1M375.9 710.2h1M388.4 704.7h1M384.6 709.8h1M402.3 701.7h1M385.9 709.1h1M400.9 693.5h1M388.5 700.5h1M400.7 706.1h1M382.0 703.4h1M388.4 696.0h1M378.6 701.9h1M403.1 690.8h1M409.6 689.8h1M396.3 696.7h1M383.0 700.4h1M418.6 690.0h1M395.4 702.3h1M409.5 694.4h1M400.6 705.5h1M385.1 685.3h1M387.4 706.0h1M398.0 679.0h1M387.7 708.8h1M394.1 702.3h1M393.3 698.6h1M381.3 696.5h1M387.1 704.0h1M394.7 707.6h1M378.7 715.5h1M383.5 703.7h1M379.3 701.3h1M379.0 690.1h1M381.4 704.4h1M386.8 713.0h1M388.7 711.3h1M387.4 707.0h1M397.6 692.1h1M397.5 702.2h1M406.2 690.8h1M399.6 699.3h1M385.9 703.1h1M380.7 721.8h1M411.4 692.5h1M399.7 689.4h1M382.6 700.8h1M399.9 705.2h1M380.3 692.7h1M403.4 685.4h1M395.5 691.2h1M402.8 703.5h1M384.8 705.0h1M397.5 700.8h1M407.7 682.3h1M389.5 712.0h1M404.5 682.5h1M392.2 682.7h1M401.7 698.0h1M394.9 703.6h1M392.6 673.3h1M385.2 698.2h1M391.4 707.0h1M390.4 686.4h1M390.8 689.7h1M396.7 700.9h1M416.3 689.3h1M397.5 703.1h1M388.3 707.0h1M394.2 700.3h1M397.2 678.2h1M388.7 703.1h1M411.1 679.1h1M388.4 705.6h1M387.6 691.7h1M380.6 691.1h1M385.8 706.9h1M389.6 691.4h1M396.9 688.0h1M384.7 705.5h1M400.5 686.0h1M397.5 709.4h1M386.5 720.7h1M394.1 708.9h1M384.7 702.5h1M389.0 689.9h1M397.5 701.2h1M388.3 680.1h1M394.1 707.8h1M399.8 693.8h1M387.6 699.4h1M395.8 710.4h1M399.0 687.0h1M403.2 679.7h1M397.0 696.2h1M388.2 714.5h1M399.6 691.2h1M402.4 701.2h1M391.1 689.9h1M403.1 678.4h1M392.0 715.2h1M397.5 709.0h1M382.9 714.9h1M381.2 697.1h1M401.7 700.3h1M386.4 715.9h1M388.2 710.2h1M404.9 686.0h1M378.9 706.4h1M371.2 707.6h1M383.5 702.0h1M392.4 698.1h1M399.6 696.1h1M405.8 685.9h1M391.7 689.6h1M390.0 688.4h1M387.0 711.7h1M405.2 694.3h1M386.7 702.6h1M403.0 701.5h1M407.6 695.5h1M400.4 686.6h1M392.5 695.9h1M395.8 707.6h1M391.7 701.5h1M393.6 696.3h1M400.4 699.9h1M395.5 693.7h1M371.0 704.9h1M392.3 690.4h1M387.6 697.2h1M396.5 685.4h1M390.6 717.8h1M411.9 682.8h1M389.4 717.2h1M375.3 712.0h1M396.8 688.7h1M383.1 693.6h1M394.2 707.5h1M415.8 678.0h1M400.2 691.4h1M408.1 675.0h1M395.2 701.5h1M380.5 710.2h1M385.9 692.2h1M414.1 677.1h1M395.2 700.9h1M385.9 697.8h1M429.2 685.1h1M405.6 697.1h1M397.5 694.7h1M397.4 692.3h1M410.9 676.0h1M391.5 704.1h1M396.6 699.2h1M388.5 697.6h1M389.4 710.6h1M399.2 680.9h1M396.8 700.7h1M379.3 718.6h1M415.0 678.6h1M386.7 712.0h1M388.3 698.0h1M389.6 695.0h1M399.5 704.8h1M392.2 697.4h1M396.3 682.0h1M388.2 695.4h1M403.8 694.7h1M402.8 703.8h1M397.5 688.8h1M408.1 691.6h1M387.7 688.5h1M396.5 687.9h1M376.2 717.9h1M387.1 702.2h1M392.7 686.4h1M381.5 697.2h1M385.0 710.3h1M388.2 706.5h1M389.4 686.6h1M391.0 712.5h1M390.5 700.8h1M395.8 693.1h1M395.5 702.9h1M402.5 687.3h1M405.5 688.1h1M378.7 705.9h1M388.5 700.2h1M399.1 703.8h1M393.4 703.1h1M399.9 706.5h1M407.6 698.2h1M383.3 686.8h1M388.5 695.0h1M394.5 688.4h1M402.4 693.5h1M397.7 711.3h1M414.8 681.5h1M384.0 705.8h1M388.1 720.4h1M380.9 715.1h1M384.9 703.5h1M392.2 688.0h1M397.5 697.7h1M392.3 693.8h1M374.9 717.9h1M391.7 693.2h1M387.8 708.7h1M391.3 706.9h1M378.0 710.3h1M391.0 695.8h1M404.9 683.2h1M407.1 689.4h1M394.2 701.3h1M386.6 706.8h1M393.8 698.6h1M394.8 696.8h1M383.8 707.8h1M398.1 692.2h1M398.8 688.0h1M395.6 692.0h1M387.6 693.0h1M402.9 697.2h1M415.1 678.0h1M391.4 695.5h1M402.6 695.8h1M385.0 708.0h1M384.0 690.2h1M391.2 698.0h1M402.8 694.9h1M384.4 694.7h1M383.8 686.8h1M406.2 682.0h1M394.1 698.5h1M392.1 704.6h1M400.2 696.9h1M396.6 709.9h1M380.1 696.5h1M385.4 702.4h1M386.7 716.0h1M387.1 715.5h1M391.7 692.1h1M382.4 696.8h1M394.0 700.3h1M399.7 700.3h1M402.8 690.2h1M399.3 699.9h1M378.6 694.4h1M381.6 708.4h1M406.2 707.7h1M404.2 692.3h1M380.9 710.7h1M402.1 691.5h1M388.0 697.4h1M397.1 698.6h1M396.9 693.9h1M407.6 705.1h1M390.2 698.0h1M410.8 681.9h1M413.3 694.1h1M375.3 699.6h1M373.4 699.4h1M392.7 704.5h1M390.4 663.1h1M406.8 686.5h1M391.0 720.3h1M417.7 691.5h1M415.5 687.2h1M387.3 685.4h1M400.9 692.0h1M385.3 698.8h1M385.0 714.7h1M401.4 681.8h1M400.3 695.7h1M394.0 716.4h1M387.4 691.6h1M391.0 702.9h1M394.8 707.3h1M381.2 717.3h1M384.0 707.3h1M392.9 697.5h1M406.3 679.8h1M406.1 688.4h1M388.7 682.6h1M396.3 694.9h1M399.1 688.2h1M407.2 693.6h1M417.5 688.8h1M389.6 691.4h1M403.9 689.2h1M396.1 689.0h1M414.7 688.1h1M389.2 692.5h1M394.2 697.2h1M394.7 699.2h1M407.4 681.7h1M390.2 705.4h1M406.0 692.7h1M403.8 695.6h1M391.3 685.8h1M397.1 689.8h1M384.8 678.2h1M415.7 681.2h1M396.7 687.4h1M392.9 698.1h1M385.5 710.7h1M390.5 702.3h1M381.7 706.2h1M390.6 705.2h1M396.8 688.0h1M408.1 702.3h1M404.7 698.1h1M381.2 718.7h1M394.6 690.1h1M390.6 695.2h1M389.8 678.8h1M405.0 693.8h1M379.3 694.4h1M407.6 696.7h1M394.2 693.9h1M399.0 699.7h1M383.6 708.3h1M401.3 702.9h1M381.2 696.7h1M397.1 682.3h1M388.2 695.5h1M408.8 681.4h1M382.0 706.0h1M401.3 685.8h1M405.5 707.8h1M393.9 702.7h1M421.6 684.0h1M389.8 693.6h1M417.7 691.6h1M395.8 686.7h1M389.6 719.3h1M376.0 721.1h1M391.7 695.2h1M382.3 697.8h1M399.8 698.4h1M382.8 714.3h1M415.6 689.8h1M398.3 691.8h1M386.5 720.9h1M403.1 705.0h1M393.5 708.9h1M409.5 688.5h1M409.3 703.5h1M395.1 694.0h1M395.7 694.3h1M417.2 688.6h1M397.4 695.4h1M393.1 695.5h1M421.6 697.8h1M404.4 717.9h1M401.0 695.3h1M409.5 675.8h1M394.7 689.2h1M387.2 707.4h1M392.0 705.5h1M392.8 696.5h1M398.7 710.2h1M385.0 689.6h1M377.1 710.7h1M421.0 669.6h1M382.6 686.8h1M394.5 710.8h1M382.0 692.2h1M403.2 693.2h1M404.2 690.2h1M394.1 697.8h1M401.2 702.3h1M396.7 692.4h1M406.1 700.1h1M390.1 703.5h1M409.2 686.2h1M382.2 684.2h1M404.6 693.6h1M385.9 717.3h1M384.1 706.0h1M377.9 698.3h1M379.8 705.8h1M391.3 694.3h1M399.6 714.1h1M400.3 699.3h1M383.0 705.2h1M408.8 680.4h1M399.4 708.9h1M389.3 682.1h1M404.9 686.0h1M404.1 681.2h1M435.3 676.3h1M391.2 701.0h1M406.8 706.6h1M410.2 680.6h1M393.0 680.7h1M392.7 712.1h1M398.3 716.2h1M408.3 683.5h1M393.3 706.1h1M409.1 687.2h1M420.6 691.6h1M380.9 681.6h1M386.8 680.8h1M386.9 709.9h1M396.5 698.0h1M399.0 702.6h1M389.7 703.0h1M393.3 700.9h1M402.6 694.6h1M394.0 690.2h1M428.4 685.3h1M396.9 678.3h1M398.0 700.4h1M397.4 690.2h1M410.1 682.1h1M411.1 689.2h1M373.3 718.3h1M387.8 720.7h1M415.2 681.9h1M392.5 690.4h1M392.2 709.8h1M414.6 678.7h1M394.4 697.5h1M392.3 682.2h1M390.6 688.9h1M390.3 705.7h1M395.2 689.7h1M408.4 713.1h1M372.0 701.6h1M405.1 692.1h1M399.3 697.4h1M409.2 705.9h1M393.8 686.8h1M408.7 700.3h1M416.3 670.5h1M406.3 706.0h1M388.5 697.1h1M387.1 699.1h1M384.8 686.5h1M398.9 696.9h1M377.2 709.4h1M413.8 680.7h1M392.4 693.6h1M397.2 688.4h1M386.4 686.3h1M408.8 688.8h1M383.6 693.6h1M384.3 710.6h1M390.7 695.7h1M395.3 690.7h1M400.7 711.1h1M392.4 698.8h1M399.1 706.0h1M389.8 676.5h1M390.5 699.3h1M400.7 710.6h1M402.6 716.6h1M377.0 686.8h1M392.2 699.4h1M395.2 681.1h1M388.4 712.8h1M397.8 715.5h1M408.8 677.1h1M387.6 680.9h1M383.6 703.5h1M393.6 693.9h1M382.1 696.6h1M403.5 702.4h1M385.9 689.9h1M400.4 689.1h1M407.4 676.3h1M399.5 698.0h1M398.0 690.7h1M405.4 684.8h1M401.9 687.3h1M416.9 685.7h1M402.0 703.5h1M389.7 685.1h1M392.0 685.5h1M379.2 716.4h1M405.0 690.1h1M386.7 713.0h1M394.9 678.8h1M416.3 687.1h1M389.7 697.3h1M384.7 708.3h1M388.9 715.1h1M400.9 686.1h1M383.0 701.8h1M395.7 704.5h1M386.6 702.0h1M390.6 694.2h1M424.5 694.9h1M387.0 693.5h1M386.3 708.8h1M416.2 693.6h1M412.1 700.4h1M394.3 690.1h1M404.0 691.7h1M404.9 692.3h1M392.0 701.5h1M378.1 693.0h1M386.6 702.8h1M413.3 715.4h1M386.3 720.2h1M408.6 691.0h1M386.8 708.5h1M403.5 695.7h1M399.2 694.0h1M407.3 719.1h1M382.3 697.4h1M405.5 697.3h1M408.0 685.1h1M385.9 697.4h1M378.6 713.0h1M410.0 678.3h1M379.8 703.2h1M397.2 685.6h1M381.3 702.7h1M395.0 690.0h1M374.2 711.0h1M401.8 706.7h1M394.9 690.3h1M383.0 694.3h1M376.5 682.8h1M386.9 673.0h1M392.7 711.8h1M400.0 696.1h1M421.8 694.2h1M401.4 688.2h1M397.5 680.3h1M400.3 708.5h1M407.0 685.5h1M398.7 692.5h1M396.9 717.5h1M393.6 689.0h1M390.2 711.4h1M402.0 681.8h1M394.6 699.2h1M389.8 698.8h1M406.6 668.3h1M382.9 690.4h1M404.6 698.0h1M387.9 681.2h1M404.4 701.3h1M381.7 690.2h1M385.2 697.1h1M374.1 702.3h1M391.8 698.7h1M400.8 687.7h1M386.8 682.7h1M414.3 688.5h1M393.2 694.5h1M384.6 715.7h1M390.6 703.4h1M412.3 669.5h1M394.9 681.1h1M382.0 702.2h1M414.3 694.0h1M390.9 688.3h1M419.9 697.3h1M375.4 690.4h1M394.3 707.9h1M409.3 700.2h1M385.6 699.9h1M392.9 704.6h1M412.0 675.8h1M394.1 682.7h1M390.2 711.0h1M392.5 675.9h1M399.0 695.7h1M406.5 690.6h1M375.6 715.8h1M400.4 688.1h1M391.7 697.4h1M388.7 706.7h1M395.4 692.5h1M389.0 689.6h1M388.6 698.5h1M387.7 699.6h1M389.0 702.8h1M386.9 693.5h1M398.0 695.9h1M386.1 693.8h1M400.4 702.7h1M408.5 688.3h1M399.8 683.1h1M411.5 702.7h1M379.4 708.3h1M415.3 696.3h1M405.0 704.7h1M409.6 678.8h1M399.8 708.6h1M394.2 695.6h1M393.8 674.4h1M410.8 699.3h1M407.3 717.4h1M378.9 696.8h1M383.9 696.7h1M396.1 694.3h1M395.1 710.6h1M403.4 676.4h1M386.8 704.9h1M385.1 687.4h1M387.4 691.8h1M412.8 695.2h1M392.3 701.5h1M388.6 682.9h1M418.6 692.4h1M377.9 686.1h1M402.5 701.8h1M386.0 692.3h1M396.1 677.8h1M394.6 691.7h1M397.0 693.0h1M403.7 695.5h1M377.0 719.4h1M375.7 688.3h1M391.1 699.7h1M396.7 688.3h1M390.9 694.0h1M409.1 693.0h1M375.8 716.2h1M376.7 709.1h1M386.0 686.0h1M401.3 702.6h1M427.1 676.3h1M382.2 690.4h1M415.2 711.9h1M410.4 683.1h1M419.6 693.0h1M397.9 714.8h1M398.1 712.6h1M395.5 709.6h1M395.8 716.4h1M388.6 720.0h1M418.7 679.7h1M406.7 687.2h1M397.5 665.5h1M383.3 711.7h1M413.9 689.2h1M393.0 689.8h1M377.7 719.7h1M409.2 675.7h1M416.0 702.3h1M395.3 701.1h1M414.8 685.4h1M402.7 698.9h1M384.3 721.5h1M393.1 687.4h1M405.7 701.4h1M404.4 681.1h1M417.2 681.8h1M388.9 703.1h1M387.7 695.9h1M391.7 707.1h1M404.8 711.5h1M396.4 691.9h1M412.1 692.3h1M398.1 701.2h1M401.8 692.5h1M401.7 679.1h1M393.6 712.0h1M392.9 708.1h1M397.9 699.8h1M405.0 682.6h1M397.2 671.8h1M406.0 692.7h1M409.8 699.6h1M401.9 708.7h1M391.7 678.3h1M400.4 689.6h1M406.1 700.2h1M390.4 708.7h1M399.3 705.1h1M386.8 696.5h1M386.8 692.7h1M390.8 710.2h1M385.1 704.9h1M397.1 700.7h1M393.5 700.2h1M380.4 709.7h1M394.9 686.8h1M395.6 701.9h1M403.8 696.0h1M390.5 687.7h1M399.7 683.5h1M399.1 693.7h1M406.4 688.0h1M411.4 695.8h1M391.2 705.9h1M395.8 695.1h1M381.2 695.7h1M398.2 692.6h1M396.1 701.0h1M405.0 700.4h1M376.3 703.7h1M410.0 698.5h1M415.1 680.8h1M417.3 685.9h1M407.9 704.6h1M395.9 685.9h1M409.9 688.5h1M393.8 688.3h1M381.1 720.2h1M402.1 701.6h1M388.2 690.5h1M400.2 682.5h1M401.2 684.1h1M415.4 686.5h1M416.2 697.4h1M409.8 688.9h1M420.4 687.5h1M404.8 683.6h1M379.0 721.9h1M372.5 712.0h1M395.3 712.2h1M399.8 691.5h1M401.0 685.7h1M403.6 700.4h1M411.7 687.9h1M377.8 691.0h1M382.7 706.4h1M412.1 684.5h1M405.4 677.4h1M407.0 704.8h1M398.1 671.2h1M394.9 675.1h1M401.0 671.1h1M391.9 690.8h1M389.1 689.4h1M383.2 691.4h1M412.3 676.1h1M388.6 683.3h1M386.7 683.8h1M408.5 679.7h1M376.4 708.2h1M403.7 702.4h1M381.7 696.8h1M371.8 704.2h1M372.6 704.4h1M386.9 702.4h1M406.2 706.7h1M383.5 719.9h1M401.2 712.5h1M419.3 681.1h1M390.7 702.4h1M383.9 684.1h1M394.2 676.2h1M412.7 691.2h1M403.5 689.5h1M384.6 695.4h1M425.0 688.7h1M393.9 702.6h1M393.9 682.7h1M389.0 718.3h1M387.3 704.4h1M394.6 683.0h1M420.1 687.0h1M398.5 707.9h1M403.2 698.0h1M413.2 682.2h1M400.0 706.7h1M402.2 700.6h1M392.9 677.7h1M381.9 698.1h1M407.8 672.4h1M404.3 709.2h1M389.9 697.2h1M412.6 689.9h1M401.7 675.4h1M414.7 696.3h1M401.5 679.2h1M400.9 679.4h1M391.6 678.8h1M405.6 699.6h1M427.2 667.4h1M407.3 705.9h1M400.3 698.7h1M399.4 710.9h1M382.6 713.0h1M374.8 696.3h1M400.0 689.0h1M412.7 689.9h1M381.7 697.8h1M386.8 711.8h1M383.4 720.5h1M382.0 711.2h1M395.8 713.0h1M394.3 707.2h1M413.1 688.8h1M392.0 716.6h1M397.0 693.2h1M407.8 692.3h1M382.1 688.4h1M393.4 689.9h1M408.3 691.7h1M386.1 697.6h1M403.4 689.1h1M389.2 697.5h1M400.9 681.3h1M427.0 691.1h1M374.2 719.6h1M417.8 702.1h1M387.3 715.9h1M396.4 690.6h1M384.4 679.3h1M416.0 682.2h1M400.5 690.2h1M419.9 689.3h1M396.6 683.7h1M394.0 698.7h1M392.8 692.2h1M392.6 689.9h1M417.0 706.0h1M407.0 706.2h1M405.1 698.3h1M408.9 684.4h1M411.2 677.8h1M382.0 696.0h1M396.6 700.2h1M398.0 691.3h1M416.7 688.1h1M398.9 684.3h1M394.5 689.2h1M404.9 707.6h1M417.1 675.2h1M397.0 701.3h1M399.4 701.5h1M381.4 701.7h1M387.6 697.9h1M393.8 709.5h1M392.9 706.7h1M396.7 688.5h1M398.2 697.8h1M399.4 706.7h1M386.2 712.5h1M388.1 698.8h1M397.1 697.6h1M405.4 711.2h1M376.8 698.3h1M374.2 689.2h1M421.0 671.3h1M408.3 681.6h1M389.7 678.4h1M392.1 702.1h1M405.5 701.4h1M394.8 712.9h1M398.6 692.6h1M391.1 678.8h1M398.6 688.3h1M394.6 700.7h1M384.1 682.7h1M415.9 683.2h1M402.3 686.9h1M405.5 698.8h1M393.5 695.6h1M414.2 681.8h1M396.3 703.6h1M402.8 692.2h1M384.6 693.7h1M400.2 697.1h1M395.6 693.3h1M389.3 706.8h1M391.6 700.7h1M412.5 688.9h1M397.3 694.3h1M388.3 691.7h1M380.0 715.0h1M400.8 687.2h1M381.5 697.0h1M382.3 698.9h1M378.7 697.0h1M374.5 698.6h1M377.1 703.5h1M408.7 692.9h1M405.7 682.7h1M390.5 703.2h1M403.0 698.4h1M391.4 699.6h1M400.7 689.3h1M387.7 705.4h1M380.7 697.7h1M402.9 694.3h1M391.1 698.7h1M395.9 688.6h1M415.4 709.3h1M398.4 712.3h1M392.0 700.9h1M399.8 694.4h1M377.3 708.9h1M391.1 712.9h1M406.1 683.3h1M393.2 673.5h1M383.7 706.2h1M396.8 679.3h1M409.7 712.6h1M388.3 691.5h1M396.5 706.8h1M394.4 670.0h1M405.1 699.3h1M381.4 695.7h1M394.5 707.1h1M405.6 697.2h1M407.9 697.6h1M408.3 678.8h1M392.5 697.7h1M393.0 713.1h1M386.6 689.3h1M412.5 693.9h1M412.6 690.5h1M384.1 704.5h1M390.1 703.6h1M410.9 690.8h1M412.2 692.8h1M401.0 703.1h1M382.1 710.8h1M397.7 695.6h1M408.6 694.0h1M378.6 688.1h1M385.5 694.4h1M405.6 690.8h1M400.8 709.3h1M396.8 667.6h1M377.7 684.6h1M402.3 697.1h1M394.1 685.8h1M395.0 708.2h1M394.2 696.6h1M401.9 682.2h1M412.5 704.5h1M390.7 701.8h1M386.4 712.4h1M409.5 687.0h1M385.8 711.9h1M387.4 697.6h1M381.1 688.5h1M397.0 688.3h1M394.7 701.1h1M400.4 706.8h1M411.1 679.8h1M380.8 687.9h1M405.7 701.5h1M409.1 692.0h1M403.8 697.9h1M404.4 687.8h1M411.4 693.8h1M379.3 697.1h1M395.0 693.0h1M395.4 690.4h1M391.3 692.1h1M398.6 699.1h1M410.0 699.2h1M391.0 689.9h1M394.3 684.3h1M380.7 694.4h1M391.8 702.2h1M390.9 713.2h1M403.6 703.0h1M393.4 694.6h1M384.5 709.1h1M382.7 694.5h1M393.0 701.6h1M401.2 698.6h1M409.6 688.3h1M405.6 686.6h1M387.2 707.4h1M396.6 696.3h1M371.8 703.4h1M412.3 710.4h1M390.4 706.9h1M389.2 691.2h1M405.5 709.6h1M381.2 693.8h1M407.3 705.9h1M391.5 689.0h1M395.0 699.5h1M407.4 694.5h1M395.3 667.4h1M383.4 699.3h1M389.3 691.0h1M404.2 681.9h1M407.1 698.1h1M404.2 672.6h1M396.2 698.0h1M381.2 693.5h1M409.8 680.3h1M400.1 677.1h1M385.5 696.6h1M412.3 674.0h1M413.7 683.7h1M382.1 707.7h1M380.3 698.3h1M391.9 693.4h1M413.0 673.4h1M387.2 693.5h1M381.3 688.9h1M431.6 681.3h1M400.1 696.6h1M377.8 704.3h1M391.2 709.4h1M375.1 707.3h1M377.4 695.6h1M409.8 689.9h1M393.8 703.4h1M385.7 710.6h1M393.2 694.8h1M386.2 680.3h1M389.2 707.7h1M387.5 701.7h1M398.0 701.1h1M396.3 689.2h1M414.9 698.2h1M406.0 690.3h1M391.0 703.6h1M418.8 701.1h1M386.9 679.9h1M382.3 718.8h1M383.8 705.5h1M386.0 692.5h1M407.7 672.8h1M384.3 690.5h1M398.5 695.1h1M383.7 694.0h1M392.8 690.9h1M389.5 706.6h1M376.0 689.7h1M413.3 688.8h1M417.5 687.7h1M396.5 680.2h1M395.4 701.3h1M411.3 704.6h1M388.4 705.4h1M394.9 689.9h1M415.1 682.4h1M410.6 684.2h1M394.4 696.1h1M399.1 703.2h1M404.8 683.8h1M391.4 713.5h1M417.5 672.8h1M374.5 697.4h1M403.4 692.6h1M390.9 692.7h1M391.4 682.1h1M384.6 700.4h1M399.9 687.1h1M388.4 716.5h1M397.1 688.8h1M402.1 681.8h1M411.3 698.7h1M418.6 673.6h1M392.9 700.0h1M402.8 688.3h1M394.3 696.1h1M385.8 667.5h1M413.9 701.2h1M404.7 696.6h1M385.4 713.8h1M394.3 685.3h1M391.4 700.8h1M380.0 702.6h1M398.4 712.2h1M404.8 692.4h1M384.2 692.0h1M411.4 689.2h1M377.1 699.6h1M383.6 712.3h1M387.3 706.9h1M411.5 705.6h1M385.5 703.7h1M394.0 699.4h1M390.8 694.4h1M396.9 691.2h1M398.8 687.0h1M415.1 692.8h1M419.3 678.7h1M391.1 686.9h1M383.5 708.1h1M399.6 708.8h1M387.9 705.8h1M403.3 690.0h1M398.8 680.1h1M401.7 708.2h1M405.9 712.4h1M394.9 710.3h1M407.5 702.7h1M403.7 691.2h1M411.5 690.6h1M395.2 689.1h1M394.4 706.5h1M381.4 704.7h1M375.3 684.4h1M403.4 689.7h1M396.9 691.2h1M376.5 680.6h1M408.1 692.4h1M405.9 681.7h1M405.3 704.9h1M405.7 681.2h1M373.7 704.7h1M414.5 673.0h1M388.0 699.5h1M425.4 698.6h1M371.4 691.6h1M384.3 704.3h1M417.4 674.4h1M384.9 694.0h1M390.8 698.6h1M392.5 711.6h1M401.2 698.6h1M407.1 702.0h1M406.3 716.2h1M379.5 699.0h1M416.1 674.1h1M397.1 674.4h1M404.0 704.8h1M400.6 694.0h1M390.0 712.3h1M400.6 670.9h1M384.4 710.2h1M413.0 666.1h1M395.9 698.1h1M416.9 691.5h1M409.7 684.2h1M382.0 695.7h1M392.7 695.3h1M430.5 675.3h1M402.7 674.8h1M414.6 679.2h1M389.3 706.1h1M382.4 686.8h1M406.4 694.0h1M397.3 704.2h1M389.4 679.3h1M403.3 701.3h1M390.1 686.3h1M383.0 683.4h1M398.0 707.7h1M382.9 717.8h1M398.1 692.8h1M396.3 673.5h1M402.0 703.6h1M381.2 698.0h1M403.2 705.0h1M400.2 691.1h1M388.5 685.7h1M406.1 707.3h1M384.5 702.3h1M408.2 702.8h1M387.9 695.2h1M406.7 684.8h1M395.4 698.1h1M385.8 708.9h1M436.1 688.0h1M410.1 696.5h1M374.7 706.8h1M412.8 706.9h1M393.8 696.4h1M391.6 683.4h1M394.0 705.0h1M420.1 697.8h1M387.1 694.5h1M376.7 717.1h1M389.7 700.9h1M416.5 667.1h1M411.0 699.1h1M373.0 701.4h1M407.3 696.6h1M385.0 692.0h1M417.4 688.0h1M391.9 694.8h1M402.3 703.1h1M404.7 697.5h1M405.1 696.0h1M412.1 717.1h1M413.6 697.3h1M387.2 705.2h1M377.9 696.3h1M392.1 691.5h1M401.0 707.3h1M397.6 692.6h1M399.7 712.8h1M400.2 709.8h1M414.6 700.7h1M393.7 688.9h1M377.0 707.0h1M386.3 686.4h1M380.9 697.1h1M405.7 668.5h1M388.9 688.4h1M393.3 696.2h1M398.8 686.0h1M398.2 699.6h1M386.4 712.0h1M393.4 710.9h1M393.2 705.0h1M388.2 719.5h1M374.9 718.6h1M394.4 672.8h1M413.2 698.5h1M395.9 707.6h1M392.2 706.8h1M407.0 677.5h1M410.2 681.0h1M385.6 691.4h1M406.3 687.7h1M385.2 685.9h1M409.8 700.9h1M412.2 678.7h1M407.7 690.6h1M401.9 688.7h1M412.7 694.6h1M385.3 702.7h1M376.2 700.9h1M391.4 687.8h1M397.2 709.4h1M420.9 664.3h1M416.1 684.2h1M388.8 703.6h1M398.0 679.8h1M421.3 693.4h1M413.1 696.1h1M374.9 684.2h1M389.6 705.6h1M392.5 692.7h1M409.7 685.6h1M414.8 689.1h1M422.7 689.8h1M418.8 699.6h1M416.3 707.0h1M392.6 708.3h1M391.3 694.3h1M403.4 694.7h1M398.3 672.9h1M399.1 687.8h1M381.8 705.1h1M408.7 680.8h1M411.3 680.3h1M414.8 697.9h1M402.1 694.0h1M378.2 710.5h1M388.3 697.7h1M391.6 694.8h1M405.1 683.8h1M378.8 721.8h1M382.6 702.9h1M408.8 698.4h1M410.3 700.3h1M382.1 689.8h1M404.0 697.3h1M397.1 679.4h1M410.3 682.6h1M388.8 695.5h1M419.7 679.9h1M405.1 704.4h1M375.2 702.4h1M394.7 682.6h1M394.6 693.6h1M387.9 691.0h1M404.5 685.9h1M392.8 691.1h1M399.2 688.8h1M403.1 710.4h1M386.7 708.7h1M393.1 687.5h1M394.5 670.4h1M390.4 700.1h1M383.2 720.2h1M400.2 707.3h1M420.9 700.1h1M403.1 698.1h1M371.3 700.6h1M391.7 709.2h1M390.3 708.8h1M388.7 705.7h1M383.5 718.6h1M372.0 706.0h1M406.8 687.1h1M398.4 684.0h1M408.7 689.2h1M403.9 699.1h1M411.0 694.1h1M393.2 702.0h1M387.6 685.3h1M404.7 692.4h1M381.4 692.8h1M404.7 698.6h1M386.3 713.3h1M404.4 690.2h1M390.6 694.7h1M392.7 700.9h1M407.3 689.2h1M394.6 720.6h1M372.3 702.5h1M399.2 700.5h1M398.2 698.9h1M405.5 707.0h1M411.9 703.1h1M408.9 702.7h1M390.9 696.4h1M423.4 674.7h1M394.2 693.3h1M409.5 695.3h1M413.1 702.5h1M375.6 711.1h1M391.6 701.3h1M408.9 684.9h1M376.1 705.0h1M404.2 688.1h1M387.5 700.6h1M400.5 709.8h1M391.2 721.4h1M405.3 682.7h1M375.9 702.0h1M391.7 699.8h1M399.2 695.8h1M389.5 697.0h1M400.4 701.0h1M414.2 713.1h1M408.6 701.6h1M372.0 692.4h1M375.3 699.5h1M381.0 691.2h1M399.0 697.2h1M410.7 706.0h1M394.0 699.4h1M405.3 690.1h1M384.2 713.8h1M404.4 677.3h1M396.1 690.9h1M403.8 690.8h1M379.5 718.1h1M388.9 708.3h1M388.6 702.4h1M391.3 701.7h1M400.5 697.2h1M376.9 708.0h1M423.7 691.0h1M395.0 693.5h1M373.7 699.2h1M381.8 708.8h1M397.4 699.1h1M399.0 714.9h1M406.4 681.8h1M396.0 691.5h1M394.7 689.6h1M381.3 706.2h1M411.6 666.8h1M398.3 703.4h1M418.5 692.7h1M400.0 688.0h1M390.4 704.4h1M404.6 704.6h1M397.0 704.5h1M377.6 702.8h1M384.2 701.8h1M386.1 705.2h1M385.6 703.6h1M395.5 697.7h1M401.9 704.6h1M395.2 694.2h1M416.4 705.7h1M388.7 700.0h1M384.5 705.2h1M379.6 691.1h1M385.2 695.1h1M389.2 704.3h1M397.0 712.9h1M395.3 699.4h1M400.4 701.2h1M389.5 672.8h1M387.9 705.7h1M396.7 694.0h1M387.7 708.0h1M405.5 697.1h1M391.4 700.8h1M380.5 683.8h1M390.2 709.0h1M411.7 686.8h1M393.2 694.6h1M401.1 695.7h1M400.8 714.2h1M401.8 701.7h1M395.2 710.0h1M390.4 695.7h1M416.2 679.5h1M404.5 690.0h1M395.4 698.9h1M402.5 703.1h1M388.8 679.7h1M390.2 715.5h1M393.1 715.5h1M391.8 717.2h1M401.5 700.0h1M377.1 698.3h1M382.6 706.8h1M372.2 710.4h1M378.1 671.2h1M389.3 697.6h1M403.5 701.4h1M380.9 693.9h1M417.2 683.2h1M386.5 713.7h1M405.0 699.2h1M383.4 708.8h1M403.0 685.6h1M400.0 684.9h1M371.5 713.5h1M431.8 669.8h1M386.6 704.4h1M394.6 695.6h1M414.4 691.5h1M387.2 686.9h1M373.4 699.5h1M387.6 690.7h1M406.6 717.9h1M406.2 695.7h1M403.0 676.5h1M391.6 707.4h1M384.8 720.7h1M390.0 681.1h1M399.5 687.6h1M386.8 720.8h1M407.2 685.9h1M403.7 685.8h1M392.1 696.4h1M397.0 703.9h1M388.5 721.6h1M406.1 681.2h1M399.0 687.2h1M379.3 686.2h1M372.7 717.0h1M408.8 686.6h1M391.7 706.0h1M400.6 692.0h1M390.9 690.3h1M399.5 697.2h1M376.6 703.9h1M390.4 710.0h1M414.9 675.1h1M400.1 689.7h1M403.4 682.0h1M398.7 679.5h1M398.5 707.2h1M405.7 706.4h1M436.2 681.4h1M403.3 690.7h1M381.9 694.7h1M378.1 678.6h1M381.6 715.8h1M392.0 713.4h1M391.4 703.6h1M412.9 696.9h1M402.8 691.8h1M396.6 684.2h1M419.2 683.7h1M407.8 692.9h1M383.5 687.3h1M389.9 712.1h1M403.3 699.4h1M407.0 684.6h1M389.1 708.1h1M395.9 696.0h1M374.7 694.7h1M387.8 680.5h1M396.3 706.4h1M387.1 701.1h1M395.7 706.2h1M411.8 672.8h1M394.7 694.9h1M414.1 701.6h1M373.5 714.4h1M400.4 695.7h1M384.2 715.1h1M410.1 672.3h1M403.2 719.6h1M395.5 700.2h1M408.9 688.3h1M398.8 682.6h1M396.7 699.5h1M391.7 703.6h1M388.2 689.1h1M409.8 684.0h1M410.7 682.2h1M416.1 695.1h1M420.5 668.3h1M397.7 678.7h1M387.1 700.5h1M383.7 696.2h1M388.4 711.1h1M399.5 678.8h1M392.2 685.3h1M386.5 715.9h1M401.4 704.3h1M393.3 687.4h1M403.8 682.3h1M389.1 690.3h1M396.8 693.0h1M416.9 663.0h1M395.5 706.2h1M382.1 699.5h1M397.8 689.8h1M391.9 718.0h1M384.0 702.4h1M394.8 694.7h1M384.0 707.4h1M384.2 709.3h1M411.1 704.9h1M377.4 702.3h1M374.4 699.0h1M387.2 707.6h1M392.1 706.9h1M404.0 683.3h1M409.7 705.0h1M400.8 685.5h1M404.2 689.7h1M403.9 676.4h1M386.2 718.1h1M401.9 686.8h1M378.1 700.2h1M393.3 696.8h1M396.3 716.0h1M423.7 696.7h1M409.8 706.5h1M391.8 693.6h1M381.9 687.1h1M399.2 695.4h1M410.2 683.4h1M394.7 704.6h1M392.7 709.5h1M401.5 701.2h1M387.6 705.7h1M392.2 714.5h1M413.5 690.3h1M415.0 691.0h1M408.7 680.3h1M378.4 690.7h1M380.0 690.1h1M398.9 689.4h1M403.9 676.2h1M383.3 682.6h1M401.8 684.7h1M414.1 707.4h1M392.3 710.1h1M377.8 689.1h1M407.4 691.2h1M389.2 717.9h1M403.4 694.4h1M390.8 713.2h1M390.6 699.8h1M381.4 700.1h1M389.1 706.1h1M404.1 696.8h1M399.4 708.7h1M391.7 694.9h1M415.0 693.5h1M398.4 688.8h1M407.5 680.8h1M386.6 711.4h1M394.1 689.5h1M390.3 711.4h1M403.8 689.7h1M377.1 712.9h1M407.3 699.6h1M393.6 698.7h1M398.3 696.7h1M388.9 699.4h1M377.3 702.9h1M400.9 691.3h1M390.8 685.3h1M405.5 687.5h1M396.4 679.1h1M385.7 690.4h1M398.5 689.1h1M376.3 720.9h1M400.6 701.5h1M383.1 699.8h1M412.4 668.4h1M397.3 698.6h1M380.2 720.0h1M374.2 697.1h1M384.8 698.8h1M411.7 671.5h1M402.5 701.6h1M393.6 687.7h1M400.7 683.2h1M385.6 709.5h1M386.2 708.4h1M408.0 679.1h1M405.3 688.0h1M410.9 670.1h1M413.8 687.5h1M408.5 695.1h1M406.8 680.6h1M378.0 709.3h1M397.4 677.8h1M397.7 702.1h1M411.1 699.6h1M402.2 675.7h1M383.5 695.2h1M373.7 698.4h1M395.1 707.9h1M394.4 690.1h1M399.3 684.9h1M385.0 698.1h1M394.3 713.7h1M398.3 688.9h1M409.4 700.0h1M400.8 687.5h1M404.6 696.7h1M403.4 694.7h1M390.9 701.4h1M398.2 700.6h1M401.5 674.2h1M388.9 707.3h1M388.6 700.7h1M413.4 711.5h1M415.6 696.3h1M407.5 697.4h1M421.6 687.0h1M375.2 695.2h1M384.2 679.1h1M397.5 682.8h1M404.9 707.6h1M376.4 715.2h1M410.9 678.6h1M396.1 699.3h1M403.3 692.4h1M383.3 702.8h1M420.2 685.9h1M413.5 687.1h1M398.2 691.0h1M380.8 720.8h1M383.5 707.1h1M373.7 704.1h1M394.5 694.9h1M392.1 701.3h1M374.8 713.7h1M394.3 698.1h1M387.1 695.6h1M394.8 705.9h1M408.6 691.8h1M395.4 701.7h1M396.4 693.0h1M408.9 661.6h1M397.5 706.9h1M399.7 675.3h1M405.7 679.7h1M415.3 685.2h1M407.7 668.2h1M393.9 700.1h1M382.1 695.6h1M394.3 691.6h1M374.5 699.2h1M402.0 698.2h1M382.9 721.5h1M386.7 699.3h1M397.5 691.4h1M399.8 678.3h1M408.5 714.6h1M373.2 716.7h1M393.9 691.9h1M399.7 692.8h1M404.6 706.1h1M396.7 683.8h1M380.7 693.7h1M390.5 699.8h1M386.7 683.8h1M398.4 705.9h1M393.4 692.6h1M408.5 692.2h1M402.0 703.3h1M393.1 681.6h1M387.1 714.6h1M410.2 691.9h1M391.8 702.2h1M387.1 681.5h1M397.9 696.7h1M413.0 690.0h1M406.0 707.2h1M373.1 684.2h1M393.0 692.0h1M421.7 684.5h1M411.1 674.4h1M387.2 701.7h1M410.5 678.8h1M391.4 718.7h1M412.2 698.1h1M394.8 701.4h1M391.4 678.4h1M411.6 704.3h1M371.7 696.6h1M392.3 700.9h1M419.3 687.2h1M396.6 685.5h1M399.7 701.4h1M385.8 709.4h1M396.2 697.5h1M389.0 715.4h1M376.2 695.3h1M420.1 674.6h1M398.4 696.8h1M382.4 706.0h1M395.8 681.0h1M402.2 703.0h1M391.8 706.3h1M397.7 719.5h1M406.6 692.3h1M377.5 715.2h1M404.3 685.5h1M378.8 699.7h1M400.5 707.0h1M414.9 691.3h1M391.1 708.9h1M405.9 693.4h1M394.1 701.9h1M411.6 717.8h1M387.0 707.0h1M389.8 689.1h1M390.5 700.7h1M374.0 710.3h1M400.9 683.4h1M410.8 694.7h1M400.7 696.2h1M402.9 712.9h1M394.2 715.3h1M393.1 703.8h1M400.9 703.6h1M406.8 696.2h1M402.8 686.4h1M401.0 690.4h1M404.3 666.1h1M378.7 716.3h1M400.7 688.2h1M408.6 689.7h1M386.2 706.4h1M408.7 686.6h1M399.0 712.0h1M394.6 695.8h1M398.1 697.7h1M402.9 691.2h1M404.7 699.4h1M416.5 672.4h1M397.5 691.1h1M391.6 687.2h1M395.3 694.5h1M400.9 708.3h1M382.7 706.7h1M395.1 707.1h1M398.7 680.5h1M371.4 709.3h1M381.2 710.3h1M419.7 685.5h1M424.5 684.4h1M391.9 700.0h1M385.5 711.3h1M399.8 693.0h1M390.2 691.1h1M399.9 679.1h1M396.7 677.2h1M401.0 717.3h1M428.4 702.0h1M403.3 689.1h1M383.9 696.3h1M396.6 691.9h1M417.3 680.5h1M409.9 690.1h1M404.3 677.7h1M395.2 691.6h1M412.6 697.6h1M399.2 674.3h1M394.7 694.9h1M391.3 704.9h1M392.2 700.8h1M411.2 706.9h1M385.5 683.6h1M402.7 694.2h1M402.8 682.6h1M404.3 691.2h1M391.7 688.8h1M378.0 678.4h1M395.1 709.3h1M398.8 718.2h1M391.2 713.7h1M404.7 694.2h1M409.7 668.5h1M396.9 687.3h1M393.4 700.3h1M402.8 677.9h1M373.2 718.1h1M402.9 688.2h1M392.3 701.1h1M400.0 706.9h1M379.9 694.5h1M391.2 692.3h1M409.4 706.2h1M413.9 702.3h1M392.7 692.2h1M372.7 704.7h1M393.3 691.8h1M413.5 695.4h1M403.1 708.8h1M413.9 683.7h1M411.2 701.4h1M378.2 705.3h1M406.6 690.1h1M403.6 696.1h1M401.5 690.0h1M393.6 698.4h1M396.0 689.3h1M389.8 695.1h1M413.5 680.6h1M409.3 704.2h1M385.8 687.1h1M398.2 689.9h1M421.0 688.1h1M415.4 684.3h1M381.2 704.8h1M406.1 701.2h1M381.7 719.7h1M415.6 713.6h1M381.5 698.7h1M418.2 685.6h1M397.4 684.0h1M371.7 710.5h1M387.5 709.3h1M408.2 701.0h1M393.7 702.4h1M405.6 701.7h1M404.8 705.5h1M382.6 717.8h1M372.2 712.2h1M385.4 692.9h1M371.4 707.0h1M407.0 687.2h1M391.8 680.8h1M402.6 691.4h1M389.3 666.9h1M386.5 695.1h1M394.7 670.5h1M388.7 711.1h1M395.1 709.6h1M389.3 691.1h1M423.1 688.3h1M422.3 696.2h1M389.3 704.3h1M396.1 701.2h1M405.4 667.3h1M406.0 679.3h1M399.4 693.8h1M424.3 682.8h1M404.9 691.2h1M390.7 696.0h1M400.7 712.5h1M396.0 713.2h1M382.5 698.7h1M379.1 696.2h1M412.1 691.7h1M410.7 680.3h1M394.4 684.1h1M380.6 702.2h1M371.2 717.2h1M424.9 671.2h1M383.6 698.1h1M390.1 708.3h1M386.3 720.2h1M417.4 688.2h1M410.7 691.2h1M398.8 697.9h1M400.4 706.1h1M410.5 679.2h1M387.6 687.2h1M391.6 687.6h1M395.2 690.2h1M393.6 685.5h1M397.1 691.0h1M404.1 693.9h1M382.8 691.6h1M400.2 690.2h1M393.9 692.4h1M387.1 717.8h1M422.8 693.8h1M404.4 697.1h1M372.3 715.5h1M399.8 689.3h1M408.2 700.1h1M401.7 684.1h1M396.1 686.7h1M398.6 697.0h1M408.8 702.8h1M386.7 718.4h1M388.7 695.7h1M401.6 698.1h1M413.9 699.1h1M380.8 680.6h1M386.8 708.1h1M395.6 686.8h1M395.4 696.3h1M379.1 683.1h1M399.5 707.8h1M381.7 716.4h1M405.1 709.6h1M391.2 688.8h1M376.2 690.2h1M406.6 696.8h1M389.4 709.1h1M394.1 688.7h1M397.5 685.7h1M398.0 698.7h1M412.4 680.0h1M399.9 708.3h1M406.9 685.8h1M381.4 705.4h1M387.5 700.3h1M394.8 709.9h1M382.0 699.2h1M414.2 684.1h1M380.1 693.4h1M400.2 704.1h1M399.9 680.6h1M400.7 694.1h1M405.0 687.1h1M399.6 686.9h1M398.8 703.5h1M395.7 716.1h1M399.9 692.6h1M400.5 685.4h1M390.9 700.4h1M404.2 699.9h1M381.3 705.4h1M405.5 687.4h1M389.4 697.8h1M387.1 705.1h1M411.4 694.5h1M396.6 684.2h1M388.9 693.7h1M371.8 722.0h1M405.1 689.8h1M405.4 694.8h1M389.8 710.4h1M401.1 699.1h1M397.3 687.6h1M389.7 706.1h1M391.9 699.3h1M406.2 689.9h1M422.8 659.4h1M396.2 687.9h1M379.2 691.0h1M381.2 703.0h1M395.0 689.0h1M401.2 693.7h1M410.0 678.8h1M395.7 713.1h1M421.2 677.4h1M384.3 703.0h1M389.3 695.6h1M406.0 708.9h1M391.1 688.7h1M409.2 680.6h1M404.2 691.9h1M384.4 716.1h1M404.3 691.3h1M406.4 690.5h1M395.9 704.3h1M402.4 683.3h1M379.1 715.9h1M407.9 686.0h1M416.3 686.7h1M420.6 674.5h1M397.9 694.6h1M395.2 699.7h1M381.8 689.8h1M411.8 680.9h1M405.9 694.5h1M404.2 686.2h1M387.0 695.4h1M422.7 698.2h1M387.8 714.3h1M404.0 687.9h1M388.4 709.4h1M386.3 682.5h1M398.7 689.8h1M383.3 689.1h1M384.7 699.0h1M388.4 690.4h1M375.7 722.2h1M404.9 692.7h1M407.3 705.2h1M389.1 702.6h1M396.5 678.9h1M382.0 692.1h1M401.0 717.3h1M410.2 685.8h1M393.5 684.9h1M385.7 683.0h1M410.5 697.9h1M407.7 720.7h1M392.8 705.0h1M382.1 690.3h1M397.4 703.4h1M388.9 696.5h1M415.2 687.8h1M400.2 700.2h1M395.0 691.9h1M398.4 689.3h1M394.7 701.5h1M400.8 695.4h1M392.9 700.7h1M378.4 705.1h1M390.4 696.5h1M391.2 707.0h1M384.4 704.6h1M401.8 696.8h1M422.0 681.0h1M384.9 683.3h1M402.3 703.6h1M420.5 691.7h1M419.6 674.8h1M398.8 703.9h1M388.4 720.0h1M387.3 702.0h1M409.3 700.1h1M431.5 669.9h1M405.8 688.3h1M404.2 679.0h1M374.8 709.9h1M410.6 682.2h1M406.2 678.6h1M382.3 676.1h1M389.0 706.2h1M405.8 688.4h1M389.8 702.9h1M393.0 699.9h1M376.3 685.8h1M393.4 705.0h1M412.9 679.0h1M400.4 695.8h1M394.3 692.6h1M393.4 693.2h1M418.6 671.2h1M413.0 686.0h1M379.7 705.9h1M392.1 710.8h1M386.8 691.3h1M383.4 704.9h1M410.1 701.2h1M410.9 689.7h1M389.3 698.2h1M399.5 678.3h1M402.3 676.7h1M393.4 693.6h1M371.2 689.0h1M387.7 683.5h1M398.1 706.4h1M408.9 689.8h1M394.0 700.8h1M406.2 708.4h1M406.5 696.3h1M375.8 707.0h1M386.0 689.6h1M399.6 707.5h1M415.9 677.0h1M377.9 705.3h1M401.8 690.8h1M406.0 685.5h1M389.2 699.8h1M402.6 704.3h1M379.4 701.6h1M376.5 689.8h1M405.4 682.0h1M392.3 704.1h1M389.3 698.7h1M387.0 695.5h1M401.4 705.4h1M390.5 697.1h1M388.2 696.8h1M416.6 670.6h1M394.5 694.6h1M398.5 694.9h1M414.5 684.4h1M413.8 679.9h1M407.8 708.5h1M389.9 689.9h1M405.0 701.9h1M396.5 693.8h1M390.0 690.9h1M421.2 677.4h1M404.9 694.9h1M381.4 699.8h1M413.3 694.6h1M392.0 688.7h1M398.9 686.5h1M400.3 704.3h1M392.7 709.9h1M405.0 689.9h1M398.9 712.3h1M420.5 688.0h1M411.4 691.6h1M391.4 695.3h1M410.8 675.4h1M405.1 697.5h1M408.0 686.8h1M405.8 694.8h1M405.1 699.5h1M386.3 686.8h1M407.3 696.1h1M385.1 688.2h1M385.0 700.6h1M392.0 695.5h1M423.3 668.6h1M415.5 683.4h1M382.0 705.4h1M401.9 704.7h1M385.6 680.5h1M406.7 691.8h1M383.2 691.6h1M400.7 685.5h1M403.2 701.1h1M371.5 715.4h1M393.8 703.0h1M401.7 692.7h1M372.6 711.4h1M380.0 693.9h1M411.8 700.9h1M404.5 700.9h1M402.7 703.8h1M401.2 715.4h1M392.4 689.6h1M397.3 705.8h1M375.6 716.9h1M400.2 709.9h1M376.7 717.2h1M372.4 702.2h1M385.2 711.0h1M417.5 669.2h1M402.1 706.7h1M406.0 667.9h1M387.8 692.1h1M401.4 669.6h1M393.1 689.9h1M407.1 710.8h1M386.8 677.5h1M393.0 697.3h1M381.9 711.2h1M409.7 664.8h1M376.7 689.9h1M390.9 693.5h1M386.5 704.8h1M400.8 704.1h1M399.6 697.7h1M412.1 716.1h1M408.0 706.2h1M390.8 691.8h1M390.2 702.1h1M399.2 696.5h1M390.0 687.9h1M413.0 688.3h1M401.2 682.6h1M399.9 703.2h1M384.7 700.8h1M406.4 703.9h1M414.2 683.2h1M379.8 672.6h1M394.2 714.7h1M412.9 685.7h1M405.7 708.4h1M383.5 703.3h1M395.0 699.6h1M416.8 692.6h1M401.9 707.1h1M411.0 695.0h1M404.6 699.8h1M404.3 702.1h1M408.2 705.1h1M396.1 714.0h1M397.1 699.7h1M401.8 710.8h1M397.1 686.8h1M398.9 676.8h1M392.7 703.2h1M400.3 699.3h1M399.7 674.7h1M391.6 705.2h1M403.0 685.6h1M413.8 695.7h1M406.9 684.6h1M408.1 696.8h1M420.5 687.0h1M390.1 694.5h1M425.9 682.6h1M384.4 679.9h1M391.6 689.6h1M398.5 704.7h1M396.3 717.2h1M409.8 703.1h1M411.5 695.4h1M410.4 693.8h1M400.8 692.8h1M389.9 700.9h1M386.7 710.1h1M419.5 675.8h1M418.5 687.1h1M409.8 694.5h1M404.0 682.5h1M393.8 691.9h1M393.6 696.2h1M386.0 696.8h1M382.3 711.1h1M407.7 667.1h1M404.6 696.7h1M387.9 711.0h1M384.7 707.4h1M393.8 704.6h1M393.3 704.2h1M400.7 711.9h1M414.0 701.0h1M387.6 697.2h1M425.2 670.5h1M401.5 691.4h1M417.3 683.9h1M413.2 674.1h1M388.2 690.7h1M385.2 696.7h1M378.1 708.5h1M381.9 715.4h1M404.1 705.4h1M374.2 705.2h1M375.0 701.4h1M388.8 684.3h1M403.5 690.6h1M406.5 683.5h1M385.2 695.2h1M418.1 677.8h1M387.9 708.1h1M383.4 672.9h1M393.2 695.6h1M383.5 695.1h1M401.2 674.9h1M403.0 705.1h1M392.6 686.3h1M401.9 709.1h1M403.7 636.8h1M409.3 645.0h1M410.2 630.6h1M398.6 633.5h1M410.2 634.0h1M405.5 633.9h1M404.7 628.5h1M405.6 640.6h1M401.5 640.3h1M397.3 625.3h1M401.7 639.5h1M410.0 636.7h1M409.3 644.4h1M406.6 635.2h1M403.1 633.5h1M402.8 636.7h1M405.4 631.9h1M409.9 629.7h1M406.1 631.7h1M402.5 641.7h1M405.2 643.4h1M407.4 628.9h1M407.4 633.7h1M407.4 643.1h1M401.1 629.8h1M403.3 631.1h1M408.9 633.4h1M405.3 629.2h1M405.9 629.0h1M399.9 621.8h1M405.6 627.5h1M407.0 633.9h1M401.7 634.2h1M399.9 635.4h1M396.4 628.6h1M404.2 630.5h1M405.9 628.5h1M404.3 624.5h1M391.9 640.6h1M403.8 622.6h1M402.5 630.8h1M396.1 641.2h1M405.9 635.1h1M400.7 635.5h1M407.3 632.5h1M393.8 637.6h1M405.9 631.2h1M408.2 632.9h1M403.5 634.7h1M407.7 640.8h1M413.7 640.5h1M401.2 621.7h1M407.0 625.3h1M398.4 622.6h1M407.2 642.2h1M403.3 623.6h1M398.0 622.5h1M413.8 632.6h1M397.8 644.7h1M408.5 635.4h1M397.3 625.3h1M404.2 651.5h1M404.5 628.7h1M404.2 627.9h1M404.9 619.6h1M415.1 630.1h1M405.3 628.4h1M406.5 626.3h1M399.4 641.2h1M404.1 636.8h1M398.9 636.4h1M413.0 639.6h1M402.5 629.6h1M399.6 632.7h1M402.8 626.9h1M399.0 625.4h1M397.0 631.3h1M394.2 636.0h1M409.0 641.7h1M401.2 631.2h1M403.3 631.5h1M403.7 628.6h1M404.5 639.3h1M412.4 643.2h1M406.7 641.5h1M404.1 638.5h1M402.0 627.6h1M399.5 634.4h1M417.8 637.5h1M398.7 632.6h1M414.6 635.8h1M402.6 638.2h1M415.7 642.8h1M401.4 635.8h1M403.5 630.1h1M406.8 636.2h1M403.9 626.2h1M405.3 637.5h1M396.4 632.8h1M404.9 641.2h1M408.1 627.0h1M409.0 627.8h1M401.0 622.9h1M400.2 619.1h1M399.9 626.3h1M404.1 633.0h1M404.2 631.6h1M404.7 631.8h1M408.9 636.8h1M406.3 644.8h1M405.8 639.7h1M403.3 621.5h1M401.5 633.0h1M402.6 630.0h1M404.4 638.0h1M401.9 637.8h1M405.0 630.9h1M410.8 635.0h1M409.3 632.0h1M399.4 630.3h1M406.7 638.9h1M398.7 626.5h1M404.3 637.7h1M404.4 623.3h1M405.8 648.8h1M412.9 635.2h1M408.1 638.0h1M403.9 633.0h1M399.1 625.6h1M407.9 639.5h1M406.7 633.3h1M406.4 633.1h1M390.7 625.3h1M408.0 633.0h1M407.6 621.2h1M390.3 626.7h1M399.8 640.8h1M414.0 643.6h1M402.4 638.7h1M415.1 629.1h1M401.3 638.2h1M409.4 631.3h1M406.8 636.8h1M397.0 637.1h1M405.9 638.1h1M408.9 632.2h1M401.6 627.1h1M403.5 635.3h1M408.1 634.9h1M402.7 631.2h1M400.8 628.4h1M404.8 631.1h1M399.9 627.4h1M411.2 640.6h1M402.2 640.2h1M408.9 639.0h1M405.0 632.5h1M407.6 622.5h1M411.1 639.1h1M400.4 639.7h1M406.6 637.9h1M400.5 627.4h1M411.5 637.8h1M410.2 635.6h1M403.8 623.5h1M412.9 629.4h1M400.2 621.5h1M400.9 641.3h1M405.5 624.8h1M395.4 636.0h1M408.4 632.0h1M405.8 630.6h1M410.1 632.8h1M407.2 628.5h1M410.9 632.2h1M404.1 635.7h1M406.9 634.8h1M403.7 638.6h1M412.8 636.0h1M405.7 639.9h1M416.2 634.5h1M400.6 630.0h1M401.4 634.5h1M404.9 640.5h1M411.1 626.2h1M407.9 628.4h1M403.0 624.4h1M406.0 639.3h1M405.4 636.4h1M398.2 631.9h1M405.0 634.1h1M409.9 630.0h1M408.7 636.7h1M405.7 636.7h1M405.7 626.9h1M413.2 647.4h1M405.3 637.0h1M400.3 652.3h1M399.8 640.8h1M407.1 646.2h1M404.6 632.9h1M403.6 632.3h1M403.1 634.4h1M411.6 631.8h1M400.5 633.8h1M406.8 634.7h1M404.4 630.9h1M413.1 634.1h1M409.0 635.9h1M406.7 620.2h1M398.0 622.6h1M405.6 636.4h1M406.0 629.9h1M413.6 638.2h1M395.1 631.2h1M407.0 635.1h1M405.5 635.3h1M407.2 635.0h1M410.5 641.5h1M406.1 633.1h1M400.9 635.3h1M403.5 637.0h1M412.1 633.3h1M405.5 633.8h1M407.8 629.6h1M409.4 646.8h1M399.1 635.5h1M407.1 642.8h1M413.8 637.7h1M406.9 636.4h1M403.0 640.7h1M398.9 637.4h1M401.0 630.7h1M403.0 637.8h1M407.1 626.6h1M398.8 638.2h1M409.9 631.5h1M410.0 633.5h1M400.3 629.8h1M409.9 632.3h1M392.7 628.7h1M396.8 638.2h1M402.7 621.1h1M410.9 641.7h1M405.4 637.2h1M399.8 629.4h1M407.6 636.1h1M414.3 638.5h1M404.2 642.4h1M413.8 634.5h1M408.3 643.8h1M406.4 634.2h1M408.8 637.8h1M409.6 624.7h1M403.4 641.2h1M410.2 629.3h1M398.0 634.6h1M403.3 639.8h1M404.4 635.7h1M401.9 630.8h1M412.1 624.3h1M405.3 622.8h1M409.9 643.6h1M417.9 644.0h1M410.6 632.2h1M398.1 631.3h1M403.0 643.5h1M403.5 635.6h1M397.2 638.9h1M409.2 641.6h1M403.1 630.0h1M406.4 638.6h1M388.8 628.2h1M410.6 645.1h1M391.5 622.9h1M405.8 632.0h1M410.9 632.2h1M399.7 626.7h1M406.7 632.6h1M406.0 634.7h1M404.1 629.0h1M411.4 642.4h1M407.0 626.2h1M403.4 634.0h1M405.4 637.3h1M404.2 638.8h1M405.4 625.3h1M406.7 624.4h1M406.7 629.6h1M415.5 636.5h1M402.0 636.7h1M400.9 625.7h1M401.6 633.4h1M409.2 631.6h1M403.6 629.5h1M399.9 621.2h1M398.9 632.5h1M398.6 638.4h1M408.8 643.1h1M405.3 632.5h1M407.0 634.5h1M404.8 641.7h1M408.9 633.8h1M407.6 637.3h1M404.4 644.7h1M411.6 633.6h1M400.8 635.8h1M404.6 636.4h1M405.8 636.1h1M401.7 630.1h1M404.9 633.9h1M403.8 632.6h1M404.8 635.7h1M408.3 636.6h1M405.2 622.3h1M403.5 639.6h1M406.0 645.4h1M400.3 625.5h1M402.6 630.8h1M405.9 633.4h1M409.9 627.7h1M412.1 635.8h1M410.6 635.3h1M401.9 626.0h1M404.6 634.9h1M405.3 627.0h1M413.6 640.1h1M405.6 633.6h1M404.3 636.6h1M408.8 638.2h1M407.3 648.5h1M403.0 635.2h1M404.3 631.5h1M404.2 631.0h1M404.0 633.4h1M400.6 642.7h1M401.1 628.2h1M406.2 631.6h1M403.4 639.5h1M409.8 636.1h1M416.5 636.7h1M412.1 632.6h1M400.6 630.9h1M408.2 637.8h1M408.6 635.7h1M406.6 633.3h1M399.8 634.0h1M398.9 641.1h1M400.5 634.4h1M395.8 622.0h1M410.4 640.8h1M400.7 628.3h1M407.4 620.6h1M408.5 633.4h1M406.1 624.5h1M403.4 637.2h1M408.4 637.4h1M405.1 627.0h1M401.6 637.9h1M403.6 628.3h1M403.9 638.8h1M411.9 635.4h1M402.0 628.8h1M401.7 632.5h1M398.6 635.3h1M402.4 635.0h1M402.4 632.1h1M397.6 626.4h1M405.2 631.5h1M412.1 636.0h1M403.8 631.1h1M400.5 640.3h1M394.4 630.7h1M405.2 632.4h1M406.4 636.7h1M405.8 645.7h1M403.1 634.5h1M403.8 642.9h1M410.0 641.1h1M405.4 638.2h1M400.2 630.9h1M397.0 625.3h1M405.4 632.2h1M399.2 615.7h1M408.6 628.6h1M400.7 632.1h1M412.8 640.6h1M408.6 633.5h1M401.1 619.0h1M401.9 632.1h1M409.3 639.5h1M414.0 644.7h1M398.8 631.4h1M406.1 636.7h1M405.7 624.7h1M404.0 640.6h1M398.6 628.0h1M409.6 644.4h1M398.7 637.3h1M406.2 630.4h1M398.9 631.2h1M412.9 632.0h1M402.9 625.2h1M408.4 630.7h1M407.5 644.4h1M412.1 633.1h1M407.4 636.3h1M405.7 620.8h1M404.2 632.2h1M415.3 632.0h1M396.7 634.2h1M409.2 632.9h1M406.2 634.7h1M404.6 645.7h1M403.1 623.0h1M397.7 628.3h1M403.3 631.6h1M414.1 638.0h1M391.7 628.0h1M405.1 635.5h1M411.3 630.6h1M415.8 627.2h1M403.8 631.3h1M395.9 636.9h1M405.6 639.1h1M402.8 623.7h1M410.8 637.8h1M408.2 634.2h1M393.4 631.8h1M413.1 636.9h1M396.6 631.4h1M413.9 643.1h1M399.5 635.1h1M401.6 648.7h1M407.1 629.4h1M410.1 644.2h1M412.0 622.6h1M411.3 634.2h1M414.2 646.5h1M407.3 639.3h1M402.6 640.7h1M409.7 630.8h1M401.6 640.2h1M405.5 635.1h1M401.1 627.9h1M417.1 641.4h1M405.0 640.8h1M408.7 638.9h1M401.1 635.7h1M404.7 627.4h1M393.6 634.7h1M395.6 634.5h1M396.2 630.5h1M406.4 632.8h1M412.8 638.5h1M404.7 633.7h1M401.8 629.9h1M395.9 640.3h1M408.2 631.5h1M410.6 635.5h1M401.9 621.2h1M395.5 637.3h1M405.8 629.0h1M394.3 635.7h1M415.0 641.2h1M407.5 624.9h1M408.3 628.0h1M400.1 634.1h1M397.8 630.7h1M397.8 622.6h1M402.0 634.8h1M403.0 632.2h1M403.0 633.6h1M409.3 647.3h1M399.7 638.4h1M403.5 632.9h1M406.9 640.2h1M402.8 637.7h1M403.5 630.4h1M413.5 643.0h1M401.9 630.4h1M406.1 645.1h1M401.7 640.8h1M408.2 624.2h1M402.3 632.8h1M405.8 643.8h1M408.3 645.6h1M397.0 629.8h1M405.6 631.4h1M404.4 628.5h1M400.7 629.5h1M407.2 638.2h1M402.5 627.4h1M405.5 642.0h1M401.5 623.6h1M410.5 650.2h1M410.8 632.4h1M410.1 636.7h1M403.9 630.4h1M407.1 639.4h1M409.1 627.4h1M405.8 638.1h1M405.2 633.3h1M410.0 641.1h1M407.1 631.8h1M403.9 632.8h1M413.3 639.2h1M401.6 627.8h1M405.3 623.2h1M405.5 638.3h1M411.4 637.6h1M397.1 623.9h1M408.2 639.9h1M401.9 640.4h1M386.7 631.8h1M403.3 631.9h1M400.3 626.5h1M398.4 627.6h1M408.7 635.7h1M406.7 631.9h1M403.2 629.5h1M407.5 637.3h1M405.8 643.1h1M411.4 628.2h1M409.0 648.2h1M407.7 638.4h1M399.5 634.3h1M410.9 629.4h1M402.7 632.8h1M400.8 631.4h1M397.6 630.6h1M401.8 641.0h1M419.7 632.1h1M404.3 628.7h1M404.1 633.5h1M402.6 642.3h1M405.0 637.1h1M399.1 643.8h1M399.5 634.6h1M403.4 627.6h1M410.1 639.4h1M394.3 626.2h1M400.4 634.8h1M399.8 641.4h1M403.6 619.0h1M405.5 635.5h1M399.9 628.3h1M397.8 629.7h1M406.0 638.8h1M401.2 632.3h1M400.7 630.0h1M399.3 630.4h1M405.6 636.7h1M397.9 632.9h1M403.7 635.4h1M412.1 642.3h1M402.5 639.3h1M406.8 630.2h1M415.2 643.8h1M407.8 633.6h1M404.5 636.8h1M409.0 633.6h1M403.5 640.7h1M402.1 640.8h1M409.5 631.9h1M392.7 638.2h1M406.0 628.0h1M410.5 631.2h1M399.7 638.4h1M399.1 636.8h1M402.4 626.1h1M392.0 622.3h1M410.6 632.6h1M398.5 642.3h1M407.9 634.1h1M405.0 637.1h1M406.1 634.8h1M406.7 627.0h1M409.0 628.2h1M397.8 626.7h1M401.9 632.8h1M402.1 642.2h1M399.7 644.5h1M403.1 624.6h1M409.0 625.1h1M402.3 646.2h1M409.2 649.3h1M409.4 627.2h1M395.3 636.0h1M414.5 627.5h1M405.2 632.0h1M404.6 635.5h1M400.6 635.3h1M407.2 623.4h1M400.4 630.6h1M409.2 639.3h1M410.7 628.8h1M405.4 638.9h1M405.9 639.0h1M415.1 624.2h1M400.5 645.9h1M396.8 632.3h1M396.5 635.9h1M413.9 643.8h1M408.8 632.0h1M400.4 633.5h1M405.2 619.2h1M396.1 631.6h1M406.2 631.5h1M400.1 620.0h1M403.1 641.3h1M401.4 636.1h1M404.4 625.9h1M404.1 635.5h1M406.6 646.8h1M411.5 639.5h1M410.4 637.6h1M407.4 638.2h1M412.3 641.4h1M405.2 635.3h1M411.9 635.4h1M404.3 628.9h1M404.1 643.7h1M412.2 636.1h1M408.7 640.2h1M403.5 638.0h1M403.7 634.2h1M403.7 620.6h1M405.9 625.5h1M408.7 642.1h1M400.0 636.4h1M400.9 625.2h1M399.5 633.2h1M402.0 629.7h1M404.2 643.2h1M402.5 626.8h1M401.4 643.4h1M405.6 630.4h1M403.3 632.7h1M413.7 638.2h1M396.8 615.7h1M409.5 627.9h1M399.3 646.4h1M412.6 627.8h1M413.8 630.2h1M408.2 624.8h1M394.5 619.3h1M403.9 633.4h1M410.3 633.0h1M412.4 632.1h1M408.2 623.8h1M397.3 637.9h1M405.0 631.7h1M407.6 630.9h1M412.4 637.5h1M407.6 626.6h1M399.8 628.6h1M404.1 636.0h1M402.8 630.9h1M404.6 626.5h1M397.8 639.7h1M415.2 639.0h1M398.1 626.9h1M411.2 635.4h1M405.4 638.3h1M401.2 635.0h1M411.0 629.9h1M406.5 642.8h1M413.9 632.2h1M404.0 634.3h1M395.8 620.4h1M404.2 641.9h1M405.5 626.6h1M407.5 630.4h1M403.2 628.4h1M397.3 644.4h1M407.5 640.4h1M403.9 634.7h1M407.0 641.4h1M407.4 624.3h1M393.8 626.5h1M408.4 639.2h1M403.8 639.4h1M395.7 634.4h1M404.9 633.7h1M400.5 639.7h1M407.5 636.6h1M409.1 641.4h1M394.8 637.7h1M413.6 631.4h1M399.9 632.9h1M411.6 642.0h1M409.4 630.8h1M401.4 634.3h1M401.4 632.8h1M406.1 642.9h1M402.1 631.7h1M407.6 630.5h1M404.8 639.4h1M400.7 641.4h1M408.9 651.7h1M395.5 649.3h1M403.3 640.2h1M403.2 652.4h1M408.9 640.3h1M402.6 654.9h1M403.7 651.3h1M408.5 659.0h1M411.1 635.3h1M404.9 647.0h1M406.4 647.2h1M414.1 648.4h1M400.1 644.5h1M399.1 639.4h1M405.9 639.6h1M401.1 641.6h1M402.1 652.3h1M407.1 647.1h1M399.7 645.8h1M398.5 642.2h1M401.8 638.3h1M398.3 637.4h1M407.2 645.5h1M400.1 636.8h1M409.6 646.3h1M397.1 644.1h1M401.6 657.5h1M401.9 641.5h1M404.6 644.3h1M401.2 648.8h1M411.1 658.0h1M396.4 646.1h1M408.4 647.1h1M399.4 649.8h1M404.4 642.5h1M401.5 657.3h1M406.8 649.1h1M401.7 641.5h1M404.8 645.5h1M401.3 647.2h1M406.7 650.6h1M397.8 634.4h1M399.6 646.4h1M398.0 644.6h1M403.6 653.1h1M405.6 647.0h1M404.2 639.1h1M405.0 653.0h1M412.6 647.5h1M409.4 646.5h1M401.5 643.7h1M400.0 636.4h1M395.0 649.1h1M409.9 646.7h1M402.7 635.4h1M410.3 647.6h1M404.1 659.0h1M409.0 646.8h1M407.7 648.8h1M400.9 646.7h1M403.8 654.5h1M400.4 651.1h1M407.4 645.9h1M399.6 639.3h1M412.1 639.1h1M403.0 653.5h1M402.4 640.4h1M397.7 639.5h1M408.9 641.3h1M393.5 642.1h1M398.3 655.3h1M409.8 656.3h1M406.3 641.8h1M398.1 640.8h1M396.4 651.6h1M404.9 628.8h1M403.7 643.3h1M407.4 647.3h1M393.5 642.3h1M395.8 648.0h1M396.0 651.9h1M402.8 650.7h1M394.9 639.2h1M404.0 648.1h1M404.0 648.3h1M402.3 651.3h1M408.2 641.6h1M411.8 645.0h1M399.0 647.4h1M401.8 655.6h1M413.6 655.8h1M404.6 644.9h1M399.7 644.3h1M410.9 659.9h1M399.8 652.9h1M405.2 639.5h1M401.9 649.4h1M405.5 655.6h1M399.4 664.8h1M407.0 643.7h1M399.0 649.9h1M407.5 649.4h1M402.2 644.7h1M403.2 641.1h1M405.1 647.3h1M401.2 640.8h1M397.2 634.3h1M398.6 649.5h1M407.5 642.0h1M403.4 642.5h1M402.2 645.5h1M406.5 652.4h1M405.7 636.5h1M404.7 656.1h1M394.0 638.5h1M403.2 651.5h1M402.1 644.3h1M403.5 652.9h1M398.7 641.0h1M403.6 647.8h1M400.7 655.5h1M396.3 644.5h1M413.0 641.0h1M400.5 645.1h1M401.4 646.1h1M402.0 644.9h1M406.5 648.3h1M397.8 638.5h1M407.2 655.5h1M401.3 642.5h1M400.7 645.7h1M402.4 660.3h1M403.9 630.3h1M398.0 639.8h1M401.3 647.1h1M398.2 646.5h1M405.8 648.3h1M407.0 646.8h1M413.7 658.4h1M408.0 651.2h1M404.0 637.6h1M398.2 641.1h1M408.9 651.8h1M406.1 644.2h1M411.3 651.5h1M404.9 650.7h1M394.6 652.3h1M393.0 648.6h1M404.6 648.9h1M409.6 649.8h1M398.3 654.0h1M398.6 644.4h1M402.1 657.7h1M396.6 636.2h1M402.5 650.6h1M403.2 646.1h1M407.3 655.3h1M401.7 654.2h1M403.2 639.9h1M403.5 648.7h1M397.5 646.4h1M400.6 638.7h1M403.3 647.1h1M404.9 645.2h1M405.1 649.4h1M407.4 654.2h1M401.8 648.8h1M405.0 648.9h1M408.6 655.2h1M404.8 642.8h1M401.2 648.8h1M405.9 648.1h1M399.7 640.8h1M403.7 647.3h1M403.9 642.2h1M411.0 648.8h1M405.9 644.1h1M399.5 642.4h1M402.2 648.1h1M405.8 646.3h1M414.1 653.2h1M405.5 651.5h1M408.5 638.2h1M411.7 652.6h1M402.6 644.4h1M398.6 651.1h1M406.3 648.7h1M407.3 647.6h1M400.3 636.9h1M406.5 640.8h1M402.3 645.3h1M400.6 649.9h1M396.1 637.4h1M405.9 647.5h1M398.1 648.3h1M404.5 637.6h1M398.3 660.2h1M403.6 654.5h1M412.2 647.6h1M400.4 650.0h1M400.4 632.1h1M398.9 639.8h1M405.9 652.7h1M405.0 661.3h1M409.6 650.7h1M400.0 641.1h1M406.1 641.6h1M400.0 640.4h1M401.3 645.2h1M403.3 644.9h1M400.2 644.6h1M404.6 648.0h1M398.3 635.3h1M410.1 650.4h1M409.7 644.1h1M398.7 650.3h1M408.2 648.3h1M412.0 651.3h1M397.0 643.0h1M404.6 643.2h1M398.4 648.7h1M399.9 637.3h1M399.0 639.3h1M402.8 645.0h1M398.5 640.9h1M403.7 652.5h1M391.9 640.5h1M406.9 637.8h1M404.4 648.1h1M408.9 650.9h1M401.1 648.3h1M407.4 650.2h1M398.3 646.0h1M398.7 639.9h1M407.8 645.7h1M404.9 655.0h1M410.6 657.3h1M405.7 640.8h1M400.8 651.8h1M408.2 642.8h1M404.5 648.7h1M403.6 648.6h1M402.5 642.5h1M408.7 639.5h1M402.6 633.7h1M404.8 660.2h1M399.6 649.7h1M404.4 649.1h1M399.2 647.4h1M388.8 648.1h1M398.6 648.9h1M408.2 646.7h1M411.1 654.0h1M401.4 638.9h1M402.8 643.7h1M401.7 644.9h1M401.4 637.6h1M406.9 637.7h1M405.4 646.5h1M406.0 646.4h1M398.8 634.8h1M404.9 650.4h1M397.8 645.3h1M407.8 640.3h1M403.9 648.1h1M402.0 651.2h1M403.1 642.8h1M397.7 656.8h1M407.4 654.7h1M398.0 647.6h1M402.7 645.4h1M406.0 657.8h1M403.1 652.8h1M396.3 652.1h1M403.6 652.7h1M408.3 651.8h1M404.7 645.5h1M399.8 643.1h1M398.1 649.0h1M406.0 651.9h1M401.5 645.3h1M403.9 650.6h1M399.7 648.2h1M396.5 638.1h1M403.6 640.6h1M397.7 639.1h1M397.9 641.5h1M405.0 650.8h1M404.4 645.7h1M404.7 649.0h1M399.1 642.6h1M406.5 656.2h1M402.1 640.7h1M403.8 633.9h1M395.6 649.2h1M398.4 649.5h1M407.9 646.2h1M407.4 649.7h1M397.3 648.0h1M404.0 638.0h1M404.4 665.6h1M393.3 684.3h1M417.8 664.0h1M398.8 655.6h1M391.2 675.6h1M388.3 692.1h1M396.4 666.8h1M414.4 646.7h1M387.3 677.9h1M404.3 655.7h1M400.7 673.4h1M403.7 664.1h1M399.2 671.1h1M398.1 679.3h1M402.6 644.9h1M392.2 666.9h1M400.2 683.0h1M401.1 666.3h1M403.2 652.6h1M393.2 690.8h1M406.1 651.3h1M410.7 654.1h1M393.7 673.1h1M407.9 675.2h1M395.9 678.2h1M389.7 661.0h1M398.9 670.5h1M410.6 661.9h1M393.4 665.8h1M397.6 651.4h1M410.0 653.0h1M397.4 666.2h1M405.7 666.1h1M398.6 664.4h1M403.1 668.1h1M392.4 659.3h1M387.0 678.1h1M390.9 672.5h1M411.5 656.6h1M407.9 657.8h1M395.6 668.4h1M399.9 668.2h1M404.8 657.9h1M389.2 654.3h1M395.1 687.3h1M384.2 673.1h1M406.8 635.7h1M392.0 684.8h1M403.2 665.6h1M391.6 680.6h1M409.6 647.9h1M411.7 633.7h1M401.6 656.2h1M404.1 676.4h1M393.7 660.8h1M397.0 668.8h1M402.2 669.3h1M392.4 687.9h1M389.4 677.5h1M400.4 641.9h1M410.6 656.7h1M388.5 688.6h1M376.9 680.4h1M400.8 659.7h1M402.4 657.2h1M387.0 659.0h1M391.1 694.9h1M398.7 683.6h1M404.2 672.6h1M387.8 666.2h1M399.0 681.7h1M388.9 668.3h1M391.3 664.5h1M390.0 668.7h1M397.4 662.7h1M386.1 663.3h1M399.0 659.2h1M387.2 672.2h1M405.1 650.7h1M405.2 669.8h1M392.0 680.5h1M387.7 664.2h1M402.5 660.2h1M384.6 694.3h1M392.4 683.4h1M390.6 674.7h1M397.1 660.7h1M407.3 656.7h1M397.0 679.3h1M394.0 673.8h1M404.2 642.9h1M391.5 669.8h1M382.7 688.4h1M397.1 657.8h1M396.7 652.1h1M394.1 653.1h1M394.7 662.5h1M399.7 643.3h1M401.4 658.8h1M396.9 661.7h1M407.2 664.4h1M402.1 666.8h1M402.4 672.4h1M411.0 651.1h1M404.3 663.6h1M392.8 669.4h1M395.2 678.3h1M401.4 662.3h1M409.5 662.7h1M384.7 669.6h1M385.1 674.0h1M394.5 679.4h1M397.5 674.8h1M396.6 661.3h1M403.4 662.9h1M398.3 670.0h1M394.9 684.5h1M390.8 670.9h1M405.0 653.8h1M382.6 675.6h1M392.5 672.0h1M406.1 659.0h1M399.9 666.3h1M400.0 668.4h1M401.8 669.5h1M393.9 640.7h1M394.4 676.3h1M403.5 665.4h1M388.6 664.5h1M395.6 666.6h1M396.4 654.2h1M393.8 671.0h1M396.0 679.2h1M406.0 657.6h1M391.7 684.4h1M397.7 670.1h1M400.0 668.9h1M404.1 666.5h1M405.6 660.3h1M395.7 654.1h1M409.1 652.6h1M396.3 660.8h1M396.4 681.7h1M390.5 658.8h1M404.0 668.5h1M390.1 674.0h1M401.6 660.3h1M399.1 651.6h1M403.8 668.7h1M386.8 666.6h1M400.2 660.9h1M403.0 677.5h1M401.8 661.7h1M398.1 661.7h1M420.9 648.9h1M399.2 654.3h1M403.6 649.4h1M391.4 671.7h1M375.0 672.3h1M400.5 657.8h1M386.9 658.4h1M402.7 668.3h1M406.4 664.7h1M397.6 653.0h1M409.4 658.0h1M397.7 658.0h1M399.2 668.5h1M392.4 664.7h1M388.7 680.2h1M401.9 672.3h1M394.0 678.0h1M390.0 659.4h1M396.2 656.6h1M419.3 652.8h1M373.7 694.2h1M383.4 693.0h1M399.6 668.7h1M396.8 658.7h1M405.7 663.6h1M389.6 666.6h1M400.5 655.1h1M388.1 657.6h1M407.2 670.2h1M403.2 663.6h1M389.9 669.5h1M401.2 649.0h1M399.8 671.3h1M406.6 651.2h1M404.9 662.0h1M400.3 677.7h1M407.8 647.6h1M405.2 670.0h1M388.5 678.0h1M401.8 656.6h1M396.7 677.5h1M404.4 677.2h1M401.6 668.7h1M399.3 663.6h1M403.1 660.3h1M399.2 662.5h1M386.6 660.6h1M397.0 662.0h1M400.1 654.0h1M416.0 668.4h1M402.6 658.5h1M399.4 665.2h1M392.7 658.4h1M397.1 661.7h1M398.8 677.9h1M406.8 676.4h1M390.6 666.6h1M399.8 679.0h1M389.2 686.3h1M401.4 662.4h1M408.8 658.9h1M406.7 670.4h1M396.0 647.2h1M396.3 657.7h1M402.2 658.8h1M394.7 671.3h1M390.3 671.3h1M387.4 676.3h1M397.9 676.8h1M394.9 665.8h1M402.1 668.8h1M388.2 662.3h1M401.6 661.7h1M403.5 656.7h1M408.0 664.2h1M407.2 640.8h1M394.6 663.9h1M401.7 668.8h1M393.5 659.0h1M396.4 660.5h1M393.0 673.1h1M397.7 661.9h1M404.1 673.6h1M399.1 667.9h1M384.4 675.7h1M408.3 668.9h1M378.6 686.1h1M399.1 659.3h1M404.4 657.1h1M403.0 657.8h1M396.3 670.5h1M402.3 657.6h1M402.3 678.6h1M399.5 640.5h1M402.1 658.0h1M396.2 657.7h1M397.1 675.7h1M392.7 666.9h1M384.0 668.0h1M394.0 676.1h1M388.6 678.2h1M400.5 667.6h1M408.0 659.7h1M397.7 652.3h1M392.6 678.1h1M394.2 675.2h1M400.2 653.8h1M400.3 666.0h1M398.5 657.2h1M397.4 687.3h1M393.1 684.0h1M398.3 671.0h1M403.4 674.4h1M390.5 681.8h1M388.5 678.8h1M399.5 673.4h1M399.7 673.1h1M406.4 658.3h1M392.4 681.9h1M400.4 665.9h1M404.4 653.7h1M401.2 675.3h1M400.4 664.3h1M397.3 668.7h1M389.1 666.1h1M399.7 660.3h1M397.6 655.6h1M401.6 659.4h1M399.7 661.8h1M387.9 674.6h1M404.9 682.0h1M399.8 651.6h1M390.2 656.7h1M394.4 670.2h1M397.0 667.3h1M404.2 659.9h1M402.0 654.5h1M395.6 670.3h1M399.7 667.3h1M389.9 663.9h1M410.1 655.4h1M405.9 660.9h1M388.1 687.5h1M406.9 645.7h1M411.5 656.0h1M407.7 669.1h1M402.1 662.8h1M384.2 666.6h1M391.3 677.1h1M408.5 653.8h1M405.0 666.7h1M386.3 676.0h1M402.3 658.7h1M398.6 682.8h1M401.4 663.7h1M404.0 648.3h1M405.8 657.8h1M393.1 664.1h1M389.0 683.0h1M389.3 670.5h1M403.2 653.8h1M409.6 657.5h1M405.3 657.0h1M401.4 663.7h1M388.0 677.9h1M396.3 671.7h1M427.9 630.7h1M420.7 657.2h1M428.4 632.2h1M423.7 653.3h1M419.6 648.4h1M426.6 624.4h1M422.2 651.2h1M417.0 613.5h1M428.0 657.6h1M418.0 623.5h1M424.4 632.7h1M412.9 622.4h1M418.2 645.3h1M425.6 616.9h1M431.7 645.1h1M427.4 616.4h1M429.7 628.3h1M425.3 618.5h1M424.7 655.2h1M427.4 663.6h1M422.6 660.3h1M421.4 648.4h1M422.1 625.2h1M426.5 626.3h1M427.9 658.8h1M424.9 635.2h1M436.4 652.0h1M424.7 647.6h1M419.4 669.8h1M414.3 694.6h1M423.2 681.4h1M425.4 675.0h1M423.9 685.9h1M424.1 684.5h1M424.8 699.3h1M423.7 683.1h1M424.7 687.6h1M423.9 683.7h1M429.5 678.7h1M424.8 678.9h1M423.4 684.1h1M426.8 671.6h1M434.9 682.0h1M412.5 681.7h1M418.9 693.2h1M422.9 690.9h1M426.1 686.0h1M426.6 686.7h1M422.5 694.3h1M417.8 682.5h1M415.0 677.3h1M418.9 681.1h1M430.4 677.6h1M418.5 688.4h1M422.9 683.4h1M421.5 690.6h1M425.3 677.6h1M429.5 671.1h1M419.3 700.3h1M422.6 682.6h1M413.1 693.2h1M419.3 666.3h1M428.6 677.2h1M418.6 683.9h1M422.5 690.6h1M425.5 701.5h1M416.8 672.6h1M422.6 695.6h1M413.3 687.1h1M418.2 679.3h1M421.4 672.5h1M422.0 693.3h1M427.1 698.1h1M425.0 686.1h1M421.2 674.3h1M424.1 679.3h1M415.6 695.7h1M424.0 670.5h1M413.5 677.6h1M413.9 693.1h1M417.4 685.7h1M424.5 694.8h1M422.3 697.9h1M425.6 693.3h1M420.3 698.2h1M419.6 673.4h1M420.6 676.7h1M413.1 676.2h1M427.8 684.9h1M434.4 687.0h1M432.8 696.3h1M419.8 692.6h1M424.1 688.9h1M420.9 684.7h1M421.5 692.4h1M414.8 690.3h1M428.5 680.7h1M424.9 691.8h1M422.6 678.6h1M419.3 693.4h1M418.1 683.4h1M424.2 681.9h1M417.4 682.8h1M421.9 681.9h1M419.7 690.6h1M421.8 671.2h1M428.7 678.4h1M426.9 687.5h1M421.0 680.3h1M471.6 664.0h1M464.5 654.3h1M480.1 667.4h1" stroke="#363636" stroke-width="1" stroke-opacity="0.47" fill="none" filter="url(#bl)"/>
<rect x="370.5" y="607.5" width="126.0" height="115.75" fill="none" stroke="#262626" stroke-width="1.4"/>
<line x1="416.8" y1="607.5" x2="416.8" y2="723.25" stroke="#262626" stroke-width="1.2"/>
<line x1="370.5" y1="677.7" x2="496.5" y2="677.7" stroke="#262626" stroke-width="1.2"/>
<text x="433.3" y="602.8" font-size="12" text-anchor="middle" font-weight="normal" fill="#1a1a1a" >V165-B</text>
<text x="415.40000000000003" y="621.3" font-size="10.3" text-anchor="end" font-weight="normal" fill="#1a1a1a" >20.5%</text>
<text x="492.2" y="621.3" font-size="10.3" text-anchor="end" font-weight="normal" fill="#1a1a1a" >1.1%</text>
<text x="415.40000000000003" y="719.3" font-size="10.3" text-anchor="end" font-weight="normal" fill="#1a1a1a" >76.8%</text>
<text x="492.2" y="719.3" font-size="10.3" text-anchor="end" font-weight="normal" fill="#1a1a1a" >1.5%</text>
<text x="362.80" y="743.2" font-size="10.3" fill="#1a1a1a">10<tspan dy="-4" font-size="6.5">0</tspan></text>
<text x="348.20" y="730.65" font-size="10.3" fill="#1a1a1a">10<tspan dy="-4" font-size="6.5">0</tspan></text>
<text x="394.30" y="743.2" font-size="10.3" fill="#1a1a1a">10<tspan dy="-4" font-size="6.5">1</tspan></text>
<text x="348.20" y="701.71" font-size="10.3" fill="#1a1a1a">10<tspan dy="-4" font-size="6.5">1</tspan></text>
<text x="425.80" y="743.2" font-size="10.3" fill="#1a1a1a">10<tspan dy="-4" font-size="6.5">2</tspan></text>
<text x="348.20" y="672.77" font-size="10.3" fill="#1a1a1a">10<tspan dy="-4" font-size="6.5">2</tspan></text>
<text x="457.30" y="743.2" font-size="10.3" fill="#1a1a1a">10<tspan dy="-4" font-size="6.5">3</tspan></text>
<text x="348.20" y="643.84" font-size="10.3" fill="#1a1a1a">10<tspan dy="-4" font-size="6.5">3</tspan></text>
<text x="488.80" y="743.2" font-size="10.3" fill="#1a1a1a">10<tspan dy="-4" font-size="6.5">4</tspan></text>
<text x="348.20" y="614.90" font-size="10.3" fill="#1a1a1a">10<tspan dy="-4" font-size="6.5">4</tspan></text>
<line x1="63.5" y1="757" x2="225.8" y2="757" stroke="#444" stroke-width="1.4"/>
<path d="M229.8 757L221.4 753.3L223.20000000000002 757L221.4 760.7Z" fill="#111"/>
<line x1="325" y1="757" x2="487.3" y2="757" stroke="#444" stroke-width="1.4"/>
<path d="M491.3 757L482.90000000000003 753.3L484.7 757L482.90000000000003 760.7Z" fill="#111"/>
<line x1="24.7" y1="645.6" x2="24.7" y2="624.6" stroke="#333" stroke-width="1.3"/>
<path d="M24.7 620.6L21.0 629.0L24.7 627.2L28.4 629.0Z" fill="#111"/>
<line x1="24.7" y1="702.7" x2="24.7" y2="681.6" stroke="#333" stroke-width="1.3"/>
<path d="M24.7 677.6L21.0 686.0L24.7 684.2L28.4 686.0Z" fill="#111"/>
<text x="251.3" y="760.8" font-size="12" text-anchor="start" font-weight="normal" fill="#1a1a1a" >Annexin V</text>
<text x="18.3" y="667" font-size="12" text-anchor="start" font-weight="normal" fill="#1a1a1a" >PI</text>
<text transform="translate(11.7,664.3) rotate(-90)" font-size="12.3" text-anchor="middle" fill="#1a1a1a">0.5 % FBS</text>
</svg>
</body></html>
